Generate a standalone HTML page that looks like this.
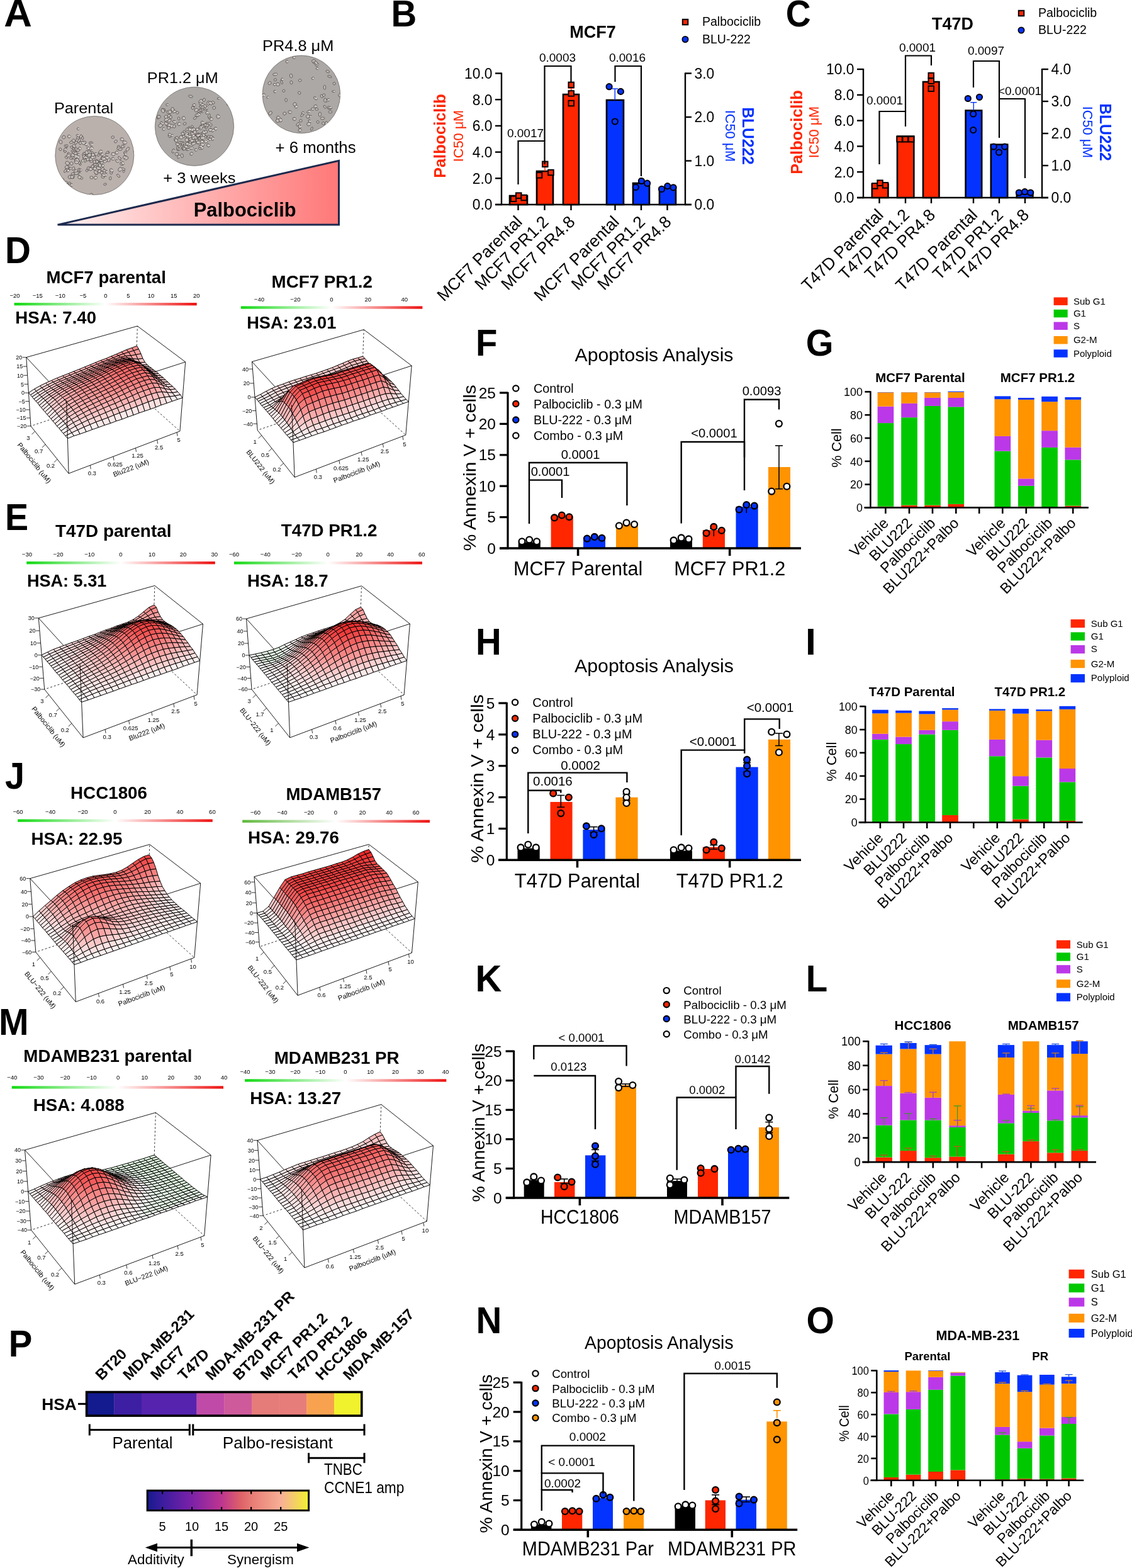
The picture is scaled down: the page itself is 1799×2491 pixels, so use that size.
<!DOCTYPE html>
<html><head><meta charset="utf-8"><title>Figure</title>
<style>html,body{margin:0;padding:0;background:#fff;}svg{display:block;}
text{font-family:"Liberation Sans",Arial,sans-serif;}.q0{fill:#f78c8c}.q1{fill:#f89f9f}.q2{fill:#f79292}.q3{fill:#fab2b2}.q4{fill:#f89898}.q5{fill:#fbc5c5}.q6{fill:#f9abab}.q7{fill:#fccccc}.q8{fill:#fab8b8}.q9{fill:#fcd3d3}.q10{fill:#f9a5a5}.q11{fill:#f68080}.q12{fill:#f57a7a}.q13{fill:#f68686}.q14{fill:#fbbfbf}.q15{fill:#f46e6e}.q16{fill:#f57474}.q17{fill:#f46868}.q18{fill:#f36262}.q19{fill:#fddada}.q20{fill:#fde1e1}.q21{fill:#fef0f0}.q22{fill:#fee9e9}.q23{fill:#fffafa}.q24{fill:#f35c5c}.q25{fill:#f25050}.q26{fill:#f14a4a}.q27{fill:#f25656}.q28{fill:#f14444}.q29{fill:#f03e3e}.q30{fill:#ecf9ec}.q31{fill:#e6f9e6}.q32{fill:#fafafa}.q33{fill:#f03939}.q34{fill:#ef3333}.q35{fill:#ef2d2d}.q36{fill:#ee2828}.q37{fill:#e0f8e0}</style></head>
<body><svg width="1799" height="2491" viewBox="0 0 1799 2491">
<rect width="1799" height="2491" fill="#fff"/>
<defs><linearGradient id="triG" x1="0" y1="0" x2="1" y2="0"><stop offset="0" stop-color="#FFF2F2"/><stop offset="0.5" stop-color="#FFB3B3"/><stop offset="1" stop-color="#FF7878"/></linearGradient><clipPath id="cA1"><circle cx="150.3" cy="247" r="62.5"/></clipPath><clipPath id="cA2"><circle cx="309" cy="200.8" r="62.6"/></clipPath><clipPath id="cA3"><circle cx="478.9" cy="149.9" r="61.8"/></clipPath></defs>
<circle cx="150.3" cy="247" r="62.5" fill="#BAB1AD" stroke="#6e6a68" stroke-width="0.8"/>
<g clip-path="url(#cA1)" fill="#c4bcb8" stroke="#4f4a47" stroke-width="0.75">
<ellipse rx="2.5" ry="2" transform="translate(145.1 249.3)rotate(95)"/>
<circle r="0.9" cx="146.5" cy="249.3" fill="#f4f2f0" stroke="none"/>
<ellipse rx="2.2" ry="2.3" transform="translate(214.7 240.9)rotate(114)"/>
<ellipse rx="3.3" ry="2.3" transform="translate(142.6 242.6)rotate(154)"/>
<circle r="0.9" cx="144.6" cy="242.6" fill="#f4f2f0" stroke="none"/>
<ellipse rx="3.1" ry="2.5" transform="translate(123.7 249.6)rotate(162)"/>
<circle r="0.9" cx="125.6" cy="249.6" fill="#f4f2f0" stroke="none"/>
<ellipse rx="2.4" ry="2.7" transform="translate(158 272)rotate(39)"/>
<ellipse rx="3.4" ry="1.6" transform="translate(117.7 237.2)rotate(43)"/>
<ellipse rx="2.3" ry="1.5" transform="translate(126.1 276.3)rotate(149)"/>
<circle r="0.9" cx="127.5" cy="276.3" fill="#f4f2f0" stroke="none"/>
<ellipse rx="3.2" ry="1.6" transform="translate(127.1 259.7)rotate(72)"/>
<ellipse rx="1.8" ry="1.7" transform="translate(172.3 242.2)rotate(122)"/>
<ellipse rx="3.5" ry="1.6" transform="translate(135.3 254.7)rotate(91)"/>
<ellipse rx="2.7" ry="2.4" transform="translate(114.4 250.3)rotate(34)"/>
<circle r="0.9" cx="116.1" cy="250.3" fill="#f4f2f0" stroke="none"/>
<ellipse rx="2" ry="1.5" transform="translate(196.7 272.1)rotate(99)"/>
<ellipse rx="2.8" ry="1.6" transform="translate(123.7 215.7)rotate(33)"/>
<circle r="0.9" cx="125.4" cy="215.7" fill="#f4f2f0" stroke="none"/>
<ellipse rx="3.3" ry="2.8" transform="translate(111.4 281.1)rotate(166)"/>
<circle r="0.9" cx="113.4" cy="281.1" fill="#f4f2f0" stroke="none"/>
<ellipse rx="1.9" ry="2.7" transform="translate(145.1 256.2)rotate(83)"/>
<ellipse rx="2.4" ry="2.1" transform="translate(188.5 233.3)rotate(92)"/>
<circle r="0.9" cx="189.9" cy="233.3" fill="#f4f2f0" stroke="none"/>
<ellipse rx="2.9" ry="1.4" transform="translate(157 246)rotate(126)"/>
<ellipse rx="2.1" ry="2" transform="translate(142.6 242.7)rotate(133)"/>
<circle r="0.9" cx="143.9" cy="242.7" fill="#f4f2f0" stroke="none"/>
<ellipse rx="2.2" ry="1.6" transform="translate(169 272.7)rotate(92)"/>
<circle r="0.9" cx="170.2" cy="272.7" fill="#f4f2f0" stroke="none"/>
<ellipse rx="3.4" ry="2.5" transform="translate(124.9 223.4)rotate(126)"/>
<ellipse rx="2.9" ry="2" transform="translate(125.1 272.8)rotate(107)"/>
<ellipse rx="3.6" ry="2.5" transform="translate(159.6 258.9)rotate(46)"/>
<ellipse rx="3.1" ry="2.5" transform="translate(188.9 235.7)rotate(146)"/>
<circle r="0.9" cx="190.8" cy="235.7" fill="#f4f2f0" stroke="none"/>
<ellipse rx="3.4" ry="2.6" transform="translate(159.1 259.6)rotate(125)"/>
<ellipse rx="3.2" ry="2" transform="translate(140.2 244)rotate(130)"/>
<circle r="0.9" cx="142.1" cy="244" fill="#f4f2f0" stroke="none"/>
<ellipse rx="2.4" ry="2.1" transform="translate(167.6 278)rotate(1)"/>
<circle r="0.9" cx="169" cy="278" fill="#f4f2f0" stroke="none"/>
<ellipse rx="2.9" ry="2.3" transform="translate(117.8 232)rotate(41)"/>
<ellipse rx="3" ry="1.9" transform="translate(116.4 267.7)rotate(118)"/>
<ellipse rx="2.8" ry="1.9" transform="translate(135.4 248)rotate(179)"/>
<ellipse rx="3.1" ry="2.5" transform="translate(193.7 260.1)rotate(176)"/>
<circle r="0.9" cx="195.5" cy="260.1" fill="#f4f2f0" stroke="none"/>
<ellipse rx="2.9" ry="2.4" transform="translate(161.4 265.8)rotate(46)"/>
<circle r="0.9" cx="163.1" cy="265.8" fill="#f4f2f0" stroke="none"/>
<ellipse rx="1.9" ry="1.7" transform="translate(131 255.5)rotate(67)"/>
<circle r="0.9" cx="132.1" cy="255.5" fill="#f4f2f0" stroke="none"/>
<ellipse rx="2.3" ry="2.7" transform="translate(163.6 280.8)rotate(99)"/>
<ellipse rx="3.5" ry="2.2" transform="translate(133.6 226.3)rotate(179)"/>
<ellipse rx="3.3" ry="1.5" transform="translate(107.1 294.9)rotate(107)"/>
<ellipse rx="1.9" ry="2.7" transform="translate(148.7 262.5)rotate(28)"/>
<circle r="0.9" cx="149.9" cy="262.5" fill="#f4f2f0" stroke="none"/>
<ellipse rx="2.1" ry="2.1" transform="translate(196.7 231.9)rotate(110)"/>
<circle r="0.9" cx="198" cy="231.9" fill="#f4f2f0" stroke="none"/>
<ellipse rx="3.5" ry="2" transform="translate(176.8 273.5)rotate(94)"/>
<ellipse rx="2.5" ry="1.8" transform="translate(124.6 256)rotate(117)"/>
<ellipse rx="2.3" ry="2.4" transform="translate(163 263.2)rotate(53)"/>
<circle r="0.9" cx="164.4" cy="263.2" fill="#f4f2f0" stroke="none"/>
<ellipse rx="2.2" ry="1.5" transform="translate(113.6 233.8)rotate(28)"/>
<ellipse rx="2.5" ry="2.7" transform="translate(126.3 281.6)rotate(134)"/>
<circle r="0.9" cx="127.8" cy="281.6" fill="#f4f2f0" stroke="none"/>
<ellipse rx="3.6" ry="2.7" transform="translate(146.8 266.6)rotate(13)"/>
<ellipse rx="2.6" ry="2.1" transform="translate(179.3 252.4)rotate(175)"/>
<circle r="0.9" cx="180.9" cy="252.4" fill="#f4f2f0" stroke="none"/>
<ellipse rx="2.7" ry="2.7" transform="translate(162.8 251.5)rotate(130)"/>
<circle r="0.9" cx="164.4" cy="251.5" fill="#f4f2f0" stroke="none"/>
<ellipse rx="3.6" ry="2.5" transform="translate(103.7 238.4)rotate(108)"/>
<circle r="0.9" cx="105.8" cy="238.4" fill="#f4f2f0" stroke="none"/>
<ellipse rx="2.9" ry="2" transform="translate(164.2 278.2)rotate(36)"/>
<circle r="0.9" cx="165.9" cy="278.2" fill="#f4f2f0" stroke="none"/>
<ellipse rx="2.8" ry="1.6" transform="translate(131.2 219.1)rotate(79)"/>
<ellipse rx="2.6" ry="1.8" transform="translate(114.5 281)rotate(104)"/>
<circle r="0.9" cx="116.1" cy="281" fill="#f4f2f0" stroke="none"/>
<ellipse rx="3.2" ry="2.1" transform="translate(144.5 227.1)rotate(179)"/>
<ellipse rx="3.1" ry="1.7" transform="translate(196 268.6)rotate(20)"/>
<ellipse rx="3.2" ry="2.3" transform="translate(161.7 244.9)rotate(64)"/>
<circle r="0.9" cx="163.6" cy="244.9" fill="#f4f2f0" stroke="none"/>
<ellipse rx="3" ry="2.2" transform="translate(118.3 250.4)rotate(106)"/>
<ellipse rx="3.2" ry="1.7" transform="translate(188.1 279.2)rotate(44)"/>
<ellipse rx="3.4" ry="2.6" transform="translate(116 246.3)rotate(7)"/>
<circle r="0.9" cx="118.1" cy="246.3" fill="#f4f2f0" stroke="none"/>
<ellipse rx="2.3" ry="2" transform="translate(113.6 293.9)rotate(112)"/>
<circle r="0.9" cx="115" cy="293.9" fill="#f4f2f0" stroke="none"/>
<ellipse rx="2.8" ry="1.5" transform="translate(138.9 247.2)rotate(15)"/>
<ellipse rx="2.8" ry="2.3" transform="translate(195.1 259.1)rotate(67)"/>
<circle r="0.9" cx="196.8" cy="259.1" fill="#f4f2f0" stroke="none"/>
<ellipse rx="2.2" ry="1.9" transform="translate(157.9 257.9)rotate(134)"/>
<ellipse rx="1.9" ry="1.6" transform="translate(103.4 240.5)rotate(145)"/>
<ellipse rx="3.2" ry="1.7" transform="translate(155.2 267)rotate(76)"/>
<circle r="0.9" cx="157.1" cy="267" fill="#f4f2f0" stroke="none"/>
<ellipse rx="3.3" ry="1.9" transform="translate(121 226.2)rotate(117)"/>
<ellipse rx="2.4" ry="2.2" transform="translate(122.9 275)rotate(134)"/>
<ellipse rx="2.6" ry="1.9" transform="translate(142.6 253.5)rotate(17)"/>
<ellipse rx="1.9" ry="1.5" transform="translate(192 253.1)rotate(101)"/>
<circle r="0.9" cx="193.1" cy="253.1" fill="#f4f2f0" stroke="none"/>
<ellipse rx="3" ry="1.8" transform="translate(145.9 252.2)rotate(139)"/>
<circle r="0.9" cx="147.7" cy="252.2" fill="#f4f2f0" stroke="none"/>
<ellipse rx="2.2" ry="2.3" transform="translate(108.2 265.1)rotate(14)"/>
<circle r="0.9" cx="109.5" cy="265.1" fill="#f4f2f0" stroke="none"/>
<ellipse rx="3.1" ry="2.4" transform="translate(177.1 270.7)rotate(50)"/>
<circle r="0.9" cx="179" cy="270.7" fill="#f4f2f0" stroke="none"/>
<ellipse rx="2.4" ry="2.4" transform="translate(109.7 216.7)rotate(65)"/>
<circle r="0.9" cx="111.2" cy="216.7" fill="#f4f2f0" stroke="none"/>
<ellipse rx="3.1" ry="2.2" transform="translate(116.3 276.3)rotate(165)"/>
<ellipse rx="3.4" ry="2" transform="translate(169.3 254.8)rotate(144)"/>
<circle r="0.9" cx="171.4" cy="254.8" fill="#f4f2f0" stroke="none"/>
<ellipse rx="2.4" ry="2" transform="translate(179.2 218)rotate(168)"/>
<ellipse rx="2.2" ry="1.9" transform="translate(166 256.7)rotate(65)"/>
<circle r="0.9" cx="167.3" cy="256.7" fill="#f4f2f0" stroke="none"/>
<ellipse rx="2.5" ry="1.9" transform="translate(105.6 250)rotate(35)"/>
<ellipse rx="3.2" ry="2.2" transform="translate(144.6 309.6)rotate(150)"/>
<ellipse rx="2.1" ry="2.5" transform="translate(126.7 235.9)rotate(158)"/>
<circle r="0.9" cx="127.9" cy="235.9" fill="#f4f2f0" stroke="none"/>
<ellipse rx="1.8" ry="2.1" transform="translate(112.6 251.4)rotate(97)"/>
<ellipse rx="3.5" ry="2.3" transform="translate(144.8 235.7)rotate(144)"/>
<circle r="0.9" cx="146.9" cy="235.7" fill="#f4f2f0" stroke="none"/>
<ellipse rx="2.8" ry="2.5" transform="translate(193.8 221.3)rotate(15)"/>
<circle r="0.9" cx="195.4" cy="221.3" fill="#f4f2f0" stroke="none"/>
<ellipse rx="3.1" ry="2.7" transform="translate(141.3 267.6)rotate(15)"/>
<ellipse rx="2.1" ry="2.4" transform="translate(140.2 235.5)rotate(116)"/>
<circle r="0.9" cx="141.4" cy="235.5" fill="#f4f2f0" stroke="none"/>
<ellipse rx="2.2" ry="2.5" transform="translate(145.4 282)rotate(93)"/>
<ellipse rx="2.5" ry="1.9" transform="translate(123.8 219.3)rotate(174)"/>
<ellipse rx="2.7" ry="2.2" transform="translate(107.1 266.7)rotate(129)"/>
<ellipse rx="3.4" ry="2" transform="translate(133.5 245)rotate(148)"/>
<ellipse rx="3.3" ry="2.5" transform="translate(200.7 251.3)rotate(150)"/>
<ellipse rx="3.5" ry="2.3" transform="translate(172.8 253.7)rotate(94)"/>
<ellipse rx="3.2" ry="2" transform="translate(121.3 237.6)rotate(75)"/>
<circle r="0.9" cx="123.2" cy="237.6" fill="#f4f2f0" stroke="none"/>
<ellipse rx="3.1" ry="2.8" transform="translate(160.3 258.7)rotate(67)"/>
<circle r="0.9" cx="162.2" cy="258.7" fill="#f4f2f0" stroke="none"/>
<ellipse rx="2.2" ry="2" transform="translate(95.9 237.2)rotate(52)"/>
<ellipse rx="1.9" ry="1.8" transform="translate(129.8 283)rotate(20)"/>
<ellipse rx="3.2" ry="1.7" transform="translate(160.3 254.9)rotate(11)"/>
<circle r="0.9" cx="162.2" cy="254.9" fill="#f4f2f0" stroke="none"/>
<ellipse rx="2.9" ry="2.7" transform="translate(179.8 244.9)rotate(6)"/>
<circle r="0.9" cx="181.5" cy="244.9" fill="#f4f2f0" stroke="none"/>
<ellipse rx="2.1" ry="1.7" transform="translate(147 242.8)rotate(42)"/>
<ellipse rx="2.9" ry="1.7" transform="translate(104.7 232.3)rotate(33)"/>
<circle r="0.9" cx="106.4" cy="232.3" fill="#f4f2f0" stroke="none"/>
<ellipse rx="2.1" ry="2.5" transform="translate(161.6 274.2)rotate(56)"/>
<ellipse rx="3.3" ry="2.1" transform="translate(109.7 245)rotate(46)"/>
<ellipse rx="3.4" ry="1.9" transform="translate(116.4 280.3)rotate(98)"/>
<ellipse rx="2.7" ry="1.7" transform="translate(159.1 243.5)rotate(8)"/>
<ellipse rx="3.2" ry="1.9" transform="translate(166.5 252)rotate(94)"/>
<ellipse rx="2.3" ry="2.8" transform="translate(143.7 268.6)rotate(118)"/>
<circle r="0.9" cx="145" cy="268.6" fill="#f4f2f0" stroke="none"/>
<ellipse rx="1.8" ry="2.1" transform="translate(126.3 258.7)rotate(66)"/>
<ellipse rx="3.1" ry="2.2" transform="translate(169.8 250.5)rotate(28)"/>
<circle r="0.9" cx="171.6" cy="250.5" fill="#f4f2f0" stroke="none"/>
<ellipse rx="2.4" ry="1.8" transform="translate(122.4 222.6)rotate(156)"/>
<ellipse rx="2.9" ry="2.8" transform="translate(106.5 269.5)rotate(47)"/>
<ellipse rx="2.1" ry="2.5" transform="translate(154.3 261.6)rotate(0)"/>
<ellipse rx="3.3" ry="2.6" transform="translate(198.2 226.4)rotate(14)"/>
<circle r="0.9" cx="200.2" cy="226.4" fill="#f4f2f0" stroke="none"/>
<ellipse rx="3.1" ry="1.5" transform="translate(144.7 229.4)rotate(86)"/>
<circle r="0.9" cx="146.6" cy="229.4" fill="#f4f2f0" stroke="none"/>
<ellipse rx="3.5" ry="2.2" transform="translate(121.6 254.4)rotate(154)"/>
<circle r="0.9" cx="123.7" cy="254.4" fill="#f4f2f0" stroke="none"/>
<ellipse rx="3.2" ry="2" transform="translate(153.5 275.2)rotate(165)"/>
<circle r="0.9" cx="155.5" cy="275.2" fill="#f4f2f0" stroke="none"/>
<ellipse rx="3.3" ry="1.7" transform="translate(117.2 240.5)rotate(97)"/>
<ellipse rx="2.1" ry="2.6" transform="translate(105.8 265.3)rotate(56)"/>
<circle r="0.9" cx="107" cy="265.3" fill="#f4f2f0" stroke="none"/>
<ellipse rx="1.9" ry="1.8" transform="translate(138 270.9)rotate(84)"/>
<ellipse rx="2.4" ry="2.4" transform="translate(199 242.7)rotate(19)"/>
<circle r="0.9" cx="200.5" cy="242.7" fill="#f4f2f0" stroke="none"/>
<ellipse rx="2.6" ry="2.8" transform="translate(153.4 255.9)rotate(149)"/>
<ellipse rx="1.8" ry="1.9" transform="translate(124.9 245.8)rotate(127)"/>
<circle r="0.9" cx="126" cy="245.8" fill="#f4f2f0" stroke="none"/>
<ellipse rx="2.8" ry="2" transform="translate(158.1 259.3)rotate(1)"/>
<ellipse rx="3.2" ry="1.7" transform="translate(108 247.3)rotate(110)"/>
<circle r="0.9" cx="109.9" cy="247.3" fill="#f4f2f0" stroke="none"/>
<ellipse rx="2.5" ry="2.2" transform="translate(120.2 274.8)rotate(53)"/>
<circle r="0.9" cx="121.7" cy="274.8" fill="#f4f2f0" stroke="none"/>
<ellipse rx="2.5" ry="2.3" transform="translate(143.9 252.9)rotate(46)"/>
<circle r="0.9" cx="145.4" cy="252.9" fill="#f4f2f0" stroke="none"/>
<ellipse rx="3.1" ry="1.9" transform="translate(191.2 237.1)rotate(170)"/>
<ellipse rx="3.1" ry="1.9" transform="translate(153.1 257.2)rotate(148)"/>
<circle r="0.9" cx="154.9" cy="257.2" fill="#f4f2f0" stroke="none"/>
<ellipse rx="2.1" ry="1.5" transform="translate(114.8 239.7)rotate(121)"/>
<ellipse rx="2.1" ry="2" transform="translate(151.1 261.3)rotate(150)"/>
<ellipse rx="2" ry="1.7" transform="translate(124.2 204.7)rotate(28)"/>
<circle r="0.9" cx="125.4" cy="204.7" fill="#f4f2f0" stroke="none"/>
<ellipse rx="2.5" ry="1.5" transform="translate(111.6 267.6)rotate(165)"/>
<circle r="0.9" cx="113.2" cy="267.6" fill="#f4f2f0" stroke="none"/>
<ellipse rx="2.7" ry="2.3" transform="translate(139.5 253.3)rotate(138)"/>
<ellipse rx="2.5" ry="1.9" transform="translate(199.4 244.8)rotate(74)"/>
<circle r="0.9" cx="200.9" cy="244.8" fill="#f4f2f0" stroke="none"/>
<ellipse rx="2.5" ry="2.4" transform="translate(149.5 248.1)rotate(176)"/>
<ellipse rx="3" ry="2.3" transform="translate(121.3 257.7)rotate(3)"/>
<circle r="0.9" cx="123.1" cy="257.7" fill="#f4f2f0" stroke="none"/>
<ellipse rx="2.4" ry="2.3" transform="translate(157.5 260.5)rotate(19)"/>
<circle r="0.9" cx="158.9" cy="260.5" fill="#f4f2f0" stroke="none"/>
<ellipse rx="2.7" ry="2.5" transform="translate(101.4 218)rotate(148)"/>
<ellipse rx="2.1" ry="2.5" transform="translate(99.7 285.8)rotate(162)"/>
<ellipse rx="2.4" ry="2.1" transform="translate(149.9 249.7)rotate(25)"/>
<ellipse rx="3.6" ry="2.1" transform="translate(202.9 237)rotate(128)"/>
<ellipse rx="2.2" ry="2.7" transform="translate(159 263.2)rotate(112)"/>
<circle r="0.9" cx="160.3" cy="263.2" fill="#f4f2f0" stroke="none"/>
<ellipse rx="1.9" ry="1.7" transform="translate(106.3 231.5)rotate(103)"/>
<ellipse rx="2.4" ry="2.7" transform="translate(151.8 282.3)rotate(65)"/>
<circle r="0.9" cx="153.2" cy="282.3" fill="#f4f2f0" stroke="none"/>
<ellipse rx="2" ry="2.8" transform="translate(128.6 216.8)rotate(24)"/>
<ellipse rx="2.8" ry="2.2" transform="translate(125.6 270)rotate(100)"/>
<circle r="0.9" cx="127.3" cy="270" fill="#f4f2f0" stroke="none"/>
<ellipse rx="3.4" ry="2.8" transform="translate(142 246.4)rotate(147)"/>
<ellipse rx="2" ry="2.6" transform="translate(184 224.7)rotate(51)"/>
<ellipse rx="2.2" ry="2.2" transform="translate(140.3 241.5)rotate(149)"/>
<circle r="0.9" cx="141.7" cy="241.5" fill="#f4f2f0" stroke="none"/>
<ellipse rx="2.8" ry="1.5" transform="translate(127.9 270.2)rotate(5)"/>
<circle r="0.9" cx="129.6" cy="270.2" fill="#f4f2f0" stroke="none"/>
<ellipse rx="3.6" ry="2.7" transform="translate(190.7 269.1)rotate(118)"/>
<circle r="0.9" cx="192.8" cy="269.1" fill="#f4f2f0" stroke="none"/>
<ellipse rx="3" ry="2.4" transform="translate(96.5 225.5)rotate(68)"/>
<ellipse rx="3.2" ry="1.4" transform="translate(104.5 295.2)rotate(35)"/>
<circle r="0.9" cx="106.5" cy="295.2" fill="#f4f2f0" stroke="none"/>
<ellipse rx="2.1" ry="1.9" transform="translate(152.2 244.5)rotate(102)"/>
<circle r="0.9" cx="153.4" cy="244.5" fill="#f4f2f0" stroke="none"/>
<ellipse rx="2.7" ry="1.8" transform="translate(197.4 249.7)rotate(102)"/>
<circle r="0.9" cx="199" cy="249.7" fill="#f4f2f0" stroke="none"/>
<ellipse rx="3" ry="1.5" transform="translate(133.7 249)rotate(120)"/>
<circle r="0.9" cx="135.5" cy="249" fill="#f4f2f0" stroke="none"/>
<ellipse rx="3.5" ry="2.2" transform="translate(120.2 248.2)rotate(84)"/>
<circle r="0.9" cx="122.3" cy="248.2" fill="#f4f2f0" stroke="none"/>
<ellipse rx="2.9" ry="2.4" transform="translate(163.1 269)rotate(136)"/>
<ellipse rx="2.7" ry="2.8" transform="translate(116.8 223.6)rotate(150)"/>
<ellipse rx="2.5" ry="2" transform="translate(105 290.2)rotate(101)"/>
<ellipse rx="2.7" ry="2.1" transform="translate(150 256.9)rotate(77)"/>
<ellipse rx="2.4" ry="1.5" transform="translate(170.5 242.2)rotate(130)"/>
<ellipse rx="3.1" ry="2.2" transform="translate(159.7 240.9)rotate(135)"/>
<circle r="0.9" cx="161.6" cy="240.9" fill="#f4f2f0" stroke="none"/>
<ellipse rx="2.9" ry="1.5" transform="translate(134.4 243.9)rotate(22)"/>
<circle r="0.9" cx="136.1" cy="243.9" fill="#f4f2f0" stroke="none"/>
<ellipse rx="2.7" ry="2" transform="translate(165.9 271.2)rotate(9)"/>
<ellipse rx="2.7" ry="1.7" transform="translate(117.1 242.6)rotate(55)"/>
<circle r="0.9" cx="118.8" cy="242.6" fill="#f4f2f0" stroke="none"/>
<ellipse rx="2.2" ry="1.5" transform="translate(110.2 290.7)rotate(164)"/>
<ellipse rx="3" ry="2.6" transform="translate(137.8 242.3)rotate(75)"/>
<ellipse rx="2.2" ry="2.4" transform="translate(195 232.7)rotate(102)"/>
<ellipse rx="2" ry="2.5" transform="translate(147.1 264.3)rotate(22)"/>
<ellipse rx="3.5" ry="1.4" transform="translate(135.6 229.2)rotate(43)"/>
<circle r="0.9" cx="137.7" cy="229.2" fill="#f4f2f0" stroke="none"/>
<ellipse rx="2.4" ry="1.5" transform="translate(167 292.7)rotate(161)"/>
<ellipse rx="2.5" ry="1.9" transform="translate(127.5 227.2)rotate(105)"/>
<circle r="0.9" cx="129" cy="227.2" fill="#f4f2f0" stroke="none"/>
<ellipse rx="1.9" ry="2.7" transform="translate(108.1 270.9)rotate(55)"/>
<circle r="0.9" cx="109.2" cy="270.9" fill="#f4f2f0" stroke="none"/>
<ellipse rx="3.5" ry="2.8" transform="translate(133.9 249.4)rotate(85)"/>
<circle r="0.9" cx="136" cy="249.4" fill="#f4f2f0" stroke="none"/>
<ellipse rx="2.3" ry="2.7" transform="translate(185.4 242.4)rotate(161)"/>
<circle r="0.9" cx="186.8" cy="242.4" fill="#f4f2f0" stroke="none"/>
<ellipse rx="3.3" ry="1.9" transform="translate(163.6 252.2)rotate(85)"/>
<circle r="0.9" cx="165.5" cy="252.2" fill="#f4f2f0" stroke="none"/>
<ellipse rx="3.4" ry="2.8" transform="translate(107.2 259.2)rotate(36)"/>
<ellipse rx="2.1" ry="2.6" transform="translate(150.3 267.9)rotate(9)"/>
<circle r="0.9" cx="151.6" cy="267.9" fill="#f4f2f0" stroke="none"/>
<ellipse rx="3.1" ry="1.8" transform="translate(113.4 226.1)rotate(162)"/>
<ellipse rx="3.1" ry="1.6" transform="translate(103.8 271.4)rotate(125)"/>
<ellipse rx="2.6" ry="1.5" transform="translate(169.3 245.8)rotate(40)"/>
<circle r="0.9" cx="170.9" cy="245.8" fill="#f4f2f0" stroke="none"/>
<ellipse rx="3.1" ry="1.7" transform="translate(186 255.9)rotate(32)"/>
<circle r="0.9" cx="187.8" cy="255.9" fill="#f4f2f0" stroke="none"/>
<ellipse rx="3" ry="2.5" transform="translate(158.9 262.8)rotate(67)"/>
<ellipse rx="3.4" ry="2.2" transform="translate(131.9 227.1)rotate(41)"/>
<circle r="0.9" cx="133.9" cy="227.1" fill="#f4f2f0" stroke="none"/>
<ellipse rx="3.5" ry="2.3" transform="translate(152.5 274)rotate(49)"/>
<ellipse rx="2" ry="2.8" transform="translate(120.1 243.5)rotate(79)"/>
<ellipse rx="2.8" ry="1.5" transform="translate(119.5 271.6)rotate(107)"/>
<circle r="0.9" cx="121.1" cy="271.6" fill="#f4f2f0" stroke="none"/>
<ellipse rx="2.3" ry="2.5" transform="translate(146.6 250)rotate(15)"/>
<circle r="0.9" cx="147.9" cy="250" fill="#f4f2f0" stroke="none"/>
<ellipse rx="3.2" ry="1.7" transform="translate(190 251.2)rotate(50)"/>
<ellipse rx="2.1" ry="2.7" transform="translate(147.4 246)rotate(177)"/>
<circle r="0.9" cx="148.7" cy="246" fill="#f4f2f0" stroke="none"/>
<ellipse rx="2.6" ry="2.5" transform="translate(113.6 259.7)rotate(69)"/>
<ellipse rx="2.7" ry="1.7" transform="translate(175.3 283.2)rotate(100)"/>
<ellipse rx="2.4" ry="2.3" transform="translate(123.9 238.7)rotate(140)"/>
<ellipse rx="2.7" ry="2.6" transform="translate(114.5 281.1)rotate(123)"/>
<ellipse rx="3.5" ry="1.6" transform="translate(135 250.1)rotate(140)"/>
<circle r="0.9" cx="137.1" cy="250.1" fill="#f4f2f0" stroke="none"/>
</g>
<circle cx="309" cy="200.8" r="62.6" fill="#ABA8A6" stroke="#6e6a68" stroke-width="0.8"/>
<g clip-path="url(#cA2)" fill="#c4bcb8" stroke="#4f4a47" stroke-width="0.75">
<ellipse rx="3.6" ry="2.3" transform="translate(313.8 223.7)rotate(30)"/>
<circle r="0.9" cx="315.9" cy="223.7" fill="#f4f2f0" stroke="none"/>
<ellipse rx="2.3" ry="2.6" transform="translate(335.7 189.2)rotate(41)"/>
<circle r="0.9" cx="337.1" cy="189.2" fill="#f4f2f0" stroke="none"/>
<ellipse rx="2.9" ry="2.3" transform="translate(284.5 196.9)rotate(106)"/>
<circle r="0.9" cx="286.2" cy="196.9" fill="#f4f2f0" stroke="none"/>
<ellipse rx="3.5" ry="2" transform="translate(303.7 235.3)rotate(168)"/>
<circle r="0.9" cx="305.8" cy="235.3" fill="#f4f2f0" stroke="none"/>
<ellipse rx="2.6" ry="1.9" transform="translate(320.1 218.9)rotate(128)"/>
<ellipse rx="2.2" ry="2.1" transform="translate(315.2 213.2)rotate(130)"/>
<ellipse rx="3" ry="2.3" transform="translate(328.7 223.4)rotate(128)"/>
<circle r="0.9" cx="330.5" cy="223.4" fill="#f4f2f0" stroke="none"/>
<ellipse rx="2.4" ry="1.4" transform="translate(318.9 169.2)rotate(160)"/>
<ellipse rx="2.5" ry="2.8" transform="translate(291.8 187.7)rotate(162)"/>
<circle r="0.9" cx="293.3" cy="187.7" fill="#f4f2f0" stroke="none"/>
<ellipse rx="3.3" ry="2" transform="translate(297.7 235.3)rotate(56)"/>
<circle r="0.9" cx="299.7" cy="235.3" fill="#f4f2f0" stroke="none"/>
<ellipse rx="2.5" ry="1.5" transform="translate(331.8 216.6)rotate(9)"/>
<circle r="0.9" cx="333.3" cy="216.6" fill="#f4f2f0" stroke="none"/>
<ellipse rx="2.4" ry="1.6" transform="translate(309.5 210.5)rotate(21)"/>
<ellipse rx="2.5" ry="2.1" transform="translate(305.6 211.3)rotate(108)"/>
<ellipse rx="2.1" ry="1.7" transform="translate(332.9 186.7)rotate(154)"/>
<ellipse rx="3.5" ry="2.1" transform="translate(257.1 196.3)rotate(66)"/>
<circle r="0.9" cx="259.2" cy="196.3" fill="#f4f2f0" stroke="none"/>
<ellipse rx="3.4" ry="2.5" transform="translate(279.2 221.1)rotate(99)"/>
<ellipse rx="2.3" ry="2.1" transform="translate(323.7 211.4)rotate(163)"/>
<circle r="0.9" cx="325.1" cy="211.4" fill="#f4f2f0" stroke="none"/>
<ellipse rx="2.9" ry="1.7" transform="translate(310 187.4)rotate(150)"/>
<ellipse rx="3" ry="2" transform="translate(322.3 212.3)rotate(3)"/>
<circle r="0.9" cx="324.1" cy="212.3" fill="#f4f2f0" stroke="none"/>
<ellipse rx="2.4" ry="2" transform="translate(317.3 177.4)rotate(13)"/>
<ellipse rx="2.7" ry="2.2" transform="translate(260.3 175)rotate(151)"/>
<ellipse rx="2.8" ry="2.2" transform="translate(295.1 233.1)rotate(152)"/>
<circle r="0.9" cx="296.8" cy="233.1" fill="#f4f2f0" stroke="none"/>
<ellipse rx="3.4" ry="1.4" transform="translate(317.4 219.3)rotate(143)"/>
<ellipse rx="2.9" ry="2.8" transform="translate(318.7 203.3)rotate(39)"/>
<circle r="0.9" cx="320.5" cy="203.3" fill="#f4f2f0" stroke="none"/>
<ellipse rx="3.2" ry="2.4" transform="translate(326.3 218.1)rotate(94)"/>
<ellipse rx="3" ry="2.6" transform="translate(311.9 174.9)rotate(117)"/>
<circle r="0.9" cx="313.7" cy="174.9" fill="#f4f2f0" stroke="none"/>
<ellipse rx="2.3" ry="1.5" transform="translate(268.1 200.9)rotate(22)"/>
<circle r="0.9" cx="269.5" cy="200.9" fill="#f4f2f0" stroke="none"/>
<ellipse rx="3.6" ry="1.6" transform="translate(275.2 239.8)rotate(108)"/>
<circle r="0.9" cx="277.4" cy="239.8" fill="#f4f2f0" stroke="none"/>
<ellipse rx="3.5" ry="2.1" transform="translate(336.5 217.8)rotate(31)"/>
<ellipse rx="3.3" ry="2.8" transform="translate(321.3 229.7)rotate(40)"/>
<circle r="0.9" cx="323.3" cy="229.7" fill="#f4f2f0" stroke="none"/>
<ellipse rx="3" ry="1.8" transform="translate(315.1 216.6)rotate(102)"/>
<ellipse rx="3.2" ry="2.6" transform="translate(315.1 182.1)rotate(135)"/>
<circle r="0.9" cx="317" cy="182.1" fill="#f4f2f0" stroke="none"/>
<ellipse rx="3.2" ry="2" transform="translate(277.3 193.6)rotate(30)"/>
<circle r="0.9" cx="279.2" cy="193.6" fill="#f4f2f0" stroke="none"/>
<ellipse rx="2.9" ry="1.9" transform="translate(291.4 236.4)rotate(16)"/>
<circle r="0.9" cx="293.2" cy="236.4" fill="#f4f2f0" stroke="none"/>
<ellipse rx="2.5" ry="1.9" transform="translate(299.1 213.7)rotate(101)"/>
<ellipse rx="2.8" ry="2.8" transform="translate(287.7 218.1)rotate(162)"/>
<circle r="0.9" cx="289.4" cy="218.1" fill="#f4f2f0" stroke="none"/>
<ellipse rx="3.4" ry="1.8" transform="translate(318.7 235.6)rotate(168)"/>
<circle r="0.9" cx="320.8" cy="235.6" fill="#f4f2f0" stroke="none"/>
<ellipse rx="2.4" ry="2.7" transform="translate(319.1 174.7)rotate(119)"/>
<ellipse rx="2.2" ry="1.6" transform="translate(265.9 166.4)rotate(172)"/>
<circle r="0.9" cx="267.2" cy="166.4" fill="#f4f2f0" stroke="none"/>
<ellipse rx="2.1" ry="2" transform="translate(297.6 228.4)rotate(147)"/>
<ellipse rx="3.6" ry="2.5" transform="translate(327 200)rotate(78)"/>
<ellipse rx="2.4" ry="1.5" transform="translate(314.2 216.3)rotate(172)"/>
<ellipse rx="3" ry="2.1" transform="translate(321.1 218.3)rotate(36)"/>
<circle r="0.9" cx="322.9" cy="218.3" fill="#f4f2f0" stroke="none"/>
<ellipse rx="1.9" ry="1.5" transform="translate(361.8 165.6)rotate(86)"/>
<ellipse rx="3.5" ry="2.1" transform="translate(263.8 189.8)rotate(121)"/>
<circle r="0.9" cx="265.9" cy="189.8" fill="#f4f2f0" stroke="none"/>
<ellipse rx="3.2" ry="2.4" transform="translate(281 244.8)rotate(177)"/>
<ellipse rx="3" ry="2.2" transform="translate(333.2 196.5)rotate(30)"/>
<circle r="0.9" cx="335" cy="196.5" fill="#f4f2f0" stroke="none"/>
<ellipse rx="2.6" ry="1.6" transform="translate(315.8 227.9)rotate(36)"/>
<circle r="0.9" cx="317.3" cy="227.9" fill="#f4f2f0" stroke="none"/>
<ellipse rx="2.1" ry="2.3" transform="translate(292 216.7)rotate(59)"/>
<ellipse rx="3" ry="2.1" transform="translate(321.5 195.2)rotate(78)"/>
<circle r="0.9" cx="323.4" cy="195.2" fill="#f4f2f0" stroke="none"/>
<ellipse rx="2.2" ry="2.7" transform="translate(271.1 185.9)rotate(164)"/>
<ellipse rx="3" ry="1.6" transform="translate(283.6 248.9)rotate(97)"/>
<circle r="0.9" cx="285.4" cy="248.9" fill="#f4f2f0" stroke="none"/>
<ellipse rx="2.4" ry="2.2" transform="translate(321.2 234.8)rotate(30)"/>
<circle r="0.9" cx="322.6" cy="234.8" fill="#f4f2f0" stroke="none"/>
<ellipse rx="3.1" ry="2.1" transform="translate(297.8 213.4)rotate(160)"/>
<circle r="0.9" cx="299.6" cy="213.4" fill="#f4f2f0" stroke="none"/>
<ellipse rx="2" ry="2.7" transform="translate(304.7 207.5)rotate(109)"/>
<ellipse rx="2.8" ry="1.6" transform="translate(321.8 177.4)rotate(175)"/>
<circle r="0.9" cx="323.5" cy="177.4" fill="#f4f2f0" stroke="none"/>
<ellipse rx="3.4" ry="1.6" transform="translate(259.5 174.9)rotate(49)"/>
<ellipse rx="2.2" ry="2.6" transform="translate(304.2 244.3)rotate(46)"/>
<circle r="0.9" cx="305.6" cy="244.3" fill="#f4f2f0" stroke="none"/>
<ellipse rx="2.1" ry="1.8" transform="translate(318.8 213.5)rotate(170)"/>
<ellipse rx="3" ry="2" transform="translate(286.9 226.7)rotate(7)"/>
<ellipse rx="2" ry="1.7" transform="translate(292.9 209.1)rotate(78)"/>
<ellipse rx="2.1" ry="1.5" transform="translate(347.4 156.4)rotate(163)"/>
<circle r="0.9" cx="348.7" cy="156.4" fill="#f4f2f0" stroke="none"/>
<ellipse rx="3.1" ry="1.6" transform="translate(266.9 178.8)rotate(53)"/>
<circle r="0.9" cx="268.7" cy="178.8" fill="#f4f2f0" stroke="none"/>
<ellipse rx="2.6" ry="2.7" transform="translate(269.8 215.9)rotate(151)"/>
<ellipse rx="2" ry="1.6" transform="translate(329.1 196.1)rotate(53)"/>
<ellipse rx="3.4" ry="1.4" transform="translate(308.2 223.3)rotate(60)"/>
<ellipse rx="2.1" ry="1.5" transform="translate(305.6 201)rotate(47)"/>
<ellipse rx="2.3" ry="2.4" transform="translate(340.2 171.3)rotate(21)"/>
<ellipse rx="2.1" ry="2.2" transform="translate(281.8 179)rotate(133)"/>
<ellipse rx="2.6" ry="2.8" transform="translate(307.9 214)rotate(73)"/>
<ellipse rx="3.4" ry="2.8" transform="translate(307.4 205.6)rotate(19)"/>
<circle r="0.9" cx="309.4" cy="205.6" fill="#f4f2f0" stroke="none"/>
<ellipse rx="3.1" ry="2.6" transform="translate(310.6 218.3)rotate(46)"/>
<ellipse rx="2.7" ry="1.4" transform="translate(301.2 221.9)rotate(15)"/>
<circle r="0.9" cx="302.8" cy="221.9" fill="#f4f2f0" stroke="none"/>
<ellipse rx="2.2" ry="2.7" transform="translate(338.5 162.9)rotate(122)"/>
<ellipse rx="3.4" ry="1.9" transform="translate(251.8 186)rotate(125)"/>
<ellipse rx="3" ry="1.5" transform="translate(298.5 237.3)rotate(159)"/>
<circle r="0.9" cx="300.3" cy="237.3" fill="#f4f2f0" stroke="none"/>
<ellipse rx="2.6" ry="2.4" transform="translate(322.5 199.5)rotate(134)"/>
<ellipse rx="2.4" ry="1.8" transform="translate(314.4 225.8)rotate(130)"/>
<circle r="0.9" cx="315.8" cy="225.8" fill="#f4f2f0" stroke="none"/>
<ellipse rx="3.4" ry="1.8" transform="translate(299.6 229.1)rotate(70)"/>
<circle r="0.9" cx="301.6" cy="229.1" fill="#f4f2f0" stroke="none"/>
<ellipse rx="3.1" ry="1.6" transform="translate(326.5 173.1)rotate(24)"/>
<circle r="0.9" cx="328.3" cy="173.1" fill="#f4f2f0" stroke="none"/>
<ellipse rx="2" ry="2.3" transform="translate(259.9 205)rotate(178)"/>
<circle r="0.9" cx="261.1" cy="205" fill="#f4f2f0" stroke="none"/>
<ellipse rx="2.6" ry="1.9" transform="translate(290.1 212.4)rotate(55)"/>
<circle r="0.9" cx="291.7" cy="212.4" fill="#f4f2f0" stroke="none"/>
<ellipse rx="2" ry="2" transform="translate(335 205.6)rotate(47)"/>
<circle r="0.9" cx="336.2" cy="205.6" fill="#f4f2f0" stroke="none"/>
<ellipse rx="2" ry="2.7" transform="translate(326.2 217.2)rotate(129)"/>
<ellipse rx="3.3" ry="2.4" transform="translate(300.5 216.9)rotate(40)"/>
<circle r="0.9" cx="302.5" cy="216.9" fill="#f4f2f0" stroke="none"/>
<ellipse rx="3.6" ry="2.4" transform="translate(318.8 161)rotate(130)"/>
<circle r="0.9" cx="320.9" cy="161" fill="#f4f2f0" stroke="none"/>
<ellipse rx="3.2" ry="2.1" transform="translate(266.8 199.3)rotate(15)"/>
<circle r="0.9" cx="268.8" cy="199.3" fill="#f4f2f0" stroke="none"/>
<ellipse rx="3.5" ry="2.3" transform="translate(290.4 227.5)rotate(16)"/>
<circle r="0.9" cx="292.6" cy="227.5" fill="#f4f2f0" stroke="none"/>
<ellipse rx="3.2" ry="1.9" transform="translate(320.2 216.3)rotate(86)"/>
<circle r="0.9" cx="322.1" cy="216.3" fill="#f4f2f0" stroke="none"/>
<ellipse rx="2.1" ry="2.1" transform="translate(317.5 225.7)rotate(76)"/>
<circle r="0.9" cx="318.8" cy="225.7" fill="#f4f2f0" stroke="none"/>
<ellipse rx="2.1" ry="2" transform="translate(311.2 238)rotate(20)"/>
<circle r="0.9" cx="312.4" cy="238" fill="#f4f2f0" stroke="none"/>
<ellipse rx="2.7" ry="1.5" transform="translate(307.1 169.4)rotate(132)"/>
<ellipse rx="3.1" ry="2.7" transform="translate(272.4 200)rotate(29)"/>
<circle r="0.9" cx="274.2" cy="200" fill="#f4f2f0" stroke="none"/>
<ellipse rx="2.5" ry="1.5" transform="translate(273.1 215.3)rotate(154)"/>
<circle r="0.9" cx="274.7" cy="215.3" fill="#f4f2f0" stroke="none"/>
<ellipse rx="3.6" ry="2.3" transform="translate(325.7 221.5)rotate(177)"/>
<circle r="0.9" cx="327.9" cy="221.5" fill="#f4f2f0" stroke="none"/>
<ellipse rx="3.4" ry="2.7" transform="translate(326.4 199.1)rotate(140)"/>
<ellipse rx="3" ry="2.1" transform="translate(308.6 227.7)rotate(153)"/>
<ellipse rx="2.8" ry="2" transform="translate(324.3 158.8)rotate(113)"/>
<ellipse rx="3.5" ry="2.5" transform="translate(258.9 175.9)rotate(59)"/>
<ellipse rx="2.2" ry="2.1" transform="translate(302.5 225.7)rotate(94)"/>
<ellipse rx="1.9" ry="1.6" transform="translate(321.5 200.7)rotate(32)"/>
<ellipse rx="2.1" ry="2.2" transform="translate(313.1 205.6)rotate(158)"/>
<circle r="0.9" cx="314.3" cy="205.6" fill="#f4f2f0" stroke="none"/>
<ellipse rx="2.2" ry="2.2" transform="translate(296.7 214.6)rotate(74)"/>
<circle r="0.9" cx="298" cy="214.6" fill="#f4f2f0" stroke="none"/>
<ellipse rx="2.1" ry="2.4" transform="translate(321.6 174.9)rotate(62)"/>
<ellipse rx="2.7" ry="2.4" transform="translate(268.2 203)rotate(166)"/>
<ellipse rx="1.8" ry="2.7" transform="translate(289.2 231.3)rotate(18)"/>
<ellipse rx="3.2" ry="1.8" transform="translate(328.6 201.5)rotate(128)"/>
<ellipse rx="2.6" ry="2.3" transform="translate(327.3 209.3)rotate(82)"/>
<ellipse rx="3.1" ry="1.4" transform="translate(290.2 228.5)rotate(115)"/>
<ellipse rx="3.4" ry="2.2" transform="translate(331.1 163.8)rotate(97)"/>
<circle r="0.9" cx="333.1" cy="163.8" fill="#f4f2f0" stroke="none"/>
<ellipse rx="2.2" ry="2.7" transform="translate(276.8 200.7)rotate(11)"/>
<ellipse rx="2" ry="1.9" transform="translate(297.2 215.8)rotate(112)"/>
<circle r="0.9" cx="298.4" cy="215.8" fill="#f4f2f0" stroke="none"/>
<ellipse rx="2.6" ry="2.5" transform="translate(328.1 199)rotate(69)"/>
<circle r="0.9" cx="329.6" cy="199" fill="#f4f2f0" stroke="none"/>
<ellipse rx="1.9" ry="2.7" transform="translate(308 209.3)rotate(18)"/>
<ellipse rx="2.9" ry="1.8" transform="translate(298.1 220.3)rotate(100)"/>
<ellipse rx="2.2" ry="1.7" transform="translate(315.5 176.6)rotate(166)"/>
<circle r="0.9" cx="316.8" cy="176.6" fill="#f4f2f0" stroke="none"/>
<ellipse rx="2.7" ry="2" transform="translate(268.4 183.7)rotate(140)"/>
<ellipse rx="3.2" ry="2.3" transform="translate(291.5 235.8)rotate(97)"/>
<circle r="0.9" cx="293.4" cy="235.8" fill="#f4f2f0" stroke="none"/>
<ellipse rx="2.8" ry="2" transform="translate(338.4 207.3)rotate(136)"/>
<circle r="0.9" cx="340.1" cy="207.3" fill="#f4f2f0" stroke="none"/>
<ellipse rx="2" ry="1.9" transform="translate(333.2 221.5)rotate(149)"/>
<circle r="0.9" cx="334.4" cy="221.5" fill="#f4f2f0" stroke="none"/>
<ellipse rx="3" ry="1.5" transform="translate(320.6 200.5)rotate(39)"/>
<circle r="0.9" cx="322.4" cy="200.5" fill="#f4f2f0" stroke="none"/>
<ellipse rx="2.7" ry="1.6" transform="translate(312.6 182.9)rotate(170)"/>
<circle r="0.9" cx="314.2" cy="182.9" fill="#f4f2f0" stroke="none"/>
<ellipse rx="1.8" ry="1.7" transform="translate(264.2 195.3)rotate(90)"/>
<ellipse rx="3.3" ry="1.5" transform="translate(302.5 212.9)rotate(174)"/>
<ellipse rx="2.7" ry="2.3" transform="translate(331 231)rotate(55)"/>
<circle r="0.9" cx="332.6" cy="231" fill="#f4f2f0" stroke="none"/>
<ellipse rx="1.8" ry="2.7" transform="translate(323.1 216.3)rotate(160)"/>
<circle r="0.9" cx="324.2" cy="216.3" fill="#f4f2f0" stroke="none"/>
<ellipse rx="2.9" ry="2.1" transform="translate(313.3 215.1)rotate(123)"/>
<circle r="0.9" cx="315" cy="215.1" fill="#f4f2f0" stroke="none"/>
<ellipse rx="3.2" ry="1.6" transform="translate(332.3 183.9)rotate(106)"/>
<ellipse rx="3.3" ry="2.3" transform="translate(264.1 196.4)rotate(32)"/>
<ellipse rx="2.5" ry="2.2" transform="translate(292.9 236.4)rotate(144)"/>
<ellipse rx="2" ry="2" transform="translate(335.1 198.6)rotate(56)"/>
<ellipse rx="2.5" ry="2.7" transform="translate(327 224.6)rotate(142)"/>
<circle r="0.9" cx="328.6" cy="224.6" fill="#f4f2f0" stroke="none"/>
<ellipse rx="3.2" ry="2.4" transform="translate(295.5 212)rotate(21)"/>
<circle r="0.9" cx="297.4" cy="212" fill="#f4f2f0" stroke="none"/>
<ellipse rx="2" ry="2.6" transform="translate(308.4 166.8)rotate(71)"/>
<circle r="0.9" cx="309.6" cy="166.8" fill="#f4f2f0" stroke="none"/>
<ellipse rx="3.1" ry="2.8" transform="translate(270.1 177.8)rotate(25)"/>
<ellipse rx="2.2" ry="2.5" transform="translate(281.3 219)rotate(134)"/>
<ellipse rx="2.8" ry="1.6" transform="translate(318.7 201.8)rotate(153)"/>
<circle r="0.9" cx="320.4" cy="201.8" fill="#f4f2f0" stroke="none"/>
<ellipse rx="2.8" ry="2.7" transform="translate(303.1 221.5)rotate(48)"/>
<circle r="0.9" cx="304.8" cy="221.5" fill="#f4f2f0" stroke="none"/>
<ellipse rx="3" ry="2.3" transform="translate(304.9 206.2)rotate(58)"/>
<circle r="0.9" cx="306.7" cy="206.2" fill="#f4f2f0" stroke="none"/>
<ellipse rx="3.4" ry="2.4" transform="translate(334.6 163.8)rotate(31)"/>
<ellipse rx="3.3" ry="2.2" transform="translate(276.2 177)rotate(161)"/>
<circle r="0.9" cx="278.2" cy="177" fill="#f4f2f0" stroke="none"/>
<ellipse rx="2.3" ry="2.6" transform="translate(304.7 223.6)rotate(46)"/>
<circle r="0.9" cx="306.1" cy="223.6" fill="#f4f2f0" stroke="none"/>
<ellipse rx="2.1" ry="2.6" transform="translate(316 214.5)rotate(148)"/>
<circle r="0.9" cx="317.2" cy="214.5" fill="#f4f2f0" stroke="none"/>
<ellipse rx="3.1" ry="1.7" transform="translate(300.2 203.8)rotate(111)"/>
<circle r="0.9" cx="302.1" cy="203.8" fill="#f4f2f0" stroke="none"/>
<ellipse rx="2.8" ry="2.5" transform="translate(309.7 209.9)rotate(90)"/>
<ellipse rx="2" ry="2" transform="translate(328.3 171.4)rotate(141)"/>
<circle r="0.9" cx="329.5" cy="171.4" fill="#f4f2f0" stroke="none"/>
<ellipse rx="3.1" ry="2.2" transform="translate(269.3 191.7)rotate(145)"/>
<ellipse rx="2.3" ry="2.5" transform="translate(297.2 228.4)rotate(147)"/>
<circle r="0.9" cx="298.7" cy="228.4" fill="#f4f2f0" stroke="none"/>
<ellipse rx="3.1" ry="2" transform="translate(338 220.3)rotate(103)"/>
<circle r="0.9" cx="339.8" cy="220.3" fill="#f4f2f0" stroke="none"/>
<ellipse rx="2.6" ry="1.8" transform="translate(293.5 196.6)rotate(160)"/>
<ellipse rx="2.9" ry="2.1" transform="translate(323.9 210.3)rotate(83)"/>
<circle r="0.9" cx="325.6" cy="210.3" fill="#f4f2f0" stroke="none"/>
<ellipse rx="3" ry="2" transform="translate(326 168.7)rotate(61)"/>
<ellipse rx="2" ry="2.3" transform="translate(269.5 213.9)rotate(140)"/>
<circle r="0.9" cx="270.7" cy="213.9" fill="#f4f2f0" stroke="none"/>
<ellipse rx="2.1" ry="2.8" transform="translate(282 229.1)rotate(111)"/>
<circle r="0.9" cx="283.3" cy="229.1" fill="#f4f2f0" stroke="none"/>
<ellipse rx="2" ry="2.2" transform="translate(326.2 198.5)rotate(39)"/>
<ellipse rx="3.1" ry="1.8" transform="translate(305.2 212.5)rotate(73)"/>
<circle r="0.9" cx="307" cy="212.5" fill="#f4f2f0" stroke="none"/>
<ellipse rx="2.2" ry="2.2" transform="translate(307 219.1)rotate(158)"/>
<circle r="0.9" cx="308.3" cy="219.1" fill="#f4f2f0" stroke="none"/>
<ellipse rx="3.5" ry="1.8" transform="translate(303 153.1)rotate(18)"/>
<ellipse rx="2.5" ry="1.8" transform="translate(284.2 188.3)rotate(79)"/>
<ellipse rx="2.2" ry="1.5" transform="translate(298.4 223.9)rotate(107)"/>
<ellipse rx="2.8" ry="1.6" transform="translate(318.5 232.7)rotate(154)"/>
<circle r="0.9" cx="320.2" cy="232.7" fill="#f4f2f0" stroke="none"/>
<ellipse rx="2.8" ry="2.6" transform="translate(301.3 205.6)rotate(24)"/>
<circle r="0.9" cx="303" cy="205.6" fill="#f4f2f0" stroke="none"/>
<ellipse rx="2.6" ry="2.3" transform="translate(314.4 215.2)rotate(40)"/>
<circle r="0.9" cx="316" cy="215.2" fill="#f4f2f0" stroke="none"/>
<ellipse rx="2.2" ry="2.2" transform="translate(306.4 171.4)rotate(54)"/>
<ellipse rx="3.4" ry="2.4" transform="translate(274.3 173.9)rotate(73)"/>
<ellipse rx="2.8" ry="2.5" transform="translate(283.6 236.8)rotate(171)"/>
<circle r="0.9" cx="285.3" cy="236.8" fill="#f4f2f0" stroke="none"/>
<ellipse rx="3.2" ry="2.7" transform="translate(346.6 185.2)rotate(72)"/>
<circle r="0.9" cx="348.5" cy="185.2" fill="#f4f2f0" stroke="none"/>
<ellipse rx="1.9" ry="2.7" transform="translate(307.1 215.6)rotate(37)"/>
<circle r="0.9" cx="308.2" cy="215.6" fill="#f4f2f0" stroke="none"/>
<ellipse rx="2" ry="2.1" transform="translate(297.4 205.3)rotate(122)"/>
<ellipse rx="3" ry="1.5" transform="translate(318.6 175.4)rotate(167)"/>
<ellipse rx="3.3" ry="2.7" transform="translate(255.1 199.5)rotate(150)"/>
<ellipse rx="3.2" ry="1.4" transform="translate(298.5 237.5)rotate(178)"/>
<circle r="0.9" cx="300.4" cy="237.5" fill="#f4f2f0" stroke="none"/>
<ellipse rx="2.6" ry="2.2" transform="translate(342.5 204.5)rotate(91)"/>
<circle r="0.9" cx="344.1" cy="204.5" fill="#f4f2f0" stroke="none"/>
<ellipse rx="2.7" ry="1.8" transform="translate(314 226)rotate(119)"/>
<circle r="0.9" cx="315.6" cy="226" fill="#f4f2f0" stroke="none"/>
<ellipse rx="2.4" ry="2.3" transform="translate(320.7 225)rotate(82)"/>
<circle r="0.9" cx="322.1" cy="225" fill="#f4f2f0" stroke="none"/>
<ellipse rx="2.6" ry="2.7" transform="translate(319.2 164.6)rotate(94)"/>
<ellipse rx="2.5" ry="2.8" transform="translate(252.5 185.6)rotate(94)"/>
<ellipse rx="2.9" ry="2.5" transform="translate(280 223.2)rotate(70)"/>
<ellipse rx="3.6" ry="2.7" transform="translate(322 219)rotate(163)"/>
<circle r="0.9" cx="324.2" cy="219" fill="#f4f2f0" stroke="none"/>
<ellipse rx="2.4" ry="2.6" transform="translate(323.6 214.8)rotate(148)"/>
<ellipse rx="2.8" ry="1.4" transform="translate(295 214.4)rotate(100)"/>
<circle r="0.9" cx="296.6" cy="214.4" fill="#f4f2f0" stroke="none"/>
<ellipse rx="2.7" ry="1.7" transform="translate(328.6 179)rotate(109)"/>
<circle r="0.9" cx="330.2" cy="179" fill="#f4f2f0" stroke="none"/>
<ellipse rx="2.4" ry="2.5" transform="translate(268.8 198.8)rotate(104)"/>
<circle r="0.9" cx="270.2" cy="198.8" fill="#f4f2f0" stroke="none"/>
<ellipse rx="3.6" ry="1.4" transform="translate(282.6 235.3)rotate(74)"/>
<ellipse rx="2.8" ry="2.3" transform="translate(334 206.3)rotate(162)"/>
<circle r="0.9" cx="335.7" cy="206.3" fill="#f4f2f0" stroke="none"/>
<ellipse rx="2.7" ry="1.8" transform="translate(306.4 228.5)rotate(107)"/>
<circle r="0.9" cx="308" cy="228.5" fill="#f4f2f0" stroke="none"/>
<ellipse rx="2.9" ry="2.5" transform="translate(296.5 222.3)rotate(90)"/>
<circle r="0.9" cx="298.3" cy="222.3" fill="#f4f2f0" stroke="none"/>
<ellipse rx="2.8" ry="1.6" transform="translate(321.1 166.1)rotate(164)"/>
<circle r="0.9" cx="322.8" cy="166.1" fill="#f4f2f0" stroke="none"/>
<ellipse rx="2.7" ry="2.6" transform="translate(263.8 185.5)rotate(150)"/>
<ellipse rx="3.1" ry="2.1" transform="translate(289.2 247.4)rotate(77)"/>
</g>
<circle cx="478.9" cy="149.9" r="61.8" fill="#ABA8A6" stroke="#6e6a68" stroke-width="0.8"/>
<g clip-path="url(#cA3)" fill="#c4bcb8" stroke="#4f4a47" stroke-width="0.75">
<ellipse rx="3.2" ry="1.7" transform="translate(476 201)rotate(86)"/>
<ellipse rx="2.4" ry="1.8" transform="translate(456 97.8)rotate(78)"/>
<circle r="0.9" cx="457.4" cy="97.8" fill="#f4f2f0" stroke="none"/>
<ellipse rx="3.4" ry="1.6" transform="translate(490.6 177.2)rotate(148)"/>
<circle r="0.9" cx="492.6" cy="177.2" fill="#f4f2f0" stroke="none"/>
<ellipse rx="2.3" ry="1.9" transform="translate(496.6 173.3)rotate(6)"/>
<circle r="0.9" cx="498" cy="173.3" fill="#f4f2f0" stroke="none"/>
<ellipse rx="2.4" ry="2" transform="translate(476.7 127.7)rotate(157)"/>
<ellipse rx="1.9" ry="2.1" transform="translate(450.9 144.3)rotate(23)"/>
<ellipse rx="2.4" ry="2.7" transform="translate(467.7 188.9)rotate(98)"/>
<circle r="0.9" cx="469.1" cy="188.9" fill="#f4f2f0" stroke="none"/>
<ellipse rx="1.8" ry="1.7" transform="translate(504.1 108.8)rotate(156)"/>
<circle r="0.9" cx="505.2" cy="108.8" fill="#f4f2f0" stroke="none"/>
<ellipse rx="2.7" ry="1.9" transform="translate(511.2 152.8)rotate(62)"/>
<ellipse rx="2.2" ry="2.4" transform="translate(513.8 195.9)rotate(119)"/>
<ellipse rx="2.7" ry="2.7" transform="translate(499.2 98.3)rotate(79)"/>
<ellipse rx="2.9" ry="2.6" transform="translate(503.5 102.6)rotate(161)"/>
<circle r="0.9" cx="505.3" cy="102.6" fill="#f4f2f0" stroke="none"/>
<ellipse rx="2" ry="2.1" transform="translate(531.2 132.7)rotate(146)"/>
<ellipse rx="2.3" ry="2.7" transform="translate(476.5 206.8)rotate(53)"/>
<circle r="0.9" cx="477.9" cy="206.8" fill="#f4f2f0" stroke="none"/>
<ellipse rx="1.9" ry="1.4" transform="translate(425.4 154.4)rotate(130)"/>
<circle r="0.9" cx="426.5" cy="154.4" fill="#f4f2f0" stroke="none"/>
<ellipse rx="3.1" ry="2.6" transform="translate(441.6 134)rotate(179)"/>
<ellipse rx="2.6" ry="2.3" transform="translate(452.3 180.4)rotate(149)"/>
<ellipse rx="2.3" ry="2.5" transform="translate(470.6 169.4)rotate(19)"/>
<circle r="0.9" cx="472" cy="169.4" fill="#f4f2f0" stroke="none"/>
<ellipse rx="3.6" ry="2.1" transform="translate(502.3 99.9)rotate(48)"/>
<ellipse rx="2.6" ry="1.4" transform="translate(530.1 145.3)rotate(5)"/>
<circle r="0.9" cx="531.6" cy="145.3" fill="#f4f2f0" stroke="none"/>
<ellipse rx="2.4" ry="2.7" transform="translate(428.5 132)rotate(44)"/>
<ellipse rx="3.3" ry="2" transform="translate(512.6 188)rotate(178)"/>
<ellipse rx="2.7" ry="1.8" transform="translate(454.6 158.9)rotate(82)"/>
<ellipse rx="2.8" ry="1.7" transform="translate(492 192.6)rotate(67)"/>
<circle r="0.9" cx="493.7" cy="192.6" fill="#f4f2f0" stroke="none"/>
<ellipse rx="2.1" ry="2.2" transform="translate(478 191.8)rotate(6)"/>
<ellipse rx="2.1" ry="1.5" transform="translate(448.3 126)rotate(105)"/>
<circle r="0.9" cx="449.5" cy="126" fill="#f4f2f0" stroke="none"/>
<ellipse rx="3.4" ry="2.1" transform="translate(508.4 181.6)rotate(93)"/>
<ellipse rx="2.2" ry="2.4" transform="translate(481.6 179.8)rotate(116)"/>
<circle r="0.9" cx="483" cy="179.8" fill="#f4f2f0" stroke="none"/>
<ellipse rx="3.5" ry="1.4" transform="translate(491.7 185.1)rotate(155)"/>
<circle r="0.9" cx="493.8" cy="185.1" fill="#f4f2f0" stroke="none"/>
<ellipse rx="3.3" ry="1.6" transform="translate(523.6 172.1)rotate(9)"/>
<ellipse rx="3.5" ry="1.8" transform="translate(515.9 138.8)rotate(87)"/>
<ellipse rx="2.2" ry="2.1" transform="translate(467.3 91.3)rotate(1)"/>
<circle r="0.9" cx="468.6" cy="91.3" fill="#f4f2f0" stroke="none"/>
<ellipse rx="3.2" ry="1.9" transform="translate(501.3 156.1)rotate(39)"/>
<circle r="0.9" cx="503.2" cy="156.1" fill="#f4f2f0" stroke="none"/>
<ellipse rx="3.1" ry="2" transform="translate(498.4 96.8)rotate(164)"/>
<ellipse rx="2" ry="2.7" transform="translate(463 131)rotate(167)"/>
<ellipse rx="3.3" ry="2.4" transform="translate(429.6 179.7)rotate(129)"/>
<ellipse rx="2.9" ry="1.8" transform="translate(520.7 113.6)rotate(24)"/>
<ellipse rx="2.9" ry="1.5" transform="translate(495.5 204.5)rotate(115)"/>
<ellipse rx="2.7" ry="2.5" transform="translate(442 186.9)rotate(157)"/>
<circle r="0.9" cx="443.6" cy="186.9" fill="#f4f2f0" stroke="none"/>
<ellipse rx="3.3" ry="2.1" transform="translate(518.6 196.1)rotate(102)"/>
<circle r="0.9" cx="520.6" cy="196.1" fill="#f4f2f0" stroke="none"/>
<ellipse rx="3.5" ry="2" transform="translate(437.1 118.1)rotate(171)"/>
<circle r="0.9" cx="439.2" cy="118.1" fill="#f4f2f0" stroke="none"/>
<ellipse rx="3" ry="2.7" transform="translate(490.5 197.1)rotate(123)"/>
<circle r="0.9" cx="492.3" cy="197.1" fill="#f4f2f0" stroke="none"/>
<ellipse rx="1.9" ry="2.1" transform="translate(437.4 126.8)rotate(74)"/>
<ellipse rx="3.2" ry="2.8" transform="translate(445.5 190.7)rotate(80)"/>
<circle r="0.9" cx="447.4" cy="190.7" fill="#f4f2f0" stroke="none"/>
<ellipse rx="2.8" ry="2.4" transform="translate(460.7 178.1)rotate(14)"/>
<circle r="0.9" cx="462.4" cy="178.1" fill="#f4f2f0" stroke="none"/>
<ellipse rx="2.1" ry="1.9" transform="translate(505.1 193.8)rotate(53)"/>
<ellipse rx="2.2" ry="2.7" transform="translate(501.2 168.9)rotate(53)"/>
<circle r="0.9" cx="502.6" cy="168.9" fill="#f4f2f0" stroke="none"/>
<ellipse rx="3.6" ry="1.5" transform="translate(523.9 170.8)rotate(20)"/>
<circle r="0.9" cx="526" cy="170.8" fill="#f4f2f0" stroke="none"/>
<ellipse rx="1.9" ry="1.9" transform="translate(436.2 134.2)rotate(38)"/>
<circle r="0.9" cx="437.3" cy="134.2" fill="#f4f2f0" stroke="none"/>
<ellipse rx="1.8" ry="2.4" transform="translate(518.7 159.8)rotate(8)"/>
<circle r="0.9" cx="519.8" cy="159.8" fill="#f4f2f0" stroke="none"/>
<ellipse rx="2.8" ry="2.6" transform="translate(468.5 165.6)rotate(118)"/>
<ellipse rx="3.1" ry="2.5" transform="translate(540.6 151.1)rotate(153)"/>
<circle r="0.9" cx="542.5" cy="151.1" fill="#f4f2f0" stroke="none"/>
<ellipse rx="1.9" ry="2.3" transform="translate(503.4 173.4)rotate(93)"/>
<ellipse rx="3.2" ry="1.6" transform="translate(473.2 197.3)rotate(127)"/>
<circle r="0.9" cx="475.2" cy="197.3" fill="#f4f2f0" stroke="none"/>
<ellipse rx="2.6" ry="1.7" transform="translate(516.3 169.7)rotate(50)"/>
<ellipse rx="2.8" ry="2.7" transform="translate(441.1 191.8)rotate(50)"/>
<ellipse rx="2" ry="2.3" transform="translate(514.6 151.2)rotate(28)"/>
<ellipse rx="3.5" ry="1.8" transform="translate(418.1 151.2)rotate(145)"/>
<circle r="0.9" cx="420.2" cy="151.2" fill="#f4f2f0" stroke="none"/>
<ellipse rx="2.3" ry="1.5" transform="translate(436.6 145.4)rotate(79)"/>
<circle r="0.9" cx="438" cy="145.4" fill="#f4f2f0" stroke="none"/>
<ellipse rx="3.1" ry="2.2" transform="translate(462.6 120.5)rotate(75)"/>
<ellipse rx="2.2" ry="1.9" transform="translate(521.8 158.6)rotate(65)"/>
<circle r="0.9" cx="523.1" cy="158.6" fill="#f4f2f0" stroke="none"/>
<ellipse rx="3.4" ry="1.5" transform="translate(523.8 121.6)rotate(18)"/>
<ellipse rx="3.3" ry="2" transform="translate(476.2 200.9)rotate(75)"/>
<circle r="0.9" cx="478.2" cy="200.9" fill="#f4f2f0" stroke="none"/>
<ellipse rx="1.8" ry="2.1" transform="translate(497.2 124.4)rotate(43)"/>
<circle r="0.9" cx="498.3" cy="124.4" fill="#f4f2f0" stroke="none"/>
<ellipse rx="3.4" ry="1.4" transform="translate(447.5 130.5)rotate(65)"/>
<ellipse rx="3.1" ry="1.5" transform="translate(480.1 183)rotate(133)"/>
<ellipse rx="2.9" ry="2.7" transform="translate(489.4 185)rotate(143)"/>
<ellipse rx="3.2" ry="2.1" transform="translate(516.8 159.1)rotate(99)"/>
<ellipse rx="2.9" ry="1.9" transform="translate(524.9 177.8)rotate(3)"/>
<ellipse rx="2.4" ry="2" transform="translate(475.7 147.6)rotate(51)"/>
</g>
<text x="85.9" y="180" font-size="24.5" textLength="94.3" lengthAdjust="spacingAndGlyphs">Parental</text>
<text x="233.8" y="132.3" font-size="24.5" textLength="112.9" lengthAdjust="spacingAndGlyphs">PR1.2 μM</text>
<text x="417" y="81" font-size="24.5" textLength="113.4" lengthAdjust="spacingAndGlyphs">PR4.8 μM</text>
<text x="259.3" y="290.5" font-size="24.5" textLength="115.2" lengthAdjust="spacingAndGlyphs">+ 3 weeks</text>
<text x="437.5" y="242.8" font-size="25.5" textLength="128" lengthAdjust="spacingAndGlyphs">+ 6 months</text>
<polygon points="91.6,357.1 538.5,255.3 538.5,357.1" fill="url(#triG)" stroke="#1C2A4E" stroke-width="3" stroke-linejoin="miter"/>
<text x="307.7" y="344.3" font-size="30.5" font-weight="bold" textLength="163" lengthAdjust="spacingAndGlyphs">Palbociclib</text>
<text x="942" y="60" font-size="27" font-weight="bold" text-anchor="middle">MCF7</text>
<rect x="1084.8" y="30.8" width="8.5" height="8.5" fill="#FF2600" stroke="#000" stroke-width="2"/>
<circle cx="1089" cy="62.5" r="4.6" fill="#0433FF" stroke="#000" stroke-width="1.8"/>
<text x="1116" y="41" font-size="19.5">Palbociclib</text>
<text x="1116" y="68.5" font-size="19.5">BLU-222</text>
<line x1="797" y1="115.5" x2="797" y2="326.2" stroke="#000" stroke-width="2.4"/>
<line x1="787" y1="325" x2="797" y2="325" stroke="#000" stroke-width="2.4"/>
<text transform="translate(782.5 333.3) scale(0.933 1)" font-size="24.5" text-anchor="end">0.0</text>
<line x1="787" y1="283.3" x2="797" y2="283.3" stroke="#000" stroke-width="2.4"/>
<text transform="translate(782.5 291.6) scale(0.933 1)" font-size="24.5" text-anchor="end">2.0</text>
<line x1="787" y1="241.6" x2="797" y2="241.6" stroke="#000" stroke-width="2.4"/>
<text transform="translate(782.5 249.9) scale(0.933 1)" font-size="24.5" text-anchor="end">4.0</text>
<line x1="787" y1="199.9" x2="797" y2="199.9" stroke="#000" stroke-width="2.4"/>
<text transform="translate(782.5 208.2) scale(0.933 1)" font-size="24.5" text-anchor="end">6.0</text>
<line x1="787" y1="158.2" x2="797" y2="158.2" stroke="#000" stroke-width="2.4"/>
<text transform="translate(782.5 166.5) scale(0.933 1)" font-size="24.5" text-anchor="end">8.0</text>
<line x1="787" y1="116.5" x2="797" y2="116.5" stroke="#000" stroke-width="2.4"/>
<text transform="translate(782.5 124.8) scale(0.933 1)" font-size="24.5" text-anchor="end">10.0</text>
<line x1="1089" y1="115.5" x2="1089" y2="326.2" stroke="#000" stroke-width="2.4"/>
<line x1="1089" y1="325" x2="1099" y2="325" stroke="#000" stroke-width="2.4"/>
<text transform="translate(1103.5 333.3) scale(0.933 1)" font-size="24.5">0.0</text>
<line x1="1089" y1="255.5" x2="1099" y2="255.5" stroke="#000" stroke-width="2.4"/>
<text transform="translate(1103.5 263.8) scale(0.933 1)" font-size="24.5">1.0</text>
<line x1="1089" y1="186" x2="1099" y2="186" stroke="#000" stroke-width="2.4"/>
<text transform="translate(1103.5 194.3) scale(0.933 1)" font-size="24.5">2.0</text>
<line x1="1089" y1="116.5" x2="1099" y2="116.5" stroke="#000" stroke-width="2.4"/>
<text transform="translate(1103.5 124.8) scale(0.933 1)" font-size="24.5">3.0</text>
<line x1="787" y1="325" x2="1099" y2="325" stroke="#000" stroke-width="2.4"/>
<rect x="810" y="311" width="28" height="14" fill="#FF2600" stroke="#000" stroke-width="2.6"/>
<rect x="853" y="272" width="26" height="53" fill="#FF2600" stroke="#000" stroke-width="2.6"/>
<rect x="895" y="150" width="25" height="175" fill="#FF2600" stroke="#000" stroke-width="2.6"/>
<rect x="964" y="159" width="27" height="166" fill="#0433FF" stroke="#000" stroke-width="2.6"/>
<rect x="1006" y="291" width="26" height="34" fill="#0433FF" stroke="#000" stroke-width="2.6"/>
<rect x="1048" y="298" width="26" height="27" fill="#0433FF" stroke="#000" stroke-width="2.6"/>
<line x1="866" y1="261" x2="866" y2="272" stroke="#FF2600" stroke-width="1.4"/>
<line x1="861" y1="261" x2="871" y2="261" stroke="#FF2600" stroke-width="1.4"/>
<line x1="907.7" y1="140" x2="907.7" y2="150" stroke="#FF2600" stroke-width="1.4"/>
<line x1="902.7" y1="140" x2="912.7" y2="140" stroke="#FF2600" stroke-width="1.4"/>
<line x1="977.3" y1="141" x2="977.3" y2="159" stroke="#0433FF" stroke-width="1.4"/>
<line x1="972.3" y1="141" x2="982.3" y2="141" stroke="#0433FF" stroke-width="1.4"/>
<rect x="811.8" y="311.6" width="8.5" height="8.5" fill="#FF2600" stroke="#000" stroke-width="2"/>
<rect x="820" y="306.4" width="8.5" height="8.5" fill="#FF2600" stroke="#000" stroke-width="2"/>
<rect x="828.4" y="309.8" width="8.5" height="8.5" fill="#FF2600" stroke="#000" stroke-width="2"/>
<rect x="852.8" y="274.1" width="8.5" height="8.5" fill="#FF2600" stroke="#000" stroke-width="2"/>
<rect x="862" y="256.6" width="8.5" height="8.5" fill="#FF2600" stroke="#000" stroke-width="2"/>
<rect x="871.2" y="269.8" width="8.5" height="8.5" fill="#FF2600" stroke="#000" stroke-width="2"/>
<rect x="903.5" y="130.6" width="8.5" height="8.5" fill="#FF2600" stroke="#000" stroke-width="2"/>
<rect x="903.5" y="144.2" width="8.5" height="8.5" fill="#FF2600" stroke="#000" stroke-width="2"/>
<rect x="903.5" y="159.8" width="8.5" height="8.5" fill="#FF2600" stroke="#000" stroke-width="2"/>
<circle cx="968.1" cy="137.7" r="4.6" fill="#0433FF" stroke="#000" stroke-width="2"/>
<circle cx="986.4" cy="145.4" r="4.6" fill="#0433FF" stroke="#000" stroke-width="2"/>
<circle cx="977.3" cy="193" r="4.6" fill="#0433FF" stroke="#000" stroke-width="2"/>
<circle cx="1010.3" cy="297.4" r="4.6" fill="#0433FF" stroke="#000" stroke-width="2"/>
<circle cx="1019.4" cy="287.5" r="4.6" fill="#0433FF" stroke="#000" stroke-width="2"/>
<circle cx="1028.6" cy="291.2" r="4.6" fill="#0433FF" stroke="#000" stroke-width="2"/>
<circle cx="1051.6" cy="300.4" r="4.6" fill="#0433FF" stroke="#000" stroke-width="2"/>
<circle cx="1060.8" cy="295.6" r="4.6" fill="#0433FF" stroke="#000" stroke-width="2"/>
<circle cx="1070" cy="297.8" r="4.6" fill="#0433FF" stroke="#000" stroke-width="2"/>
<line x1="823.5" y1="325" x2="823.5" y2="334" stroke="#000" stroke-width="2.4"/>
<text x="831.5" y="354" font-size="26.5" text-anchor="end" transform="rotate(-45 831.5 354)">MCF7 Parental</text>
<line x1="865.5" y1="325" x2="865.5" y2="334" stroke="#000" stroke-width="2.4"/>
<text x="873.5" y="354" font-size="26.5" text-anchor="end" transform="rotate(-45 873.5 354)">MCF7 PR1.2</text>
<line x1="907.5" y1="325" x2="907.5" y2="334" stroke="#000" stroke-width="2.4"/>
<text x="915.5" y="354" font-size="26.5" text-anchor="end" transform="rotate(-45 915.5 354)">MCF7 PR4.8</text>
<line x1="977.5" y1="325" x2="977.5" y2="334" stroke="#000" stroke-width="2.4"/>
<text x="985.5" y="354" font-size="26.5" text-anchor="end" transform="rotate(-45 985.5 354)">MCF7 Parental</text>
<line x1="1019" y1="325" x2="1019" y2="334" stroke="#000" stroke-width="2.4"/>
<text x="1027" y="354" font-size="26.5" text-anchor="end" transform="rotate(-45 1027 354)">MCF7 PR1.2</text>
<line x1="1060.5" y1="325" x2="1060.5" y2="334" stroke="#000" stroke-width="2.4"/>
<text x="1068.5" y="354" font-size="26.5" text-anchor="end" transform="rotate(-45 1068.5 354)">MCF7 PR4.8</text>
<polyline points="823.5,293 823.5,224 865.5,224 865.5,261" fill="none" stroke="#000" stroke-width="2.2"/>
<text x="835" y="218" font-size="19" text-anchor="middle">0.0017</text>
<polyline points="865.5,224 865.5,105 907.5,105 907.5,130" fill="none" stroke="#000" stroke-width="2.2"/>
<text x="886" y="98" font-size="19" text-anchor="middle">0.0003</text>
<polyline points="977.5,130 977.5,105 1019,105 1019,280" fill="none" stroke="#000" stroke-width="2.2"/>
<text x="997" y="98" font-size="19" text-anchor="middle">0.0016</text>
<text x="708" y="216" font-size="25.5" font-weight="bold" text-anchor="middle" fill="#FF2600" transform="rotate(-90 708 216)" textLength="133.7" lengthAdjust="spacingAndGlyphs">Palbociclib</text>
<text x="736" y="216" font-size="22" text-anchor="middle" fill="#FF2600" transform="rotate(-90 736 216)" textLength="82.4" lengthAdjust="spacingAndGlyphs">IC50 μM</text>
<text x="1152.5" y="216" font-size="22" text-anchor="middle" fill="#0433FF" transform="rotate(90 1152.5 216)" textLength="82.4" lengthAdjust="spacingAndGlyphs">IC50 μM</text>
<text x="1180.4" y="216" font-size="25" font-weight="bold" text-anchor="middle" fill="#0433FF" transform="rotate(90 1180.4 216)" textLength="91.6" lengthAdjust="spacingAndGlyphs">BLU222</text>
<text x="1514" y="47" font-size="27" font-weight="bold" text-anchor="middle">T47D</text>
<rect x="1618.8" y="16.8" width="8.5" height="8.5" fill="#FF2600" stroke="#000" stroke-width="2"/>
<circle cx="1623" cy="48" r="4.6" fill="#0433FF" stroke="#000" stroke-width="1.8"/>
<text x="1650" y="27" font-size="19.5">Palbociclib</text>
<text x="1650" y="54" font-size="19.5">BLU-222</text>
<line x1="1372" y1="109" x2="1372" y2="315.2" stroke="#000" stroke-width="2.4"/>
<line x1="1362" y1="314" x2="1372" y2="314" stroke="#000" stroke-width="2.4"/>
<text transform="translate(1357.5 322.3) scale(0.933 1)" font-size="24.5" text-anchor="end">0.0</text>
<line x1="1362" y1="273.2" x2="1372" y2="273.2" stroke="#000" stroke-width="2.4"/>
<text transform="translate(1357.5 281.5) scale(0.933 1)" font-size="24.5" text-anchor="end">2.0</text>
<line x1="1362" y1="232.4" x2="1372" y2="232.4" stroke="#000" stroke-width="2.4"/>
<text transform="translate(1357.5 240.7) scale(0.933 1)" font-size="24.5" text-anchor="end">4.0</text>
<line x1="1362" y1="191.6" x2="1372" y2="191.6" stroke="#000" stroke-width="2.4"/>
<text transform="translate(1357.5 199.9) scale(0.933 1)" font-size="24.5" text-anchor="end">6.0</text>
<line x1="1362" y1="150.8" x2="1372" y2="150.8" stroke="#000" stroke-width="2.4"/>
<text transform="translate(1357.5 159.1) scale(0.933 1)" font-size="24.5" text-anchor="end">8.0</text>
<line x1="1362" y1="110" x2="1372" y2="110" stroke="#000" stroke-width="2.4"/>
<text transform="translate(1357.5 118.3) scale(0.933 1)" font-size="24.5" text-anchor="end">10.0</text>
<line x1="1656" y1="109" x2="1656" y2="315.2" stroke="#000" stroke-width="2.4"/>
<line x1="1656" y1="314" x2="1666" y2="314" stroke="#000" stroke-width="2.4"/>
<text transform="translate(1670.5 322.3) scale(0.933 1)" font-size="24.5">0.0</text>
<line x1="1656" y1="263" x2="1666" y2="263" stroke="#000" stroke-width="2.4"/>
<text transform="translate(1670.5 271.3) scale(0.933 1)" font-size="24.5">1.0</text>
<line x1="1656" y1="212" x2="1666" y2="212" stroke="#000" stroke-width="2.4"/>
<text transform="translate(1670.5 220.3) scale(0.933 1)" font-size="24.5">2.0</text>
<line x1="1656" y1="161" x2="1666" y2="161" stroke="#000" stroke-width="2.4"/>
<text transform="translate(1670.5 169.3) scale(0.933 1)" font-size="24.5">3.0</text>
<line x1="1656" y1="110" x2="1666" y2="110" stroke="#000" stroke-width="2.4"/>
<text transform="translate(1670.5 118.3) scale(0.933 1)" font-size="24.5">4.0</text>
<line x1="1362" y1="314" x2="1666" y2="314" stroke="#000" stroke-width="2.4"/>
<rect x="1385.8" y="292.5" width="25.6" height="21.5" fill="#FF2600" stroke="#000" stroke-width="2.6"/>
<rect x="1426" y="216.5" width="26.3" height="97.5" fill="#FF2600" stroke="#000" stroke-width="2.6"/>
<rect x="1467" y="130" width="25.5" height="184" fill="#FF2600" stroke="#000" stroke-width="2.6"/>
<rect x="1534.6" y="175.5" width="25.6" height="138.5" fill="#0433FF" stroke="#000" stroke-width="2.6"/>
<rect x="1574.8" y="229.6" width="26.4" height="84.4" fill="#0433FF" stroke="#000" stroke-width="2.6"/>
<rect x="1615.8" y="308" width="25.6" height="6" fill="#0433FF" stroke="#000" stroke-width="2.6"/>
<line x1="1479.7" y1="122" x2="1479.7" y2="130" stroke="#FF2600" stroke-width="1.4"/>
<line x1="1474.7" y1="122" x2="1484.7" y2="122" stroke="#FF2600" stroke-width="1.4"/>
<line x1="1547.3" y1="162.7" x2="1547.3" y2="175.5" stroke="#0433FF" stroke-width="1.4"/>
<line x1="1542.3" y1="162.7" x2="1552.3" y2="162.7" stroke="#0433FF" stroke-width="1.4"/>
<line x1="1588" y1="232" x2="1588" y2="234" stroke="#0433FF" stroke-width="1.4"/>
<line x1="1583" y1="232" x2="1593" y2="232" stroke="#0433FF" stroke-width="1.4"/>
<rect x="1386" y="291.2" width="8.5" height="8.5" fill="#FF2600" stroke="#000" stroke-width="2"/>
<rect x="1394.3" y="286.4" width="8.5" height="8.5" fill="#FF2600" stroke="#000" stroke-width="2"/>
<rect x="1402.8" y="290.1" width="8.5" height="8.5" fill="#FF2600" stroke="#000" stroke-width="2"/>
<rect x="1425.3" y="216.9" width="8.5" height="8.5" fill="#FF2600" stroke="#000" stroke-width="2"/>
<rect x="1434.5" y="216.9" width="8.5" height="8.5" fill="#FF2600" stroke="#000" stroke-width="2"/>
<rect x="1443.8" y="216.9" width="8.5" height="8.5" fill="#FF2600" stroke="#000" stroke-width="2"/>
<rect x="1475.5" y="115.8" width="8.5" height="8.5" fill="#FF2600" stroke="#000" stroke-width="2"/>
<rect x="1475.5" y="124.4" width="8.5" height="8.5" fill="#FF2600" stroke="#000" stroke-width="2"/>
<rect x="1475.5" y="136.6" width="8.5" height="8.5" fill="#FF2600" stroke="#000" stroke-width="2"/>
<circle cx="1538.3" cy="156.5" r="4.6" fill="#0433FF" stroke="#000" stroke-width="2"/>
<circle cx="1556.5" cy="154.3" r="4.6" fill="#0433FF" stroke="#000" stroke-width="2"/>
<circle cx="1546.7" cy="181" r="4.6" fill="#0433FF" stroke="#000" stroke-width="2"/>
<circle cx="1546.7" cy="206.6" r="4.6" fill="#0433FF" stroke="#000" stroke-width="2"/>
<circle cx="1579.2" cy="233" r="4.6" fill="#0433FF" stroke="#000" stroke-width="2"/>
<circle cx="1596.8" cy="233" r="4.6" fill="#0433FF" stroke="#000" stroke-width="2"/>
<circle cx="1587.6" cy="242" r="4.6" fill="#0433FF" stroke="#000" stroke-width="2"/>
<circle cx="1619.4" cy="306" r="4.6" fill="#0433FF" stroke="#000" stroke-width="2"/>
<circle cx="1628.6" cy="304.6" r="4.6" fill="#0433FF" stroke="#000" stroke-width="2"/>
<circle cx="1637.7" cy="306" r="4.6" fill="#0433FF" stroke="#000" stroke-width="2"/>
<line x1="1397.5" y1="314" x2="1397.5" y2="323" stroke="#000" stroke-width="2.4"/>
<text x="1405.5" y="343" font-size="26.5" text-anchor="end" transform="rotate(-45 1405.5 343)">T47D Parental</text>
<line x1="1439" y1="314" x2="1439" y2="323" stroke="#000" stroke-width="2.4"/>
<text x="1447" y="343" font-size="26.5" text-anchor="end" transform="rotate(-45 1447 343)">T47D PR1.2</text>
<line x1="1480" y1="314" x2="1480" y2="323" stroke="#000" stroke-width="2.4"/>
<text x="1488" y="343" font-size="26.5" text-anchor="end" transform="rotate(-45 1488 343)">T47D PR4.8</text>
<line x1="1547" y1="314" x2="1547" y2="323" stroke="#000" stroke-width="2.4"/>
<text x="1555" y="343" font-size="26.5" text-anchor="end" transform="rotate(-45 1555 343)">T47D Parental</text>
<line x1="1588" y1="314" x2="1588" y2="323" stroke="#000" stroke-width="2.4"/>
<text x="1596" y="343" font-size="26.5" text-anchor="end" transform="rotate(-45 1596 343)">T47D PR1.2</text>
<line x1="1629" y1="314" x2="1629" y2="323" stroke="#000" stroke-width="2.4"/>
<text x="1637" y="343" font-size="26.5" text-anchor="end" transform="rotate(-45 1637 343)">T47D PR4.8</text>
<polyline points="1397.5,261 1397.5,177 1439,177 1439,201" fill="none" stroke="#000" stroke-width="2.2"/>
<text x="1406" y="166" font-size="19" text-anchor="middle">0.0001</text>
<polyline points="1439,177 1439,88.5 1480,88.5 1480,104" fill="none" stroke="#000" stroke-width="2.2"/>
<text x="1458" y="82" font-size="19" text-anchor="middle">0.0001</text>
<polyline points="1547,139 1547,97 1588,97 1588,219" fill="none" stroke="#000" stroke-width="2.2"/>
<text x="1567" y="87" font-size="19" text-anchor="middle">0.0097</text>
<polyline points="1588,157 1588,157 1629,157 1629,283" fill="none" stroke="#000" stroke-width="2.2"/>
<text x="1620.5" y="150.6" font-size="19" text-anchor="middle">&lt;0.0001</text>
<text x="1275" y="210" font-size="25.5" font-weight="bold" text-anchor="middle" fill="#FF2600" transform="rotate(-90 1275 210)" textLength="133.7" lengthAdjust="spacingAndGlyphs">Palbociclib</text>
<text x="1301" y="210" font-size="22" text-anchor="middle" fill="#FF2600" transform="rotate(-90 1301 210)" textLength="82.4" lengthAdjust="spacingAndGlyphs">IC50 μM</text>
<text x="1720.5" y="210" font-size="22" text-anchor="middle" fill="#0433FF" transform="rotate(90 1720.5 210)" textLength="82.4" lengthAdjust="spacingAndGlyphs">IC50 μM</text>
<text x="1748.4" y="210" font-size="25" font-weight="bold" text-anchor="middle" fill="#0433FF" transform="rotate(90 1748.4 210)" textLength="91.6" lengthAdjust="spacingAndGlyphs">BLU222</text>
<text x="913.5" y="573.5" font-size="29" textLength="252" lengthAdjust="spacingAndGlyphs">Apoptosis Analysis</text>
<circle cx="819.8" cy="617" r="4.6" fill="#fff" stroke="#000" stroke-width="2.2"/>
<text x="848" y="624" font-size="19.8">Control</text>
<circle cx="819.8" cy="641.5" r="4.6" fill="#FF2600" stroke="#000" stroke-width="2.2"/>
<text x="848" y="648.5" font-size="19.8">Palbociclib - 0.3 μM</text>
<circle cx="819.8" cy="667" r="4.6" fill="#0433FF" stroke="#000" stroke-width="2.2"/>
<text x="848" y="674" font-size="19.8">BLU-222 - 0.3 μM</text>
<circle cx="819.8" cy="692" r="4.6" fill="#fff" stroke="#000" stroke-width="2.2"/>
<text x="848" y="699" font-size="19.8">Combo - 0.3 μM</text>
<line x1="807" y1="622.8" x2="807" y2="872.5" stroke="#000" stroke-width="3.2"/>
<line x1="794" y1="871" x2="807" y2="871" stroke="#000" stroke-width="3.2"/>
<text x="788" y="879.6" font-size="24.5" text-anchor="end">0</text>
<line x1="794" y1="821.6" x2="807" y2="821.6" stroke="#000" stroke-width="3.2"/>
<text x="788" y="830.2" font-size="24.5" text-anchor="end">5</text>
<line x1="794" y1="772.2" x2="807" y2="772.2" stroke="#000" stroke-width="3.2"/>
<text x="788" y="780.8" font-size="24.5" text-anchor="end">10</text>
<line x1="794" y1="722.8" x2="807" y2="722.8" stroke="#000" stroke-width="3.2"/>
<text x="788" y="731.4" font-size="24.5" text-anchor="end">15</text>
<line x1="794" y1="673.4" x2="807" y2="673.4" stroke="#000" stroke-width="3.2"/>
<text x="788" y="682" font-size="24.5" text-anchor="end">20</text>
<line x1="794" y1="624" x2="807" y2="624" stroke="#000" stroke-width="3.2"/>
<text x="788" y="632.6" font-size="24.5" text-anchor="end">25</text>
<rect x="823.7" y="861.5" width="35.1" height="9.5" fill="#000"/>
<rect x="875.6" y="820.4" width="35.2" height="50.6" fill="#FF2600"/>
<rect x="927" y="853.7" width="35" height="17.3" fill="#0433FF"/>
<rect x="979" y="832" width="35" height="39" fill="#FF9300"/>
<rect x="1065" y="857.6" width="35" height="13.4" fill="#000"/>
<rect x="1116.8" y="842" width="35.2" height="29" fill="#FF2600"/>
<rect x="1169.5" y="804.8" width="35.2" height="66.2" fill="#0433FF"/>
<rect x="1221" y="742" width="35" height="129" fill="#FF9300"/>
<line x1="794" y1="871" x2="1273" y2="871" stroke="#000" stroke-width="3.6"/>
<line x1="1238" y1="708" x2="1238" y2="776.7" stroke="#000" stroke-width="1.6"/>
<line x1="1232" y1="708" x2="1244" y2="708" stroke="#000" stroke-width="1.6"/>
<line x1="1232" y1="776.7" x2="1244" y2="776.7" stroke="#000" stroke-width="1.6"/>
<line x1="1134.3" y1="840" x2="1134.3" y2="852" stroke="#000" stroke-width="1.6"/>
<line x1="1128.3" y1="840" x2="1140.3" y2="840" stroke="#000" stroke-width="1.6"/>
<line x1="1186.3" y1="803" x2="1186.3" y2="815" stroke="#000" stroke-width="1.6"/>
<line x1="1180.3" y1="803" x2="1192.3" y2="803" stroke="#000" stroke-width="1.6"/>
<circle cx="829.5" cy="860.3" r="4.9" fill="#fff" stroke="#000" stroke-width="2.3"/>
<circle cx="841.2" cy="857.6" r="4.9" fill="#fff" stroke="#000" stroke-width="2.3"/>
<circle cx="853" cy="860.3" r="4.9" fill="#fff" stroke="#000" stroke-width="2.3"/>
<circle cx="881.1" cy="822.4" r="4.9" fill="#FF2600" stroke="#000" stroke-width="2.3"/>
<circle cx="892.8" cy="818.5" r="4.9" fill="#FF2600" stroke="#000" stroke-width="2.3"/>
<circle cx="904.6" cy="821.2" r="4.9" fill="#FF2600" stroke="#000" stroke-width="2.3"/>
<circle cx="933" cy="855.6" r="4.9" fill="#0433FF" stroke="#000" stroke-width="2.3"/>
<circle cx="944.8" cy="852.9" r="4.9" fill="#0433FF" stroke="#000" stroke-width="2.3"/>
<circle cx="956.5" cy="854.8" r="4.9" fill="#0433FF" stroke="#000" stroke-width="2.3"/>
<circle cx="983.9" cy="835.3" r="4.9" fill="#fff" stroke="#000" stroke-width="2.3"/>
<circle cx="995.6" cy="830.6" r="4.9" fill="#fff" stroke="#000" stroke-width="2.3"/>
<circle cx="1008.1" cy="833" r="4.9" fill="#fff" stroke="#000" stroke-width="2.3"/>
<circle cx="1070.6" cy="858.4" r="4.9" fill="#fff" stroke="#000" stroke-width="2.3"/>
<circle cx="1082.7" cy="854.4" r="4.9" fill="#fff" stroke="#000" stroke-width="2.3"/>
<circle cx="1094.5" cy="856.4" r="4.9" fill="#fff" stroke="#000" stroke-width="2.3"/>
<circle cx="1122.6" cy="847" r="4.9" fill="#FF2600" stroke="#000" stroke-width="2.3"/>
<circle cx="1134.3" cy="836.9" r="4.9" fill="#FF2600" stroke="#000" stroke-width="2.3"/>
<circle cx="1146.8" cy="842.7" r="4.9" fill="#FF2600" stroke="#000" stroke-width="2.3"/>
<circle cx="1174.6" cy="809.5" r="4.9" fill="#0433FF" stroke="#000" stroke-width="2.3"/>
<circle cx="1186.3" cy="802" r="4.9" fill="#0433FF" stroke="#000" stroke-width="2.3"/>
<circle cx="1198.8" cy="803.6" r="4.9" fill="#0433FF" stroke="#000" stroke-width="2.3"/>
<circle cx="1237.9" cy="673.1" r="4.9" fill="#fff" stroke="#000" stroke-width="2.3"/>
<circle cx="1226.2" cy="780.6" r="4.9" fill="#fff" stroke="#000" stroke-width="2.3"/>
<circle cx="1250.4" cy="772.8" r="4.9" fill="#fff" stroke="#000" stroke-width="2.3"/>
<line x1="918.6" y1="871" x2="918.6" y2="883" stroke="#000" stroke-width="3.6"/>
<text x="918.6" y="914" font-size="31" text-anchor="middle" textLength="205.2" lengthAdjust="spacingAndGlyphs">MCF7 Parental</text>
<line x1="1159.7" y1="871" x2="1159.7" y2="883" stroke="#000" stroke-width="3.6"/>
<text x="1159.7" y="914" font-size="31" text-anchor="middle" textLength="177" lengthAdjust="spacingAndGlyphs">MCF7 PR1.2</text>
<polyline points="841,832 841,762.6 893,762.6 893,791" fill="none" stroke="#000" stroke-width="2.4"/>
<text x="874.5" y="756" font-size="20.2" text-anchor="middle">0.0001</text>
<polyline points="841,762.6 841,735 996.4,735 996.4,803" fill="none" stroke="#000" stroke-width="2.4"/>
<text x="922.5" y="728.6" font-size="20.2" text-anchor="middle">0.0001</text>
<polyline points="1082.7,831.4 1082.7,702 1183,702 1183,779" fill="none" stroke="#000" stroke-width="2.4"/>
<text x="1135" y="694.6" font-size="20.2" text-anchor="middle">&lt;0.0001</text>
<polyline points="1183,726.6 1183,634.8 1238,634.8 1238,650.5" fill="none" stroke="#000" stroke-width="2.4"/>
<text x="1210.5" y="627.8" font-size="20.2" text-anchor="middle">0.0093</text>
<text x="756.5" y="743.2" font-size="28.5" text-anchor="middle" transform="rotate(-90 756.5 743.2)" textLength="264" lengthAdjust="spacingAndGlyphs">% Annexin V + cells</text>
<text x="913" y="1068" font-size="29" textLength="253" lengthAdjust="spacingAndGlyphs">Apoptosis Analysis</text>
<circle cx="818.6" cy="1115.8" r="4.6" fill="#fff" stroke="#000" stroke-width="2.2"/>
<text x="846.3" y="1122.9" font-size="20">Control</text>
<circle cx="818.6" cy="1141.2" r="4.6" fill="#FF2600" stroke="#000" stroke-width="2.2"/>
<text x="846.3" y="1147.5" font-size="20">Palbociclib - 0.3 μM</text>
<circle cx="818.6" cy="1166.6" r="4.6" fill="#0433FF" stroke="#000" stroke-width="2.2"/>
<text x="846.3" y="1172.9" font-size="20">BLU-222 - 0.3 μM</text>
<circle cx="818.6" cy="1192" r="4.6" fill="#fff" stroke="#000" stroke-width="2.2"/>
<text x="846.3" y="1198.3" font-size="20">Combo - 0.3 μM</text>
<line x1="805.3" y1="1115.8" x2="805.3" y2="1367.8" stroke="#000" stroke-width="3.2"/>
<line x1="792.3" y1="1366.3" x2="805.3" y2="1366.3" stroke="#000" stroke-width="3.2"/>
<text x="786.3" y="1374.9" font-size="24.5" text-anchor="end">0</text>
<line x1="792.3" y1="1316.4" x2="805.3" y2="1316.4" stroke="#000" stroke-width="3.2"/>
<text x="786.3" y="1325" font-size="24.5" text-anchor="end">1</text>
<line x1="792.3" y1="1266.6" x2="805.3" y2="1266.6" stroke="#000" stroke-width="3.2"/>
<text x="786.3" y="1275.2" font-size="24.5" text-anchor="end">2</text>
<line x1="792.3" y1="1216.7" x2="805.3" y2="1216.7" stroke="#000" stroke-width="3.2"/>
<text x="786.3" y="1225.3" font-size="24.5" text-anchor="end">3</text>
<line x1="792.3" y1="1166.9" x2="805.3" y2="1166.9" stroke="#000" stroke-width="3.2"/>
<text x="786.3" y="1175.5" font-size="24.5" text-anchor="end">4</text>
<line x1="792.3" y1="1117" x2="805.3" y2="1117" stroke="#000" stroke-width="3.2"/>
<text x="786.3" y="1125.6" font-size="24.5" text-anchor="end">5</text>
<rect x="822.5" y="1347.6" width="35.2" height="18.7" fill="#000"/>
<rect x="874.5" y="1274" width="35.1" height="92.3" fill="#FF2600"/>
<rect x="926.4" y="1318" width="35.2" height="48.3" fill="#0433FF"/>
<rect x="978.4" y="1266.7" width="35.2" height="99.6" fill="#FF9300"/>
<rect x="1065" y="1351.5" width="35" height="14.8" fill="#000"/>
<rect x="1116.8" y="1345.6" width="35.2" height="20.7" fill="#FF2600"/>
<rect x="1169.5" y="1218.6" width="35.2" height="147.7" fill="#0433FF"/>
<rect x="1221" y="1174.8" width="35" height="191.5" fill="#FF9300"/>
<line x1="792" y1="1366.3" x2="1273" y2="1366.3" stroke="#000" stroke-width="3.6"/>
<line x1="891.3" y1="1263.5" x2="891.3" y2="1282.3" stroke="#000" stroke-width="1.6"/>
<line x1="885.3" y1="1263.5" x2="897.3" y2="1263.5" stroke="#000" stroke-width="1.6"/>
<line x1="885.3" y1="1282.3" x2="897.3" y2="1282.3" stroke="#000" stroke-width="1.6"/>
<line x1="943.6" y1="1313.6" x2="943.6" y2="1322" stroke="#000" stroke-width="1.6"/>
<line x1="937.6" y1="1313.6" x2="949.6" y2="1313.6" stroke="#000" stroke-width="1.6"/>
<line x1="937.6" y1="1322" x2="949.6" y2="1322" stroke="#000" stroke-width="1.6"/>
<line x1="995.6" y1="1261.6" x2="995.6" y2="1271.4" stroke="#000" stroke-width="1.6"/>
<line x1="989.6" y1="1261.6" x2="1001.6" y2="1261.6" stroke="#000" stroke-width="1.6"/>
<line x1="989.6" y1="1271.4" x2="1001.6" y2="1271.4" stroke="#000" stroke-width="1.6"/>
<line x1="1187.1" y1="1211.6" x2="1187.1" y2="1226.4" stroke="#000" stroke-width="1.6"/>
<line x1="1181.1" y1="1211.6" x2="1193.1" y2="1211.6" stroke="#000" stroke-width="1.6"/>
<line x1="1181.1" y1="1226.4" x2="1193.1" y2="1226.4" stroke="#000" stroke-width="1.6"/>
<line x1="1237.9" y1="1165" x2="1237.9" y2="1184.6" stroke="#000" stroke-width="1.6"/>
<line x1="1231.9" y1="1165" x2="1243.9" y2="1165" stroke="#000" stroke-width="1.6"/>
<line x1="1231.9" y1="1184.6" x2="1243.9" y2="1184.6" stroke="#000" stroke-width="1.6"/>
<line x1="1134.3" y1="1342.5" x2="1134.3" y2="1349" stroke="#000" stroke-width="1.6"/>
<line x1="1128.3" y1="1342.5" x2="1140.3" y2="1342.5" stroke="#000" stroke-width="1.6"/>
<line x1="1128.3" y1="1349" x2="1140.3" y2="1349" stroke="#000" stroke-width="1.6"/>
<circle cx="827.6" cy="1346.4" r="4.9" fill="#fff" stroke="#000" stroke-width="2.3"/>
<circle cx="839.3" cy="1341.7" r="4.9" fill="#fff" stroke="#000" stroke-width="2.3"/>
<circle cx="851.8" cy="1346.4" r="4.9" fill="#fff" stroke="#000" stroke-width="2.3"/>
<circle cx="879.2" cy="1260.4" r="4.9" fill="#FF2600" stroke="#000" stroke-width="2.3"/>
<circle cx="903.8" cy="1266.7" r="4.9" fill="#FF2600" stroke="#000" stroke-width="2.3"/>
<circle cx="891.3" cy="1292.1" r="4.9" fill="#FF2600" stroke="#000" stroke-width="2.3"/>
<circle cx="931.9" cy="1312.4" r="4.9" fill="#0433FF" stroke="#000" stroke-width="2.3"/>
<circle cx="955.7" cy="1316.3" r="4.9" fill="#0433FF" stroke="#000" stroke-width="2.3"/>
<circle cx="943.6" cy="1326.1" r="4.9" fill="#0433FF" stroke="#000" stroke-width="2.3"/>
<circle cx="995.6" cy="1257.7" r="4.9" fill="#fff" stroke="#000" stroke-width="2.3"/>
<circle cx="995.6" cy="1266.7" r="4.9" fill="#fff" stroke="#000" stroke-width="2.3"/>
<circle cx="995.6" cy="1276" r="4.9" fill="#fff" stroke="#000" stroke-width="2.3"/>
<circle cx="1070.6" cy="1350.3" r="4.9" fill="#fff" stroke="#000" stroke-width="2.3"/>
<circle cx="1082.7" cy="1346.4" r="4.9" fill="#fff" stroke="#000" stroke-width="2.3"/>
<circle cx="1094.5" cy="1347.6" r="4.9" fill="#fff" stroke="#000" stroke-width="2.3"/>
<circle cx="1122.6" cy="1350.3" r="4.9" fill="#FF2600" stroke="#000" stroke-width="2.3"/>
<circle cx="1134.3" cy="1337.8" r="4.9" fill="#FF2600" stroke="#000" stroke-width="2.3"/>
<circle cx="1146.8" cy="1347.6" r="4.9" fill="#FF2600" stroke="#000" stroke-width="2.3"/>
<circle cx="1187.1" cy="1206.9" r="4.9" fill="#0433FF" stroke="#000" stroke-width="2.3"/>
<circle cx="1187.1" cy="1216.7" r="4.9" fill="#0433FF" stroke="#000" stroke-width="2.3"/>
<circle cx="1187.1" cy="1229.2" r="4.9" fill="#0433FF" stroke="#000" stroke-width="2.3"/>
<circle cx="1226.2" cy="1162.7" r="4.9" fill="#fff" stroke="#000" stroke-width="2.3"/>
<circle cx="1250.4" cy="1166.6" r="4.9" fill="#fff" stroke="#000" stroke-width="2.3"/>
<circle cx="1237.9" cy="1195.2" r="4.9" fill="#fff" stroke="#000" stroke-width="2.3"/>
<line x1="917.5" y1="1366.3" x2="917.5" y2="1378.3" stroke="#000" stroke-width="3.6"/>
<text x="917.5" y="1410" font-size="31" text-anchor="middle" textLength="199.3" lengthAdjust="spacingAndGlyphs">T47D Parental</text>
<line x1="1159.7" y1="1366.3" x2="1159.7" y2="1378.3" stroke="#000" stroke-width="3.6"/>
<text x="1159.7" y="1410" font-size="31" text-anchor="middle" textLength="170" lengthAdjust="spacingAndGlyphs">T47D PR1.2</text>
<polyline points="839.3,1324 839.3,1255.7 891.3,1255.7 891.3,1259.6" fill="none" stroke="#000" stroke-width="2.4"/>
<text x="878.4" y="1247.9" font-size="20.5" text-anchor="middle">0.0016</text>
<polyline points="839.3,1255.7 839.3,1227.6 996.4,1227.6 996.4,1243" fill="none" stroke="#000" stroke-width="2.4"/>
<text x="922.5" y="1222.5" font-size="20.5" text-anchor="middle">0.0002</text>
<polyline points="1082.7,1326.9 1082.7,1191.6 1183.2,1191.6 1183.2,1197" fill="none" stroke="#000" stroke-width="2.4"/>
<text x="1133" y="1184.6" font-size="20.5" text-anchor="middle">&lt;0.0001</text>
<polyline points="1183.2,1191.6 1183.2,1142.4 1238.7,1142.4 1238.7,1158" fill="none" stroke="#000" stroke-width="2.4"/>
<text x="1224" y="1130.7" font-size="20.5" text-anchor="middle">&lt;0.0001</text>
<text x="768" y="1237" font-size="28.5" text-anchor="middle" transform="rotate(-90 768 1237)" textLength="267.7" lengthAdjust="spacingAndGlyphs">% Annexin V + cells</text>
<circle cx="1059.3" cy="1573.6" r="4.6" fill="#fff" stroke="#000" stroke-width="2.2"/>
<text x="1086.3" y="1580.2" font-size="18.7">Control</text>
<circle cx="1059.3" cy="1595.8" r="4.6" fill="#FF2600" stroke="#000" stroke-width="2.2"/>
<text x="1086.3" y="1602.9" font-size="18.7">Palbociclib - 0.3 μM</text>
<circle cx="1059.3" cy="1618.5" r="4.6" fill="#0433FF" stroke="#000" stroke-width="2.2"/>
<text x="1086.3" y="1625.5" font-size="18.7">BLU-222 - 0.3 μM</text>
<circle cx="1059.3" cy="1642.7" r="4.6" fill="#fff" stroke="#000" stroke-width="2.2"/>
<text x="1086.3" y="1649.8" font-size="18.7">Combo - 0.3 μM</text>
<line x1="816.6" y1="1668.8" x2="816.6" y2="1904.5" stroke="#000" stroke-width="3.2"/>
<line x1="803.6" y1="1903" x2="816.6" y2="1903" stroke="#000" stroke-width="3.2"/>
<text x="797.6" y="1911.6" font-size="24.5" text-anchor="end">0</text>
<line x1="803.6" y1="1856.4" x2="816.6" y2="1856.4" stroke="#000" stroke-width="3.2"/>
<text x="797.6" y="1865" font-size="24.5" text-anchor="end">5</text>
<line x1="803.6" y1="1809.8" x2="816.6" y2="1809.8" stroke="#000" stroke-width="3.2"/>
<text x="797.6" y="1818.4" font-size="24.5" text-anchor="end">10</text>
<line x1="803.6" y1="1763.2" x2="816.6" y2="1763.2" stroke="#000" stroke-width="3.2"/>
<text x="797.6" y="1771.8" font-size="24.5" text-anchor="end">15</text>
<line x1="803.6" y1="1716.6" x2="816.6" y2="1716.6" stroke="#000" stroke-width="3.2"/>
<text x="797.6" y="1725.2" font-size="24.5" text-anchor="end">20</text>
<line x1="803.6" y1="1670" x2="816.6" y2="1670" stroke="#000" stroke-width="3.2"/>
<text x="797.6" y="1678.6" font-size="24.5" text-anchor="end">25</text>
<rect x="832.7" y="1874.5" width="32" height="28.5" fill="#000"/>
<rect x="881" y="1878" width="32.5" height="25" fill="#FF2600"/>
<rect x="930" y="1835.4" width="32.4" height="67.6" fill="#0433FF"/>
<rect x="978" y="1724" width="33" height="179" fill="#FF9300"/>
<rect x="1060" y="1876.4" width="32" height="26.6" fill="#000"/>
<rect x="1109" y="1857" width="32" height="46" fill="#FF2600"/>
<rect x="1157" y="1825.6" width="33" height="77.4" fill="#0433FF"/>
<rect x="1206" y="1791" width="32" height="112" fill="#FF9300"/>
<line x1="804" y1="1903" x2="1254.3" y2="1903" stroke="#000" stroke-width="3.6"/>
<line x1="946" y1="1826.4" x2="946" y2="1844.4" stroke="#000" stroke-width="1.6"/>
<line x1="940" y1="1826.4" x2="952" y2="1826.4" stroke="#000" stroke-width="1.6"/>
<line x1="940" y1="1844.4" x2="952" y2="1844.4" stroke="#000" stroke-width="1.6"/>
<line x1="848.3" y1="1873" x2="848.3" y2="1876" stroke="#000" stroke-width="1.6"/>
<line x1="842.3" y1="1873" x2="854.3" y2="1873" stroke="#000" stroke-width="1.6"/>
<line x1="842.3" y1="1876" x2="854.3" y2="1876" stroke="#000" stroke-width="1.6"/>
<line x1="896.7" y1="1873" x2="896.7" y2="1880" stroke="#000" stroke-width="1.6"/>
<line x1="890.7" y1="1873" x2="902.7" y2="1873" stroke="#000" stroke-width="1.6"/>
<line x1="890.7" y1="1880" x2="902.7" y2="1880" stroke="#000" stroke-width="1.6"/>
<line x1="1222.3" y1="1782.6" x2="1222.3" y2="1799.4" stroke="#000" stroke-width="1.6"/>
<line x1="1216.3" y1="1782.6" x2="1228.3" y2="1782.6" stroke="#000" stroke-width="1.6"/>
<line x1="1216.3" y1="1799.4" x2="1228.3" y2="1799.4" stroke="#000" stroke-width="1.6"/>
<line x1="994" y1="1722" x2="994" y2="1726" stroke="#000" stroke-width="1.6"/>
<line x1="988" y1="1722" x2="1000" y2="1722" stroke="#000" stroke-width="1.6"/>
<line x1="988" y1="1726" x2="1000" y2="1726" stroke="#000" stroke-width="1.6"/>
<line x1="1076" y1="1873" x2="1076" y2="1877" stroke="#000" stroke-width="1.6"/>
<line x1="1070" y1="1873" x2="1082" y2="1873" stroke="#000" stroke-width="1.6"/>
<line x1="1070" y1="1877" x2="1082" y2="1877" stroke="#000" stroke-width="1.6"/>
<circle cx="837.3" cy="1878.4" r="4.9" fill="#fff" stroke="#000" stroke-width="2.3"/>
<circle cx="848.3" cy="1869.4" r="4.9" fill="#fff" stroke="#000" stroke-width="2.3"/>
<circle cx="860" cy="1875.6" r="4.9" fill="#fff" stroke="#000" stroke-width="2.3"/>
<circle cx="886.2" cy="1870.5" r="4.9" fill="#FF2600" stroke="#000" stroke-width="2.3"/>
<circle cx="908.5" cy="1877.6" r="4.9" fill="#FF2600" stroke="#000" stroke-width="2.3"/>
<circle cx="896.7" cy="1885" r="4.9" fill="#FF2600" stroke="#000" stroke-width="2.3"/>
<circle cx="946" cy="1820.5" r="4.9" fill="#0433FF" stroke="#000" stroke-width="2.3"/>
<circle cx="946" cy="1836.6" r="4.9" fill="#0433FF" stroke="#000" stroke-width="2.3"/>
<circle cx="946" cy="1849.8" r="4.9" fill="#0433FF" stroke="#000" stroke-width="2.3"/>
<circle cx="983.1" cy="1718.1" r="4.9" fill="#fff" stroke="#000" stroke-width="2.3"/>
<circle cx="983.1" cy="1727.9" r="4.9" fill="#fff" stroke="#000" stroke-width="2.3"/>
<circle cx="1005.4" cy="1724" r="4.9" fill="#fff" stroke="#000" stroke-width="2.3"/>
<circle cx="1064.8" cy="1871.7" r="4.9" fill="#fff" stroke="#000" stroke-width="2.3"/>
<circle cx="1064.8" cy="1882.3" r="4.9" fill="#fff" stroke="#000" stroke-width="2.3"/>
<circle cx="1087.4" cy="1874.5" r="4.9" fill="#fff" stroke="#000" stroke-width="2.3"/>
<circle cx="1113.6" cy="1856.1" r="4.9" fill="#FF2600" stroke="#000" stroke-width="2.3"/>
<circle cx="1135.5" cy="1856.9" r="4.9" fill="#FF2600" stroke="#000" stroke-width="2.3"/>
<circle cx="1113.6" cy="1863.5" r="4.9" fill="#FF2600" stroke="#000" stroke-width="2.3"/>
<circle cx="1161.7" cy="1826.8" r="4.9" fill="#0433FF" stroke="#000" stroke-width="2.3"/>
<circle cx="1173.4" cy="1824.8" r="4.9" fill="#0433FF" stroke="#000" stroke-width="2.3"/>
<circle cx="1184.4" cy="1825.6" r="4.9" fill="#0433FF" stroke="#000" stroke-width="2.3"/>
<circle cx="1222.3" cy="1775.6" r="4.9" fill="#fff" stroke="#000" stroke-width="2.3"/>
<circle cx="1222.3" cy="1793.6" r="4.9" fill="#fff" stroke="#000" stroke-width="2.3"/>
<circle cx="1222.3" cy="1804.9" r="4.9" fill="#fff" stroke="#000" stroke-width="2.3"/>
<line x1="921.4" y1="1903" x2="921.4" y2="1915" stroke="#000" stroke-width="3.6"/>
<text x="921.4" y="1943.8" font-size="31" text-anchor="middle" textLength="125" lengthAdjust="spacingAndGlyphs">HCC1806</text>
<line x1="1148" y1="1903" x2="1148" y2="1915" stroke="#000" stroke-width="3.6"/>
<text x="1148" y="1943.8" font-size="31" text-anchor="middle" textLength="155.1" lengthAdjust="spacingAndGlyphs">MDAMB157</text>
<polyline points="848.3,1683 848.3,1661.5 995.6,1661.5 995.6,1693.5" fill="none" stroke="#000" stroke-width="2.4"/>
<text x="924" y="1654.8" font-size="18.6" text-anchor="middle">&lt; 0.0001</text>
<polyline points="848.3,1709 848.3,1709 946,1709 946,1794" fill="none" stroke="#000" stroke-width="2.4"/>
<text x="903.8" y="1701.3" font-size="18.6" text-anchor="middle">0.0123</text>
<polyline points="1075.7,1858.8 1075.7,1743.5 1169.5,1743.5 1169.5,1794" fill="none" stroke="#000" stroke-width="2.4"/>
<text x="1123.8" y="1737.7" font-size="18.6" text-anchor="middle">0.0002</text>
<polyline points="1169.5,1743.5 1169.5,1694 1222.3,1694 1222.3,1737.7" fill="none" stroke="#000" stroke-width="2.4"/>
<text x="1196" y="1688.8" font-size="18.6" text-anchor="middle">0.0142</text>
<text x="770" y="1783.6" font-size="28.5" text-anchor="middle" transform="rotate(-90 770 1783.6)" textLength="252" lengthAdjust="spacingAndGlyphs">% Annexin V + cells</text>
<text x="929" y="2143" font-size="29" textLength="236.6" lengthAdjust="spacingAndGlyphs">Apoptosis Analysis</text>
<circle cx="851" cy="2182" r="4.6" fill="#fff" stroke="#000" stroke-width="2.2"/>
<text x="877.2" y="2189" font-size="18.7">Control</text>
<circle cx="851" cy="2205.6" r="4.6" fill="#FF2600" stroke="#000" stroke-width="2.2"/>
<text x="877.2" y="2212.6" font-size="18.7">Palbociclib - 0.3 μM</text>
<circle cx="851" cy="2229" r="4.6" fill="#0433FF" stroke="#000" stroke-width="2.2"/>
<text x="877.2" y="2236" font-size="18.7">BLU-222 - 0.3 μM</text>
<circle cx="851" cy="2252.5" r="4.6" fill="#FF9300" stroke="#000" stroke-width="2.2"/>
<text x="877.2" y="2258.7" font-size="18.7">Combo - 0.3 μM</text>
<line x1="828.7" y1="2195" x2="828.7" y2="2431.8" stroke="#000" stroke-width="3.2"/>
<line x1="815.7" y1="2430.3" x2="828.7" y2="2430.3" stroke="#000" stroke-width="3.2"/>
<text x="809.7" y="2438.9" font-size="24.5" text-anchor="end">0</text>
<line x1="815.7" y1="2383.5" x2="828.7" y2="2383.5" stroke="#000" stroke-width="3.2"/>
<text x="809.7" y="2392.1" font-size="24.5" text-anchor="end">5</text>
<line x1="815.7" y1="2336.7" x2="828.7" y2="2336.7" stroke="#000" stroke-width="3.2"/>
<text x="809.7" y="2345.3" font-size="24.5" text-anchor="end">10</text>
<line x1="815.7" y1="2289.8" x2="828.7" y2="2289.8" stroke="#000" stroke-width="3.2"/>
<text x="809.7" y="2298.4" font-size="24.5" text-anchor="end">15</text>
<line x1="815.7" y1="2243" x2="828.7" y2="2243" stroke="#000" stroke-width="3.2"/>
<text x="809.7" y="2251.6" font-size="24.5" text-anchor="end">20</text>
<line x1="815.7" y1="2196.2" x2="828.7" y2="2196.2" stroke="#000" stroke-width="3.2"/>
<text x="809.7" y="2204.8" font-size="24.5" text-anchor="end">25</text>
<rect x="844" y="2421.7" width="32.4" height="8.6" fill="#000"/>
<rect x="893" y="2401.4" width="32.3" height="28.9" fill="#FF2600"/>
<rect x="942" y="2379.9" width="32" height="50.4" fill="#0433FF"/>
<rect x="991" y="2401.4" width="32" height="28.9" fill="#FF9300"/>
<rect x="1072.6" y="2392.4" width="32.4" height="37.9" fill="#000"/>
<rect x="1120.7" y="2383.4" width="32.3" height="46.9" fill="#FF2600"/>
<rect x="1169.5" y="2382.6" width="32.5" height="47.7" fill="#0433FF"/>
<rect x="1218.4" y="2258.3" width="32.4" height="172" fill="#FF9300"/>
<line x1="815.8" y1="2430.3" x2="1267.2" y2="2430.3" stroke="#000" stroke-width="3.6"/>
<line x1="1137.1" y1="2374.8" x2="1137.1" y2="2390.4" stroke="#000" stroke-width="1.6"/>
<line x1="1131.1" y1="2374.8" x2="1143.1" y2="2374.8" stroke="#000" stroke-width="1.6"/>
<line x1="1131.1" y1="2390.4" x2="1143.1" y2="2390.4" stroke="#000" stroke-width="1.6"/>
<line x1="1234.8" y1="2240.8" x2="1234.8" y2="2252.8" stroke="#FF9300" stroke-width="1.6"/>
<line x1="1228.8" y1="2240.8" x2="1240.8" y2="2240.8" stroke="#FF9300" stroke-width="1.6"/>
<line x1="1186" y1="2378" x2="1186" y2="2386" stroke="#000" stroke-width="1.6"/>
<line x1="1180" y1="2378" x2="1192" y2="2378" stroke="#000" stroke-width="1.6"/>
<line x1="1180" y1="2386" x2="1192" y2="2386" stroke="#000" stroke-width="1.6"/>
<circle cx="849" cy="2421.7" r="4.9" fill="#fff" stroke="#000" stroke-width="2.3"/>
<circle cx="860.8" cy="2417.8" r="4.9" fill="#fff" stroke="#000" stroke-width="2.3"/>
<circle cx="872.5" cy="2420.5" r="4.9" fill="#fff" stroke="#000" stroke-width="2.3"/>
<circle cx="897.9" cy="2401" r="4.9" fill="#FF2600" stroke="#000" stroke-width="2.3"/>
<circle cx="909.6" cy="2400.2" r="4.9" fill="#FF2600" stroke="#000" stroke-width="2.3"/>
<circle cx="920.6" cy="2401" r="4.9" fill="#FF2600" stroke="#000" stroke-width="2.3"/>
<circle cx="947.5" cy="2380.7" r="4.9" fill="#0433FF" stroke="#000" stroke-width="2.3"/>
<circle cx="958.5" cy="2374.8" r="4.9" fill="#0433FF" stroke="#000" stroke-width="2.3"/>
<circle cx="969.4" cy="2378.7" r="4.9" fill="#0433FF" stroke="#000" stroke-width="2.3"/>
<circle cx="995.6" cy="2401" r="4.9" fill="#FF9300" stroke="#000" stroke-width="2.3"/>
<circle cx="1007.3" cy="2400.2" r="4.9" fill="#FF9300" stroke="#000" stroke-width="2.3"/>
<circle cx="1018.3" cy="2401" r="4.9" fill="#FF9300" stroke="#000" stroke-width="2.3"/>
<circle cx="1077.7" cy="2393.2" r="4.9" fill="#fff" stroke="#000" stroke-width="2.3"/>
<circle cx="1089.4" cy="2390.4" r="4.9" fill="#fff" stroke="#000" stroke-width="2.3"/>
<circle cx="1100.3" cy="2391.6" r="4.9" fill="#fff" stroke="#000" stroke-width="2.3"/>
<circle cx="1137.1" cy="2367" r="4.9" fill="#FF2600" stroke="#000" stroke-width="2.3"/>
<circle cx="1137.1" cy="2384.6" r="4.9" fill="#FF2600" stroke="#000" stroke-width="2.3"/>
<circle cx="1137.1" cy="2397" r="4.9" fill="#FF2600" stroke="#000" stroke-width="2.3"/>
<circle cx="1174.6" cy="2377.5" r="4.9" fill="#0433FF" stroke="#000" stroke-width="2.3"/>
<circle cx="1174.6" cy="2388.5" r="4.9" fill="#0433FF" stroke="#000" stroke-width="2.3"/>
<circle cx="1198" cy="2382.6" r="4.9" fill="#0433FF" stroke="#000" stroke-width="2.3"/>
<circle cx="1234.8" cy="2227.5" r="4.9" fill="#FF9300" stroke="#000" stroke-width="2.3"/>
<circle cx="1234.8" cy="2260.3" r="4.9" fill="#FF9300" stroke="#000" stroke-width="2.3"/>
<circle cx="1234.8" cy="2286.9" r="4.9" fill="#FF9300" stroke="#000" stroke-width="2.3"/>
<line x1="934.3" y1="2430.3" x2="934.3" y2="2442.3" stroke="#000" stroke-width="3.6"/>
<text x="934.3" y="2470.5" font-size="31" text-anchor="middle" textLength="209" lengthAdjust="spacingAndGlyphs">MDAMB231 Par</text>
<line x1="1163.3" y1="2430.3" x2="1163.3" y2="2442.3" stroke="#000" stroke-width="3.6"/>
<text x="1163.3" y="2470.5" font-size="31" text-anchor="middle" textLength="204.4" lengthAdjust="spacingAndGlyphs">MDAMB231 PR</text>
<polyline points="860.8,2400 860.8,2367 909.6,2367 909.6,2371" fill="none" stroke="#000" stroke-width="2.4"/>
<text x="894" y="2363" font-size="19" text-anchor="middle">0.0002</text>
<polyline points="860.8,2367 860.8,2340.4 958.5,2340.4 958.5,2372.8" fill="none" stroke="#000" stroke-width="2.4"/>
<text x="908.5" y="2329" font-size="19" text-anchor="middle">&lt; 0.0001</text>
<polyline points="860.8,2340.4 860.8,2296.6 1007.3,2296.6 1007.3,2384.6" fill="none" stroke="#000" stroke-width="2.4"/>
<text x="933.9" y="2288.8" font-size="19" text-anchor="middle">0.0002</text>
<polyline points="1087.4,2367 1087.4,2182 1234.8,2182 1234.8,2204.8" fill="none" stroke="#000" stroke-width="2.4"/>
<text x="1164.4" y="2175.5" font-size="19" text-anchor="middle">0.0015</text>
<text x="782" y="2309.4" font-size="28.5" text-anchor="middle" transform="rotate(-90 782 2309.4)" textLength="252" lengthAdjust="spacingAndGlyphs">% Annexin V + cells</text>
<rect x="1674.6" y="472.4" width="22.1" height="12.5" fill="#FF2600"/>
<text x="1705.9" y="484" font-size="15">Sub G1</text>
<rect x="1674.6" y="491.8" width="22.1" height="12.5" fill="#00C800"/>
<text x="1705.9" y="503.3" font-size="15">G1</text>
<rect x="1674.6" y="511.5" width="22.1" height="12.5" fill="#BB38E8"/>
<text x="1705.9" y="523" font-size="15">S</text>
<rect x="1674.6" y="534" width="22.1" height="12.5" fill="#FF9300"/>
<text x="1705.9" y="545.4" font-size="15">G2-M</text>
<rect x="1674.6" y="555.3" width="22.1" height="12.5" fill="#0433FF"/>
<text x="1705.9" y="566.8" font-size="15">Polyploid</text>
<text x="1462.4" y="607" font-size="20.5" font-weight="bold" text-anchor="middle">MCF7 Parental</text>
<text x="1649" y="607" font-size="20.5" font-weight="bold" text-anchor="middle">MCF7 PR1.2</text>
<rect x="1394.6" y="804.6" width="25.7" height="1.8" fill="#FF2600"/>
<rect x="1394.6" y="672.1" width="25.7" height="132.5" fill="#00C800"/>
<rect x="1394.6" y="645.8" width="25.7" height="26.3" fill="#BB38E8"/>
<rect x="1394.6" y="623.3" width="25.7" height="22.4" fill="#FF9300"/>
<rect x="1394.6" y="623" width="25.7" height="0.4" fill="#0433FF"/>
<rect x="1432.2" y="802.7" width="25.7" height="3.7" fill="#FF2600"/>
<rect x="1432.2" y="663.2" width="25.7" height="139.5" fill="#00C800"/>
<rect x="1432.2" y="640.8" width="25.7" height="22.4" fill="#BB38E8"/>
<rect x="1432.2" y="623.3" width="25.7" height="17.5" fill="#FF9300"/>
<rect x="1432.2" y="623.1" width="25.7" height="0.2" fill="#0433FF"/>
<rect x="1469.2" y="802.7" width="25.7" height="3.7" fill="#FF2600"/>
<rect x="1469.2" y="644.8" width="25.7" height="157.9" fill="#00C800"/>
<rect x="1469.2" y="632" width="25.7" height="12.9" fill="#BB38E8"/>
<rect x="1469.2" y="623.3" width="25.7" height="8.6" fill="#FF9300"/>
<rect x="1469.2" y="623" width="25.7" height="0.4" fill="#0433FF"/>
<rect x="1506.5" y="800.9" width="25.7" height="5.5" fill="#FF2600"/>
<rect x="1506.5" y="646.3" width="25.7" height="154.6" fill="#00C800"/>
<rect x="1506.5" y="632" width="25.7" height="14.4" fill="#BB38E8"/>
<rect x="1506.5" y="622.8" width="25.7" height="9.2" fill="#FF9300"/>
<rect x="1506.5" y="621.7" width="25.7" height="1.1" fill="#0433FF"/>
<rect x="1580.5" y="805.5" width="25.7" height="0.9" fill="#FF2600"/>
<rect x="1580.5" y="716.6" width="25.7" height="88.9" fill="#00C800"/>
<rect x="1580.5" y="692.9" width="25.7" height="23.7" fill="#BB38E8"/>
<rect x="1580.5" y="634.2" width="25.7" height="58.7" fill="#FF9300"/>
<rect x="1580.5" y="629.4" width="25.7" height="4.8" fill="#0433FF"/>
<rect x="1618" y="804.6" width="25.7" height="1.8" fill="#FF2600"/>
<rect x="1618" y="771.8" width="25.7" height="32.8" fill="#00C800"/>
<rect x="1618" y="760.4" width="25.7" height="11.4" fill="#BB38E8"/>
<rect x="1618" y="634.9" width="25.7" height="125.5" fill="#FF9300"/>
<rect x="1618" y="632" width="25.7" height="2.9" fill="#0433FF"/>
<rect x="1655.2" y="805.5" width="25.7" height="0.9" fill="#FF2600"/>
<rect x="1655.2" y="710.9" width="25.7" height="94.6" fill="#00C800"/>
<rect x="1655.2" y="684.2" width="25.7" height="26.7" fill="#BB38E8"/>
<rect x="1655.2" y="638.2" width="25.7" height="46" fill="#FF9300"/>
<rect x="1655.2" y="629.9" width="25.7" height="8.3" fill="#0433FF"/>
<rect x="1692.4" y="803.6" width="25.7" height="2.8" fill="#FF2600"/>
<rect x="1692.4" y="730.4" width="25.7" height="73.2" fill="#00C800"/>
<rect x="1692.4" y="710.7" width="25.7" height="19.7" fill="#BB38E8"/>
<rect x="1692.4" y="634.9" width="25.7" height="75.8" fill="#FF9300"/>
<rect x="1692.4" y="631" width="25.7" height="3.9" fill="#0433FF"/>
<line x1="1383.4" y1="621.4" x2="1383.4" y2="807.7" stroke="#000" stroke-width="2.6"/>
<line x1="1374.4" y1="806.4" x2="1383.4" y2="806.4" stroke="#000" stroke-width="2.6"/>
<text transform="translate(1370.9 813.2) scale(0.940 1)" font-size="19" text-anchor="end">0</text>
<line x1="1374.4" y1="769.6" x2="1383.4" y2="769.6" stroke="#000" stroke-width="2.6"/>
<text transform="translate(1370.9 776.4) scale(0.940 1)" font-size="19" text-anchor="end">20</text>
<line x1="1374.4" y1="732.8" x2="1383.4" y2="732.8" stroke="#000" stroke-width="2.6"/>
<text transform="translate(1370.9 739.6) scale(0.940 1)" font-size="19" text-anchor="end">40</text>
<line x1="1374.4" y1="696" x2="1383.4" y2="696" stroke="#000" stroke-width="2.6"/>
<text transform="translate(1370.9 702.8) scale(0.940 1)" font-size="19" text-anchor="end">60</text>
<line x1="1374.4" y1="659.2" x2="1383.4" y2="659.2" stroke="#000" stroke-width="2.6"/>
<text transform="translate(1370.9 666) scale(0.940 1)" font-size="19" text-anchor="end">80</text>
<line x1="1374.4" y1="622.4" x2="1383.4" y2="622.4" stroke="#000" stroke-width="2.6"/>
<text transform="translate(1370.9 629.2) scale(0.940 1)" font-size="19" text-anchor="end">100</text>
<line x1="1373.5" y1="806.4" x2="1729.9" y2="806.4" stroke="#000" stroke-width="2.6"/>
<line x1="1407.4" y1="806.4" x2="1407.4" y2="815.9" stroke="#000" stroke-width="2.6"/>
<line x1="1445" y1="806.4" x2="1445" y2="815.9" stroke="#000" stroke-width="2.6"/>
<line x1="1482" y1="806.4" x2="1482" y2="815.9" stroke="#000" stroke-width="2.6"/>
<line x1="1519.3" y1="806.4" x2="1519.3" y2="815.9" stroke="#000" stroke-width="2.6"/>
<line x1="1556.2" y1="806.4" x2="1556.2" y2="815.9" stroke="#000" stroke-width="2.6"/>
<line x1="1593.3" y1="806.4" x2="1593.3" y2="815.9" stroke="#000" stroke-width="2.6"/>
<line x1="1630.8" y1="806.4" x2="1630.8" y2="815.9" stroke="#000" stroke-width="2.6"/>
<line x1="1668" y1="806.4" x2="1668" y2="815.9" stroke="#000" stroke-width="2.6"/>
<line x1="1705.2" y1="806.4" x2="1705.2" y2="815.9" stroke="#000" stroke-width="2.6"/>
<text x="1337" y="711.6" font-size="21.5" text-anchor="middle" transform="rotate(-90 1337 711.6)" textLength="62.5" lengthAdjust="spacingAndGlyphs">% Cell</text>
<text x="1413.4" y="832.4" font-size="23.5" text-anchor="end" transform="rotate(-45 1413.4 832.4)">Vehicle</text>
<text x="1451" y="832.4" font-size="23.5" text-anchor="end" transform="rotate(-45 1451 832.4)">BLU222</text>
<text x="1488" y="832.4" font-size="23.5" text-anchor="end" transform="rotate(-45 1488 832.4)">Palbociclib</text>
<text x="1525.3" y="832.4" font-size="23.5" text-anchor="end" transform="rotate(-45 1525.3 832.4)">BLU222+Palbo</text>
<text x="1599.3" y="832.4" font-size="23.5" text-anchor="end" transform="rotate(-45 1599.3 832.4)">Vehicle</text>
<text x="1636.8" y="832.4" font-size="23.5" text-anchor="end" transform="rotate(-45 1636.8 832.4)">BLU222</text>
<text x="1674" y="832.4" font-size="23.5" text-anchor="end" transform="rotate(-45 1674 832.4)">Palbociclib</text>
<text x="1711.2" y="832.4" font-size="23.5" text-anchor="end" transform="rotate(-45 1711.2 832.4)">BLU222+Palbo</text>
<rect x="1701.6" y="984" width="22.4" height="13.2" fill="#FF2600"/>
<text x="1733.8" y="995.5" font-size="15">Sub G1</text>
<rect x="1701.6" y="1004.4" width="22.4" height="13.2" fill="#00C800"/>
<text x="1733.8" y="1016" font-size="15">G1</text>
<rect x="1701.6" y="1025" width="22.4" height="13.2" fill="#BB38E8"/>
<text x="1733.8" y="1036.3" font-size="15">S</text>
<rect x="1701.6" y="1048" width="22.4" height="13.2" fill="#FF9300"/>
<text x="1733.8" y="1059.7" font-size="15">G2-M</text>
<rect x="1701.6" y="1071" width="22.4" height="13.2" fill="#0433FF"/>
<text x="1733.8" y="1081.7" font-size="15">Polyploid</text>
<text x="1449.2" y="1105.8" font-size="20.5" font-weight="bold" text-anchor="middle">T47D Parental</text>
<text x="1636.8" y="1105.8" font-size="20.5" font-weight="bold" text-anchor="middle">T47D PR1.2</text>
<rect x="1386.1" y="1174.9" width="25.7" height="131.6" fill="#00C800"/>
<rect x="1386.1" y="1165.7" width="25.7" height="9.2" fill="#BB38E8"/>
<rect x="1386.1" y="1133.4" width="25.7" height="32.3" fill="#FF9300"/>
<rect x="1386.1" y="1127.7" width="25.7" height="5.7" fill="#0433FF"/>
<rect x="1423.2" y="1304.7" width="25.7" height="1.8" fill="#FF2600"/>
<rect x="1423.2" y="1182.1" width="25.7" height="122.6" fill="#00C800"/>
<rect x="1423.2" y="1170.6" width="25.7" height="11.5" fill="#BB38E8"/>
<rect x="1423.2" y="1132.7" width="25.7" height="37.9" fill="#FF9300"/>
<rect x="1423.2" y="1128.8" width="25.7" height="3.9" fill="#0433FF"/>
<rect x="1460.4" y="1305.6" width="25.7" height="0.9" fill="#FF2600"/>
<rect x="1460.4" y="1166.6" width="25.7" height="139" fill="#00C800"/>
<rect x="1460.4" y="1159.8" width="25.7" height="6.8" fill="#BB38E8"/>
<rect x="1460.4" y="1134.4" width="25.7" height="25.4" fill="#FF9300"/>
<rect x="1460.4" y="1129.6" width="25.7" height="4.8" fill="#0433FF"/>
<rect x="1497.2" y="1295" width="25.7" height="11.5" fill="#FF2600"/>
<rect x="1497.2" y="1159.8" width="25.7" height="135.2" fill="#00C800"/>
<rect x="1497.2" y="1146.2" width="25.7" height="13.6" fill="#BB38E8"/>
<rect x="1497.2" y="1127.5" width="25.7" height="18.6" fill="#FF9300"/>
<rect x="1497.2" y="1125.1" width="25.7" height="2.4" fill="#0433FF"/>
<rect x="1572" y="1201.3" width="25.7" height="105.2" fill="#00C800"/>
<rect x="1572" y="1174.9" width="25.7" height="26.4" fill="#BB38E8"/>
<rect x="1572" y="1128.8" width="25.7" height="46.1" fill="#FF9300"/>
<rect x="1572" y="1126.4" width="25.7" height="2.4" fill="#0433FF"/>
<rect x="1609.2" y="1301.5" width="25.7" height="5" fill="#FF2600"/>
<rect x="1609.2" y="1248.6" width="25.7" height="52.9" fill="#00C800"/>
<rect x="1609.2" y="1233.1" width="25.7" height="15.5" fill="#BB38E8"/>
<rect x="1609.2" y="1133.7" width="25.7" height="99.4" fill="#FF9300"/>
<rect x="1609.2" y="1126.1" width="25.7" height="7.6" fill="#0433FF"/>
<rect x="1646.4" y="1203.5" width="25.7" height="103" fill="#00C800"/>
<rect x="1646.4" y="1175.6" width="25.7" height="27.8" fill="#BB38E8"/>
<rect x="1646.4" y="1129.6" width="25.7" height="46.1" fill="#FF9300"/>
<rect x="1646.4" y="1127.2" width="25.7" height="2.4" fill="#0433FF"/>
<rect x="1683.5" y="1303.9" width="25.7" height="2.6" fill="#FF2600"/>
<rect x="1683.5" y="1242.4" width="25.7" height="61.6" fill="#00C800"/>
<rect x="1683.5" y="1221" width="25.7" height="21.4" fill="#BB38E8"/>
<rect x="1683.5" y="1126.8" width="25.7" height="94.2" fill="#FF9300"/>
<rect x="1683.5" y="1121.8" width="25.7" height="5" fill="#0433FF"/>
<line x1="1375.2" y1="1121.2" x2="1375.2" y2="1307.8" stroke="#000" stroke-width="2.6"/>
<line x1="1366.2" y1="1306.5" x2="1375.2" y2="1306.5" stroke="#000" stroke-width="2.6"/>
<text transform="translate(1362.7 1313.3) scale(0.940 1)" font-size="19" text-anchor="end">0</text>
<line x1="1366.2" y1="1269.6" x2="1375.2" y2="1269.6" stroke="#000" stroke-width="2.6"/>
<text transform="translate(1362.7 1276.4) scale(0.940 1)" font-size="19" text-anchor="end">20</text>
<line x1="1366.2" y1="1232.8" x2="1375.2" y2="1232.8" stroke="#000" stroke-width="2.6"/>
<text transform="translate(1362.7 1239.6) scale(0.940 1)" font-size="19" text-anchor="end">40</text>
<line x1="1366.2" y1="1195.9" x2="1375.2" y2="1195.9" stroke="#000" stroke-width="2.6"/>
<text transform="translate(1362.7 1202.7) scale(0.940 1)" font-size="19" text-anchor="end">60</text>
<line x1="1366.2" y1="1159.1" x2="1375.2" y2="1159.1" stroke="#000" stroke-width="2.6"/>
<text transform="translate(1362.7 1165.9) scale(0.940 1)" font-size="19" text-anchor="end">80</text>
<line x1="1366.2" y1="1122.2" x2="1375.2" y2="1122.2" stroke="#000" stroke-width="2.6"/>
<text transform="translate(1362.7 1129) scale(0.940 1)" font-size="19" text-anchor="end">100</text>
<line x1="1364.6" y1="1306.5" x2="1720.7" y2="1306.5" stroke="#000" stroke-width="2.6"/>
<line x1="1398.9" y1="1306.5" x2="1398.9" y2="1316" stroke="#000" stroke-width="2.6"/>
<line x1="1436" y1="1306.5" x2="1436" y2="1316" stroke="#000" stroke-width="2.6"/>
<line x1="1473.2" y1="1306.5" x2="1473.2" y2="1316" stroke="#000" stroke-width="2.6"/>
<line x1="1510" y1="1306.5" x2="1510" y2="1316" stroke="#000" stroke-width="2.6"/>
<line x1="1547.3" y1="1306.5" x2="1547.3" y2="1316" stroke="#000" stroke-width="2.6"/>
<line x1="1584.8" y1="1306.5" x2="1584.8" y2="1316" stroke="#000" stroke-width="2.6"/>
<line x1="1622" y1="1306.5" x2="1622" y2="1316" stroke="#000" stroke-width="2.6"/>
<line x1="1659.2" y1="1306.5" x2="1659.2" y2="1316" stroke="#000" stroke-width="2.6"/>
<line x1="1696.3" y1="1306.5" x2="1696.3" y2="1316" stroke="#000" stroke-width="2.6"/>
<text x="1328.6" y="1210" font-size="21.5" text-anchor="middle" transform="rotate(-90 1328.6 1210)" textLength="62.5" lengthAdjust="spacingAndGlyphs">% Cell</text>
<text x="1404.9" y="1332.5" font-size="23.5" text-anchor="end" transform="rotate(-45 1404.9 1332.5)">Vehicle</text>
<text x="1442" y="1332.5" font-size="23.5" text-anchor="end" transform="rotate(-45 1442 1332.5)">BLU222</text>
<text x="1479.2" y="1332.5" font-size="23.5" text-anchor="end" transform="rotate(-45 1479.2 1332.5)">Palbociclib</text>
<text x="1516" y="1332.5" font-size="23.5" text-anchor="end" transform="rotate(-45 1516 1332.5)">BLU222+Palbo</text>
<text x="1590.8" y="1332.5" font-size="23.5" text-anchor="end" transform="rotate(-45 1590.8 1332.5)">Vehicle</text>
<text x="1628" y="1332.5" font-size="23.5" text-anchor="end" transform="rotate(-45 1628 1332.5)">BLU222</text>
<text x="1665.2" y="1332.5" font-size="23.5" text-anchor="end" transform="rotate(-45 1665.2 1332.5)">Palbociclib</text>
<text x="1702.3" y="1332.5" font-size="23.5" text-anchor="end" transform="rotate(-45 1702.3 1332.5)">BLU222+Palbo</text>
<rect x="1679" y="1493.7" width="22" height="13.2" fill="#FF2600"/>
<text x="1710.8" y="1505.5" font-size="15">Sub G1</text>
<rect x="1679" y="1513.4" width="22" height="13.2" fill="#00C800"/>
<text x="1710.8" y="1525" font-size="15">G1</text>
<rect x="1679" y="1533.2" width="22" height="13.2" fill="#BB38E8"/>
<text x="1710.8" y="1544.7" font-size="15">S</text>
<rect x="1679" y="1556.2" width="22" height="13.2" fill="#FF9300"/>
<text x="1710.8" y="1567.7" font-size="15">G2-M</text>
<rect x="1679" y="1577.6" width="22" height="13.2" fill="#0433FF"/>
<text x="1710.8" y="1589.1" font-size="15">Polyploid</text>
<text x="1466.6" y="1636.2" font-size="20.5" font-weight="bold" text-anchor="middle">HCC1806</text>
<text x="1658.2" y="1636.2" font-size="20.5" font-weight="bold" text-anchor="middle">MDAMB157</text>
<rect x="1391.6" y="1838.6" width="26.3" height="7.5" fill="#FF2600"/>
<rect x="1391.6" y="1787.6" width="26.3" height="51" fill="#00C800"/>
<rect x="1391.6" y="1725.1" width="26.3" height="62.5" fill="#BB38E8"/>
<rect x="1391.6" y="1674.6" width="26.3" height="50.4" fill="#FF9300"/>
<rect x="1391.6" y="1660.8" width="26.3" height="13.8" fill="#0433FF"/>
<rect x="1430.4" y="1828.1" width="26.3" height="18" fill="#FF2600"/>
<rect x="1430.4" y="1779.4" width="26.3" height="48.7" fill="#00C800"/>
<rect x="1430.4" y="1736.6" width="26.3" height="42.8" fill="#BB38E8"/>
<rect x="1430.4" y="1666.4" width="26.3" height="70.2" fill="#FF9300"/>
<rect x="1430.4" y="1657" width="26.3" height="9.4" fill="#0433FF"/>
<rect x="1469.6" y="1839.2" width="26.3" height="6.9" fill="#FF2600"/>
<rect x="1469.6" y="1779.4" width="26.3" height="59.8" fill="#00C800"/>
<rect x="1469.6" y="1743.9" width="26.3" height="35.5" fill="#BB38E8"/>
<rect x="1469.6" y="1674.6" width="26.3" height="69.2" fill="#FF9300"/>
<rect x="1469.6" y="1660.2" width="26.3" height="14.4" fill="#0433FF"/>
<rect x="1508.4" y="1837.5" width="26.3" height="8.6" fill="#FF2600"/>
<rect x="1508.4" y="1790.9" width="26.3" height="46.6" fill="#00C800"/>
<rect x="1508.4" y="1788.2" width="26.3" height="2.7" fill="#BB38E8"/>
<rect x="1508.4" y="1654.3" width="26.3" height="133.9" fill="#FF9300"/>
<rect x="1585.8" y="1833.6" width="26.3" height="12.5" fill="#FF2600"/>
<rect x="1585.8" y="1784.3" width="26.3" height="49.3" fill="#00C800"/>
<rect x="1585.8" y="1738.9" width="26.3" height="45.5" fill="#BB38E8"/>
<rect x="1585.8" y="1680" width="26.3" height="58.9" fill="#FF9300"/>
<rect x="1585.8" y="1660.1" width="26.3" height="19.9" fill="#0433FF"/>
<rect x="1625.2" y="1813.1" width="26.3" height="33" fill="#FF2600"/>
<rect x="1625.2" y="1767.8" width="26.3" height="45.3" fill="#00C800"/>
<rect x="1625.2" y="1764.6" width="26.3" height="3.3" fill="#BB38E8"/>
<rect x="1625.2" y="1654.3" width="26.3" height="110.3" fill="#FF9300"/>
<rect x="1664" y="1831.3" width="26.3" height="14.8" fill="#FF2600"/>
<rect x="1664" y="1780.3" width="26.3" height="51" fill="#00C800"/>
<rect x="1664" y="1732.4" width="26.3" height="47.9" fill="#BB38E8"/>
<rect x="1664" y="1680" width="26.3" height="52.4" fill="#FF9300"/>
<rect x="1664" y="1660.1" width="26.3" height="19.9" fill="#0433FF"/>
<rect x="1702.5" y="1828.1" width="26.3" height="18" fill="#FF2600"/>
<rect x="1702.5" y="1775.3" width="26.3" height="52.7" fill="#00C800"/>
<rect x="1702.5" y="1772.1" width="26.3" height="3.3" fill="#BB38E8"/>
<rect x="1702.5" y="1674.1" width="26.3" height="98" fill="#FF9300"/>
<rect x="1702.5" y="1654.3" width="26.3" height="19.8" fill="#0433FF"/>
<line x1="1404.8" y1="1838.6" x2="1404.8" y2="1835" stroke="#C8501E" stroke-width="1.3"/>
<line x1="1398.8" y1="1835" x2="1410.8" y2="1835" stroke="#C8501E" stroke-width="1.3"/>
<line x1="1404.8" y1="1787.6" x2="1404.8" y2="1775.7" stroke="#3C9A2A" stroke-width="1.3"/>
<line x1="1398.8" y1="1775.7" x2="1410.8" y2="1775.7" stroke="#3C9A2A" stroke-width="1.3"/>
<line x1="1404.8" y1="1725.1" x2="1404.8" y2="1716.6" stroke="#A040C8" stroke-width="1.3"/>
<line x1="1398.8" y1="1716.6" x2="1410.8" y2="1716.6" stroke="#A040C8" stroke-width="1.3"/>
<line x1="1404.8" y1="1674.6" x2="1404.8" y2="1672.3" stroke="#D07818" stroke-width="1.3"/>
<line x1="1398.8" y1="1672.3" x2="1410.8" y2="1672.3" stroke="#D07818" stroke-width="1.3"/>
<line x1="1404.8" y1="1660.8" x2="1404.8" y2="1658.5" stroke="#2050E0" stroke-width="1.3"/>
<line x1="1398.8" y1="1658.5" x2="1410.8" y2="1658.5" stroke="#2050E0" stroke-width="1.3"/>
<line x1="1443.6" y1="1828.1" x2="1443.6" y2="1824" stroke="#C8501E" stroke-width="1.3"/>
<line x1="1437.6" y1="1824" x2="1449.6" y2="1824" stroke="#C8501E" stroke-width="1.3"/>
<line x1="1443.6" y1="1779.4" x2="1443.6" y2="1769" stroke="#3C9A2A" stroke-width="1.3"/>
<line x1="1437.6" y1="1769" x2="1449.6" y2="1769" stroke="#3C9A2A" stroke-width="1.3"/>
<line x1="1443.6" y1="1736.6" x2="1443.6" y2="1735.6" stroke="#A040C8" stroke-width="1.3"/>
<line x1="1437.6" y1="1735.6" x2="1449.6" y2="1735.6" stroke="#A040C8" stroke-width="1.3"/>
<line x1="1443.6" y1="1666.4" x2="1443.6" y2="1655.6" stroke="#D07818" stroke-width="1.3"/>
<line x1="1437.6" y1="1655.6" x2="1449.6" y2="1655.6" stroke="#D07818" stroke-width="1.3"/>
<line x1="1443.6" y1="1657" x2="1443.6" y2="1655.1" stroke="#2050E0" stroke-width="1.3"/>
<line x1="1437.6" y1="1655.1" x2="1449.6" y2="1655.1" stroke="#2050E0" stroke-width="1.3"/>
<line x1="1482.8" y1="1839.2" x2="1482.8" y2="1836.5" stroke="#C8501E" stroke-width="1.3"/>
<line x1="1476.8" y1="1836.5" x2="1488.8" y2="1836.5" stroke="#C8501E" stroke-width="1.3"/>
<line x1="1482.8" y1="1779.4" x2="1482.8" y2="1777.4" stroke="#3C9A2A" stroke-width="1.3"/>
<line x1="1476.8" y1="1777.4" x2="1488.8" y2="1777.4" stroke="#3C9A2A" stroke-width="1.3"/>
<line x1="1482.8" y1="1743.9" x2="1482.8" y2="1735.2" stroke="#A040C8" stroke-width="1.3"/>
<line x1="1476.8" y1="1735.2" x2="1488.8" y2="1735.2" stroke="#A040C8" stroke-width="1.3"/>
<line x1="1482.8" y1="1674.6" x2="1482.8" y2="1666.4" stroke="#D07818" stroke-width="1.3"/>
<line x1="1476.8" y1="1666.4" x2="1488.8" y2="1666.4" stroke="#D07818" stroke-width="1.3"/>
<line x1="1482.8" y1="1660.2" x2="1482.8" y2="1659.5" stroke="#2050E0" stroke-width="1.3"/>
<line x1="1476.8" y1="1659.5" x2="1488.8" y2="1659.5" stroke="#2050E0" stroke-width="1.3"/>
<line x1="1521.6" y1="1837.5" x2="1521.6" y2="1821.2" stroke="#C8501E" stroke-width="1.3"/>
<line x1="1515.6" y1="1821.2" x2="1527.6" y2="1821.2" stroke="#C8501E" stroke-width="1.3"/>
<line x1="1521.6" y1="1790.9" x2="1521.6" y2="1756.9" stroke="#3C9A2A" stroke-width="1.3"/>
<line x1="1515.6" y1="1756.9" x2="1527.6" y2="1756.9" stroke="#3C9A2A" stroke-width="1.3"/>
<line x1="1521.6" y1="1788.2" x2="1521.6" y2="1779.7" stroke="#A040C8" stroke-width="1.3"/>
<line x1="1515.6" y1="1779.7" x2="1527.6" y2="1779.7" stroke="#A040C8" stroke-width="1.3"/>
<line x1="1599" y1="1833.6" x2="1599" y2="1829.4" stroke="#C8501E" stroke-width="1.3"/>
<line x1="1593" y1="1829.4" x2="1605" y2="1829.4" stroke="#C8501E" stroke-width="1.3"/>
<line x1="1599" y1="1784.3" x2="1599" y2="1779.9" stroke="#3C9A2A" stroke-width="1.3"/>
<line x1="1593" y1="1779.9" x2="1605" y2="1779.9" stroke="#3C9A2A" stroke-width="1.3"/>
<line x1="1599" y1="1738.9" x2="1599" y2="1738.1" stroke="#A040C8" stroke-width="1.3"/>
<line x1="1593" y1="1738.1" x2="1605" y2="1738.1" stroke="#A040C8" stroke-width="1.3"/>
<line x1="1599" y1="1680" x2="1599" y2="1672.9" stroke="#D07818" stroke-width="1.3"/>
<line x1="1593" y1="1672.9" x2="1605" y2="1672.9" stroke="#D07818" stroke-width="1.3"/>
<line x1="1599" y1="1660.1" x2="1599" y2="1658.5" stroke="#2050E0" stroke-width="1.3"/>
<line x1="1593" y1="1658.5" x2="1605" y2="1658.5" stroke="#2050E0" stroke-width="1.3"/>
<line x1="1638.4" y1="1813.1" x2="1638.4" y2="1811" stroke="#C8501E" stroke-width="1.3"/>
<line x1="1632.4" y1="1811" x2="1644.4" y2="1811" stroke="#C8501E" stroke-width="1.3"/>
<line x1="1638.4" y1="1767.8" x2="1638.4" y2="1760.7" stroke="#3C9A2A" stroke-width="1.3"/>
<line x1="1632.4" y1="1760.7" x2="1644.4" y2="1760.7" stroke="#3C9A2A" stroke-width="1.3"/>
<line x1="1638.4" y1="1764.6" x2="1638.4" y2="1756.5" stroke="#A040C8" stroke-width="1.3"/>
<line x1="1632.4" y1="1756.5" x2="1644.4" y2="1756.5" stroke="#A040C8" stroke-width="1.3"/>
<line x1="1677.2" y1="1831.3" x2="1677.2" y2="1826.5" stroke="#C8501E" stroke-width="1.3"/>
<line x1="1671.2" y1="1826.5" x2="1683.2" y2="1826.5" stroke="#C8501E" stroke-width="1.3"/>
<line x1="1677.2" y1="1780.3" x2="1677.2" y2="1779" stroke="#3C9A2A" stroke-width="1.3"/>
<line x1="1671.2" y1="1779" x2="1683.2" y2="1779" stroke="#3C9A2A" stroke-width="1.3"/>
<line x1="1677.2" y1="1732.4" x2="1677.2" y2="1729.1" stroke="#A040C8" stroke-width="1.3"/>
<line x1="1671.2" y1="1729.1" x2="1683.2" y2="1729.1" stroke="#A040C8" stroke-width="1.3"/>
<line x1="1677.2" y1="1680" x2="1677.2" y2="1672.9" stroke="#D07818" stroke-width="1.3"/>
<line x1="1671.2" y1="1672.9" x2="1683.2" y2="1672.9" stroke="#D07818" stroke-width="1.3"/>
<line x1="1677.2" y1="1660.1" x2="1677.2" y2="1658.5" stroke="#2050E0" stroke-width="1.3"/>
<line x1="1671.2" y1="1658.5" x2="1683.2" y2="1658.5" stroke="#2050E0" stroke-width="1.3"/>
<line x1="1715.7" y1="1828.1" x2="1715.7" y2="1826.2" stroke="#C8501E" stroke-width="1.3"/>
<line x1="1709.7" y1="1826.2" x2="1721.7" y2="1826.2" stroke="#C8501E" stroke-width="1.3"/>
<line x1="1715.7" y1="1775.3" x2="1715.7" y2="1758.3" stroke="#3C9A2A" stroke-width="1.3"/>
<line x1="1709.7" y1="1758.3" x2="1721.7" y2="1758.3" stroke="#3C9A2A" stroke-width="1.3"/>
<line x1="1715.7" y1="1772.1" x2="1715.7" y2="1756.1" stroke="#A040C8" stroke-width="1.3"/>
<line x1="1709.7" y1="1756.1" x2="1721.7" y2="1756.1" stroke="#A040C8" stroke-width="1.3"/>
<line x1="1715.7" y1="1674.1" x2="1715.7" y2="1653.3" stroke="#D07818" stroke-width="1.3"/>
<line x1="1709.7" y1="1653.3" x2="1721.7" y2="1653.3" stroke="#D07818" stroke-width="1.3"/>
<line x1="1380.1" y1="1653.3" x2="1380.1" y2="1847.4" stroke="#000" stroke-width="2.6"/>
<line x1="1371.1" y1="1846.1" x2="1380.1" y2="1846.1" stroke="#000" stroke-width="2.6"/>
<text transform="translate(1367.6 1852.9) scale(0.940 1)" font-size="19.5" text-anchor="end">0</text>
<line x1="1371.1" y1="1807.7" x2="1380.1" y2="1807.7" stroke="#000" stroke-width="2.6"/>
<text transform="translate(1367.6 1814.5) scale(0.940 1)" font-size="19.5" text-anchor="end">20</text>
<line x1="1371.1" y1="1769.4" x2="1380.1" y2="1769.4" stroke="#000" stroke-width="2.6"/>
<text transform="translate(1367.6 1776.2) scale(0.940 1)" font-size="19.5" text-anchor="end">40</text>
<line x1="1371.1" y1="1731" x2="1380.1" y2="1731" stroke="#000" stroke-width="2.6"/>
<text transform="translate(1367.6 1737.8) scale(0.940 1)" font-size="19.5" text-anchor="end">60</text>
<line x1="1371.1" y1="1692.7" x2="1380.1" y2="1692.7" stroke="#000" stroke-width="2.6"/>
<text transform="translate(1367.6 1699.5) scale(0.940 1)" font-size="19.5" text-anchor="end">80</text>
<line x1="1371.1" y1="1654.3" x2="1380.1" y2="1654.3" stroke="#000" stroke-width="2.6"/>
<text transform="translate(1367.6 1661.1) scale(0.940 1)" font-size="19.5" text-anchor="end">100</text>
<line x1="1370.2" y1="1846.1" x2="1742" y2="1846.1" stroke="#000" stroke-width="2.6"/>
<line x1="1404.8" y1="1846.1" x2="1404.8" y2="1855.6" stroke="#000" stroke-width="2.6"/>
<line x1="1443.6" y1="1846.1" x2="1443.6" y2="1855.6" stroke="#000" stroke-width="2.6"/>
<line x1="1482.8" y1="1846.1" x2="1482.8" y2="1855.6" stroke="#000" stroke-width="2.6"/>
<line x1="1521.6" y1="1846.1" x2="1521.6" y2="1855.6" stroke="#000" stroke-width="2.6"/>
<line x1="1560.1" y1="1846.1" x2="1560.1" y2="1855.6" stroke="#000" stroke-width="2.6"/>
<line x1="1599" y1="1846.1" x2="1599" y2="1855.6" stroke="#000" stroke-width="2.6"/>
<line x1="1638.4" y1="1846.1" x2="1638.4" y2="1855.6" stroke="#000" stroke-width="2.6"/>
<line x1="1677.2" y1="1846.1" x2="1677.2" y2="1855.6" stroke="#000" stroke-width="2.6"/>
<line x1="1715.7" y1="1846.1" x2="1715.7" y2="1855.6" stroke="#000" stroke-width="2.6"/>
<text x="1332" y="1746.4" font-size="21.5" text-anchor="middle" transform="rotate(-90 1332 1746.4)" textLength="62.5" lengthAdjust="spacingAndGlyphs">% Cell</text>
<text x="1410.8" y="1872.1" font-size="23.5" text-anchor="end" transform="rotate(-45 1410.8 1872.1)">Vehicle</text>
<text x="1449.6" y="1872.1" font-size="23.5" text-anchor="end" transform="rotate(-45 1449.6 1872.1)">BLU-222</text>
<text x="1488.8" y="1872.1" font-size="23.5" text-anchor="end" transform="rotate(-45 1488.8 1872.1)">Palbociclib</text>
<text x="1527.6" y="1872.1" font-size="23.5" text-anchor="end" transform="rotate(-45 1527.6 1872.1)">BLU-222+Palbo</text>
<text x="1605" y="1872.1" font-size="23.5" text-anchor="end" transform="rotate(-45 1605 1872.1)">Vehicle</text>
<text x="1644.4" y="1872.1" font-size="23.5" text-anchor="end" transform="rotate(-45 1644.4 1872.1)">BLU-222</text>
<text x="1683.2" y="1872.1" font-size="23.5" text-anchor="end" transform="rotate(-45 1683.2 1872.1)">Palbociclib</text>
<text x="1721.7" y="1872.1" font-size="23.5" text-anchor="end" transform="rotate(-45 1721.7 1872.1)">BLU-222+Palbo</text>
<rect x="1698.6" y="2016.9" width="24.7" height="14" fill="#FF2600"/>
<text x="1733.8" y="2030" font-size="16.5">Sub G1</text>
<rect x="1698.6" y="2039.2" width="24.7" height="14" fill="#00C800"/>
<text x="1733.8" y="2051.7" font-size="16.5">G1</text>
<rect x="1698.6" y="2061.6" width="24.7" height="14" fill="#BB38E8"/>
<text x="1733.8" y="2074" font-size="16.5">S</text>
<rect x="1698.6" y="2087" width="24.7" height="14" fill="#FF9300"/>
<text x="1733.8" y="2100" font-size="16.5">G2-M</text>
<rect x="1698.6" y="2111" width="24.7" height="14" fill="#0433FF"/>
<text x="1733.8" y="2123.8" font-size="16.5">Polyploid</text>
<text x="1553.8" y="2128.7" font-size="21.5" font-weight="bold" text-anchor="middle">MDA-MB-231</text>
<text x="1473.9" y="2161" font-size="18.5" font-weight="bold" text-anchor="middle">Parental</text>
<text x="1653.2" y="2161" font-size="18.5" font-weight="bold" text-anchor="middle">PR</text>
<rect x="1404.5" y="2346.9" width="23.7" height="4.9" fill="#FF2600"/>
<rect x="1404.5" y="2246.5" width="23.7" height="100.5" fill="#00C800"/>
<rect x="1404.5" y="2211.9" width="23.7" height="34.5" fill="#BB38E8"/>
<rect x="1404.5" y="2179.1" width="23.7" height="32.8" fill="#FF9300"/>
<rect x="1404.5" y="2177.1" width="23.7" height="2.1" fill="#0433FF"/>
<rect x="1439.7" y="2342.6" width="23.7" height="9.2" fill="#FF2600"/>
<rect x="1439.7" y="2239" width="23.7" height="103.6" fill="#00C800"/>
<rect x="1439.7" y="2211.2" width="23.7" height="27.7" fill="#BB38E8"/>
<rect x="1439.7" y="2177.4" width="23.7" height="33.8" fill="#FF9300"/>
<rect x="1475.2" y="2338" width="23.7" height="13.8" fill="#FF2600"/>
<rect x="1475.2" y="2207.7" width="23.7" height="130.3" fill="#00C800"/>
<rect x="1475.2" y="2187.9" width="23.7" height="19.9" fill="#BB38E8"/>
<rect x="1475.2" y="2177.7" width="23.7" height="10.1" fill="#FF9300"/>
<rect x="1475.2" y="2177.1" width="23.7" height="0.7" fill="#0433FF"/>
<rect x="1510.5" y="2335.4" width="23.7" height="16.4" fill="#FF2600"/>
<rect x="1510.5" y="2185.6" width="23.7" height="149.8" fill="#00C800"/>
<rect x="1510.5" y="2180.7" width="23.7" height="4.9" fill="#BB38E8"/>
<rect x="1510.5" y="2179.7" width="23.7" height="1" fill="#FF9300"/>
<rect x="1581.2" y="2350.2" width="23.7" height="1.6" fill="#FF2600"/>
<rect x="1581.2" y="2279.4" width="23.7" height="70.8" fill="#00C800"/>
<rect x="1581.2" y="2266.9" width="23.7" height="12.6" fill="#BB38E8"/>
<rect x="1581.2" y="2198.2" width="23.7" height="68.7" fill="#FF9300"/>
<rect x="1581.2" y="2180" width="23.7" height="18.1" fill="#0433FF"/>
<rect x="1616.7" y="2349.2" width="23.7" height="2.6" fill="#FF2600"/>
<rect x="1616.7" y="2300.9" width="23.7" height="48.3" fill="#00C800"/>
<rect x="1616.7" y="2290.2" width="23.7" height="10.6" fill="#BB38E8"/>
<rect x="1616.7" y="2211.2" width="23.7" height="79" fill="#FF9300"/>
<rect x="1616.7" y="2184.7" width="23.7" height="26.5" fill="#0433FF"/>
<rect x="1652" y="2349.5" width="23.7" height="2.3" fill="#FF2600"/>
<rect x="1652" y="2280.5" width="23.7" height="69.1" fill="#00C800"/>
<rect x="1652" y="2268.6" width="23.7" height="11.9" fill="#BB38E8"/>
<rect x="1652" y="2199.7" width="23.7" height="68.9" fill="#FF9300"/>
<rect x="1652" y="2184" width="23.7" height="15.7" fill="#0433FF"/>
<rect x="1686.8" y="2348.5" width="23.7" height="3.3" fill="#FF2600"/>
<rect x="1686.8" y="2262" width="23.7" height="86.5" fill="#00C800"/>
<rect x="1686.8" y="2250.8" width="23.7" height="11.2" fill="#BB38E8"/>
<rect x="1686.8" y="2198.2" width="23.7" height="52.7" fill="#FF9300"/>
<rect x="1686.8" y="2187.3" width="23.7" height="10.8" fill="#0433FF"/>
<line x1="1593" y1="2180" x2="1593" y2="2178.1" stroke="#2050E0" stroke-width="1.3"/>
<line x1="1587" y1="2178.1" x2="1599" y2="2178.1" stroke="#2050E0" stroke-width="1.3"/>
<line x1="1593" y1="2198.2" x2="1593" y2="2196.2" stroke="#D07818" stroke-width="1.3"/>
<line x1="1587" y1="2196.2" x2="1599" y2="2196.2" stroke="#D07818" stroke-width="1.3"/>
<line x1="1628.5" y1="2184.7" x2="1628.5" y2="2184" stroke="#2050E0" stroke-width="1.3"/>
<line x1="1622.5" y1="2184" x2="1634.5" y2="2184" stroke="#2050E0" stroke-width="1.3"/>
<line x1="1628.5" y1="2211.2" x2="1628.5" y2="2209.5" stroke="#D07818" stroke-width="1.3"/>
<line x1="1622.5" y1="2209.5" x2="1634.5" y2="2209.5" stroke="#D07818" stroke-width="1.3"/>
<line x1="1663.8" y1="2199.7" x2="1663.8" y2="2198.7" stroke="#D07818" stroke-width="1.3"/>
<line x1="1657.8" y1="2198.7" x2="1669.8" y2="2198.7" stroke="#D07818" stroke-width="1.3"/>
<line x1="1698.6" y1="2187.3" x2="1698.6" y2="2183.7" stroke="#2050E0" stroke-width="1.3"/>
<line x1="1692.6" y1="2183.7" x2="1704.6" y2="2183.7" stroke="#2050E0" stroke-width="1.3"/>
<line x1="1698.6" y1="2198.2" x2="1698.6" y2="2193.1" stroke="#D07818" stroke-width="1.3"/>
<line x1="1692.6" y1="2193.1" x2="1704.6" y2="2193.1" stroke="#D07818" stroke-width="1.3"/>
<line x1="1698.6" y1="2262" x2="1698.6" y2="2251.5" stroke="#3C9A2A" stroke-width="1.3"/>
<line x1="1692.6" y1="2251.5" x2="1704.6" y2="2251.5" stroke="#3C9A2A" stroke-width="1.3"/>
<line x1="1593" y1="2279.4" x2="1593" y2="2275.8" stroke="#3C9A2A" stroke-width="1.3"/>
<line x1="1587" y1="2275.8" x2="1599" y2="2275.8" stroke="#3C9A2A" stroke-width="1.3"/>
<line x1="1416.3" y1="2211.9" x2="1416.3" y2="2210.5" stroke="#A040C8" stroke-width="1.3"/>
<line x1="1410.3" y1="2210.5" x2="1422.3" y2="2210.5" stroke="#A040C8" stroke-width="1.3"/>
<line x1="1451.5" y1="2211.2" x2="1451.5" y2="2209.8" stroke="#A040C8" stroke-width="1.3"/>
<line x1="1445.5" y1="2209.8" x2="1457.5" y2="2209.8" stroke="#A040C8" stroke-width="1.3"/>
<line x1="1393.3" y1="2176.4" x2="1393.3" y2="2353.1" stroke="#000" stroke-width="2.6"/>
<line x1="1384.3" y1="2351.8" x2="1393.3" y2="2351.8" stroke="#000" stroke-width="2.6"/>
<text transform="translate(1380.8 2358.6) scale(0.940 1)" font-size="17.5" text-anchor="end">0</text>
<line x1="1384.3" y1="2316.9" x2="1393.3" y2="2316.9" stroke="#000" stroke-width="2.6"/>
<text transform="translate(1380.8 2323.7) scale(0.940 1)" font-size="17.5" text-anchor="end">20</text>
<line x1="1384.3" y1="2282" x2="1393.3" y2="2282" stroke="#000" stroke-width="2.6"/>
<text transform="translate(1380.8 2288.8) scale(0.940 1)" font-size="17.5" text-anchor="end">40</text>
<line x1="1384.3" y1="2247.2" x2="1393.3" y2="2247.2" stroke="#000" stroke-width="2.6"/>
<text transform="translate(1380.8 2254) scale(0.940 1)" font-size="17.5" text-anchor="end">60</text>
<line x1="1384.3" y1="2212.3" x2="1393.3" y2="2212.3" stroke="#000" stroke-width="2.6"/>
<text transform="translate(1380.8 2219.1) scale(0.940 1)" font-size="17.5" text-anchor="end">80</text>
<line x1="1384.3" y1="2177.4" x2="1393.3" y2="2177.4" stroke="#000" stroke-width="2.6"/>
<text transform="translate(1380.8 2184.2) scale(0.940 1)" font-size="17.5" text-anchor="end">100</text>
<line x1="1383.4" y1="2351.8" x2="1722.3" y2="2351.8" stroke="#000" stroke-width="2.6"/>
<line x1="1416.3" y1="2351.8" x2="1416.3" y2="2361.3" stroke="#000" stroke-width="2.6"/>
<line x1="1451.5" y1="2351.8" x2="1451.5" y2="2361.3" stroke="#000" stroke-width="2.6"/>
<line x1="1487" y1="2351.8" x2="1487" y2="2361.3" stroke="#000" stroke-width="2.6"/>
<line x1="1522.3" y1="2351.8" x2="1522.3" y2="2361.3" stroke="#000" stroke-width="2.6"/>
<line x1="1557.8" y1="2351.8" x2="1557.8" y2="2361.3" stroke="#000" stroke-width="2.6"/>
<line x1="1593" y1="2351.8" x2="1593" y2="2361.3" stroke="#000" stroke-width="2.6"/>
<line x1="1628.5" y1="2351.8" x2="1628.5" y2="2361.3" stroke="#000" stroke-width="2.6"/>
<line x1="1663.8" y1="2351.8" x2="1663.8" y2="2361.3" stroke="#000" stroke-width="2.6"/>
<line x1="1698.6" y1="2351.8" x2="1698.6" y2="2361.3" stroke="#000" stroke-width="2.6"/>
<text x="1349" y="2261.3" font-size="21.5" text-anchor="middle" transform="rotate(-90 1349 2261.3)" textLength="58" lengthAdjust="spacingAndGlyphs">% Cell</text>
<text x="1422.3" y="2377.8" font-size="22.5" text-anchor="end" transform="rotate(-45 1422.3 2377.8)">Vehicle</text>
<text x="1457.5" y="2377.8" font-size="22.5" text-anchor="end" transform="rotate(-45 1457.5 2377.8)">BLU-222</text>
<text x="1493" y="2377.8" font-size="22.5" text-anchor="end" transform="rotate(-45 1493 2377.8)">Palbociclib</text>
<text x="1528.3" y="2377.8" font-size="22.5" text-anchor="end" transform="rotate(-45 1528.3 2377.8)">BLU-222+Palbo</text>
<text x="1599" y="2377.8" font-size="22.5" text-anchor="end" transform="rotate(-45 1599 2377.8)">Vehicle</text>
<text x="1634.5" y="2377.8" font-size="22.5" text-anchor="end" transform="rotate(-45 1634.5 2377.8)">BLU-222</text>
<text x="1669.8" y="2377.8" font-size="22.5" text-anchor="end" transform="rotate(-45 1669.8 2377.8)">Palbociclib</text>
<text x="1704.6" y="2377.8" font-size="22.5" text-anchor="end" transform="rotate(-45 1704.6 2377.8)">BLU-222+Palbo</text>
<text x="168.7" y="450.2" font-size="27.5" font-weight="bold" text-anchor="middle" textLength="190.4" lengthAdjust="spacingAndGlyphs">MCF7 parental</text>
<defs><linearGradient id="cb1" x1="0" x2="1" y1="0" y2="0"><stop offset="0" stop-color="#11D911"/><stop offset="0.5" stop-color="#ffffff"/><stop offset="1" stop-color="#EE1111"/></linearGradient></defs>
<rect x="22.6" y="481" width="290.1" height="4.3" fill="url(#cb1)"/>
<text x="23.6" y="472.8" font-size="9.5" text-anchor="middle">−20</text>
<text x="59.7" y="472.8" font-size="9.5" text-anchor="middle">−15</text>
<text x="95.8" y="472.8" font-size="9.5" text-anchor="middle">−10</text>
<text x="131.9" y="472.8" font-size="9.5" text-anchor="middle">−5</text>
<text x="167.9" y="472.8" font-size="9.5" text-anchor="middle">0</text>
<text x="204" y="472.8" font-size="9.5" text-anchor="middle">5</text>
<text x="240.1" y="472.8" font-size="9.5" text-anchor="middle">10</text>
<text x="276.2" y="472.8" font-size="9.5" text-anchor="middle">15</text>
<text x="312.3" y="472.8" font-size="9.5" text-anchor="middle">20</text>
<text x="24.2" y="513.7" font-size="26.8" font-weight="bold" textLength="128.9" lengthAdjust="spacingAndGlyphs">HSA: 7.40</text>
<line x1="214.8" y1="621.5" x2="218.4" y2="518" stroke="#000" stroke-width="0.8" stroke-dasharray="3,3"/>
<line x1="214.8" y1="621.5" x2="48.9" y2="676.9" stroke="#000" stroke-width="0.8" stroke-dasharray="3,3"/>
<line x1="214.8" y1="621.5" x2="285.9" y2="685" stroke="#000" stroke-width="0.8" stroke-dasharray="3,3"/>
<line x1="41.8" y1="567.7" x2="218.4" y2="518" stroke="#000" stroke-width="0.9"/>
<line x1="218.4" y1="518" x2="294.7" y2="575" stroke="#000" stroke-width="0.9"/>
<line x1="41.8" y1="567.7" x2="105.6" y2="636.1" stroke="#000" stroke-width="0.9"/>
<line x1="105.6" y1="636.1" x2="294.7" y2="575" stroke="#000" stroke-width="0.9"/>
<line x1="41.8" y1="567.7" x2="48.9" y2="676.9" stroke="#000" stroke-width="0.9"/>
<line x1="294.7" y1="575" x2="285.9" y2="685" stroke="#000" stroke-width="0.9"/>
<g transform="scale(.5)" stroke="#000" stroke-width="2" stroke-linejoin="round"><path class="q0" d="M425 1114l-6-9l16-6l6 10z"/><path class="q1" d="M432 1127l-7-13l16-5l7 15z"/><path class="q2" d="M409 1119l-7-8l17-6l6 9z"/><path class="q3" d="M438 1141l-6-14l16-3l6 15z"/><path class="q4" d="M416 1130l-7-11l16-5l7 13z"/><path class="q5" d="M445 1152l-7-11l16-2l7 12z"/><path class="q2" d="M393 1124l-7-6l16-7l7 8z"/><path class="q6" d="M422 1140l-6-10l16-3l6 14z"/><path class="q7" d="M452 1159l-7-7l16-1l7 8z"/><path class="q2" d="M376 1130l-6-5l16-7l7 6z"/><path class="q4" d="M399 1131l-6-7l16-5l7 11z"/><path class="q8" d="M429 1147l-7-7l16 1l7 11z"/><path class="q4" d="M360 1137l-7-5l17-7l6 5z"/><path class="q9" d="M459 1164l-7-5l16 0l7 6z"/><path class="q1" d="M406 1137l-7-6l17-1l6 10z"/><path class="q4" d="M383 1135l-7-5l17-6l6 7z"/><path class="q8" d="M436 1152l-7-5l16 5l7 7z"/><path class="q1" d="M343 1144l-6-5l16-7l7 5z"/><path class="q1" d="M413 1141l-7-4l16 3l7 7z"/><path class="q4" d="M366 1141l-6-4l16-7l7 5z"/><path class="q7" d="M466 1169l-7-5l16 1l7 5z"/><path class="q2" d="M390 1138l-7-3l16-4l7 6z"/><path class="q8" d="M443 1156l-7-4l16 7l7 5z"/><path class="q1" d="M326 1150l-6-5l17-6l6 5z"/><path class="q4" d="M350 1147l-7-3l17-7l6 4z"/><path class="q1" d="M420 1144l-7-3l16 6l7 5z"/><path class="q2" d="M373 1144l-7-3l17-6l7 3z"/><path class="q7" d="M473 1174l-7-5l16 1l7 6z"/><path class="q10" d="M309 1157l-6-5l17-7l6 5z"/><path class="q2" d="M397 1141l-7-3l16-1l7 4z"/><path class="q8" d="M450 1160l-7-4l16 8l7 5z"/><path class="q1" d="M333 1154l-7-4l17-6l7 3z"/><path class="q2" d="M356 1149l-6-2l16-6l7 3z"/><path class="q6" d="M292 1164l-6-5l17-7l6 5z"/><path class="q4" d="M427 1147l-7-3l16 8l7 4z"/><path class="q7" d="M481 1180l-8-6l16 2l8 5z"/><path class="q0" d="M380 1145l-7-1l17-6l7 3z"/><path class="q1" d="M316 1161l-7-4l17-7l7 4z"/><path class="q0" d="M404 1142l-7-1l16 0l7 3z"/><path class="q3" d="M458 1164l-8-4l16 9l7 5z"/><path class="q4" d="M339 1156l-6-2l17-7l6 2z"/><path class="q6" d="M275 1171l-6-5l17-7l6 5z"/><path class="q10" d="M299 1168l-7-4l17-7l7 4z"/><path class="q7" d="M488 1186l-7-6l16 1l7 6z"/><path class="q0" d="M363 1151l-7-2l17-5l7 1z"/><path class="q2" d="M434 1149l-7-2l16 9l7 4z"/><path class="q4" d="M322 1163l-6-2l17-7l6 2z"/><path class="q11" d="M387 1147l-7-2l17-4l7 1z"/><path class="q3" d="M258 1178l-6-5l17-7l6 5z"/><path class="q11" d="M411 1144l-7-2l16 2l7 3z"/><path class="q3" d="M465 1169l-7-5l15 10l8 6z"/><path class="q6" d="M281 1175l-6-4l17-7l7 4z"/><path class="q0" d="M346 1157l-7-1l17-7l7 2z"/><path class="q7" d="M495 1192l-7-6l16 1l7 7z"/><path class="q1" d="M305 1171l-6-3l17-7l6 2z"/><path class="q8" d="M240 1185l-6-5l18-7l6 5z"/><path class="q11" d="M370 1152l-7-1l17-6l7 2z"/><path class="q2" d="M442 1153l-8-4l16 11l8 4z"/><path class="q3" d="M264 1183l-6-5l17-7l6 4z"/><path class="q3" d="M472 1176l-7-7l16 11l7 6z"/><path class="q2" d="M329 1165l-7-2l17-7l7 1z"/><path class="q12" d="M394 1148l-7-1l17-5l7 2z"/><path class="q12" d="M418 1146l-7-2l16 3l7 2z"/><path class="q10" d="M288 1178l-7-3l18-7l6 3z"/><path class="q7" d="M503 1199l-8-7l16 2l8 6z"/><path class="q8" d="M223 1192l-6-5l17-7l6 5z"/><path class="q13" d="M353 1159l-7-2l17-6l7 1z"/><path class="q3" d="M246 1190l-6-5l18-7l6 5z"/><path class="q4" d="M312 1173l-7-2l17-8l7 2z"/><path class="q0" d="M449 1157l-7-4l16 11l7 5z"/><path class="q3" d="M479 1183l-7-7l16 10l7 6z"/><path class="q12" d="M377 1153l-7-1l17-5l7 1z"/><path class="q6" d="M270 1186l-6-3l17-8l7 3z"/><path class="q14" d="M205 1199l-6-5l18-7l6 5z"/><path class="q13" d="M336 1167l-7-2l17-8l7 2z"/><path class="q15" d="M401 1150l-7-2l17-4l7 2z"/><path class="q16" d="M425 1149l-7-3l16 3l8 4z"/><path class="q7" d="M510 1206l-7-7l16 1l7 7z"/><path class="q8" d="M229 1197l-6-5l17-7l6 5z"/><path class="q1" d="M294 1181l-6-3l17-7l7 2z"/><path class="q12" d="M360 1160l-7-1l17-7l7 1z"/><path class="q6" d="M253 1193l-7-3l18-7l6 3z"/><path class="q0" d="M456 1164l-7-7l16 12l7 7z"/><path class="q3" d="M487 1190l-8-7l16 9l8 7z"/><path class="q14" d="M187 1207l-6-6l18-7l6 5z"/><path class="q0" d="M318 1175l-6-2l17-8l7 2z"/><path class="q15" d="M384 1155l-7-2l17-5l7 2z"/><path class="q10" d="M277 1189l-7-3l18-8l6 3z"/><path class="q8" d="M211 1204l-6-5l18-7l6 5z"/><path class="q9" d="M518 1214l-8-8l16 1l8 7z"/><path class="q15" d="M432 1153l-7-4l17 4l7 4z"/><path class="q17" d="M408 1153l-7-3l17-4l7 3z"/><path class="q11" d="M342 1168l-6-1l17-8l7 1z"/><path class="q3" d="M235 1200l-6-3l17-7l7 3z"/><path class="q5" d="M169 1214l-6-5l18-8l6 6z"/><path class="q2" d="M301 1183l-7-2l18-8l6 2z"/><path class="q0" d="M463 1171l-7-7l16 12l7 7z"/><path class="q8" d="M494 1198l-7-8l16 9l7 7z"/><path class="q10" d="M259 1196l-6-3l17-7l7 3z"/><path class="q14" d="M193 1211l-6-4l18-8l6 5z"/><path class="q15" d="M367 1162l-7-2l17-7l7 2z"/><path class="q9" d="M525 1221l-7-7l16 0l7 7z"/><path class="q13" d="M325 1177l-7-2l18-8l6 1z"/><path class="q8" d="M217 1208l-6-4l18-7l6 3z"/><path class="q17" d="M391 1158l-7-3l17-5l7 3z"/><path class="q4" d="M283 1191l-6-2l17-8l7 2z"/><path class="q7" d="M151 1223l-6-6l18-8l6 5z"/><path class="q15" d="M440 1160l-8-7l17 4l7 7z"/><path class="q18" d="M415 1157l-7-4l17-4l7 4z"/><path class="q2" d="M471 1179l-8-8l16 12l8 7z"/><path class="q8" d="M502 1206l-8-8l16 8l8 8z"/><path class="q6" d="M241 1204l-6-4l18-7l6 3z"/><path class="q5" d="M175 1219l-6-5l18-7l6 4z"/><path class="q16" d="M349 1171l-7-3l18-8l7 2z"/><path class="q0" d="M307 1186l-6-3l17-8l7 2z"/><path class="q9" d="M133 1232l-6-6l18-9l6 6z"/><path class="q8" d="M199 1216l-6-5l18-7l6 4z"/><path class="q19" d="M533 1229l-8-8l16 0l8 7z"/><path class="q1" d="M265 1199l-6-3l18-7l6 2z"/><path class="q17" d="M374 1166l-7-4l17-7l7 3z"/><path class="q15" d="M447 1167l-7-7l16 4l7 7z"/><path class="q12" d="M332 1180l-7-3l17-9l7 3z"/><path class="q7" d="M157 1228l-6-5l18-9l6 5z"/><path class="q3" d="M223 1211l-6-3l18-8l6 4z"/><path class="q18" d="M398 1163l-7-5l17-5l7 4z"/><path class="q2" d="M478 1188l-7-9l16 11l7 8z"/><path class="q14" d="M509 1215l-7-9l16 8l7 7z"/><path class="q2" d="M290 1194l-7-3l18-8l6 3z"/><path class="q18" d="M423 1164l-8-7l17-4l8 7z"/><path class="q20" d="M115 1243l-6-7l18-10l6 6z"/><path class="q14" d="M181 1224l-6-5l18-8l6 5z"/><path class="q10" d="M247 1207l-6-3l18-8l6 3z"/><path class="q15" d="M356 1174l-7-3l18-9l7 4z"/><path class="q19" d="M541 1238l-8-9l16-1l8 8z"/><path class="q13" d="M314 1189l-7-3l18-9l7 3z"/><path class="q9" d="M139 1238l-6-6l18-9l6 5z"/><path class="q8" d="M205 1219l-6-3l18-8l6 3z"/><path class="q21" d="M97 1255l-6-7l18-12l6 7z"/><path class="q16" d="M454 1175l-7-8l16 4l8 8z"/><path class="q18" d="M381 1170l-7-4l17-8l7 5z"/><path class="q4" d="M272 1202l-7-3l18-8l7 3z"/><path class="q4" d="M486 1197l-8-9l16 10l8 8z"/><path class="q5" d="M517 1224l-8-9l16 6l8 8z"/><path class="q5" d="M163 1233l-6-5l18-9l6 5z"/><path class="q18" d="M405 1169l-7-6l17-6l8 7z"/><path class="q18" d="M430 1171l-7-7l17-4l7 7z"/><path class="q16" d="M338 1183l-6-3l17-9l7 3z"/><path class="q6" d="M229 1215l-6-4l18-7l6 3z"/><path class="q20" d="M120 1249l-5-6l18-11l6 6z"/><path class="q0" d="M296 1197l-6-3l17-8l7 3z"/><path class="q20" d="M548 1248l-7-10l16-2l8 9z"/><path class="q8" d="M187 1228l-6-4l18-8l6 3z"/><path class="q17" d="M363 1179l-7-5l18-8l7 4z"/><path class="q1" d="M254 1210l-7-3l18-8l7 3z"/><path class="q12" d="M462 1184l-8-9l17 4l7 9z"/><path class="q9" d="M145 1243l-6-5l18-10l6 5z"/><path class="q1" d="M493 1207l-7-10l16 9l7 9z"/><path class="q21" d="M102 1261l-5-6l18-12l5 6z"/><path class="q11" d="M321 1192l-7-3l18-9l6 3z"/><path class="q7" d="M524 1235l-7-11l16 5l8 9z"/><path class="q18" d="M388 1177l-7-7l17-7l7 6z"/><path class="q3" d="M211 1223l-6-4l18-8l6 4z"/><path class="q17" d="M437 1180l-7-9l17-4l7 8z"/><path class="q18" d="M412 1177l-7-8l18-5l7 7z"/><path class="q2" d="M278 1206l-6-4l18-8l6 3z"/><path class="q5" d="M169 1238l-6-5l18-9l6 4z"/><path class="q22" d="M556 1258l-8-10l17-3l8 9z"/><path class="q16" d="M345 1188l-7-5l18-9l7 5z"/><path class="q19" d="M126 1255l-6-6l19-11l6 5z"/><path class="q10" d="M236 1218l-7-3l18-8l7 3z"/><path class="q13" d="M303 1201l-7-4l18-8l7 3z"/><path class="q11" d="M469 1194l-7-10l16 4l8 9z"/><path class="q10" d="M501 1218l-8-11l16 8l8 9z"/><path class="q17" d="M370 1185l-7-6l18-9l7 7z"/><path class="q9" d="M532 1247l-8-12l17 3l7 10z"/><path class="q8" d="M193 1232l-6-4l18-9l6 4z"/><path class="q4" d="M260 1214l-6-4l18-8l6 4z"/><path class="q7" d="M150 1248l-5-5l18-10l6 5z"/><path class="q21" d="M108 1268l-6-7l18-12l6 6z"/><path class="q17" d="M395 1185l-7-8l17-8l7 8z"/><path class="q15" d="M444 1189l-7-9l17-5l8 9z"/><path class="q17" d="M420 1185l-8-8l18-6l7 9z"/><path class="q12" d="M328 1197l-7-5l17-9l7 5z"/><path class="q21" d="M564 1269l-8-11l17-4l7 10z"/><path class="q6" d="M218 1227l-7-4l18-8l7 3z"/><path class="q0" d="M285 1210l-7-4l18-9l7 4z"/><path class="q14" d="M175 1242l-6-4l18-10l6 4z"/><path class="q15" d="M352 1195l-7-7l18-9l7 6z"/><path class="q13" d="M476 1205l-7-11l17 3l7 10z"/><path class="q3" d="M508 1231l-7-13l16 6l7 11z"/><path class="q20" d="M539 1260l-7-13l16 1l8 10z"/><path class="q19" d="M132 1261l-6-6l19-12l5 5z"/><path class="q1" d="M242 1222l-6-4l18-8l6 4z"/><path class="q17" d="M377 1193l-7-8l18-8l7 8z"/><path class="q11" d="M310 1206l-7-5l18-9l7 5z"/><path class="q16" d="M452 1199l-8-10l18-5l7 10z"/><path class="q17" d="M402 1193l-7-8l17-8l8 8z"/><path class="q15" d="M427 1195l-7-10l17-5l7 9z"/><path class="q3" d="M199 1236l-6-4l18-9l7 4z"/><path class="q21" d="M114 1275l-6-7l18-13l6 6z"/><path class="q7" d="M156 1254l-6-6l19-10l6 4z"/><path class="q2" d="M267 1218l-7-4l18-8l7 4z"/><path class="q12" d="M334 1204l-6-7l17-9l7 7z"/><path class="q14" d="M515 1245l-7-14l16 4l8 12z"/><path class="q21" d="M547 1275l-8-15l17-2l8 11z"/><path class="q2" d="M484 1217l-8-12l17 2l8 11z"/><path class="q10" d="M224 1231l-6-4l18-9l6 4z"/><path class="q16" d="M359 1203l-7-8l18-10l7 8z"/><path class="q13" d="M292 1215l-7-5l18-9l7 5z"/><path class="q8" d="M181 1247l-6-5l18-10l6 4z"/><path class="q19" d="M138 1266l-6-5l18-13l6 6z"/><path class="q12" d="M459 1209l-7-10l17-5l7 11z"/><path class="q15" d="M384 1202l-7-9l18-8l7 8z"/><path class="q9" d="M523 1262l-8-17l17 2l7 13z"/><path class="q15" d="M409 1202l-7-9l18-8l7 10z"/><path class="q16" d="M434 1204l-7-9l17-6l8 10z"/><path class="q11" d="M316 1213l-6-7l18-9l6 7z"/><path class="q4" d="M249 1227l-7-5l18-8l7 4z"/><path class="q1" d="M491 1231l-7-14l17 1l7 13z"/><path class="q22" d="M120 1281l-6-6l18-14l6 5z"/><path class="q12" d="M341 1212l-7-8l18-9l7 8z"/><path class="q6" d="M205 1241l-6-5l19-9l6 4z"/><path class="q22" d="M530 1281l-7-19l16-2l8 15z"/><path class="q5" d="M162 1259l-6-5l19-12l6 5z"/><path class="q0" d="M273 1224l-6-6l18-8l7 5z"/><path class="q16" d="M366 1211l-7-8l18-10l7 9z"/><path class="q13" d="M466 1222l-7-13l17-4l8 12z"/><path class="q6" d="M498 1247l-7-16l17 0l7 14z"/><path class="q16" d="M392 1211l-8-9l18-9l7 9z"/><path class="q13" d="M298 1222l-6-7l18-9l6 7z"/><path class="q1" d="M230 1236l-6-5l18-9l7 5z"/><path class="q12" d="M442 1215l-8-11l18-5l7 10z"/><path class="q16" d="M417 1212l-8-10l18-7l7 9z"/><path class="q9" d="M144 1272l-6-6l18-12l6 5z"/><path class="q3" d="M187 1252l-6-5l18-11l6 5z"/><path class="q11" d="M323 1221l-7-8l18-9l7 8z"/><path class="q5" d="M506 1265l-8-18l17-2l8 17z"/><path class="q2" d="M255 1232l-6-5l18-9l6 6z"/><path class="q2" d="M474 1236l-8-14l18-5l7 14z"/><path class="q11" d="M348 1220l-7-8l18-9l7 8z"/><path class="q22" d="M125 1288l-5-7l18-15l6 6z"/><path class="q20" d="M512 1287l-6-22l17-3l7 19z"/><path class="q10" d="M212 1246l-7-5l19-10l6 5z"/><path class="q12" d="M374 1220l-8-9l18-9l8 9z"/><path class="q0" d="M280 1230l-7-6l19-9l6 7z"/><path class="q13" d="M449 1228l-7-13l17-6l7 13z"/><path class="q14" d="M168 1264l-6-5l19-12l6 5z"/><path class="q12" d="M399 1220l-7-9l17-9l8 10z"/><path class="q11" d="M424 1223l-7-11l17-8l8 11z"/><path class="q13" d="M305 1230l-7-8l18-9l7 8z"/><path class="q10" d="M481 1252l-7-16l17-5l7 16z"/><path class="q4" d="M237 1242l-7-6l19-9l6 5z"/><path class="q13" d="M330 1229l-7-8l18-9l7 8z"/><path class="q9" d="M150 1279l-6-7l18-13l6 5z"/><path class="q3" d="M193 1257l-6-5l18-11l7 5z"/><path class="q14" d="M488 1271l-7-19l17-5l8 18z"/><path class="q2" d="M456 1242l-7-14l17-6l8 14z"/><path class="q11" d="M356 1229l-8-9l18-9l8 9z"/><path class="q2" d="M262 1239l-7-7l18-8l7 6z"/><path class="q11" d="M381 1229l-7-9l18-9l7 9z"/><path class="q20" d="M495 1294l-7-23l18-6l6 22z"/><path class="q13" d="M431 1235l-7-12l18-8l7 13z"/><path class="q22" d="M131 1295l-6-7l19-16l6 7z"/><path class="q11" d="M406 1231l-7-11l18-8l7 11z"/><path class="q0" d="M287 1238l-7-8l18-8l7 8z"/><path class="q10" d="M218 1252l-6-6l18-10l7 6z"/><path class="q14" d="M175 1270l-7-6l19-12l6 5z"/><path class="q10" d="M463 1258l-7-16l18-6l7 16z"/><path class="q0" d="M312 1238l-7-8l18-9l7 8z"/><path class="q13" d="M337 1238l-7-9l18-9l8 9z"/><path class="q4" d="M243 1249l-6-7l18-10l7 7z"/><path class="q4" d="M438 1249l-7-14l18-7l7 14z"/><path class="q13" d="M363 1239l-7-10l18-9l7 9z"/><path class="q14" d="M471 1277l-8-19l18-6l7 19z"/><path class="q9" d="M156 1285l-6-6l18-15l7 6z"/><path class="q13" d="M388 1240l-7-11l18-9l7 11z"/><path class="q0" d="M413 1243l-7-12l18-8l7 12z"/><path class="q6" d="M199 1263l-6-6l19-11l6 6z"/><path class="q2" d="M268 1247l-6-8l18-9l7 8z"/><path class="q20" d="M478 1300l-7-23l17-6l7 23z"/><path class="q22" d="M137 1302l-6-7l19-16l6 6z"/><path class="q2" d="M294 1246l-7-8l18-8l7 8z"/><path class="q6" d="M446 1265l-8-16l18-7l7 16z"/><path class="q0" d="M319 1246l-7-8l18-9l7 9z"/><path class="q10" d="M225 1259l-7-7l19-10l6 7z"/><path class="q14" d="M181 1277l-6-7l18-13l6 6z"/><path class="q0" d="M344 1247l-7-9l19-9l7 10z"/><path class="q4" d="M421 1257l-8-14l18-8l7 14z"/><path class="q0" d="M370 1249l-7-10l18-10l7 11z"/><path class="q2" d="M395 1252l-7-12l18-9l7 12z"/><path class="q4" d="M250 1256l-7-7l19-10l6 8z"/><path class="q14" d="M453 1284l-7-19l17-7l8 19z"/><path class="q20" d="M460 1306l-7-22l18-7l7 23z"/><path class="q7" d="M162 1292l-6-7l19-15l6 7z"/><path class="q4" d="M275 1255l-7-8l19-9l7 8z"/><path class="q6" d="M206 1270l-7-7l19-11l7 7z"/><path class="q2" d="M301 1255l-7-9l18-8l7 8z"/><path class="q6" d="M428 1273l-7-16l17-8l8 16z"/><path class="q22" d="M143 1309l-6-7l19-17l6 7z"/><path class="q2" d="M326 1256l-7-10l18-8l7 9z"/><path class="q1" d="M403 1265l-8-13l18-9l8 14z"/><path class="q2" d="M352 1258l-8-11l19-8l7 10z"/><path class="q10" d="M231 1267l-6-8l18-10l7 7z"/><path class="q4" d="M377 1260l-7-11l18-9l7 12z"/><path class="q14" d="M187 1284l-6-7l18-14l7 7z"/><path class="q5" d="M435 1291l-7-18l18-8l7 19z"/><path class="q1" d="M257 1265l-7-9l18-9l7 8z"/><path class="q20" d="M442 1312l-7-21l18-7l7 22z"/><path class="q4" d="M282 1264l-7-9l19-9l7 9z"/><path class="q3" d="M410 1280l-7-15l18-8l7 16z"/><path class="q7" d="M168 1299l-6-7l19-15l6 7z"/><path class="q6" d="M212 1278l-6-8l19-11l6 8z"/><path class="q4" d="M308 1264l-7-9l18-9l7 10z"/><path class="q10" d="M384 1273l-7-13l18-8l8 13z"/><path class="q4" d="M333 1266l-7-10l18-9l8 11z"/><path class="q1" d="M359 1269l-7-11l18-9l7 11z"/><path class="q22" d="M150 1317l-7-8l19-17l6 7z"/><path class="q10" d="M238 1275l-7-8l19-11l7 9z"/><path class="q5" d="M417 1298l-7-18l18-7l7 18z"/><path class="q14" d="M194 1291l-7-7l19-14l6 8z"/><path class="q1" d="M263 1273l-6-8l18-10l7 9z"/><path class="q22" d="M424 1319l-7-21l18-7l7 21z"/><path class="q3" d="M392 1288l-8-15l19-8l7 15z"/><path class="q1" d="M289 1273l-7-9l19-9l7 9z"/><path class="q6" d="M366 1282l-7-13l18-9l7 13z"/><path class="q1" d="M315 1274l-7-10l18-8l7 10z"/><path class="q10" d="M340 1277l-7-11l19-8l7 11z"/><path class="q3" d="M219 1286l-7-8l19-11l7 8z"/><path class="q7" d="M175 1306l-7-7l19-15l7 7z"/><path class="q7" d="M399 1305l-7-17l18-8l7 18z"/><path class="q22" d="M156 1324l-6-7l18-18l7 7z"/><path class="q6" d="M244 1283l-6-8l19-10l6 8z"/><path class="q10" d="M270 1282l-7-9l19-9l7 9z"/><path class="q8" d="M373 1296l-7-14l18-9l8 15z"/><path class="q14" d="M200 1299l-6-8l18-13l7 8z"/><path class="q22" d="M406 1325l-7-20l18-7l7 21z"/><path class="q10" d="M296 1283l-7-10l19-9l7 10z"/><path class="q6" d="M347 1289l-7-12l19-8l7 13z"/><path class="q10" d="M322 1285l-7-11l18-8l7 11z"/><path class="q3" d="M226 1294l-7-8l19-11l6 8z"/><path class="q9" d="M181 1314l-6-8l19-15l6 8z"/><path class="q7" d="M380 1312l-7-16l19-8l7 17z"/><path class="q6" d="M251 1292l-7-9l19-10l7 9z"/><path class="q22" d="M162 1331l-6-7l19-18l6 8z"/><path class="q14" d="M355 1303l-8-14l19-7l7 14z"/><path class="q6" d="M277 1292l-7-10l19-9l7 10z"/><path class="q22" d="M388 1332l-8-20l19-7l7 20z"/><path class="q3" d="M329 1297l-7-12l18-8l7 12z"/><path class="q6" d="M303 1294l-7-11l19-9l7 11z"/><path class="q14" d="M207 1307l-7-8l19-13l7 8z"/><path class="q8" d="M232 1303l-6-9l18-11l7 9z"/><path class="q7" d="M362 1319l-7-16l18-7l7 16z"/><path class="q9" d="M187 1322l-6-8l19-15l7 8z"/><path class="q3" d="M258 1302l-7-10l19-10l7 10z"/><path class="q14" d="M336 1311l-7-14l18-8l8 14z"/><path class="q3" d="M284 1302l-7-10l19-9l7 11z"/><path class="q8" d="M310 1305l-7-11l19-9l7 12z"/><path class="q22" d="M369 1338l-7-19l18-7l8 20z"/><path class="q22" d="M168 1338l-6-7l19-17l6 8z"/><path class="q5" d="M213 1315l-6-8l19-13l6 9z"/><path class="q9" d="M343 1327l-7-16l19-8l7 16z"/><path class="q8" d="M239 1312l-7-9l19-11l7 10z"/><path class="q9" d="M194 1330l-7-8l20-15l6 8z"/><path class="q5" d="M317 1319l-7-14l19-8l7 14z"/><path class="q8" d="M265 1312l-7-10l19-10l7 10z"/><path class="q8" d="M291 1314l-7-12l19-8l7 11z"/><path class="q22" d="M351 1345l-8-18l19-8l7 19z"/><path class="q22" d="M175 1346l-7-8l19-16l7 8z"/><path class="q5" d="M220 1324l-7-9l19-12l7 9z"/><path class="q9" d="M324 1334l-7-15l19-8l7 16z"/><path class="q14" d="M246 1322l-7-10l19-10l7 10z"/><path class="q5" d="M298 1327l-7-13l19-9l7 14z"/><path class="q14" d="M272 1323l-7-11l19-10l7 12z"/><path class="q9" d="M201 1338l-7-8l19-15l7 9z"/><path class="q22" d="M332 1351l-8-17l19-7l8 18z"/><path class="q7" d="M227 1333l-7-9l19-12l7 10z"/><path class="q22" d="M181 1354l-6-8l19-16l7 8z"/><path class="q9" d="M305 1341l-7-14l19-8l7 15z"/><path class="q5" d="M253 1333l-7-11l19-10l7 11z"/><path class="q7" d="M279 1335l-7-12l19-9l7 13z"/><path class="q19" d="M207 1346l-6-8l19-14l7 9z"/><path class="q22" d="M313 1358l-8-17l19-7l8 17z"/><path class="q9" d="M233 1343l-6-10l19-11l7 11z"/><path class="q19" d="M286 1349l-7-14l19-8l7 14z"/><path class="q9" d="M260 1344l-7-11l19-10l7 12z"/><path class="q21" d="M188 1361l-7-7l20-16l6 8z"/><path class="q19" d="M214 1355l-7-9l20-13l6 10z"/><path class="q21" d="M293 1365l-7-16l19-8l8 17z"/><path class="q19" d="M240 1354l-7-11l20-10l7 11z"/><path class="q19" d="M267 1357l-7-13l19-9l7 14z"/><path class="q21" d="M194 1369l-6-8l19-15l7 9z"/><path class="q21" d="M274 1372l-7-15l19-8l7 16z"/><path class="q20" d="M221 1365l-7-10l19-12l7 11z"/><path class="q20" d="M247 1366l-7-12l20-10l7 13z"/><path class="q21" d="M201 1377l-7-8l20-14l7 10z"/><path class="q21" d="M254 1379l-7-13l20-9l7 15z"/><path class="q22" d="M228 1375l-7-10l19-11l7 12z"/><path class="q21" d="M208 1385l-7-8l20-12l7 10z"/><path class="q21" d="M235 1385l-7-10l19-9l7 13z"/><path class="q23" d="M215 1393l-7-8l20-10l7 10z"/></g>
<line x1="48.9" y1="676.9" x2="109.1" y2="752.2" stroke="#000" stroke-width="0.9"/>
<line x1="109.1" y1="752.2" x2="285.9" y2="685" stroke="#000" stroke-width="0.9"/>
<line x1="109.1" y1="752.2" x2="105.6" y2="636.1" stroke="#000" stroke-width="0.9"/>
<line x1="42.9" y1="676.9" x2="48.9" y2="676.9" stroke="#000" stroke-width="0.8"/>
<text x="42.4" y="680.2" font-size="9" text-anchor="end">−20</text>
<line x1="42.1" y1="664" x2="48.1" y2="664" stroke="#000" stroke-width="0.8"/>
<text x="41.6" y="667.3" font-size="9" text-anchor="end">−15</text>
<line x1="41.2" y1="650.9" x2="47.2" y2="650.9" stroke="#000" stroke-width="0.8"/>
<text x="40.7" y="654.2" font-size="9" text-anchor="end">−10</text>
<line x1="40.3" y1="637.6" x2="46.3" y2="637.6" stroke="#000" stroke-width="0.8"/>
<text x="39.8" y="640.9" font-size="9" text-anchor="end">−5</text>
<line x1="39.5" y1="624.1" x2="45.5" y2="624.1" stroke="#000" stroke-width="0.8"/>
<text x="39" y="627.4" font-size="9" text-anchor="end">0</text>
<line x1="38.6" y1="610.3" x2="44.6" y2="610.3" stroke="#000" stroke-width="0.8"/>
<text x="38.1" y="613.6" font-size="9" text-anchor="end">5</text>
<line x1="37.6" y1="596.3" x2="43.6" y2="596.3" stroke="#000" stroke-width="0.8"/>
<text x="37.1" y="599.6" font-size="9" text-anchor="end">10</text>
<line x1="36.7" y1="582.1" x2="42.7" y2="582.1" stroke="#000" stroke-width="0.8"/>
<text x="36.2" y="585.4" font-size="9" text-anchor="end">15</text>
<line x1="35.8" y1="567.7" x2="41.8" y2="567.7" stroke="#000" stroke-width="0.8"/>
<text x="35.3" y="571" font-size="9" text-anchor="end">20</text>
<line x1="91" y1="729.6" x2="86" y2="734.6" stroke="#000" stroke-width="0.8"/>
<text x="80.5" y="743.1" font-size="9.5" text-anchor="middle">0.2</text>
<line x1="72.1" y1="706" x2="67.1" y2="711" stroke="#000" stroke-width="0.8"/>
<text x="61.6" y="719.5" font-size="9.5" text-anchor="middle">0.7</text>
<line x1="55.5" y1="685.2" x2="50.5" y2="690.2" stroke="#000" stroke-width="0.8"/>
<text x="45" y="698.7" font-size="9.5" text-anchor="middle">3</text>
<line x1="143.3" y1="739.2" x2="144.3" y2="745.2" stroke="#000" stroke-width="0.8"/>
<text x="146.3" y="754.7" font-size="9.5" text-anchor="middle">0.3</text>
<line x1="180" y1="725.3" x2="181" y2="731.3" stroke="#000" stroke-width="0.8"/>
<text x="183" y="740.8" font-size="9.5" text-anchor="middle">0.625</text>
<line x1="215.5" y1="711.8" x2="216.5" y2="717.8" stroke="#000" stroke-width="0.8"/>
<text x="218.5" y="727.3" font-size="9.5" text-anchor="middle">1.25</text>
<line x1="249.7" y1="698.8" x2="250.7" y2="704.8" stroke="#000" stroke-width="0.8"/>
<text x="252.7" y="714.3" font-size="9.5" text-anchor="middle">2.5</text>
<line x1="281.1" y1="686.9" x2="282.1" y2="692.9" stroke="#000" stroke-width="0.8"/>
<text x="284.1" y="702.4" font-size="9.5" text-anchor="middle">5</text>
<text x="51.5" y="737.7" font-size="11" text-anchor="middle" transform="rotate(51.4 51.5 737.7)">Palbociclib (uM)</text>
<text x="209.5" y="747.1" font-size="11" text-anchor="middle" transform="rotate(-20.8 209.5 747.1)">Blu222 (uM)</text>
<text x="511.8" y="457" font-size="27.5" font-weight="bold" text-anchor="middle" textLength="160.4" lengthAdjust="spacingAndGlyphs">MCF7 PR1.2</text>
<defs><linearGradient id="cb2" x1="0" x2="1" y1="0" y2="0"><stop offset="0" stop-color="#11D911"/><stop offset="0.5" stop-color="#ffffff"/><stop offset="1" stop-color="#EE1111"/></linearGradient></defs>
<rect x="382.8" y="486.4" width="288.6" height="4.3" fill="url(#cb2)"/>
<text x="411.9" y="478.7" font-size="9.5" text-anchor="middle">−40</text>
<text x="469.4" y="478.7" font-size="9.5" text-anchor="middle">−20</text>
<text x="527" y="478.7" font-size="9.5" text-anchor="middle">0</text>
<text x="584.8" y="478.7" font-size="9.5" text-anchor="middle">20</text>
<text x="642.7" y="478.7" font-size="9.5" text-anchor="middle">40</text>
<text x="392.2" y="521.7" font-size="26.8" font-weight="bold" textLength="142.2" lengthAdjust="spacingAndGlyphs">HSA: 23.01</text>
<line x1="574.6" y1="627.8" x2="578.2" y2="523.6" stroke="#000" stroke-width="0.8" stroke-dasharray="3,3"/>
<line x1="574.6" y1="627.8" x2="409.2" y2="683.4" stroke="#000" stroke-width="0.8" stroke-dasharray="3,3"/>
<line x1="574.6" y1="627.8" x2="644.8" y2="691.1" stroke="#000" stroke-width="0.8" stroke-dasharray="3,3"/>
<line x1="400.5" y1="574.6" x2="578.2" y2="523.6" stroke="#000" stroke-width="0.9"/>
<line x1="578.2" y1="523.6" x2="654.2" y2="581" stroke="#000" stroke-width="0.9"/>
<line x1="400.5" y1="574.6" x2="463.5" y2="643.3" stroke="#000" stroke-width="0.9"/>
<line x1="463.5" y1="643.3" x2="654.2" y2="581" stroke="#000" stroke-width="0.9"/>
<line x1="400.5" y1="574.6" x2="409.2" y2="683.4" stroke="#000" stroke-width="0.9"/>
<line x1="654.2" y1="581" x2="644.8" y2="691.1" stroke="#000" stroke-width="0.9"/>
<g transform="scale(.5)" stroke="#000" stroke-width="2" stroke-linejoin="round"><path class="q8" d="M1144 1143l-7-6l16-5l7 7z"/><path class="q14" d="M1151 1151l-7-8l16-4l7 8z"/><path class="q8" d="M1128 1147l-7-6l16-4l7 6z"/><path class="q5" d="M1157 1161l-6-10l16-4l6 9z"/><path class="q8" d="M1112 1153l-7-6l16-6l7 6z"/><path class="q14" d="M1135 1156l-7-9l16-4l7 8z"/><path class="q9" d="M1164 1170l-7-9l16-5l7 10z"/><path class="q14" d="M1095 1161l-6-7l16-7l7 6z"/><path class="q5" d="M1141 1165l-6-9l16-5l6 10z"/><path class="q14" d="M1118 1161l-6-8l16-6l7 9z"/><path class="q5" d="M1079 1168l-7-7l17-7l6 7z"/><path class="q19" d="M1171 1178l-7-8l16-4l7 8z"/><path class="q7" d="M1148 1174l-7-9l16-4l7 9z"/><path class="q14" d="M1102 1168l-7-7l17-8l6 8z"/><path class="q5" d="M1125 1170l-7-9l17-5l6 9z"/><path class="q5" d="M1062 1174l-6-6l16-7l7 7z"/><path class="q5" d="M1085 1175l-6-7l16-7l7 7z"/><path class="q19" d="M1178 1181l-7-3l16-4l7 6z"/><path class="q9" d="M1155 1179l-7-5l16-4l7 8z"/><path class="q5" d="M1108 1176l-6-8l16-7l7 9z"/><path class="q7" d="M1131 1178l-6-8l16-5l7 9z"/><path class="q7" d="M1045 1180l-6-6l17-6l6 6z"/><path class="q7" d="M1068 1181l-6-7l17-6l6 7z"/><path class="q7" d="M1092 1183l-7-8l17-7l6 8z"/><path class="q7" d="M1115 1185l-7-9l17-6l6 8z"/><path class="q7" d="M1138 1182l-7-4l17-4l7 5z"/><path class="q7" d="M1162 1178l-7 1l16-1l7 3z"/><path class="q9" d="M1185 1182l-7-1l16-1l7 4z"/><path class="q7" d="M1028 1186l-6-6l17-6l6 6z"/><path class="q7" d="M1052 1187l-7-7l17-6l6 7z"/><path class="q7" d="M1075 1189l-7-8l17-6l7 8z"/><path class="q9" d="M1098 1191l-6-8l16-7l7 9z"/><path class="q7" d="M1122 1188l-7-3l16-7l7 4z"/><path class="q7" d="M1011 1192l-6-6l17-6l6 6z"/><path class="q7" d="M1035 1193l-7-7l17-6l7 7z"/><path class="q9" d="M1058 1195l-6-8l16-6l7 8z"/><path class="q5" d="M1146 1178l-8 4l17-3l7-1z"/><path class="q9" d="M1081 1197l-6-8l17-6l6 8z"/><path class="q7" d="M1193 1182l-8 0l16 2l7 2z"/><path class="q14" d="M1169 1174l-7 4l16 3l7 1z"/><path class="q9" d="M1105 1194l-7-3l17-6l7 3z"/><path class="q7" d="M994 1197l-6-6l17-5l6 6z"/><path class="q7" d="M1018 1199l-7-7l17-6l7 7z"/><path class="q9" d="M1041 1201l-6-8l17-6l6 8z"/><path class="q9" d="M1065 1202l-7-7l17-6l6 8z"/><path class="q14" d="M1129 1184l-7 4l16-6l8-4z"/><path class="q9" d="M1088 1200l-7-3l17-6l7 3z"/><path class="q7" d="M977 1203l-6-7l17-5l6 6z"/><path class="q14" d="M1200 1183l-7-1l15 4l8 4z"/><path class="q9" d="M1000 1204l-6-7l17-5l7 7z"/><path class="q9" d="M1024 1206l-6-7l17-6l6 8z"/><path class="q9" d="M1047 1208l-6-7l17-6l7 7z"/><path class="q6" d="M1153 1170l-7 8l16 0l7-4z"/><path class="q14" d="M1112 1189l-7 5l17-6l7-4z"/><path class="q6" d="M1177 1168l-8 6l16 8l8 0z"/><path class="q9" d="M1071 1205l-6-3l16-5l7 3z"/><path class="q7" d="M959 1208l-6-6l18-6l6 7z"/><path class="q9" d="M983 1210l-6-7l17-6l6 7z"/><path class="q9" d="M1007 1212l-7-8l18-5l6 7z"/><path class="q9" d="M1030 1214l-6-8l17-5l6 7z"/><path class="q14" d="M1095 1195l-7 5l17-6l7-5z"/><path class="q8" d="M1207 1187l-7-4l16 7l7 4z"/><path class="q9" d="M1054 1211l-7-3l18-6l6 3z"/><path class="q1" d="M1136 1175l-7 9l17-6l7-8z"/><path class="q7" d="M942 1214l-6-7l17-5l6 6z"/><path class="q9" d="M965 1215l-6-7l18-5l6 7z"/><path class="q9" d="M989 1217l-6-7l17-6l7 8z"/><path class="q9" d="M1013 1219l-6-7l17-6l6 8z"/><path class="q4" d="M1184 1165l-7 3l16 14l7 1z"/><path class="q14" d="M1078 1201l-7 4l17-5l7-5z"/><path class="q9" d="M1037 1216l-7-2l17-6l7 3z"/><path class="q0" d="M1161 1160l-8 10l16 4l8-6z"/><path class="q10" d="M1119 1180l-7 9l17-5l7-9z"/><path class="q8" d="M1215 1193l-8-6l16 7l8 6z"/><path class="q9" d="M924 1220l-6-7l18-6l6 7z"/><path class="q9" d="M948 1221l-6-7l17-6l6 7z"/><path class="q9" d="M972 1223l-7-8l18-5l6 7z"/><path class="q9" d="M995 1225l-6-8l18-5l6 7z"/><path class="q14" d="M1061 1206l-7 5l17-6l7-4z"/><path class="q9" d="M1019 1222l-6-3l17-5l7 2z"/><path class="q10" d="M1102 1186l-7 9l17-6l7-9z"/><path class="q8" d="M1222 1199l-7-6l16 7l7 7z"/><path class="q9" d="M906 1226l-6-6l18-7l6 7z"/><path class="q0" d="M1192 1167l-8-2l16 18l7 4z"/><path class="q11" d="M1144 1165l-8 10l17-5l8-10z"/><path class="q9" d="M930 1227l-6-7l18-6l6 7z"/><path class="q9" d="M954 1228l-6-7l17-6l7 8z"/><path class="q9" d="M978 1230l-6-7l17-6l6 8z"/><path class="q14" d="M1043 1212l-6 4l17-5l7-5z"/><path class="q9" d="M1002 1227l-7-2l18-6l6 3z"/><path class="q10" d="M1085 1191l-7 10l17-6l7-9z"/><path class="q16" d="M1168 1154l-7 6l16 8l7-3z"/><path class="q9" d="M888 1233l-6-7l18-6l6 6z"/><path class="q8" d="M1230 1207l-8-8l16 8l7 6z"/><path class="q9" d="M912 1233l-6-7l18-6l6 7z"/><path class="q11" d="M1127 1171l-8 9l17-5l8-10z"/><path class="q9" d="M936 1234l-6-7l18-6l6 7z"/><path class="q0" d="M1199 1173l-7-6l15 20l8 6z"/><path class="q9" d="M960 1236l-6-8l18-5l6 7z"/><path class="q14" d="M1026 1217l-7 5l18-6l6-4z"/><path class="q9" d="M984 1233l-6-3l17-5l7 2z"/><path class="q10" d="M1067 1197l-6 9l17-5l7-10z"/><path class="q19" d="M870 1241l-6-7l18-8l6 7z"/><path class="q9" d="M894 1240l-6-7l18-7l6 7z"/><path class="q14" d="M1237 1216l-7-9l15 6l8 9z"/><path class="q11" d="M1109 1176l-7 10l17-6l8-9z"/><path class="q9" d="M918 1241l-6-8l18-6l6 7z"/><path class="q19" d="M942 1242l-6-8l18-6l6 8z"/><path class="q18" d="M1151 1159l-7 6l17-5l7-6z"/><path class="q14" d="M1008 1222l-6 5l17-5l7-5z"/><path class="q0" d="M1207 1179l-8-6l16 20l7 6z"/><path class="q20" d="M852 1250l-6-7l18-9l6 7z"/><path class="q18" d="M1176 1155l-8-1l16 11l8 2z"/><path class="q9" d="M966 1238l-6-2l18-6l6 3z"/><path class="q10" d="M1050 1202l-7 10l18-6l6-9z"/><path class="q19" d="M876 1247l-6-6l18-8l6 7z"/><path class="q5" d="M1244 1228l-7-12l16 6l7 9z"/><path class="q11" d="M1092 1182l-7 9l17-5l7-10z"/><path class="q19" d="M900 1247l-6-7l18-7l6 8z"/><path class="q22" d="M834 1260l-6-7l18-10l6 7z"/><path class="q19" d="M924 1248l-6-7l18-7l6 8z"/><path class="q18" d="M1134 1164l-7 7l17-6l7-6z"/><path class="q14" d="M990 1227l-6 6l18-6l6-5z"/><path class="q0" d="M1214 1188l-7-9l15 20l8 8z"/><path class="q9" d="M948 1244l-6-2l18-6l6 2z"/><path class="q20" d="M858 1257l-6-7l18-9l6 6z"/><path class="q10" d="M1032 1208l-6 9l17-5l7-10z"/><path class="q9" d="M1252 1240l-8-12l16 3l8 10z"/><path class="q21" d="M816 1269l-6-7l18-9l6 7z"/><path class="q24" d="M1183 1161l-7-6l16 12l7 6z"/><path class="q19" d="M882 1255l-6-8l18-7l6 7z"/><path class="q11" d="M1074 1187l-7 10l18-6l7-9z"/><path class="q19" d="M906 1255l-6-8l18-6l6 7z"/><path class="q25" d="M1159 1159l-8 0l17-5l8 1z"/><path class="q22" d="M840 1266l-6-6l18-10l6 7z"/><path class="q18" d="M1117 1169l-8 7l18-5l7-7z"/><path class="q2" d="M1221 1200l-7-12l16 19l7 9z"/><path class="q14" d="M972 1232l-6 6l18-5l6-6z"/><path class="q9" d="M930 1251l-6-3l18-6l6 2z"/><path class="q19" d="M1259 1252l-7-12l16 1l7 10z"/><path class="q1" d="M1014 1212l-6 10l18-5l6-9z"/><path class="q20" d="M864 1264l-6-7l18-10l6 8z"/><path class="q21" d="M821 1275l-5-6l18-9l6 6z"/><path class="q11" d="M1057 1192l-7 10l17-5l7-10z"/><path class="q19" d="M888 1262l-6-7l18-8l6 8z"/><path class="q24" d="M1191 1167l-8-6l16 12l8 6z"/><path class="q10" d="M1228 1216l-7-16l16 16l7 12z"/><path class="q25" d="M1141 1165l-7-1l17-5l8 0z"/><path class="q18" d="M1099 1175l-7 7l17-6l8-7z"/><path class="q14" d="M954 1238l-6 6l18-6l6-6z"/><path class="q22" d="M1266 1264l-7-12l16-1l8 9z"/><path class="q22" d="M845 1273l-5-7l18-9l6 7z"/><path class="q9" d="M912 1257l-6-2l18-7l6 3z"/><path class="q26" d="M1166 1166l-7-7l17-4l7 6z"/><path class="q3" d="M1235 1233l-7-17l16 12l8 12z"/><path class="q1" d="M996 1216l-6 11l18-5l6-10z"/><path class="q20" d="M869 1271l-5-7l18-9l6 7z"/><path class="q11" d="M1039 1197l-7 11l18-6l7-10z"/><path class="q18" d="M1198 1176l-7-9l16 12l7 9z"/><path class="q23" d="M827 1282l-6-7l19-9l5 7z"/><path class="q5" d="M1242 1250l-7-17l17 7l7 12z"/><path class="q25" d="M1124 1170l-7-1l17-5l7 1z"/><path class="q21" d="M1274 1274l-8-10l17-4l8 9z"/><path class="q18" d="M1081 1180l-7 7l18-5l7-7z"/><path class="q14" d="M936 1245l-6 6l18-7l6-6z"/><path class="q19" d="M894 1265l-6-3l18-7l6 2z"/><path class="q21" d="M851 1280l-6-7l19-9l5 7z"/><path class="q26" d="M1149 1171l-8-6l18-6l7 7z"/><path class="q1" d="M978 1222l-6 10l18-5l6-11z"/><path class="q19" d="M1250 1266l-8-16l17 2l7 12z"/><path class="q26" d="M1173 1172l-7-6l17-5l8 6z"/><path class="q15" d="M1205 1191l-7-15l16 12l7 12z"/><path class="q11" d="M1021 1202l-7 10l18-4l7-11z"/><path class="q20" d="M875 1276l-6-5l19-9l6 3z"/><path class="q25" d="M1106 1176l-7-1l18-6l7 1z"/><path class="q5" d="M917 1252l-5 5l18-6l6-6z"/><path class="q23" d="M832 1289l-5-7l18-9l6 7z"/><path class="q23" d="M1282 1282l-8-8l17-5l8 7z"/><path class="q18" d="M1064 1186l-7 6l17-5l7-7z"/><path class="q11" d="M1212 1210l-7-19l16 9l7 16z"/><path class="q22" d="M1257 1279l-7-13l16-2l8 10z"/><path class="q26" d="M1131 1177l-7-7l17-5l8 6z"/><path class="q4" d="M1219 1230l-7-20l16 6l7 17z"/><path class="q1" d="M960 1228l-6 10l18-6l6-10z"/><path class="q22" d="M857 1287l-6-7l18-9l6 5z"/><path class="q26" d="M1156 1177l-7-6l17-5l7 6z"/><path class="q26" d="M1181 1181l-8-9l18-5l7 9z"/><path class="q3" d="M1226 1251l-7-21l16 3l7 17z"/><path class="q5" d="M899 1262l-5 3l18-8l5-5z"/><path class="q7" d="M1233 1269l-7-18l16-1l8 16z"/><path class="q12" d="M1003 1205l-7 11l18-4l7-10z"/><path class="q25" d="M1088 1181l-7-1l18-5l7 1z"/><path class="q23" d="M1265 1288l-8-9l17-5l8 8z"/><path class="q18" d="M1046 1191l-7 6l18-5l7-6z"/><path class="q23" d="M838 1295l-6-6l19-9l6 7z"/><path class="q24" d="M1188 1196l-7-15l17-5l7 15z"/><path class="q26" d="M1113 1182l-7-6l18-6l7 7z"/><path class="q22" d="M1240 1284l-7-15l17-3l7 13z"/><path class="q1" d="M942 1235l-6 10l18-7l6-10z"/><path class="q9" d="M881 1277l-6-1l19-11l5-3z"/><path class="q26" d="M1138 1183l-7-6l18-6l7 6z"/><path class="q26" d="M1163 1187l-7-10l17-5l8 9z"/><path class="q15" d="M1195 1215l-7-19l17-5l7 19z"/><path class="q0" d="M1202 1236l-7-21l17-5l7 20z"/><path class="q22" d="M863 1292l-6-5l18-11l6 1z"/><path class="q6" d="M1208 1256l-6-20l17-6l7 21z"/><path class="q25" d="M1071 1187l-7-1l17-6l7 1z"/><path class="q12" d="M984 1210l-6 12l18-6l7-11z"/><path class="q7" d="M1215 1275l-7-19l18-5l7 18z"/><path class="q21" d="M1248 1294l-8-10l17-5l8 9z"/><path class="q24" d="M1027 1194l-6 8l18-5l7-6z"/><path class="q24" d="M1170 1202l-7-15l18-6l7 15z"/><path class="q1" d="M923 1242l-6 10l19-7l6-10z"/><path class="q26" d="M1096 1188l-8-7l18-5l7 6z"/><path class="q20" d="M1223 1290l-8-15l18-6l7 15z"/><path class="q21" d="M844 1302l-6-7l19-8l6 5z"/><path class="q26" d="M1121 1188l-8-6l18-5l7 6z"/><path class="q26" d="M1146 1192l-8-9l18-6l7 10z"/><path class="q15" d="M1177 1221l-7-19l18-6l7 19z"/><path class="q0" d="M1184 1241l-7-20l18-6l7 21z"/><path class="q6" d="M1191 1262l-7-21l18-5l6 20z"/><path class="q26" d="M1052 1192l-6-1l18-5l7 1z"/><path class="q12" d="M966 1217l-6 11l18-6l6-12z"/><path class="q6" d="M905 1255l-6 7l18-10l6-10z"/><path class="q7" d="M1198 1281l-7-19l17-6l7 19z"/><path class="q21" d="M1230 1300l-7-10l17-6l8 10z"/><path class="q24" d="M1153 1208l-7-16l17-5l7 15z"/><path class="q24" d="M1009 1198l-6 7l18-3l6-8z"/><path class="q26" d="M1078 1193l-7-6l17-6l8 7z"/><path class="q14" d="M886 1276l-5 1l18-15l6-7z"/><path class="q20" d="M1205 1296l-7-15l17-6l8 15z"/><path class="q19" d="M868 1296l-5-4l18-15l5-1z"/><path class="q26" d="M1103 1194l-7-6l17-6l8 6z"/><path class="q26" d="M1128 1198l-7-10l17-5l8 9z"/><path class="q15" d="M1160 1227l-7-19l17-6l7 19z"/><path class="q21" d="M850 1309l-6-7l19-10l5 4z"/><path class="q0" d="M1167 1247l-7-20l17-6l7 20z"/><path class="q6" d="M1173 1268l-6-21l17-6l7 21z"/><path class="q12" d="M947 1225l-5 10l18-7l6-11z"/><path class="q7" d="M1180 1287l-7-19l18-6l7 19z"/><path class="q26" d="M1034 1195l-7-1l19-3l6 1z"/><path class="q21" d="M1213 1307l-8-11l18-6l7 10z"/><path class="q24" d="M1135 1213l-7-15l18-6l7 16z"/><path class="q26" d="M1059 1198l-7-6l19-5l7 6z"/><path class="q20" d="M1188 1303l-8-16l18-6l7 15z"/><path class="q27" d="M991 1202l-7 8l19-5l6-7z"/><path class="q26" d="M1085 1200l-7-7l18-5l7 6z"/><path class="q26" d="M1110 1204l-7-10l18-6l7 10z"/><path class="q15" d="M1142 1232l-7-19l18-5l7 19z"/><path class="q11" d="M929 1232l-6 10l19-7l5-10z"/><path class="q0" d="M1149 1253l-7-21l18-5l7 20z"/><path class="q6" d="M1156 1274l-7-21l18-6l6 21z"/><path class="q7" d="M874 1301l-6-5l18-20l6-1z"/><path class="q21" d="M856 1316l-6-7l18-13l6 5z"/><path class="q7" d="M1163 1293l-7-19l17-6l7 19z"/><path class="q21" d="M1195 1313l-7-10l17-7l8 11z"/><path class="q28" d="M1016 1199l-7-1l18-4l7 1z"/><path class="q24" d="M1117 1219l-7-15l18-6l7 15z"/><path class="q10" d="M892 1275l-6 1l19-21l5-7z"/><path class="q20" d="M1170 1309l-7-16l17-6l8 16z"/><path class="q13" d="M910 1248l-5 7l18-13l6-10z"/><path class="q27" d="M972 1209l-6 8l18-7l7-8z"/><path class="q28" d="M1041 1202l-7-7l18-3l7 6z"/><path class="q26" d="M1066 1204l-7-6l19-5l7 7z"/><path class="q26" d="M1092 1209l-7-9l18-6l7 10z"/><path class="q15" d="M1124 1238l-7-19l18-6l7 19z"/><path class="q0" d="M1131 1259l-7-21l18-6l7 21z"/><path class="q6" d="M1138 1280l-7-21l18-6l7 21z"/><path class="q7" d="M1145 1299l-7-19l18-6l7 19z"/><path class="q21" d="M1177 1319l-7-10l18-6l7 10z"/><path class="q22" d="M862 1323l-6-7l18-15l6 5z"/><path class="q27" d="M1099 1225l-7-16l18-5l7 15z"/><path class="q24" d="M953 1218l-6 7l19-8l6-8z"/><path class="q28" d="M997 1203l-6-1l18-4l7 1z"/><path class="q20" d="M1152 1315l-7-16l18-6l7 16z"/><path class="q14" d="M880 1306l-6-5l18-26l6 0z"/><path class="q26" d="M1074 1214l-8-10l19-4l7 9z"/><path class="q29" d="M1023 1205l-7-6l18-4l7 7z"/><path class="q15" d="M1106 1244l-7-19l18-6l7 19z"/><path class="q28" d="M1048 1208l-7-6l18-4l7 6z"/><path class="q0" d="M1113 1265l-7-21l18-6l7 21z"/><path class="q6" d="M1120 1286l-7-21l18-6l7 21z"/><path class="q7" d="M1127 1306l-7-20l18-6l7 19z"/><path class="q21" d="M1160 1326l-8-11l18-6l7 10z"/><path class="q24" d="M934 1225l-5 7l18-7l6-7z"/><path class="q27" d="M1081 1230l-7-16l18-5l7 16z"/><path class="q0" d="M898 1275l-6 0l18-27l6-4z"/><path class="q28" d="M979 1210l-7-1l19-7l6 1z"/><path class="q20" d="M1134 1321l-7-15l18-7l7 16z"/><path class="q22" d="M868 1330l-6-7l18-17l6 6z"/><path class="q17" d="M916 1244l-6 4l19-16l5-7z"/><path class="q15" d="M1088 1250l-7-20l18-5l7 19z"/><path class="q26" d="M1055 1218l-7-10l18-4l8 10z"/><path class="q29" d="M1004 1210l-7-7l19-4l7 6z"/><path class="q0" d="M1095 1271l-7-21l18-6l7 21z"/><path class="q29" d="M1030 1212l-7-7l18-3l7 6z"/><path class="q6" d="M1102 1292l-7-21l18-6l7 21z"/><path class="q8" d="M886 1312l-6-6l18-31l6 4z"/><path class="q7" d="M1109 1312l-7-20l18-6l7 20z"/><path class="q21" d="M1142 1332l-8-11l18-6l8 11z"/><path class="q28" d="M960 1219l-7-1l19-9l7 1z"/><path class="q20" d="M1116 1328l-7-16l18-6l7 15z"/><path class="q27" d="M1062 1234l-7-16l19-4l7 16z"/><path class="q22" d="M874 1338l-6-8l18-18l7 7z"/><path class="q15" d="M1069 1254l-7-20l19-4l7 20z"/><path class="q29" d="M985 1217l-6-7l18-7l7 7z"/><path class="q28" d="M1037 1222l-7-10l18-4l7 10z"/><path class="q13" d="M1076 1276l-7-22l19-4l7 21z"/><path class="q6" d="M1083 1298l-7-22l19-5l7 21z"/><path class="q29" d="M1011 1216l-7-6l19-5l7 7z"/><path class="q11" d="M904 1279l-6-4l18-31l6 2z"/><path class="q5" d="M1090 1318l-7-20l19-6l7 20z"/><path class="q26" d="M941 1227l-7-2l19-7l7 1z"/><path class="q21" d="M1123 1338l-7-10l18-7l8 11z"/><path class="q8" d="M893 1319l-7-7l18-33l6 7z"/><path class="q20" d="M1098 1334l-8-16l19-6l7 16z"/><path class="q24" d="M922 1246l-6-2l18-19l7 2z"/><path class="q25" d="M1044 1238l-7-16l18-4l7 16z"/><path class="q29" d="M966 1225l-6-6l19-9l6 7z"/><path class="q17" d="M1051 1259l-7-21l18-4l7 20z"/><path class="q22" d="M880 1345l-6-7l19-19l6 7z"/><path class="q29" d="M992 1224l-7-7l19-7l7 6z"/><path class="q13" d="M1058 1281l-7-22l18-5l7 22z"/><path class="q10" d="M1065 1303l-7-22l18-5l7 22z"/><path class="q29" d="M1018 1227l-7-11l19-4l7 10z"/><path class="q5" d="M1072 1324l-7-21l18-5l7 20z"/><path class="q21" d="M1105 1345l-7-11l18-6l7 10z"/><path class="q11" d="M910 1286l-6-7l18-33l7 7z"/><path class="q20" d="M1079 1341l-7-17l18-6l8 16z"/><path class="q8" d="M899 1326l-6-7l17-33l7 7z"/><path class="q28" d="M947 1233l-6-6l19-8l6 6z"/><path class="q25" d="M1025 1243l-7-16l19-5l7 16z"/><path class="q29" d="M973 1232l-7-7l19-8l7 7z"/><path class="q27" d="M929 1253l-7-7l19-19l6 6z"/><path class="q17" d="M1032 1264l-7-21l19-5l7 21z"/><path class="q29" d="M999 1234l-7-10l19-8l7 11z"/><path class="q10" d="M1046 1309l-7-22l19-6l7 22z"/><path class="q13" d="M1039 1287l-7-23l19-5l7 22z"/><path class="q22" d="M886 1352l-6-7l19-19l6 8z"/><path class="q21" d="M1086 1351l-7-10l19-7l7 11z"/><path class="q5" d="M1053 1330l-7-21l19-6l7 21z"/><path class="q20" d="M1060 1347l-7-17l19-6l7 17z"/><path class="q11" d="M917 1293l-7-7l19-33l6 7z"/><path class="q8" d="M905 1334l-6-8l18-33l6 9z"/><path class="q28" d="M954 1240l-7-7l19-8l7 7z"/><path class="q25" d="M1006 1251l-7-17l19-7l7 16z"/><path class="q28" d="M980 1243l-7-11l19-8l7 10z"/><path class="q17" d="M1013 1271l-7-20l19-8l7 21z"/><path class="q10" d="M1027 1316l-7-22l19-7l7 22z"/><path class="q27" d="M935 1260l-6-7l18-20l7 7z"/><path class="q13" d="M1020 1294l-7-23l19-7l7 23z"/><path class="q21" d="M1068 1358l-8-11l19-6l7 10z"/><path class="q5" d="M1034 1337l-7-21l19-7l7 21z"/><path class="q22" d="M893 1360l-7-8l19-18l7 9z"/><path class="q20" d="M1042 1354l-8-17l19-7l7 17z"/><path class="q25" d="M987 1259l-7-16l19-9l7 17z"/><path class="q14" d="M912 1343l-7-9l18-32l7 12z"/><path class="q11" d="M923 1302l-6-9l18-33l7 10z"/><path class="q26" d="M961 1251l-7-11l19-8l7 11z"/><path class="q17" d="M994 1279l-7-20l19-8l7 20z"/><path class="q13" d="M1001 1301l-7-22l19-8l7 23z"/><path class="q10" d="M1008 1324l-7-23l19-7l7 22z"/><path class="q5" d="M1015 1344l-7-20l19-8l7 21z"/><path class="q21" d="M1049 1365l-7-11l18-7l8 11z"/><path class="q27" d="M942 1270l-7-10l19-20l7 11z"/><path class="q22" d="M899 1367l-6-7l19-17l6 9z"/><path class="q20" d="M1023 1361l-8-17l19-7l8 17z"/><path class="q27" d="M968 1267l-7-16l19-8l7 16z"/><path class="q0" d="M930 1314l-7-12l19-32l7 14z"/><path class="q5" d="M918 1352l-6-9l18-29l7 13z"/><path class="q15" d="M975 1287l-7-20l19-8l7 20z"/><path class="q13" d="M982 1309l-7-22l19-8l7 22z"/><path class="q18" d="M949 1284l-7-14l19-19l7 16z"/><path class="q6" d="M989 1331l-7-22l19-8l7 23z"/><path class="q5" d="M996 1351l-7-20l19-7l7 20z"/><path class="q21" d="M1030 1372l-7-11l19-7l7 11z"/><path class="q4" d="M937 1327l-7-13l19-30l7 18z"/><path class="q12" d="M956 1302l-7-18l19-17l7 20z"/><path class="q9" d="M925 1362l-7-10l19-25l7 15z"/><path class="q20" d="M1003 1367l-7-16l19-7l8 17z"/><path class="q21" d="M905 1375l-6-8l19-15l7 10z"/><path class="q2" d="M963 1322l-7-20l19-15l7 22z"/><path class="q6" d="M944 1342l-7-15l19-25l7 20z"/><path class="q3" d="M970 1342l-7-20l19-13l7 22z"/><path class="q7" d="M977 1360l-7-18l19-11l7 20z"/><path class="q5" d="M951 1357l-7-15l19-20l7 20z"/><path class="q21" d="M1011 1378l-8-11l20-6l7 11z"/><path class="q19" d="M931 1372l-6-10l19-20l7 15z"/><path class="q20" d="M984 1375l-7-15l19-9l7 16z"/><path class="q19" d="M958 1371l-7-14l19-15l7 18z"/><path class="q21" d="M912 1383l-7-8l20-13l6 10z"/><path class="q22" d="M938 1382l-7-10l20-15l7 14z"/><path class="q21" d="M991 1385l-7-10l19-8l8 11z"/><path class="q22" d="M965 1383l-7-12l19-11l7 15z"/><path class="q21" d="M919 1390l-7-7l19-11l7 10z"/><path class="q21" d="M945 1391l-7-9l20-11l7 12z"/><path class="q23" d="M972 1392l-7-9l19-8l7 10z"/><path class="q23" d="M925 1398l-6-8l19-8l7 9z"/><path class="q23" d="M952 1399l-7-8l20-8l7 9z"/><path class="q23" d="M932 1406l-7-8l20-7l7 8z"/></g>
<line x1="409.2" y1="683.4" x2="468.2" y2="758.2" stroke="#000" stroke-width="0.9"/>
<line x1="468.2" y1="758.2" x2="644.8" y2="691.1" stroke="#000" stroke-width="0.9"/>
<line x1="468.2" y1="758.2" x2="463.5" y2="643.3" stroke="#000" stroke-width="0.9"/>
<line x1="402.4" y1="673.2" x2="408.4" y2="673.2" stroke="#000" stroke-width="0.8"/>
<text x="401.9" y="676.5" font-size="9" text-anchor="end">−40</text>
<line x1="400.8" y1="652.4" x2="406.8" y2="652.4" stroke="#000" stroke-width="0.8"/>
<text x="400.3" y="655.7" font-size="9" text-anchor="end">−20</text>
<line x1="399" y1="631" x2="405" y2="631" stroke="#000" stroke-width="0.8"/>
<text x="398.5" y="634.3" font-size="9" text-anchor="end">0</text>
<line x1="397.2" y1="608.9" x2="403.2" y2="608.9" stroke="#000" stroke-width="0.8"/>
<text x="396.7" y="612.2" font-size="9" text-anchor="end">20</text>
<line x1="395.4" y1="586.2" x2="401.4" y2="586.2" stroke="#000" stroke-width="0.8"/>
<text x="394.9" y="589.5" font-size="9" text-anchor="end">40</text>
<line x1="450.5" y1="735.8" x2="445.5" y2="740.8" stroke="#000" stroke-width="0.8"/>
<text x="440" y="749.3" font-size="9.5" text-anchor="middle">0.2</text>
<line x1="432" y1="712.3" x2="427" y2="717.3" stroke="#000" stroke-width="0.8"/>
<text x="421.5" y="725.8" font-size="9.5" text-anchor="middle">0.5</text>
<line x1="415.7" y1="691.6" x2="410.7" y2="696.6" stroke="#000" stroke-width="0.8"/>
<text x="405.2" y="705.1" font-size="9.5" text-anchor="middle">1</text>
<line x1="502.3" y1="745.3" x2="503.3" y2="751.3" stroke="#000" stroke-width="0.8"/>
<text x="505.3" y="760.8" font-size="9.5" text-anchor="middle">0.3</text>
<line x1="538.9" y1="731.4" x2="539.9" y2="737.4" stroke="#000" stroke-width="0.8"/>
<text x="541.9" y="746.9" font-size="9.5" text-anchor="middle">0.625</text>
<line x1="574.2" y1="717.9" x2="575.2" y2="723.9" stroke="#000" stroke-width="0.8"/>
<text x="577.2" y="733.4" font-size="9.5" text-anchor="middle">1.25</text>
<line x1="608.4" y1="704.9" x2="609.4" y2="710.9" stroke="#000" stroke-width="0.8"/>
<text x="611.4" y="720.4" font-size="9.5" text-anchor="middle">2.5</text>
<line x1="639.9" y1="693" x2="640.9" y2="699" stroke="#000" stroke-width="0.8"/>
<text x="642.9" y="708.5" font-size="9.5" text-anchor="middle">5</text>
<text x="411.3" y="744" font-size="11" text-anchor="middle" transform="rotate(51.8 411.3 744)">BLU222 (uM)</text>
<text x="568.2" y="753.3" font-size="11" text-anchor="middle" transform="rotate(-20.8 568.2 753.3)">Palbociclib (uM)</text>
<text x="180.2" y="853.1" font-size="27.5" font-weight="bold" text-anchor="middle" textLength="184.6" lengthAdjust="spacingAndGlyphs">T47D parental</text>
<defs><linearGradient id="cb3" x1="0" x2="1" y1="0" y2="0"><stop offset="0" stop-color="#11D911"/><stop offset="0.5" stop-color="#ffffff"/><stop offset="1" stop-color="#EE1111"/></linearGradient></defs>
<rect x="42.2" y="892" width="299.6" height="4.3" fill="url(#cb3)"/>
<text x="42.9" y="883.8" font-size="9.5" text-anchor="middle">−30</text>
<text x="92.5" y="883.8" font-size="9.5" text-anchor="middle">−20</text>
<text x="142.2" y="883.8" font-size="9.5" text-anchor="middle">−10</text>
<text x="191.8" y="883.8" font-size="9.5" text-anchor="middle">0</text>
<text x="241.4" y="883.8" font-size="9.5" text-anchor="middle">10</text>
<text x="291.1" y="883.8" font-size="9.5" text-anchor="middle">20</text>
<text x="340.7" y="883.8" font-size="9.5" text-anchor="middle">30</text>
<text x="42.9" y="932.2" font-size="26.8" font-weight="bold" textLength="126.4" lengthAdjust="spacingAndGlyphs">HSA: 5.31</text>
<line x1="242.4" y1="1038.2" x2="245.9" y2="930.4" stroke="#000" stroke-width="0.8" stroke-dasharray="3,3"/>
<line x1="242.4" y1="1038.2" x2="70.7" y2="1095.1" stroke="#000" stroke-width="0.8" stroke-dasharray="3,3"/>
<line x1="242.4" y1="1038.2" x2="313.1" y2="1103.8" stroke="#000" stroke-width="0.8" stroke-dasharray="3,3"/>
<line x1="61.3" y1="981.9" x2="245.9" y2="930.4" stroke="#000" stroke-width="0.9"/>
<line x1="245.9" y1="930.4" x2="322.5" y2="991.3" stroke="#000" stroke-width="0.9"/>
<line x1="61.3" y1="981.9" x2="127" y2="1054" stroke="#000" stroke-width="0.9"/>
<line x1="127" y1="1054" x2="322.5" y2="991.3" stroke="#000" stroke-width="0.9"/>
<line x1="61.3" y1="981.9" x2="70.7" y2="1095.1" stroke="#000" stroke-width="0.9"/>
<line x1="322.5" y1="991.3" x2="313.1" y2="1103.8" stroke="#000" stroke-width="0.9"/>
<g transform="scale(.5)" stroke="#000" stroke-width="2" stroke-linejoin="round"><path class="q11" d="M480 1937l-7-7l17-8l7 8z"/><path class="q0" d="M463 1949l-7-5l17-14l7 7z"/><path class="q0" d="M487 1949l-7-12l17-7l6 15z"/><path class="q1" d="M446 1961l-7-3l17-14l7 5z"/><path class="q1" d="M493 1961l-6-12l16-4l7 14z"/><path class="q2" d="M470 1957l-7-8l17-12l7 12z"/><path class="q3" d="M429 1971l-7-2l17-11l7 3z"/><path class="q6" d="M500 1969l-7-8l17-2l7 10z"/><path class="q1" d="M453 1966l-7-5l17-12l7 8z"/><path class="q1" d="M477 1965l-7-8l17-8l6 12z"/><path class="q8" d="M412 1978l-7-1l17-8l7 2z"/><path class="q6" d="M507 1974l-7-5l17 0l7 6z"/><path class="q6" d="M436 1973l-7-2l17-10l7 5z"/><path class="q1" d="M484 1970l-7-5l16-4l7 8z"/><path class="q1" d="M460 1970l-7-4l17-9l7 8z"/><path class="q14" d="M394 1984l-6-1l17-6l7 1z"/><path class="q6" d="M418 1979l-6-1l17-7l7 2z"/><path class="q6" d="M515 1977l-8-3l17 1l7 5z"/><path class="q1" d="M442 1974l-6-1l17-7l7 4z"/><path class="q14" d="M377 1990l-7-1l18-6l6 1z"/><path class="q1" d="M491 1973l-7-3l16-1l7 5z"/><path class="q1" d="M467 1971l-7-1l17-5l7 5z"/><path class="q3" d="M401 1984l-7 0l18-6l6 1z"/><path class="q10" d="M522 1980l-7-3l16 3l7 4z"/><path class="q14" d="M359 1997l-6-1l17-7l7 1z"/><path class="q1" d="M425 1978l-7 1l18-6l6 1z"/><path class="q4" d="M498 1974l-7-1l16 1l8 3z"/><path class="q4" d="M449 1973l-7 1l18-4l7 1z"/><path class="q2" d="M474 1972l-7-1l17-1l7 3z"/><path class="q3" d="M383 1990l-6 0l17-6l7 0z"/><path class="q5" d="M342 2004l-7-2l18-6l6 1z"/><path class="q1" d="M408 1983l-7 1l17-5l7-1z"/><path class="q1" d="M529 1983l-7-3l16 4l8 4z"/><path class="q3" d="M366 1997l-7 0l18-7l6 0z"/><path class="q2" d="M432 1976l-7 2l17-4l7-1z"/><path class="q2" d="M505 1976l-7-2l17 3l7 3z"/><path class="q5" d="M324 2011l-7-2l18-7l7 2z"/><path class="q0" d="M457 1972l-8 1l18-2l7 1z"/><path class="q0" d="M481 1972l-7 0l17 1l7 1z"/><path class="q10" d="M390 1989l-7 1l18-6l7-1z"/><path class="q8" d="M348 2005l-6-1l17-7l7 0z"/><path class="q4" d="M537 1988l-8-5l17 5l7 5z"/><path class="q2" d="M415 1981l-7 2l17-5l7-2z"/><path class="q7" d="M306 2019l-6-3l17-7l7 2z"/><path class="q13" d="M513 1978l-8-2l17 4l7 3z"/><path class="q10" d="M372 1997l-6 0l17-7l7-1z"/><path class="q11" d="M439 1974l-7 2l17-3l8-1z"/><path class="q14" d="M330 2013l-6-2l18-7l6 1z"/><path class="q11" d="M488 1972l-7 0l17 2l7 2z"/><path class="q12" d="M464 1971l-7 1l17 0l7 0z"/><path class="q4" d="M544 1994l-7-6l16 5l8 6z"/><path class="q9" d="M288 2026l-6-4l18-6l6 3z"/><path class="q2" d="M397 1988l-7 1l18-6l7-2z"/><path class="q6" d="M355 2006l-7-1l18-8l6 0z"/><path class="q5" d="M312 2022l-6-3l18-8l6 2z"/><path class="q11" d="M520 1982l-7-4l16 5l8 5z"/><path class="q11" d="M422 1978l-7 3l17-5l7-2z"/><path class="q4" d="M551 2001l-7-7l17 5l7 7z"/><path class="q9" d="M269 2033l-6-4l19-7l6 4z"/><path class="q2" d="M379 1996l-7 1l18-8l7-1z"/><path class="q3" d="M337 2015l-7-2l18-8l7 1z"/><path class="q16" d="M496 1974l-8-2l17 4l8 2z"/><path class="q16" d="M446 1972l-7 2l18-2l7-1z"/><path class="q5" d="M294 2030l-6-4l18-7l6 3z"/><path class="q15" d="M471 1970l-7 1l17 1l7 0z"/><path class="q11" d="M527 1988l-7-6l17 6l7 6z"/><path class="q1" d="M361 2006l-6 0l17-9l7-1z"/><path class="q11" d="M404 1985l-7 3l18-7l7-3z"/><path class="q4" d="M559 2010l-8-9l17 5l7 8z"/><path class="q8" d="M318 2024l-6-2l18-9l7 2z"/><path class="q19" d="M251 2040l-6-4l18-7l6 4z"/><path class="q7" d="M276 2038l-7-5l19-7l6 4z"/><path class="q15" d="M429 1976l-7 2l17-4l7-2z"/><path class="q15" d="M503 1977l-7-3l17 4l7 4z"/><path class="q10" d="M343 2016l-6-1l18-9l6 0z"/><path class="q14" d="M300 2033l-6-3l18-8l6 2z"/><path class="q13" d="M386 1995l-7 1l18-8l7-3z"/><path class="q1" d="M566 2020l-7-10l16 4l8 9z"/><path class="q11" d="M535 1995l-8-7l17 6l7 7z"/><path class="q19" d="M233 2047l-6-5l18-6l6 4z"/><path class="q18" d="M454 1971l-8 1l18-1l7-1z"/><path class="q18" d="M478 1971l-7-1l17 2l8 2z"/><path class="q9" d="M257 2045l-6-5l18-7l7 5z"/><path class="q3" d="M325 2026l-7-2l19-9l6 1z"/><path class="q0" d="M368 2005l-7 1l18-10l7-1z"/><path class="q6" d="M574 2031l-8-11l17 3l7 10z"/><path class="q5" d="M282 2042l-6-4l18-8l6 3z"/><path class="q15" d="M411 1983l-7 2l18-7l7-2z"/><path class="q17" d="M510 1982l-7-5l17 5l7 6z"/><path class="q13" d="M542 2005l-7-10l16 6l8 9z"/><path class="q19" d="M214 2054l-6-5l19-7l6 5z"/><path class="q8" d="M307 2036l-7-3l18-9l7 2z"/><path class="q9" d="M239 2053l-6-6l18-7l6 5z"/><path class="q4" d="M350 2017l-7-1l18-10l7-1z"/><path class="q3" d="M581 2043l-7-12l16 2l8 10z"/><path class="q24" d="M436 1975l-7 1l17-4l8-1z"/><path class="q24" d="M486 1974l-8-3l18 3l7 3z"/><path class="q16" d="M393 1993l-7 2l18-10l7-2z"/><path class="q7" d="M263 2050l-6-5l19-7l6 4z"/><path class="q27" d="M461 1971l-7 0l17-1l7 1z"/><path class="q0" d="M549 2016l-7-11l17 5l7 10z"/><path class="q10" d="M331 2028l-6-2l18-10l7 1z"/><path class="q17" d="M518 1990l-8-8l17 6l8 7z"/><path class="q14" d="M288 2046l-6-4l18-9l7 3z"/><path class="q20" d="M195 2062l-6-6l19-7l6 5z"/><path class="q14" d="M588 2055l-7-12l17 0l7 11z"/><path class="q19" d="M220 2060l-6-6l19-7l6 6z"/><path class="q11" d="M375 2005l-7 0l18-10l7-2z"/><path class="q4" d="M557 2029l-8-13l17 4l8 11z"/><path class="q24" d="M418 1982l-7 1l18-7l7-1z"/><path class="q9" d="M245 2058l-6-5l18-8l6 5z"/><path class="q3" d="M313 2040l-6-4l18-10l6 2z"/><path class="q27" d="M493 1979l-7-5l17 3l7 5z"/><path class="q5" d="M596 2067l-8-12l17-1l8 10z"/><path class="q15" d="M525 2001l-7-11l17 5l7 10z"/><path class="q5" d="M270 2055l-7-5l19-8l6 4z"/><path class="q0" d="M356 2018l-6-1l18-12l7 0z"/><path class="q20" d="M176 2070l-6-7l19-7l6 6z"/><path class="q25" d="M443 1975l-7 0l18-4l7 0z"/><path class="q10" d="M564 2042l-7-13l17 2l7 12z"/><path class="q26" d="M468 1974l-7-3l17 0l8 3z"/><path class="q19" d="M201 2068l-6-6l19-8l6 6z"/><path class="q18" d="M400 1993l-7 0l18-10l7-1z"/><path class="q8" d="M295 2050l-7-4l19-10l6 4z"/><path class="q4" d="M338 2031l-7-3l19-11l6 1z"/><path class="q9" d="M226 2066l-6-6l19-7l6 5z"/><path class="q9" d="M603 2080l-7-13l17-3l7 11z"/><path class="q12" d="M532 2013l-7-12l17 4l7 11z"/><path class="q3" d="M571 2056l-7-14l17 1l7 12z"/><path class="q7" d="M251 2063l-6-5l18-8l7 5z"/><path class="q27" d="M500 1987l-7-8l17 3l8 8z"/><path class="q15" d="M381 2006l-6-1l18-12l7 0z"/><path class="q22" d="M157 2078l-6-6l19-9l6 7z"/><path class="q10" d="M320 2043l-7-3l18-12l7 3z"/><path class="q25" d="M425 1983l-7-1l18-7l7 0z"/><path class="q5" d="M276 2060l-6-5l18-9l7 4z"/><path class="q20" d="M182 2076l-6-6l19-8l6 6z"/><path class="q20" d="M611 2092l-8-12l17-5l8 12z"/><path class="q13" d="M540 2027l-8-14l17 3l8 13z"/><path class="q14" d="M578 2070l-7-14l17-1l8 12z"/><path class="q19" d="M207 2074l-6-6l19-8l6 6z"/><path class="q11" d="M363 2020l-7-2l19-13l6 1z"/><path class="q28" d="M475 1979l-7-5l18 0l7 5z"/><path class="q28" d="M450 1978l-7-3l18-4l7 3z"/><path class="q9" d="M232 2072l-6-6l19-8l6 5z"/><path class="q3" d="M301 2054l-6-4l18-10l7 3z"/><path class="q24" d="M508 1998l-8-11l18 3l7 11z"/><path class="q2" d="M547 2042l-7-15l17 2l7 13z"/><path class="q21" d="M138 2088l-6-7l19-9l6 6z"/><path class="q7" d="M586 2084l-8-14l18-3l7 13z"/><path class="q21" d="M618 2105l-7-13l17-5l7 12z"/><path class="q27" d="M407 1994l-7-1l18-11l7 1z"/><path class="q2" d="M345 2034l-7-3l18-13l7 2z"/><path class="q7" d="M257 2069l-6-6l19-8l6 5z"/><path class="q22" d="M163 2085l-6-7l19-8l6 6z"/><path class="q10" d="M554 2058l-7-16l17 0l7 14z"/><path class="q20" d="M188 2083l-6-7l19-8l6 6z"/><path class="q17" d="M515 2012l-7-14l17 3l7 12z"/><path class="q20" d="M593 2097l-7-13l17-4l8 12z"/><path class="q14" d="M283 2065l-7-5l19-10l6 4z"/><path class="q1" d="M326 2047l-6-4l18-12l7 3z"/><path class="q18" d="M388 2008l-7-2l19-13l7 1z"/><path class="q26" d="M483 1987l-8-8l18 0l7 8z"/><path class="q19" d="M213 2080l-6-6l19-8l6 6z"/><path class="q28" d="M432 1986l-7-3l18-8l7 3z"/><path class="q8" d="M561 2073l-7-15l17-2l7 14z"/><path class="q29" d="M458 1983l-8-5l18-4l7 5z"/><path class="q9" d="M239 2078l-7-6l19-9l6 6z"/><path class="q21" d="M144 2095l-6-7l19-10l6 7z"/><path class="q16" d="M522 2027l-7-15l17 1l8 14z"/><path class="q16" d="M370 2023l-7-3l18-14l7 2z"/><path class="q21" d="M601 2111l-8-14l18-5l7 13z"/><path class="q6" d="M308 2059l-7-5l19-11l6 4z"/><path class="q7" d="M568 2088l-7-15l17-3l8 14z"/><path class="q22" d="M169 2092l-6-7l19-9l6 7z"/><path class="q5" d="M264 2074l-7-5l19-9l7 5z"/><path class="q13" d="M351 2038l-6-4l18-14l7 3z"/><path class="q13" d="M529 2043l-7-16l18 0l7 15z"/><path class="q25" d="M490 1999l-7-12l17 0l8 11z"/><path class="q25" d="M414 1998l-7-4l18-11l7 3z"/><path class="q20" d="M194 2089l-6-6l19-9l6 6z"/><path class="q19" d="M576 2103l-8-15l18-4l7 13z"/><path class="q8" d="M289 2070l-6-5l18-11l7 5z"/><path class="q4" d="M536 2060l-7-17l18-1l7 16z"/><path class="q19" d="M220 2087l-7-7l19-8l7 6z"/><path class="q4" d="M333 2052l-7-5l19-13l6 4z"/><path class="q24" d="M395 2012l-7-4l19-14l7 4z"/><path class="q29" d="M439 1991l-7-5l18-8l8 5z"/><path class="q29" d="M465 1992l-7-9l17-4l8 8z"/><path class="q24" d="M497 2013l-7-14l18-1l7 14z"/><path class="q21" d="M150 2102l-6-7l19-10l6 7z"/><path class="q3" d="M544 2076l-8-16l18-2l7 15z"/><path class="q7" d="M245 2084l-6-6l18-9l7 5z"/><path class="q21" d="M583 2117l-7-14l17-6l8 14z"/><path class="q6" d="M314 2065l-6-6l18-12l7 5z"/><path class="q15" d="M377 2027l-7-4l18-15l7 4z"/><path class="q22" d="M175 2099l-6-7l19-9l6 6z"/><path class="q5" d="M551 2093l-7-17l17-3l7 15z"/><path class="q5" d="M270 2080l-6-6l19-9l6 5z"/><path class="q17" d="M504 2029l-7-16l18-1l7 15z"/><path class="q20" d="M200 2096l-6-7l19-9l7 7z"/><path class="q11" d="M358 2043l-7-5l19-15l7 4z"/><path class="q26" d="M421 2003l-7-5l18-12l7 5z"/><path class="q26" d="M472 2003l-7-11l18-5l7 12z"/><path class="q11" d="M512 2046l-8-17l18-2l7 16z"/><path class="q19" d="M558 2108l-7-15l17-5l8 15z"/><path class="q9" d="M226 2093l-6-6l19-9l6 6z"/><path class="q8" d="M296 2076l-7-6l19-11l6 6z"/><path class="q28" d="M447 2000l-8-9l19-8l7 9z"/><path class="q2" d="M340 2057l-7-5l18-14l7 5z"/><path class="q2" d="M519 2063l-7-17l17-3l7 17z"/><path class="q21" d="M156 2109l-6-7l19-10l6 7z"/><path class="q27" d="M402 2018l-7-6l19-14l7 5z"/><path class="q7" d="M251 2090l-6-6l19-10l6 6z"/><path class="q21" d="M565 2124l-7-16l18-5l7 14z"/><path class="q27" d="M479 2017l-7-14l18-4l7 14z"/><path class="q6" d="M526 2081l-7-18l17-3l8 16z"/><path class="q22" d="M181 2106l-6-7l19-10l6 7z"/><path class="q10" d="M321 2071l-7-6l19-13l7 5z"/><path class="q15" d="M384 2034l-7-7l18-15l7 6z"/><path class="q14" d="M277 2087l-7-7l19-10l7 6z"/><path class="q14" d="M533 2098l-7-17l18-5l7 17z"/><path class="q26" d="M428 2012l-7-9l18-12l8 9z"/><path class="q20" d="M207 2103l-7-7l20-9l6 6z"/><path class="q17" d="M486 2033l-7-16l18-4l7 16z"/><path class="q26" d="M454 2011l-7-11l18-8l7 11z"/><path class="q11" d="M365 2049l-7-6l19-16l7 7z"/><path class="q9" d="M540 2114l-7-16l18-5l7 15z"/><path class="q9" d="M232 2100l-6-7l19-9l6 6z"/><path class="q12" d="M494 2051l-8-18l18-4l8 17z"/><path class="q3" d="M302 2082l-6-6l18-11l7 6z"/><path class="q2" d="M347 2064l-7-7l18-14l7 6z"/><path class="q21" d="M162 2116l-6-7l19-10l6 7z"/><path class="q24" d="M409 2026l-7-8l19-15l7 9z"/><path class="q2" d="M501 2069l-7-18l18-5l7 17z"/><path class="q21" d="M548 2130l-8-16l18-6l7 16z"/><path class="q7" d="M258 2097l-7-7l19-10l7 7z"/><path class="q27" d="M461 2025l-7-14l18-8l7 14z"/><path class="q22" d="M187 2113l-6-7l19-10l7 7z"/><path class="q25" d="M435 2023l-7-11l19-12l7 11z"/><path class="q10" d="M508 2086l-7-17l18-6l7 18z"/><path class="q15" d="M391 2042l-7-8l18-16l7 8z"/><path class="q10" d="M328 2077l-7-6l19-14l7 7z"/><path class="q14" d="M283 2093l-6-6l19-11l6 6z"/><path class="q14" d="M515 2104l-7-18l18-5l7 17z"/><path class="q17" d="M468 2041l-7-16l18-8l7 16z"/><path class="q19" d="M213 2110l-6-7l19-10l6 7z"/><path class="q11" d="M372 2057l-7-8l19-15l7 8z"/><path class="q18" d="M417 2037l-8-11l19-14l7 11z"/><path class="q9" d="M522 2120l-7-16l18-6l7 16z"/><path class="q12" d="M475 2058l-7-17l18-8l8 18z"/><path class="q9" d="M239 2107l-7-7l19-10l7 7z"/><path class="q24" d="M442 2036l-7-13l19-12l7 14z"/><path class="q3" d="M309 2089l-7-7l19-11l7 6z"/><path class="q2" d="M353 2072l-6-8l18-15l7 8z"/><path class="q21" d="M168 2123l-6-7l19-10l6 7z"/><path class="q2" d="M482 2076l-7-18l19-7l7 18z"/><path class="q22" d="M530 2136l-8-16l18-6l8 16z"/><path class="q16" d="M398 2052l-7-10l18-16l8 11z"/><path class="q7" d="M264 2104l-6-7l19-10l6 6z"/><path class="q10" d="M490 2093l-8-17l19-7l7 17z"/><path class="q22" d="M194 2120l-7-7l20-10l6 7z"/><path class="q15" d="M450 2051l-8-15l19-11l7 16z"/><path class="q10" d="M335 2085l-7-8l19-13l6 8z"/><path class="q17" d="M424 2049l-7-12l18-14l7 13z"/><path class="q13" d="M379 2066l-7-9l19-15l7 10z"/><path class="q14" d="M290 2100l-7-7l19-11l7 7z"/><path class="q14" d="M497 2110l-7-17l18-7l7 18z"/><path class="q19" d="M219 2117l-6-7l19-10l7 7z"/><path class="q11" d="M457 2067l-7-16l18-10l7 17z"/><path class="q9" d="M504 2127l-7-17l18-6l7 16z"/><path class="q12" d="M405 2063l-7-11l19-15l7 12z"/><path class="q4" d="M360 2080l-7-8l19-15l7 9z"/><path class="q9" d="M245 2114l-6-7l19-10l6 7z"/><path class="q3" d="M316 2097l-7-8l19-12l7 8z"/><path class="q12" d="M431 2063l-7-14l18-13l8 15z"/><path class="q2" d="M464 2084l-7-17l18-9l7 18z"/><path class="q21" d="M174 2131l-6-8l19-10l7 7z"/><path class="q22" d="M511 2143l-7-16l18-7l8 16z"/><path class="q7" d="M271 2111l-7-7l19-11l7 7z"/><path class="q6" d="M471 2101l-7-17l18-8l8 17z"/><path class="q0" d="M386 2077l-7-11l19-14l7 11z"/><path class="q10" d="M342 2093l-7-8l18-13l7 8z"/><path class="q22" d="M200 2127l-6-7l19-10l6 7z"/><path class="q0" d="M438 2078l-7-15l19-12l7 16z"/><path class="q13" d="M412 2076l-7-13l19-14l7 14z"/><path class="q14" d="M478 2118l-7-17l19-8l7 17z"/><path class="q14" d="M297 2108l-7-8l19-11l7 8z"/><path class="q19" d="M226 2124l-7-7l20-10l6 7z"/><path class="q1" d="M367 2090l-7-10l19-14l7 11z"/><path class="q1" d="M445 2094l-7-16l19-11l7 17z"/><path class="q19" d="M486 2134l-8-16l19-8l7 17z"/><path class="q8" d="M323 2105l-7-8l19-12l7 8z"/><path class="q4" d="M393 2089l-7-12l19-14l7 13z"/><path class="q9" d="M251 2121l-6-7l19-10l7 7z"/><path class="q2" d="M419 2090l-7-14l19-13l7 15z"/><path class="q21" d="M180 2138l-6-7l20-11l6 7z"/><path class="q3" d="M453 2110l-8-16l19-10l7 17z"/><path class="q21" d="M493 2149l-7-15l18-7l7 16z"/><path class="q6" d="M349 2102l-7-9l18-13l7 10z"/><path class="q7" d="M277 2118l-6-7l19-11l7 8z"/><path class="q22" d="M206 2134l-6-7l19-10l7 7z"/><path class="q5" d="M460 2125l-7-15l18-9l7 17z"/><path class="q10" d="M427 2104l-8-14l19-12l7 16z"/><path class="q10" d="M375 2101l-8-11l19-13l7 12z"/><path class="q14" d="M303 2116l-6-8l19-11l7 8z"/><path class="q10" d="M401 2101l-8-12l19-13l7 14z"/><path class="q19" d="M232 2131l-6-7l19-10l6 7z"/><path class="q19" d="M467 2141l-7-16l18-7l8 16z"/><path class="q8" d="M329 2114l-6-9l19-12l7 9z"/><path class="q8" d="M434 2119l-7-15l18-10l8 16z"/><path class="q9" d="M258 2128l-7-7l20-10l6 7z"/><path class="q3" d="M356 2112l-7-10l18-12l8 11z"/><path class="q21" d="M187 2145l-7-7l20-11l6 7z"/><path class="q3" d="M408 2114l-7-13l18-11l8 14z"/><path class="q6" d="M382 2112l-7-11l18-12l8 12z"/><path class="q21" d="M475 2155l-8-14l19-7l7 15z"/><path class="q7" d="M284 2126l-7-8l20-10l6 8z"/><path class="q7" d="M441 2133l-7-14l19-9l7 15z"/><path class="q22" d="M213 2142l-7-8l20-10l6 7z"/><path class="q5" d="M310 2124l-7-8l20-11l6 9z"/><path class="q14" d="M415 2128l-7-14l19-10l7 15z"/><path class="q14" d="M336 2123l-7-9l20-12l7 10z"/><path class="q19" d="M239 2138l-7-7l19-10l7 7z"/><path class="q19" d="M449 2148l-8-15l19-8l7 16z"/><path class="q8" d="M389 2124l-7-12l19-11l7 13z"/><path class="q8" d="M363 2123l-7-11l19-11l7 11z"/><path class="q9" d="M265 2136l-7-8l19-10l7 8z"/><path class="q21" d="M193 2153l-6-8l19-11l7 8z"/><path class="q7" d="M422 2141l-7-13l19-9l7 14z"/><path class="q21" d="M456 2162l-7-14l18-7l8 14z"/><path class="q7" d="M291 2134l-7-8l19-10l7 8z"/><path class="q5" d="M317 2133l-7-9l19-10l7 9z"/><path class="q5" d="M396 2137l-7-13l19-10l7 14z"/><path class="q22" d="M219 2149l-6-7l19-11l7 7z"/><path class="q5" d="M343 2133l-7-10l20-11l7 11z"/><path class="q5" d="M370 2134l-7-11l19-11l7 12z"/><path class="q20" d="M430 2155l-8-14l19-8l8 15z"/><path class="q19" d="M245 2146l-6-8l19-10l7 8z"/><path class="q9" d="M271 2144l-6-8l19-10l7 8z"/><path class="q9" d="M403 2149l-7-12l19-9l7 13z"/><path class="q21" d="M199 2160l-6-7l20-11l6 7z"/><path class="q7" d="M298 2142l-7-8l19-10l7 9z"/><path class="q21" d="M437 2169l-7-14l19-7l7 14z"/><path class="q7" d="M377 2145l-7-11l19-10l7 13z"/><path class="q7" d="M324 2142l-7-9l19-10l7 10z"/><path class="q7" d="M351 2143l-8-10l20-10l7 11z"/><path class="q22" d="M226 2157l-7-8l20-11l6 8z"/><path class="q20" d="M411 2162l-8-13l19-8l8 14z"/><path class="q20" d="M252 2154l-7-8l20-10l6 8z"/><path class="q19" d="M384 2157l-7-12l19-8l7 12z"/><path class="q19" d="M278 2152l-7-8l20-10l7 8z"/><path class="q9" d="M305 2151l-7-9l19-9l7 9z"/><path class="q9" d="M358 2154l-7-11l19-9l7 11z"/><path class="q9" d="M331 2152l-7-10l19-9l8 10z"/><path class="q21" d="M206 2168l-7-8l20-11l7 8z"/><path class="q21" d="M418 2175l-7-13l19-7l7 14z"/><path class="q22" d="M232 2164l-6-7l19-11l7 8z"/><path class="q20" d="M392 2169l-8-12l19-8l8 13z"/><path class="q20" d="M259 2162l-7-8l19-10l7 8z"/><path class="q19" d="M365 2165l-7-11l19-9l7 12z"/><path class="q19" d="M285 2161l-7-9l20-10l7 9z"/><path class="q19" d="M338 2162l-7-10l20-9l7 11z"/><path class="q19" d="M312 2160l-7-9l19-9l7 10z"/><path class="q21" d="M212 2175l-6-7l20-11l6 7z"/><path class="q21" d="M399 2182l-7-13l19-7l7 13z"/><path class="q22" d="M239 2172l-7-8l20-10l7 8z"/><path class="q22" d="M372 2177l-7-12l19-8l8 12z"/><path class="q20" d="M265 2170l-6-8l19-10l7 9z"/><path class="q20" d="M345 2173l-7-11l20-8l7 11z"/><path class="q19" d="M292 2169l-7-8l20-10l7 9z"/><path class="q19" d="M319 2170l-7-10l19-8l7 10z"/><path class="q21" d="M219 2183l-7-8l20-11l7 8z"/><path class="q21" d="M379 2189l-7-12l20-8l7 13z"/><path class="q22" d="M245 2180l-6-8l20-10l6 8z"/><path class="q22" d="M353 2184l-8-11l20-8l7 12z"/><path class="q20" d="M272 2179l-7-9l20-9l7 8z"/><path class="q20" d="M326 2180l-7-10l19-8l7 11z"/><path class="q20" d="M299 2179l-7-10l20-9l7 10z"/><path class="q21" d="M225 2191l-6-8l20-11l6 8z"/><path class="q21" d="M360 2196l-7-12l19-7l7 12z"/><path class="q22" d="M252 2188l-7-8l20-10l7 9z"/><path class="q22" d="M333 2191l-7-11l19-7l8 11z"/><path class="q22" d="M279 2187l-7-8l20-10l7 10z"/><path class="q22" d="M306 2188l-7-9l20-9l7 10z"/><path class="q21" d="M232 2199l-7-8l20-11l7 8z"/><path class="q21" d="M340 2203l-7-12l20-7l7 12z"/><path class="q22" d="M259 2197l-7-9l20-9l7 8z"/><path class="q22" d="M313 2198l-7-10l20-8l7 11z"/><path class="q22" d="M286 2196l-7-9l20-8l7 9z"/><path class="q21" d="M239 2207l-7-8l20-11l7 9z"/><path class="q21" d="M320 2210l-7-12l20-7l7 12z"/><path class="q21" d="M266 2205l-7-8l20-10l7 9z"/><path class="q21" d="M293 2206l-7-10l20-8l7 10z"/><path class="q23" d="M300 2217l-7-11l20-8l7 12z"/><path class="q23" d="M246 2215l-7-8l20-10l7 8z"/><path class="q21" d="M273 2214l-7-9l20-9l7 10z"/><path class="q23" d="M280 2224l-7-10l20-8l7 11z"/><path class="q23" d="M252 2223l-6-8l20-10l7 9z"/><path class="q23" d="M259 2231l-7-8l21-9l7 10z"/></g>
<line x1="70.7" y1="1095.1" x2="132.1" y2="1172" stroke="#000" stroke-width="0.9"/>
<line x1="132.1" y1="1172" x2="313.1" y2="1103.8" stroke="#000" stroke-width="0.9"/>
<line x1="132.1" y1="1172" x2="127" y2="1054" stroke="#000" stroke-width="0.9"/>
<line x1="64.7" y1="1095.1" x2="70.7" y2="1095.1" stroke="#000" stroke-width="0.8"/>
<text x="64.2" y="1098.4" font-size="9" text-anchor="end">−30</text>
<line x1="63.2" y1="1077.4" x2="69.2" y2="1077.4" stroke="#000" stroke-width="0.8"/>
<text x="62.7" y="1080.7" font-size="9" text-anchor="end">−20</text>
<line x1="61.7" y1="1059.3" x2="67.7" y2="1059.3" stroke="#000" stroke-width="0.8"/>
<text x="61.2" y="1062.6" font-size="9" text-anchor="end">−10</text>
<line x1="60.2" y1="1040.7" x2="66.2" y2="1040.7" stroke="#000" stroke-width="0.8"/>
<text x="59.7" y="1044" font-size="9" text-anchor="end">0</text>
<line x1="58.6" y1="1021.6" x2="64.6" y2="1021.6" stroke="#000" stroke-width="0.8"/>
<text x="58.1" y="1024.9" font-size="9" text-anchor="end">10</text>
<line x1="57" y1="1002" x2="63" y2="1002" stroke="#000" stroke-width="0.8"/>
<text x="56.5" y="1005.3" font-size="9" text-anchor="end">20</text>
<line x1="55.3" y1="981.9" x2="61.3" y2="981.9" stroke="#000" stroke-width="0.8"/>
<text x="54.8" y="985.2" font-size="9" text-anchor="end">30</text>
<line x1="113.8" y1="1149.1" x2="108.8" y2="1154.1" stroke="#000" stroke-width="0.8"/>
<text x="103.3" y="1162.6" font-size="9.5" text-anchor="middle">0.2</text>
<line x1="94.6" y1="1125" x2="89.6" y2="1130" stroke="#000" stroke-width="0.8"/>
<text x="84.1" y="1138.5" font-size="9.5" text-anchor="middle">0.7</text>
<line x1="77.5" y1="1103.7" x2="72.5" y2="1108.7" stroke="#000" stroke-width="0.8"/>
<text x="67" y="1117.2" font-size="9.5" text-anchor="middle">3</text>
<line x1="167.1" y1="1158.8" x2="168.1" y2="1164.8" stroke="#000" stroke-width="0.8"/>
<text x="170.1" y="1174.3" font-size="9.5" text-anchor="middle">0.3</text>
<line x1="204.7" y1="1144.6" x2="205.7" y2="1150.6" stroke="#000" stroke-width="0.8"/>
<text x="207.7" y="1160.1" font-size="9.5" text-anchor="middle">0.625</text>
<line x1="240.9" y1="1131" x2="241.9" y2="1137" stroke="#000" stroke-width="0.8"/>
<text x="243.9" y="1146.5" font-size="9.5" text-anchor="middle">1.25</text>
<line x1="275.9" y1="1117.8" x2="276.9" y2="1123.8" stroke="#000" stroke-width="0.8"/>
<text x="278.9" y="1133.3" font-size="9.5" text-anchor="middle">2.5</text>
<line x1="308.1" y1="1105.7" x2="309.1" y2="1111.7" stroke="#000" stroke-width="0.8"/>
<text x="311.1" y="1121.2" font-size="9.5" text-anchor="middle">5</text>
<text x="74.1" y="1156.9" font-size="11" text-anchor="middle" transform="rotate(51.4 74.1 1156.9)">Palbociclib (uM)</text>
<text x="234.6" y="1166.4" font-size="11" text-anchor="middle" transform="rotate(-20.7 234.6 1166.4)">Blu222 (uM)</text>
<text x="523.1" y="852" font-size="27.5" font-weight="bold" text-anchor="middle" textLength="152.7" lengthAdjust="spacingAndGlyphs">T47D PR1.2</text>
<defs><linearGradient id="cb4" x1="0" x2="1" y1="0" y2="0"><stop offset="0" stop-color="#11D911"/><stop offset="0.5" stop-color="#ffffff"/><stop offset="1" stop-color="#EE1111"/></linearGradient></defs>
<rect x="372" y="892.2" width="298.9" height="4.3" fill="url(#cb4)"/>
<text x="372" y="883.8" font-size="9.5" text-anchor="middle">−60</text>
<text x="421.7" y="883.8" font-size="9.5" text-anchor="middle">−40</text>
<text x="471.4" y="883.8" font-size="9.5" text-anchor="middle">−20</text>
<text x="521.1" y="883.8" font-size="9.5" text-anchor="middle">0</text>
<text x="570.8" y="883.8" font-size="9.5" text-anchor="middle">20</text>
<text x="620.5" y="883.8" font-size="9.5" text-anchor="middle">40</text>
<text x="670.2" y="883.8" font-size="9.5" text-anchor="middle">60</text>
<text x="392.9" y="932.2" font-size="26.8" font-weight="bold" textLength="128.6" lengthAdjust="spacingAndGlyphs">HSA: 18.7</text>
<line x1="570.8" y1="1038.2" x2="574.5" y2="930.8" stroke="#000" stroke-width="0.8" stroke-dasharray="3,3"/>
<line x1="570.8" y1="1038.2" x2="400" y2="1095.1" stroke="#000" stroke-width="0.8" stroke-dasharray="3,3"/>
<line x1="570.8" y1="1038.2" x2="642.1" y2="1103.9" stroke="#000" stroke-width="0.8" stroke-dasharray="3,3"/>
<line x1="391.5" y1="983" x2="574.5" y2="930.8" stroke="#000" stroke-width="0.9"/>
<line x1="574.5" y1="930.8" x2="651.4" y2="991" stroke="#000" stroke-width="0.9"/>
<line x1="391.5" y1="983" x2="456.1" y2="1054.2" stroke="#000" stroke-width="0.9"/>
<line x1="456.1" y1="1054.2" x2="651.4" y2="991" stroke="#000" stroke-width="0.9"/>
<line x1="391.5" y1="983" x2="400" y2="1095.1" stroke="#000" stroke-width="0.9"/>
<line x1="651.4" y1="991" x2="642.1" y2="1103.9" stroke="#000" stroke-width="0.9"/>
<g transform="scale(.5)" stroke="#000" stroke-width="2" stroke-linejoin="round"><path class="q2" d="M1137 1945l-7-8l17-8l7 8z"/><path class="q1" d="M1120 1958l-7-6l17-15l7 8z"/><path class="q1" d="M1143 1957l-6-12l17-8l6 14z"/><path class="q3" d="M1103 1971l-7-3l17-16l7 6z"/><path class="q5" d="M1086 1982l-7-3l17-11l7 3z"/><path class="q6" d="M1150 1969l-7-12l17-6l7 14z"/><path class="q10" d="M1127 1967l-7-9l17-13l6 12z"/><path class="q9" d="M1069 1989l-7-1l17-9l7 3z"/><path class="q3" d="M1110 1976l-7-5l17-13l7 9z"/><path class="q8" d="M1157 1977l-7-8l17-4l7 10z"/><path class="q3" d="M1133 1974l-6-7l16-10l7 12z"/><path class="q14" d="M1092 1984l-6-2l17-11l7 5z"/><path class="q9" d="M1051 1995l-6-1l17-6l7 1z"/><path class="q8" d="M1116 1980l-6-4l17-9l6 7z"/><path class="q8" d="M1164 1981l-7-4l17-2l7 5z"/><path class="q3" d="M1140 1979l-7-5l17-5l7 8z"/><path class="q5" d="M1075 1990l-6-1l17-7l6 2z"/><path class="q19" d="M1034 2001l-6-2l17-5l6 1z"/><path class="q8" d="M1099 1985l-7-1l18-8l6 4z"/><path class="q7" d="M1058 1995l-7 0l18-6l6 1z"/><path class="q3" d="M1123 1982l-7-2l17-6l7 5z"/><path class="q3" d="M1147 1981l-7-2l17-2l7 4z"/><path class="q3" d="M1172 1982l-8-1l17-1l7 3z"/><path class="q19" d="M1017 2007l-7-2l18-6l6 2z"/><path class="q8" d="M1082 1990l-7 0l17-6l7 1z"/><path class="q7" d="M1041 2001l-7 0l17-6l7 0z"/><path class="q3" d="M1106 1985l-7 0l17-5l7 2z"/><path class="q19" d="M999 2013l-6-2l17-6l7 2z"/><path class="q6" d="M1131 1981l-8 1l17-3l7 2z"/><path class="q8" d="M1065 1994l-7 1l17-5l7 0z"/><path class="q10" d="M1155 1981l-8 0l17 0l8 1z"/><path class="q6" d="M1179 1983l-7-1l16 1l7 2z"/><path class="q7" d="M1023 2007l-6 0l17-6l7 0z"/><path class="q19" d="M981 2020l-6-3l18-6l6 2z"/><path class="q6" d="M1089 1988l-7 2l17-5l7 0z"/><path class="q8" d="M1047 1999l-6 2l17-6l7-1z"/><path class="q1" d="M1113 1982l-7 3l17-3l8-1z"/><path class="q7" d="M1006 2014l-7-1l18-6l6 0z"/><path class="q20" d="M964 2027l-7-3l18-7l6 3z"/><path class="q4" d="M1138 1980l-7 1l16 0l8 0z"/><path class="q1" d="M1186 1984l-7-1l16 2l8 2z"/><path class="q4" d="M1162 1980l-7 1l17 1l7 1z"/><path class="q6" d="M1072 1991l-7 3l17-4l7-2z"/><path class="q8" d="M1030 2006l-7 1l18-6l6-2z"/><path class="q9" d="M988 2021l-7-1l18-7l7 1z"/><path class="q22" d="M946 2036l-6-4l17-8l7 3z"/><path class="q4" d="M1096 1984l-7 4l17-3l7-3z"/><path class="q10" d="M1054 1996l-7 3l18-5l7-3z"/><path class="q14" d="M1012 2013l-6 1l17-7l7-1z"/><path class="q0" d="M1121 1979l-8 3l18-1l7-1z"/><path class="q9" d="M970 2030l-6-3l17-7l7 1z"/><path class="q4" d="M1194 1986l-8-2l17 3l8 4z"/><path class="q21" d="M928 2045l-6-5l18-8l6 4z"/><path class="q0" d="M1145 1978l-7 2l17 1l7-1z"/><path class="q0" d="M1170 1980l-8 0l17 3l7 1z"/><path class="q2" d="M1079 1987l-7 4l17-3l7-4z"/><path class="q19" d="M952 2039l-6-3l18-9l6 3z"/><path class="q14" d="M994 2021l-6 0l18-7l6-1z"/><path class="q10" d="M1036 2003l-6 3l17-7l7-3z"/><path class="q23" d="M910 2055l-6-7l18-8l6 5z"/><path class="q13" d="M1103 1980l-7 4l17-2l8-3z"/><path class="q2" d="M1202 1990l-8-4l17 5l7 4z"/><path class="q22" d="M934 2049l-6-4l18-9l6 3z"/><path class="q5" d="M976 2031l-6-1l18-9l6 0z"/><path class="q30" d="M892 2064l-6-7l18-9l6 7z"/><path class="q6" d="M1019 2011l-7 2l18-7l6-3z"/><path class="q2" d="M1061 1992l-7 4l18-5l7-4z"/><path class="q12" d="M1128 1976l-7 3l17 1l7-2z"/><path class="q13" d="M1177 1982l-7-2l16 4l8 2z"/><path class="q12" d="M1153 1977l-8 1l17 2l8 0z"/><path class="q21" d="M916 2060l-6-5l18-10l6 4z"/><path class="q9" d="M958 2041l-6-2l18-9l6 1z"/><path class="q31" d="M873 2072l-6-8l19-7l6 7z"/><path class="q3" d="M1001 2020l-7 1l18-8l7-2z"/><path class="q11" d="M1086 1983l-7 4l17-3l7-4z"/><path class="q0" d="M1209 1996l-7-6l16 5l8 6z"/><path class="q2" d="M1043 1999l-7 4l18-7l7-4z"/><path class="q30" d="M898 2070l-6-6l18-9l6 5z"/><path class="q19" d="M940 2052l-6-3l18-10l6 2z"/><path class="q8" d="M983 2030l-7 1l18-10l7-1z"/><path class="q15" d="M1111 1976l-8 4l18-1l7-3z"/><path class="q12" d="M1185 1985l-8-3l17 4l8 4z"/><path class="q31" d="M855 2077l-6-8l18-5l6 8z"/><path class="q22" d="M922 2064l-6-4l18-11l6 3z"/><path class="q31" d="M879 2079l-6-7l19-8l6 6z"/><path class="q15" d="M1160 1977l-7 0l17 3l7 2z"/><path class="q4" d="M1025 2008l-6 3l17-8l7-4z"/><path class="q15" d="M1135 1974l-7 2l17 2l8-1z"/><path class="q12" d="M1068 1988l-7 4l18-5l7-4z"/><path class="q2" d="M1217 2004l-8-8l17 5l7 7z"/><path class="q5" d="M964 2042l-6-1l18-10l7-1z"/><path class="q32" d="M904 2075l-6-5l18-10l6 4z"/><path class="q1" d="M1007 2018l-6 2l18-9l6-3z"/><path class="q9" d="M946 2054l-6-2l18-11l6 1z"/><path class="q31" d="M861 2085l-6-8l18-5l6 7z"/><path class="q31" d="M836 2081l-6-7l19-5l6 8z"/><path class="q12" d="M1192 1991l-7-6l17 5l7 6z"/><path class="q17" d="M1093 1979l-7 4l17-3l8-4z"/><path class="q12" d="M1050 1995l-7 4l18-7l7-4z"/><path class="q31" d="M885 2085l-6-6l19-9l6 5z"/><path class="q2" d="M1224 2014l-7-10l16 4l8 9z"/><path class="q20" d="M928 2067l-6-3l18-12l6 2z"/><path class="q10" d="M989 2029l-6 1l18-10l6-2z"/><path class="q17" d="M1168 1980l-8-3l17 5l8 3z"/><path class="q24" d="M1118 1973l-7 3l17 0l7-2z"/><path class="q24" d="M1143 1974l-8 0l18 3l7 0z"/><path class="q21" d="M910 2079l-6-4l18-11l6 3z"/><path class="q11" d="M1032 2004l-7 4l18-9l7-4z"/><path class="q8" d="M971 2042l-7 0l19-12l6-1z"/><path class="q31" d="M842 2089l-6-8l19-4l6 8z"/><path class="q31" d="M867 2091l-6-6l18-6l6 6z"/><path class="q12" d="M1200 1999l-8-8l17 5l8 8z"/><path class="q30" d="M817 2085l-6-7l19-4l6 7z"/><path class="q1" d="M1231 2025l-7-11l17 3l7 11z"/><path class="q18" d="M1075 1983l-7 5l18-5l7-4z"/><path class="q5" d="M953 2055l-7-1l18-12l7 0z"/><path class="q30" d="M891 2089l-6-4l19-10l6 4z"/><path class="q0" d="M1014 2015l-7 3l18-10l7-4z"/><path class="q18" d="M1175 1986l-7-6l17 5l7 6z"/><path class="q6" d="M1239 2038l-8-13l17 3l7 11z"/><path class="q9" d="M934 2069l-6-2l18-13l7 1z"/><path class="q27" d="M1100 1975l-7 4l18-3l7-3z"/><path class="q11" d="M1207 2009l-7-10l17 5l7 10z"/><path class="q17" d="M1057 1991l-7 4l18-7l7-5z"/><path class="q31" d="M848 2095l-6-6l19-4l6 6z"/><path class="q30" d="M823 2092l-6-7l19-4l6 8z"/><path class="q4" d="M995 2028l-6 1l18-11l7-3z"/><path class="q25" d="M1150 1976l-7-2l17 3l8 3z"/><path class="q32" d="M798 2089l-6-7l19-4l6 7z"/><path class="q25" d="M1125 1973l-7 0l17 1l8 0z"/><path class="q31" d="M873 2096l-6-5l18-6l6 4z"/><path class="q22" d="M916 2082l-6-3l18-12l6 2z"/><path class="q8" d="M1246 2052l-7-14l16 1l8 12z"/><path class="q10" d="M977 2042l-6 0l18-13l6-1z"/><path class="q0" d="M1214 2022l-7-13l17 5l7 11z"/><path class="q15" d="M1039 2001l-7 3l18-9l7-4z"/><path class="q18" d="M1183 1994l-8-8l17 5l8 8z"/><path class="q23" d="M897 2092l-6-3l19-10l6 3z"/><path class="q25" d="M1082 1980l-7 3l18-4l7-4z"/><path class="q8" d="M959 2056l-6-1l18-13l6 0z"/><path class="q5" d="M1253 2066l-7-14l17-1l7 13z"/><path class="q30" d="M828 2099l-5-7l19-3l6 6z"/><path class="q31" d="M854 2101l-6-6l19-4l6 5z"/><path class="q32" d="M803 2096l-5-7l19-4l6 7z"/><path class="q4" d="M1222 2037l-8-15l17 3l8 13z"/><path class="q7" d="M940 2070l-6-1l19-14l6 1z"/><path class="q16" d="M1020 2013l-6 2l18-11l7-3z"/><path class="q25" d="M1158 1982l-8-6l18 4l7 6z"/><path class="q30" d="M879 2101l-6-5l18-7l6 3z"/><path class="q28" d="M1108 1974l-8 1l18-2l7 0z"/><path class="q17" d="M1190 2006l-7-12l17 5l7 10z"/><path class="q9" d="M1261 2080l-8-14l17-2l8 12z"/><path class="q28" d="M1133 1975l-8-2l18 1l7 2z"/><path class="q19" d="M922 2084l-6-2l18-13l6 1z"/><path class="q13" d="M1002 2027l-7 1l19-13l6-2z"/><path class="q10" d="M1229 2052l-7-15l17 1l7 14z"/><path class="q25" d="M1064 1988l-7 3l18-8l7-3z"/><path class="q22" d="M903 2095l-6-3l19-10l6 2z"/><path class="q2" d="M984 2041l-7 1l18-14l7-1z"/><path class="q16" d="M1197 2020l-7-14l17 3l7 13z"/><path class="q20" d="M1268 2093l-7-13l17-4l7 12z"/><path class="q30" d="M834 2105l-6-6l20-4l6 6z"/><path class="q32" d="M809 2103l-6-7l20-4l5 7z"/><path class="q8" d="M1236 2068l-7-16l17 0l7 14z"/><path class="q30" d="M860 2107l-6-6l19-5l6 5z"/><path class="q25" d="M1165 1991l-7-9l17 4l8 8z"/><path class="q10" d="M965 2057l-6-1l18-14l7-1z"/><path class="q27" d="M1046 1998l-7 3l18-10l7-3z"/><path class="q29" d="M1089 1979l-7 1l18-5l8-1z"/><path class="q14" d="M947 2072l-7-2l19-14l6 1z"/><path class="q13" d="M1204 2036l-7-16l17 2l8 15z"/><path class="q7" d="M1243 2083l-7-15l17-2l8 14z"/><path class="q23" d="M885 2104l-6-3l18-9l6 3z"/><path class="q29" d="M1140 1980l-7-5l17 1l8 6z"/><path class="q21" d="M1276 2105l-8-12l17-5l8 11z"/><path class="q33" d="M1115 1976l-7-2l17-1l8 2z"/><path class="q18" d="M1027 2011l-7 2l19-12l7-3z"/><path class="q7" d="M928 2086l-6-2l18-14l7 2z"/><path class="q27" d="M1173 2003l-8-12l18 3l7 12z"/><path class="q4" d="M1212 2053l-8-17l18 1l7 15z"/><path class="q20" d="M1251 2098l-8-15l18-3l7 13z"/><path class="q32" d="M815 2110l-6-7l19-4l6 6z"/><path class="q30" d="M840 2112l-6-7l20-4l6 6z"/><path class="q16" d="M1009 2026l-7 1l18-14l7-2z"/><path class="q29" d="M1071 1987l-7 1l18-8l7-1z"/><path class="q20" d="M910 2098l-7-3l19-11l6 2z"/><path class="q3" d="M1219 2070l-7-17l17-1l7 16z"/><path class="q32" d="M866 2112l-6-5l19-6l6 3z"/><path class="q13" d="M990 2042l-6-1l18-14l7-1z"/><path class="q17" d="M1180 2018l-7-15l17 3l7 14z"/><path class="q29" d="M1148 1989l-8-9l18 2l7 9z"/><path class="q21" d="M1258 2111l-7-13l17-5l8 12z"/><path class="q5" d="M1226 2087l-7-17l17-2l7 15z"/><path class="q4" d="M972 2058l-7-1l19-16l6 1z"/><path class="q34" d="M1097 1980l-8-1l19-5l7 2z"/><path class="q21" d="M891 2108l-6-4l18-9l7 3z"/><path class="q28" d="M1053 1998l-7 0l18-10l7-1z"/><path class="q12" d="M1187 2035l-7-17l17 2l7 16z"/><path class="q3" d="M953 2074l-6-2l18-15l7 1z"/><path class="q34" d="M1122 1981l-7-5l18-1l7 5z"/><path class="q19" d="M1233 2103l-7-16l17-4l8 15z"/><path class="q32" d="M821 2117l-6-7l19-5l6 7z"/><path class="q5" d="M935 2088l-7-2l19-14l6 2z"/><path class="q0" d="M1194 2054l-7-19l17 1l8 17z"/><path class="q32" d="M846 2118l-6-6l20-5l6 5z"/><path class="q27" d="M1034 2012l-7-1l19-13l7 0z"/><path class="q26" d="M1155 2002l-7-13l17 2l8 12z"/><path class="q10" d="M1201 2072l-7-18l18-1l7 17z"/><path class="q21" d="M872 2117l-6-5l19-8l6 4z"/><path class="q21" d="M1241 2117l-8-14l18-5l7 13z"/><path class="q9" d="M916 2101l-6-3l18-12l7 2z"/><path class="q17" d="M1016 2027l-7-1l18-15l7 1z"/><path class="q34" d="M1078 1989l-7-2l18-8l8 1z"/><path class="q14" d="M1208 2091l-7-19l18-2l7 17z"/><path class="q12" d="M997 2044l-7-2l19-16l7 1z"/><path class="q27" d="M1162 2018l-7-16l18 1l7 15z"/><path class="q34" d="M1130 1991l-8-10l18-1l8 9z"/><path class="q35" d="M1104 1986l-7-6l18-4l7 5z"/><path class="q2" d="M978 2061l-6-3l18-16l7 2z"/><path class="q9" d="M1216 2108l-8-17l18-4l7 16z"/><path class="q20" d="M897 2113l-6-5l19-10l6 3z"/><path class="q32" d="M827 2124l-6-7l19-5l6 6z"/><path class="q15" d="M1169 2036l-7-18l18 0l7 17z"/><path class="q10" d="M960 2077l-7-3l19-16l6 3z"/><path class="q33" d="M1060 2000l-7-2l18-11l7 2z"/><path class="q23" d="M852 2124l-6-6l20-6l6 5z"/><path class="q13" d="M1176 2056l-7-20l18-1l7 19z"/><path class="q8" d="M941 2092l-6-4l18-14l7 3z"/><path class="q21" d="M1223 2124l-7-16l17-5l8 14z"/><path class="q29" d="M1137 2004l-7-13l18-2l7 13z"/><path class="q1" d="M1183 2076l-7-20l18-2l7 18z"/><path class="q26" d="M1041 2014l-7-2l19-14l7 2z"/><path class="q21" d="M878 2122l-6-5l19-9l6 5z"/><path class="q8" d="M1190 2095l-7-19l18-4l7 19z"/><path class="q7" d="M922 2106l-6-5l19-13l6 4z"/><path class="q35" d="M1086 1994l-8-5l19-9l7 6z"/><path class="q35" d="M1111 1995l-7-9l18-5l8 10z"/><path class="q24" d="M1023 2030l-7-3l18-15l7 2z"/><path class="q9" d="M1198 2113l-8-18l18-4l8 17z"/><path class="q26" d="M1144 2020l-7-16l18-2l7 16z"/><path class="q15" d="M1004 2048l-7-4l19-17l7 3z"/><path class="q23" d="M833 2131l-6-7l19-6l6 6z"/><path class="q19" d="M903 2118l-6-5l19-12l6 5z"/><path class="q13" d="M985 2065l-7-4l19-17l7 4z"/><path class="q18" d="M1151 2039l-7-19l18-2l7 18z"/><path class="q22" d="M1205 2130l-7-17l18-5l7 16z"/><path class="q21" d="M858 2130l-6-6l20-7l6 5z"/><path class="q33" d="M1067 2006l-7-6l18-11l8 5z"/><path class="q1" d="M966 2082l-6-5l18-16l7 4z"/><path class="q12" d="M1158 2059l-7-20l18-3l7 20z"/><path class="q33" d="M1119 2009l-8-14l19-4l7 13z"/><path class="q3" d="M948 2097l-7-5l19-15l6 5z"/><path class="q4" d="M1165 2080l-7-21l18-3l7 20z"/><path class="q35" d="M1093 2004l-7-10l18-8l7 9z"/><path class="q3" d="M1172 2100l-7-20l18-4l7 19z"/><path class="q22" d="M884 2128l-6-6l19-9l6 5z"/><path class="q28" d="M1048 2020l-7-6l19-14l7 6z"/><path class="q5" d="M929 2111l-7-5l19-14l7 5z"/><path class="q9" d="M1180 2119l-8-19l18-5l8 18z"/><path class="q26" d="M1126 2025l-7-16l18-5l7 16z"/><path class="q27" d="M1030 2036l-7-6l18-16l7 6z"/><path class="q23" d="M839 2138l-6-7l19-7l6 6z"/><path class="q15" d="M1011 2054l-7-6l19-18l7 6z"/><path class="q22" d="M1187 2136l-7-17l18-6l7 17z"/><path class="q24" d="M1133 2044l-7-19l18-5l7 19z"/><path class="q33" d="M1074 2015l-7-9l19-12l7 10z"/><path class="q19" d="M910 2124l-7-6l19-12l7 5z"/><path class="q13" d="M992 2071l-7-6l19-17l7 6z"/><path class="q33" d="M1100 2017l-7-13l18-9l8 14z"/><path class="q21" d="M865 2137l-7-7l20-8l6 6z"/><path class="q12" d="M1140 2065l-7-21l18-5l7 20z"/><path class="q4" d="M973 2088l-7-6l19-17l7 6z"/><path class="q2" d="M1147 2086l-7-21l18-6l7 21z"/><path class="q3" d="M1154 2106l-7-20l18-6l7 20z"/><path class="q3" d="M954 2104l-6-7l18-15l7 6z"/><path class="q28" d="M1055 2029l-7-9l19-14l7 9z"/><path class="q7" d="M1161 2125l-7-19l18-6l8 19z"/><path class="q22" d="M890 2135l-6-7l19-10l7 6z"/><path class="q26" d="M1107 2033l-7-16l19-8l7 16z"/><path class="q5" d="M935 2118l-6-7l19-14l6 7z"/><path class="q27" d="M1037 2045l-7-9l18-16l7 9z"/><path class="q29" d="M1081 2028l-7-13l19-11l7 13z"/><path class="q22" d="M1169 2143l-8-18l19-6l7 17z"/><path class="q18" d="M1114 2052l-7-19l19-8l7 19z"/><path class="q15" d="M1018 2062l-7-8l19-18l7 9z"/><path class="q23" d="M845 2145l-6-7l19-8l7 7z"/><path class="q12" d="M1122 2072l-8-20l19-8l7 21z"/><path class="q13" d="M999 2080l-7-9l19-17l7 8z"/><path class="q9" d="M916 2131l-6-7l19-13l6 7z"/><path class="q4" d="M1129 2093l-7-21l18-7l7 21z"/><path class="q25" d="M1063 2042l-8-13l19-14l7 13z"/><path class="q1" d="M980 2096l-7-8l19-17l7 9z"/><path class="q21" d="M871 2144l-6-7l19-9l6 7z"/><path class="q25" d="M1089 2044l-8-16l19-11l7 16z"/><path class="q3" d="M1136 2113l-7-20l18-7l7 20z"/><path class="q3" d="M961 2111l-7-7l19-16l7 8z"/><path class="q9" d="M1143 2132l-7-19l18-7l7 19z"/><path class="q18" d="M1044 2057l-7-12l18-16l8 13z"/><path class="q17" d="M1096 2062l-7-18l18-11l7 19z"/><path class="q20" d="M897 2142l-7-7l20-11l6 7z"/><path class="q16" d="M1025 2073l-7-11l19-17l7 12z"/><path class="q22" d="M1150 2149l-7-17l18-7l8 18z"/><path class="q24" d="M1070 2057l-7-15l18-14l8 16z"/><path class="q5" d="M942 2125l-7-7l19-14l7 7z"/><path class="q11" d="M1103 2082l-7-20l18-10l8 20z"/><path class="q0" d="M1006 2090l-7-10l19-18l7 11z"/><path class="q4" d="M1110 2101l-7-19l19-10l7 21z"/><path class="q23" d="M851 2153l-6-8l20-8l6 7z"/><path class="q8" d="M1117 2121l-7-20l19-8l7 20z"/><path class="q15" d="M1051 2071l-7-14l19-15l7 15z"/><path class="q1" d="M987 2106l-7-10l19-16l7 10z"/><path class="q15" d="M1077 2074l-7-17l19-13l7 18z"/><path class="q9" d="M923 2138l-7-7l19-13l7 7z"/><path class="q21" d="M877 2151l-6-7l19-9l7 7z"/><path class="q9" d="M1124 2139l-7-18l19-8l7 19z"/><path class="q3" d="M968 2120l-7-9l19-15l7 10z"/><path class="q11" d="M1032 2086l-7-13l19-16l7 14z"/><path class="q13" d="M1084 2092l-7-18l19-12l7 20z"/><path class="q11" d="M1058 2087l-7-16l19-14l7 17z"/><path class="q1" d="M1091 2111l-7-19l19-10l7 19z"/><path class="q22" d="M1132 2156l-8-17l19-7l7 17z"/><path class="q2" d="M1013 2102l-7-12l19-17l7 13z"/><path class="q20" d="M903 2149l-6-7l19-11l7 7z"/><path class="q5" d="M949 2134l-7-9l19-14l7 9z"/><path class="q8" d="M1098 2129l-7-18l19-10l7 20z"/><path class="q10" d="M994 2116l-7-10l19-16l7 12z"/><path class="q2" d="M1065 2104l-7-17l19-13l7 18z"/><path class="q0" d="M1039 2101l-7-15l19-15l7 16z"/><path class="q23" d="M858 2160l-7-7l20-9l6 7z"/><path class="q9" d="M1106 2146l-8-17l19-8l7 18z"/><path class="q19" d="M929 2146l-6-8l19-13l7 9z"/><path class="q6" d="M1072 2121l-7-17l19-12l7 19z"/><path class="q8" d="M975 2130l-7-10l19-14l7 10z"/><path class="q1" d="M1020 2115l-7-13l19-16l7 15z"/><path class="q21" d="M884 2159l-7-8l20-9l6 7z"/><path class="q1" d="M1046 2116l-7-15l19-14l7 17z"/><path class="q22" d="M1113 2162l-7-16l18-7l8 17z"/><path class="q14" d="M1080 2138l-8-17l19-10l7 18z"/><path class="q3" d="M1001 2128l-7-12l19-14l7 13z"/><path class="q7" d="M955 2143l-6-9l19-14l7 10z"/><path class="q20" d="M910 2157l-7-8l20-11l6 8z"/><path class="q3" d="M1053 2132l-7-16l19-12l7 17z"/><path class="q3" d="M1027 2128l-7-13l19-14l7 15z"/><path class="q19" d="M1087 2154l-7-16l18-9l8 17z"/><path class="q5" d="M982 2141l-7-11l19-14l7 12z"/><path class="q23" d="M864 2168l-6-8l19-9l7 8z"/><path class="q19" d="M936 2155l-7-9l20-12l6 9z"/><path class="q7" d="M1061 2147l-8-15l19-11l8 17z"/><path class="q14" d="M1008 2140l-7-12l19-13l7 13z"/><path class="q21" d="M890 2167l-6-8l19-10l7 8z"/><path class="q14" d="M1034 2142l-7-14l19-12l7 16z"/><path class="q21" d="M1094 2169l-7-15l19-8l7 16z"/><path class="q9" d="M962 2153l-7-10l20-13l7 11z"/><path class="q19" d="M1068 2162l-7-15l19-9l7 16z"/><path class="q22" d="M916 2165l-6-8l19-11l7 9z"/><path class="q7" d="M989 2152l-7-11l19-13l7 12z"/><path class="q9" d="M1041 2156l-7-14l19-10l8 15z"/><path class="q7" d="M1015 2153l-7-13l19-12l7 14z"/><path class="q20" d="M943 2163l-7-8l19-12l7 10z"/><path class="q23" d="M870 2175l-6-7l20-9l6 8z"/><path class="q21" d="M1075 2175l-7-13l19-8l7 15z"/><path class="q19" d="M969 2163l-7-10l20-12l7 11z"/><path class="q21" d="M897 2174l-7-7l20-10l6 8z"/><path class="q20" d="M1049 2170l-8-14l20-9l7 15z"/><path class="q9" d="M996 2163l-7-11l19-12l7 13z"/><path class="q19" d="M1022 2165l-7-12l19-11l7 14z"/><path class="q22" d="M923 2173l-7-8l20-10l7 8z"/><path class="q20" d="M950 2173l-7-10l19-10l7 10z"/><path class="q21" d="M1056 2182l-7-12l19-8l7 13z"/><path class="q23" d="M877 2183l-7-8l20-8l7 7z"/><path class="q20" d="M976 2173l-7-10l20-11l7 11z"/><path class="q22" d="M1029 2177l-7-12l19-9l8 14z"/><path class="q20" d="M1003 2174l-7-11l19-10l7 12z"/><path class="q21" d="M903 2182l-6-8l19-9l7 8z"/><path class="q22" d="M930 2182l-7-9l20-10l7 10z"/><path class="q22" d="M956 2182l-6-9l19-10l7 10z"/><path class="q21" d="M1037 2189l-8-12l20-7l7 12z"/><path class="q22" d="M983 2183l-7-10l20-10l7 11z"/><path class="q22" d="M1010 2185l-7-11l19-9l7 12z"/><path class="q23" d="M883 2191l-6-8l20-9l6 8z"/><path class="q21" d="M910 2191l-7-9l20-9l7 9z"/><path class="q21" d="M937 2191l-7-9l20-9l6 9z"/><path class="q21" d="M963 2191l-7-9l20-9l7 10z"/><path class="q21" d="M1017 2196l-7-11l19-8l8 12z"/><path class="q21" d="M990 2193l-7-10l20-9l7 11z"/><path class="q23" d="M890 2199l-7-8l20-9l7 9z"/><path class="q21" d="M917 2199l-7-8l20-9l7 9z"/><path class="q21" d="M944 2199l-7-8l19-9l7 9z"/><path class="q21" d="M971 2200l-8-9l20-8l7 10z"/><path class="q23" d="M997 2203l-7-10l20-8l7 11z"/><path class="q23" d="M897 2207l-7-8l20-8l7 8z"/><path class="q23" d="M924 2207l-7-8l20-8l7 8z"/><path class="q23" d="M951 2208l-7-9l19-8l8 9z"/><path class="q23" d="M978 2210l-7-10l19-7l7 10z"/><path class="q23" d="M903 2215l-6-8l20-8l7 8z"/><path class="q23" d="M930 2215l-6-8l20-8l7 9z"/><path class="q23" d="M958 2217l-7-9l20-8l7 10z"/><path class="q23" d="M910 2223l-7-8l21-8l6 8z"/><path class="q23" d="M937 2224l-7-9l21-7l7 9z"/><path class="q23" d="M917 2231l-7-8l20-8l7 9z"/></g>
<line x1="400" y1="1095.1" x2="460.7" y2="1171.9" stroke="#000" stroke-width="0.9"/>
<line x1="460.7" y1="1171.9" x2="642.1" y2="1103.9" stroke="#000" stroke-width="0.9"/>
<line x1="460.7" y1="1171.9" x2="456.1" y2="1054.2" stroke="#000" stroke-width="0.9"/>
<line x1="394" y1="1095.1" x2="400" y2="1095.1" stroke="#000" stroke-width="0.8"/>
<text x="393.5" y="1098.4" font-size="9" text-anchor="end">−60</text>
<line x1="392.7" y1="1077.5" x2="398.7" y2="1077.5" stroke="#000" stroke-width="0.8"/>
<text x="392.2" y="1080.8" font-size="9" text-anchor="end">−40</text>
<line x1="391.3" y1="1059.5" x2="397.3" y2="1059.5" stroke="#000" stroke-width="0.8"/>
<text x="390.8" y="1062.8" font-size="9" text-anchor="end">−20</text>
<line x1="389.9" y1="1041" x2="395.9" y2="1041" stroke="#000" stroke-width="0.8"/>
<text x="389.4" y="1044.3" font-size="9" text-anchor="end">0</text>
<line x1="388.5" y1="1022.1" x2="394.5" y2="1022.1" stroke="#000" stroke-width="0.8"/>
<text x="388" y="1025.4" font-size="9" text-anchor="end">20</text>
<line x1="387" y1="1002.8" x2="393" y2="1002.8" stroke="#000" stroke-width="0.8"/>
<text x="386.5" y="1006.1" font-size="9" text-anchor="end">40</text>
<line x1="385.5" y1="983" x2="391.5" y2="983" stroke="#000" stroke-width="0.8"/>
<text x="385" y="986.3" font-size="9" text-anchor="end">60</text>
<line x1="442.5" y1="1149" x2="437.5" y2="1154" stroke="#000" stroke-width="0.8"/>
<text x="432" y="1162.5" font-size="9.5" text-anchor="middle">1</text>
<line x1="423.5" y1="1124.9" x2="418.5" y2="1129.9" stroke="#000" stroke-width="0.8"/>
<text x="413" y="1138.4" font-size="9.5" text-anchor="middle">1.7</text>
<line x1="406.7" y1="1103.6" x2="401.7" y2="1108.6" stroke="#000" stroke-width="0.8"/>
<text x="396.2" y="1117.1" font-size="9.5" text-anchor="middle">3</text>
<line x1="495.6" y1="1158.9" x2="496.6" y2="1164.9" stroke="#000" stroke-width="0.8"/>
<text x="498.6" y="1174.4" font-size="9.5" text-anchor="middle">0.3</text>
<line x1="533.1" y1="1144.8" x2="534.1" y2="1150.8" stroke="#000" stroke-width="0.8"/>
<text x="536.1" y="1160.3" font-size="9.5" text-anchor="middle">0.6</text>
<line x1="569.5" y1="1131.1" x2="570.5" y2="1137.1" stroke="#000" stroke-width="0.8"/>
<text x="572.5" y="1146.6" font-size="9.5" text-anchor="middle">1.25</text>
<line x1="604.7" y1="1117.9" x2="605.7" y2="1123.9" stroke="#000" stroke-width="0.8"/>
<text x="607.7" y="1133.4" font-size="9.5" text-anchor="middle">2.5</text>
<line x1="637" y1="1105.8" x2="638" y2="1111.8" stroke="#000" stroke-width="0.8"/>
<text x="640" y="1121.3" font-size="9.5" text-anchor="middle">5</text>
<text x="402.9" y="1156.7" font-size="11" text-anchor="middle" transform="rotate(51.7 402.9 1156.7)">BLU−222 (uM)</text>
<text x="563.1" y="1166.5" font-size="11" text-anchor="middle" transform="rotate(-20.6 563.1 1166.5)">Palbociclib (uM)</text>
<text x="173" y="1268.6" font-size="27.5" font-weight="bold" text-anchor="middle" textLength="122" lengthAdjust="spacingAndGlyphs">HCC1806</text>
<defs><linearGradient id="cb5" x1="0" x2="1" y1="0" y2="0"><stop offset="0" stop-color="#11D911"/><stop offset="0.5" stop-color="#ffffff"/><stop offset="1" stop-color="#EE1111"/></linearGradient></defs>
<rect x="28.1" y="1301.5" width="309.7" height="4.3" fill="url(#cb5)"/>
<text x="28.6" y="1292.7" font-size="9.5" text-anchor="middle">−60</text>
<text x="80.1" y="1292.7" font-size="9.5" text-anchor="middle">−40</text>
<text x="131.5" y="1292.7" font-size="9.5" text-anchor="middle">−20</text>
<text x="183" y="1292.7" font-size="9.5" text-anchor="middle">0</text>
<text x="234.5" y="1292.7" font-size="9.5" text-anchor="middle">20</text>
<text x="285.9" y="1292.7" font-size="9.5" text-anchor="middle">40</text>
<text x="337.4" y="1292.7" font-size="9.5" text-anchor="middle">60</text>
<text x="49.5" y="1342.2" font-size="26.8" font-weight="bold" textLength="145" lengthAdjust="spacingAndGlyphs">HSA: 22.95</text>
<line x1="234" y1="1453.7" x2="237.8" y2="1341.5" stroke="#000" stroke-width="0.8" stroke-dasharray="3,3"/>
<line x1="234" y1="1453.7" x2="56.8" y2="1512.5" stroke="#000" stroke-width="0.8" stroke-dasharray="3,3"/>
<line x1="234" y1="1453.7" x2="308.8" y2="1521.3" stroke="#000" stroke-width="0.8" stroke-dasharray="3,3"/>
<line x1="47.8" y1="1395.6" x2="237.8" y2="1341.5" stroke="#000" stroke-width="0.9"/>
<line x1="237.8" y1="1341.5" x2="318.7" y2="1403.2" stroke="#000" stroke-width="0.9"/>
<line x1="47.8" y1="1395.6" x2="115.5" y2="1468.6" stroke="#000" stroke-width="0.9"/>
<line x1="115.5" y1="1468.6" x2="318.7" y2="1403.2" stroke="#000" stroke-width="0.9"/>
<line x1="47.8" y1="1395.6" x2="56.8" y2="1512.5" stroke="#000" stroke-width="0.9"/>
<line x1="318.7" y1="1403.2" x2="308.8" y2="1521.3" stroke="#000" stroke-width="0.9"/>
<g transform="scale(.5)" stroke="#000" stroke-width="2" stroke-linejoin="round"><path class="q28" d="M464 2729l-7-8l17-5l8 10z"/><path class="q25" d="M471 2744l-7-15l18-3l7 15z"/><path class="q28" d="M446 2738l-7-7l18-10l7 8z"/><path class="q17" d="M478 2763l-7-19l18-3l7 20z"/><path class="q11" d="M485 2783l-7-20l18-2l6 20z"/><path class="q1" d="M492 2801l-7-18l17-2l7 19z"/><path class="q25" d="M429 2749l-8-6l18-12l7 7z"/><path class="q8" d="M499 2817l-7-16l17-1l7 17z"/><path class="q25" d="M454 2751l-8-13l18-9l7 15z"/><path class="q24" d="M411 2761l-7-6l17-12l8 6z"/><path class="q18" d="M461 2768l-7-17l17-7l7 19z"/><path class="q7" d="M506 2831l-7-14l17 0l8 13z"/><path class="q11" d="M467 2786l-6-18l17-5l7 20z"/><path class="q27" d="M436 2761l-7-12l17-11l8 13z"/><path class="q17" d="M393 2770l-7-5l18-10l7 6z"/><path class="q4" d="M474 2803l-7-17l18-3l7 18z"/><path class="q19" d="M514 2842l-8-11l18-1l7 11z"/><path class="q6" d="M482 2819l-8-16l18-2l7 16z"/><path class="q17" d="M443 2775l-7-14l18-10l7 17z"/><path class="q18" d="M418 2770l-7-9l18-12l7 12z"/><path class="q15" d="M375 2776l-7-4l18-7l7 5z"/><path class="q12" d="M450 2791l-7-16l18-7l6 18z"/><path class="q14" d="M489 2832l-7-13l17-2l7 14z"/><path class="q20" d="M521 2852l-7-10l17-1l7 9z"/><path class="q17" d="M400 2777l-7-7l18-9l7 9z"/><path class="q2" d="M457 2806l-7-15l17-5l7 17z"/><path class="q15" d="M425 2782l-7-12l18-9l7 14z"/><path class="q7" d="M496 2843l-7-11l17-1l8 11z"/><path class="q10" d="M464 2820l-7-14l17-3l8 16z"/><path class="q12" d="M432 2795l-7-13l18-7l7 16z"/><path class="q15" d="M356 2779l-7-3l19-4l7 4z"/><path class="q15" d="M382 2782l-7-6l18-6l7 7z"/><path class="q15" d="M407 2787l-7-10l18-7l7 12z"/><path class="q22" d="M529 2860l-8-8l17-2l8 9z"/><path class="q8" d="M471 2833l-7-13l18-1l7 13z"/><path class="q0" d="M439 2808l-7-13l18-4l7 15z"/><path class="q19" d="M504 2853l-8-10l18-1l7 10z"/><path class="q12" d="M414 2798l-7-11l18-5l7 13z"/><path class="q1" d="M446 2821l-7-13l18-2l7 14z"/><path class="q17" d="M338 2781l-7-2l18-3l7 3z"/><path class="q5" d="M479 2844l-8-11l18-1l7 11z"/><path class="q15" d="M389 2790l-7-8l18-5l7 10z"/><path class="q17" d="M363 2784l-7-5l19-3l7 6z"/><path class="q21" d="M536 2868l-7-8l17-1l8 8z"/><path class="q20" d="M511 2862l-7-9l17-1l8 8z"/><path class="q13" d="M421 2810l-7-12l18-3l7 13z"/><path class="q6" d="M453 2833l-7-12l18-1l7 13z"/><path class="q7" d="M486 2854l-7-10l17-1l8 10z"/><path class="q16" d="M396 2800l-7-10l18-3l7 11z"/><path class="q18" d="M319 2784l-6-3l18-2l7 2z"/><path class="q4" d="M428 2822l-7-12l18-2l7 13z"/><path class="q17" d="M370 2792l-7-8l19-2l7 8z"/><path class="q21" d="M544 2876l-8-8l18-1l8 7z"/><path class="q18" d="M345 2786l-7-5l18-2l7 5z"/><path class="q8" d="M461 2845l-8-12l18 0l8 11z"/><path class="q20" d="M519 2870l-8-8l18-2l7 8z"/><path class="q9" d="M493 2864l-7-10l18-1l7 9z"/><path class="q11" d="M403 2811l-7-11l18-2l7 12z"/><path class="q10" d="M435 2834l-7-12l18-1l7 12z"/><path class="q14" d="M468 2855l-7-10l18-1l7 10z"/><path class="q15" d="M377 2801l-7-9l19-2l7 10z"/><path class="q21" d="M552 2883l-8-7l18-2l7 7z"/><path class="q24" d="M301 2787l-7-3l19-3l6 3z"/><path class="q18" d="M352 2793l-7-7l18-2l7 8z"/><path class="q22" d="M526 2879l-7-9l17-2l8 8z"/><path class="q0" d="M410 2823l-7-12l18-1l7 12z"/><path class="q24" d="M326 2788l-7-4l19-3l7 5z"/><path class="q6" d="M443 2846l-8-12l18-1l8 12z"/><path class="q19" d="M501 2873l-8-9l18-2l8 8z"/><path class="q7" d="M476 2865l-8-10l18-1l7 10z"/><path class="q12" d="M384 2812l-7-11l19-1l7 11z"/><path class="q4" d="M417 2835l-7-12l18-1l7 12z"/><path class="q24" d="M282 2792l-7-3l19-5l7 3z"/><path class="q8" d="M450 2857l-7-11l18-1l7 10z"/><path class="q21" d="M560 2890l-8-7l17-2l8 6z"/><path class="q17" d="M359 2802l-7-9l18-1l7 9z"/><path class="q22" d="M534 2886l-8-7l18-3l8 7z"/><path class="q20" d="M509 2881l-8-8l18-3l7 9z"/><path class="q27" d="M307 2791l-6-4l18-3l7 4z"/><path class="q24" d="M333 2795l-7-7l19-2l7 7z"/><path class="q11" d="M392 2824l-8-12l19-1l7 12z"/><path class="q9" d="M483 2875l-7-10l17-1l8 9z"/><path class="q10" d="M424 2847l-7-12l18-1l8 12z"/><path class="q14" d="M457 2868l-7-11l18-2l8 10z"/><path class="q15" d="M366 2813l-7-11l18-1l7 11z"/><path class="q24" d="M263 2799l-7-3l19-7l7 3z"/><path class="q0" d="M399 2837l-7-13l18-1l7 12z"/><path class="q23" d="M568 2898l-8-8l17-3l9 7z"/><path class="q22" d="M542 2894l-8-8l18-3l8 7z"/><path class="q6" d="M432 2859l-8-12l19-1l7 11z"/><path class="q24" d="M340 2804l-7-9l19-2l7 9z"/><path class="q20" d="M516 2889l-7-8l17-2l8 7z"/><path class="q27" d="M288 2796l-6-4l19-5l6 4z"/><path class="q27" d="M314 2798l-7-7l19-3l7 7z"/><path class="q19" d="M491 2884l-8-9l18-2l8 8z"/><path class="q12" d="M373 2826l-7-13l18-1l8 12z"/><path class="q18" d="M244 2808l-7-3l19-9l7 3z"/><path class="q5" d="M465 2878l-8-10l19-3l7 10z"/><path class="q4" d="M406 2850l-7-13l18-2l7 12z"/><path class="q8" d="M439 2871l-7-12l18-2l7 11z"/><path class="q17" d="M347 2815l-7-11l19-2l7 11z"/><path class="q27" d="M269 2803l-6-4l19-7l6 4z"/><path class="q17" d="M225 2820l-7-3l19-12l7 3z"/><path class="q23" d="M576 2905l-8-7l18-4l8 7z"/><path class="q21" d="M550 2901l-8-7l18-4l8 8z"/><path class="q13" d="M380 2839l-7-13l19-2l7 13z"/><path class="q20" d="M524 2897l-8-8l18-3l8 8z"/><path class="q27" d="M321 2807l-7-9l19-3l7 9z"/><path class="q19" d="M498 2892l-7-8l18-3l7 8z"/><path class="q10" d="M413 2862l-7-12l18-3l8 12z"/><path class="q25" d="M295 2803l-7-7l19-5l7 7z"/><path class="q7" d="M472 2887l-7-9l18-3l8 9z"/><path class="q12" d="M206 2834l-7-4l19-13l7 3z"/><path class="q16" d="M354 2829l-7-14l19-2l7 13z"/><path class="q14" d="M447 2881l-8-10l18-3l8 10z"/><path class="q2" d="M387 2854l-7-15l19-2l7 13z"/><path class="q24" d="M250 2813l-6-5l19-9l6 4z"/><path class="q13" d="M187 2849l-7-4l19-15l7 4z"/><path class="q3" d="M421 2874l-8-12l19-3l7 12z"/><path class="q1" d="M168 2866l-6-5l18-16l7 4z"/><path class="q18" d="M328 2819l-7-12l19-3l7 11z"/><path class="q21" d="M558 2909l-8-8l18-3l8 7z"/><path class="q23" d="M584 2913l-8-8l18-4l8 7z"/><path class="q25" d="M276 2810l-7-7l19-7l7 7z"/><path class="q22" d="M532 2905l-8-8l18-3l8 7z"/><path class="q3" d="M149 2883l-6-6l19-16l6 5z"/><path class="q11" d="M361 2844l-7-15l19-3l7 13z"/><path class="q20" d="M506 2901l-8-9l18-3l8 8z"/><path class="q27" d="M302 2812l-7-9l19-5l7 9z"/><path class="q18" d="M231 2825l-6-5l19-12l6 5z"/><path class="q7" d="M130 2901l-6-7l19-17l6 6z"/><path class="q10" d="M395 2867l-8-13l19-4l7 12z"/><path class="q9" d="M480 2896l-8-9l19-3l7 8z"/><path class="q22" d="M111 2919l-6-7l19-18l6 7z"/><path class="q7" d="M454 2891l-7-10l18-3l7 9z"/><path class="q15" d="M335 2833l-7-14l19-4l7 14z"/><path class="q16" d="M212 2839l-6-5l19-14l6 5z"/><path class="q14" d="M428 2886l-7-12l18-3l8 10z"/><path class="q2" d="M369 2859l-8-15l19-5l7 15z"/><path class="q27" d="M257 2820l-7-7l19-10l7 7z"/><path class="q3" d="M402 2880l-7-13l18-5l8 12z"/><path class="q13" d="M193 2855l-6-6l19-15l6 5z"/><path class="q24" d="M309 2825l-7-13l19-5l7 12z"/><path class="q27" d="M283 2820l-7-10l19-7l7 9z"/><path class="q21" d="M566 2917l-8-8l18-4l8 8z"/><path class="q22" d="M540 2914l-8-9l18-4l8 8z"/><path class="q23" d="M592 2920l-8-7l18-5l8 7z"/><path class="q4" d="M174 2872l-6-6l19-17l6 6z"/><path class="q11" d="M343 2850l-8-17l19-4l7 15z"/><path class="q20" d="M514 2909l-8-8l18-4l8 8z"/><path class="q1" d="M376 2873l-7-14l18-5l8 13z"/><path class="q19" d="M488 2904l-8-8l18-4l8 9z"/><path class="q3" d="M155 2890l-6-7l19-17l6 6z"/><path class="q18" d="M238 2832l-7-7l19-12l7 7z"/><path class="q7" d="M462 2900l-8-9l18-4l8 9z"/><path class="q7" d="M136 2908l-6-7l19-18l6 7z"/><path class="q22" d="M117 2926l-6-7l19-18l6 7z"/><path class="q5" d="M435 2896l-7-10l19-5l7 10z"/><path class="q15" d="M316 2840l-7-15l19-6l7 14z"/><path class="q2" d="M350 2866l-7-16l18-6l8 15z"/><path class="q8" d="M409 2891l-7-11l19-6l7 12z"/><path class="q24" d="M264 2830l-7-10l19-10l7 10z"/><path class="q16" d="M219 2847l-7-8l19-14l7 7z"/><path class="q18" d="M290 2833l-7-13l19-8l7 13z"/><path class="q6" d="M383 2886l-7-13l19-6l7 13z"/><path class="q13" d="M199 2862l-6-7l19-16l7 8z"/><path class="q11" d="M323 2857l-7-17l19-7l8 17z"/><path class="q21" d="M574 2926l-8-9l18-4l8 7z"/><path class="q21" d="M548 2922l-8-8l18-5l8 8z"/><path class="q1" d="M357 2881l-7-15l19-7l7 14z"/><path class="q20" d="M522 2918l-8-9l18-4l8 9z"/><path class="q23" d="M601 2928l-9-8l18-5l9 7z"/><path class="q4" d="M180 2879l-6-7l19-17l6 7z"/><path class="q19" d="M496 2913l-8-9l18-3l8 8z"/><path class="q17" d="M245 2842l-7-10l19-12l7 10z"/><path class="q9" d="M469 2909l-7-9l18-4l8 8z"/><path class="q3" d="M161 2897l-6-7l19-18l6 7z"/><path class="q7" d="M443 2905l-8-9l19-5l8 9z"/><path class="q15" d="M297 2848l-7-15l19-8l7 15z"/><path class="q2" d="M331 2874l-8-17l20-7l7 16z"/><path class="q7" d="M142 2915l-6-7l19-18l6 7z"/><path class="q14" d="M417 2901l-8-10l19-5l7 10z"/><path class="q22" d="M123 2933l-6-7l19-18l6 7z"/><path class="q17" d="M271 2843l-7-13l19-10l7 13z"/><path class="q8" d="M390 2897l-7-11l19-6l7 11z"/><path class="q3" d="M364 2893l-7-12l19-8l7 13z"/><path class="q16" d="M225 2856l-6-9l19-15l7 10z"/><path class="q11" d="M304 2866l-7-18l19-8l7 17z"/><path class="q10" d="M338 2890l-7-16l19-8l7 15z"/><path class="q13" d="M206 2871l-7-9l20-15l6 9z"/><path class="q21" d="M556 2931l-8-9l18-5l8 9z"/><path class="q15" d="M251 2854l-6-12l19-12l7 13z"/><path class="q22" d="M530 2927l-8-9l18-4l8 8z"/><path class="q16" d="M278 2858l-7-15l19-10l7 15z"/><path class="q23" d="M583 2934l-9-8l18-6l9 8z"/><path class="q4" d="M311 2883l-7-17l19-9l8 17z"/><path class="q20" d="M503 2923l-7-10l18-4l8 9z"/><path class="q1" d="M187 2888l-7-9l19-17l7 9z"/><path class="q23" d="M609 2935l-8-7l18-6l8 7z"/><path class="q19" d="M477 2918l-8-9l19-5l8 9z"/><path class="q7" d="M451 2913l-8-8l19-5l7 9z"/><path class="q3" d="M168 2905l-7-8l19-18l7 9z"/><path class="q5" d="M424 2910l-7-9l18-5l8 9z"/><path class="q14" d="M398 2906l-8-9l19-6l8 10z"/><path class="q7" d="M148 2923l-6-8l19-18l7 8z"/><path class="q8" d="M371 2903l-7-10l19-7l7 11z"/><path class="q3" d="M345 2901l-7-11l19-9l7 12z"/><path class="q13" d="M285 2875l-7-17l19-10l7 18z"/><path class="q12" d="M232 2867l-7-11l20-14l6 12z"/><path class="q22" d="M129 2940l-6-7l19-18l6 8z"/><path class="q6" d="M319 2898l-8-15l20-9l7 16z"/><path class="q11" d="M258 2869l-7-15l20-11l7 15z"/><path class="q0" d="M213 2882l-7-11l19-15l7 11z"/><path class="q1" d="M292 2892l-7-17l19-9l7 17z"/><path class="q21" d="M538 2937l-8-10l18-5l8 9z"/><path class="q23" d="M564 2940l-8-9l18-5l9 8z"/><path class="q22" d="M511 2932l-8-9l19-5l8 9z"/><path class="q1" d="M193 2898l-6-10l19-17l7 11z"/><path class="q23" d="M591 2941l-8-7l18-6l8 7z"/><path class="q2" d="M266 2885l-8-16l20-11l7 17z"/><path class="q0" d="M239 2881l-7-14l19-13l7 15z"/><path class="q19" d="M485 2928l-8-10l19-5l7 10z"/><path class="q9" d="M458 2923l-7-10l18-4l8 9z"/><path class="q8" d="M326 2907l-7-9l19-8l7 11z"/><path class="q8" d="M174 2914l-6-9l19-17l6 10z"/><path class="q7" d="M432 2918l-8-8l19-5l8 8z"/><path class="q8" d="M352 2909l-7-8l19-8l7 10z"/><path class="q3" d="M299 2905l-7-13l19-9l8 15z"/><path class="q5" d="M405 2915l-7-9l19-5l7 9z"/><path class="q14" d="M379 2911l-8-8l19-6l8 9z"/><path class="q9" d="M155 2931l-7-8l20-18l6 9z"/><path class="q10" d="M273 2901l-7-16l19-10l7 17z"/><path class="q4" d="M220 2894l-7-12l19-15l7 14z"/><path class="q22" d="M135 2948l-6-8l19-17l7 8z"/><path class="q4" d="M246 2896l-7-15l19-12l8 16z"/><path class="q6" d="M200 2909l-7-11l20-16l7 12z"/><path class="q21" d="M546 2946l-8-9l18-6l8 9z"/><path class="q22" d="M519 2942l-8-10l19-5l8 10z"/><path class="q23" d="M572 2948l-8-8l19-6l8 7z"/><path class="q20" d="M493 2938l-8-10l18-5l8 9z"/><path class="q3" d="M280 2912l-7-11l19-9l7 13z"/><path class="q8" d="M306 2913l-7-8l20-7l7 9z"/><path class="q14" d="M181 2924l-7-10l19-16l7 11z"/><path class="q19" d="M466 2933l-8-10l19-5l8 10z"/><path class="q10" d="M227 2907l-7-13l19-13l7 15z"/><path class="q6" d="M253 2910l-7-14l20-11l7 16z"/><path class="q8" d="M333 2913l-7-6l19-6l7 8z"/><path class="q9" d="M439 2928l-7-10l19-5l7 10z"/><path class="q5" d="M413 2923l-8-8l19-5l8 8z"/><path class="q14" d="M360 2915l-8-6l19-6l8 8z"/><path class="q14" d="M386 2919l-7-8l19-5l7 9z"/><path class="q9" d="M161 2940l-6-9l19-17l7 10z"/><path class="q22" d="M142 2955l-7-7l20-17l6 9z"/><path class="q3" d="M207 2920l-7-11l20-15l7 13z"/><path class="q3" d="M233 2919l-6-12l19-11l7 14z"/><path class="q21" d="M527 2952l-8-10l19-5l8 9z"/><path class="q8" d="M260 2919l-7-9l20-9l7 11z"/><path class="q22" d="M500 2948l-7-10l18-6l8 10z"/><path class="q23" d="M554 2954l-8-8l18-6l8 8z"/><path class="q5" d="M187 2934l-6-10l19-15l7 11z"/><path class="q20" d="M474 2944l-8-11l19-5l8 10z"/><path class="q8" d="M287 2917l-7-5l19-7l7 8z"/><path class="q9" d="M447 2938l-8-10l19-5l8 10z"/><path class="q7" d="M420 2933l-7-10l19-5l7 10z"/><path class="q8" d="M313 2915l-7-2l20-6l7 6z"/><path class="q19" d="M168 2949l-7-9l20-16l6 10z"/><path class="q5" d="M394 2927l-8-8l19-4l8 8z"/><path class="q14" d="M214 2931l-7-11l20-13l6 12z"/><path class="q14" d="M367 2921l-7-6l19-4l7 8z"/><path class="q8" d="M340 2916l-7-3l19-4l8 6z"/><path class="q21" d="M148 2962l-6-7l19-15l7 9z"/><path class="q8" d="M240 2928l-7-9l20-9l7 9z"/><path class="q21" d="M508 2959l-8-11l19-6l8 10z"/><path class="q23" d="M535 2961l-8-9l19-6l8 8z"/><path class="q7" d="M194 2944l-7-10l20-14l7 11z"/><path class="q22" d="M482 2954l-8-10l19-6l7 10z"/><path class="q8" d="M267 2923l-7-4l20-7l7 5z"/><path class="q20" d="M455 2949l-8-11l19-5l8 11z"/><path class="q9" d="M428 2944l-8-11l19-5l8 10z"/><path class="q20" d="M174 2957l-6-8l19-15l7 10z"/><path class="q5" d="M401 2937l-7-10l19-4l7 10z"/><path class="q5" d="M220 2939l-6-8l19-12l7 9z"/><path class="q3" d="M293 2916l-6 1l19-4l7 2z"/><path class="q14" d="M374 2929l-7-8l19-2l8 8z"/><path class="q3" d="M347 2920l-7-4l20-1l7 6z"/><path class="q6" d="M320 2915l-7 0l20-2l7 3z"/><path class="q21" d="M154 2970l-6-8l20-13l6 8z"/><path class="q21" d="M489 2965l-7-11l18-6l8 11z"/><path class="q23" d="M516 2967l-8-8l19-7l8 9z"/><path class="q8" d="M247 2931l-7-3l20-9l7 4z"/><path class="q9" d="M201 2952l-7-8l20-13l6 8z"/><path class="q22" d="M463 2961l-8-12l19-5l8 10z"/><path class="q19" d="M436 2955l-8-11l19-6l8 11z"/><path class="q9" d="M409 2948l-8-11l19-4l8 11z"/><path class="q20" d="M181 2965l-7-8l20-13l7 8z"/><path class="q14" d="M382 2939l-8-10l20-2l7 10z"/><path class="q14" d="M227 2943l-7-4l20-11l7 3z"/><path class="q6" d="M274 2920l-7 3l20-6l6-1z"/><path class="q21" d="M470 2971l-7-10l19-7l7 11z"/><path class="q23" d="M498 2974l-9-9l19-6l8 8z"/><path class="q21" d="M161 2977l-7-7l20-13l7 8z"/><path class="q22" d="M443 2967l-7-12l19-6l8 12z"/><path class="q3" d="M355 2927l-8-7l20 1l7 8z"/><path class="q7" d="M207 2958l-6-6l19-13l7 4z"/><path class="q19" d="M416 2961l-7-13l19-4l8 11z"/><path class="q1" d="M300 2913l-7 3l20-1l7 0z"/><path class="q10" d="M328 2916l-8-1l20 1l7 4z"/><path class="q7" d="M389 2952l-7-13l19-2l8 11z"/><path class="q20" d="M187 2973l-6-8l20-13l6 6z"/><path class="q6" d="M254 2929l-7 2l20-8l7-3z"/><path class="q23" d="M478 2981l-8-10l19-6l9 9z"/><path class="q21" d="M451 2978l-8-11l20-6l7 10z"/><path class="q20" d="M424 2973l-8-12l20-6l7 12z"/><path class="q3" d="M362 2938l-7-11l19 2l8 10z"/><path class="q21" d="M167 2985l-6-8l20-12l6 8z"/><path class="q3" d="M234 2944l-7-1l20-12l7-2z"/><path class="q9" d="M397 2965l-8-13l20-4l7 13z"/><path class="q4" d="M280 2916l-6 4l19-4l7-3z"/><path class="q5" d="M214 2961l-7-3l20-15l7 1z"/><path class="q1" d="M335 2922l-7-6l19 4l8 7z"/><path class="q23" d="M459 2987l-8-9l19-7l8 10z"/><path class="q14" d="M370 2952l-8-14l20 1l7 13z"/><path class="q21" d="M432 2984l-8-11l19-6l8 11z"/><path class="q19" d="M194 2979l-7-6l20-15l7 3z"/><path class="q2" d="M308 2912l-8 1l20 2l8 1z"/><path class="q20" d="M405 2978l-8-13l19-4l8 12z"/><path class="q21" d="M174 2993l-7-8l20-12l7 6z"/><path class="q2" d="M260 2925l-6 4l20-9l6-4z"/><path class="q7" d="M377 2968l-7-16l19 0l8 13z"/><path class="q1" d="M342 2934l-7-12l20 5l7 11z"/><path class="q23" d="M440 2994l-8-10l19-6l8 9z"/><path class="q21" d="M412 2991l-7-13l19-5l8 11z"/><path class="q1" d="M240 2943l-6 1l20-15l6-4z"/><path class="q8" d="M220 2964l-6-3l20-17l6-1z"/><path class="q19" d="M385 2983l-8-15l20-3l8 13z"/><path class="q9" d="M201 2985l-7-6l20-18l6 3z"/><path class="q11" d="M287 2913l-7 3l20-3l8-1z"/><path class="q6" d="M350 2951l-8-17l20 4l8 14z"/><path class="q13" d="M315 2917l-7-5l20 4l7 6z"/><path class="q21" d="M180 3000l-6-7l20-14l7 6z"/><path class="q23" d="M420 3001l-8-10l20-7l8 10z"/><path class="q22" d="M393 2997l-8-14l20-5l7 13z"/><path class="q14" d="M357 2970l-7-19l20 1l7 16z"/><path class="q9" d="M365 2988l-8-18l20-2l8 15z"/><path class="q11" d="M267 2923l-7 2l20-9l7-3z"/><path class="q0" d="M322 2930l-7-13l20 5l7 12z"/><path class="q7" d="M207 2991l-6-6l19-21l7 4z"/><path class="q22" d="M187 3008l-7-8l21-15l6 6z"/><path class="q23" d="M400 3008l-7-11l19-6l8 10z"/><path class="q6" d="M227 2968l-7-4l20-21l7 0z"/><path class="q2" d="M247 2943l-7 0l20-18l7-2z"/><path class="q16" d="M295 2918l-8-5l21-1l7 5z"/><path class="q22" d="M373 3003l-8-15l20-5l8 14z"/><path class="q4" d="M330 2950l-8-20l20 4l8 17z"/><path class="q3" d="M337 2972l-7-22l20 1l7 19z"/><path class="q7" d="M345 2992l-8-20l20-2l8 18z"/><path class="q21" d="M380 3015l-7-12l20-6l7 11z"/><path class="q22" d="M194 3016l-7-8l20-17l7 7z"/><path class="q7" d="M214 2998l-7-7l20-23l7 6z"/><path class="q12" d="M302 2932l-7-14l20-1l7 13z"/><path class="q16" d="M274 2928l-7-5l20-10l8 5z"/><path class="q20" d="M353 3009l-8-17l20-4l8 15z"/><path class="q10" d="M234 2974l-7-6l20-25l7 5z"/><path class="q13" d="M254 2948l-7-5l20-20l7 5z"/><path class="q0" d="M310 2952l-8-20l20-2l8 20z"/><path class="q10" d="M317 2976l-7-24l20-2l7 22z"/><path class="q21" d="M360 3022l-7-13l20-6l7 12z"/><path class="q5" d="M325 2998l-8-22l20-4l8 20z"/><path class="q22" d="M201 3024l-7-8l20-18l7 9z"/><path class="q7" d="M221 3007l-7-9l20-24l7 11z"/><path class="q12" d="M282 2942l-8-14l21-10l7 14z"/><path class="q20" d="M332 3016l-7-18l20-6l8 17z"/><path class="q10" d="M241 2985l-7-11l20-26l7 13z"/><path class="q13" d="M261 2961l-7-13l20-20l8 14z"/><path class="q0" d="M289 2962l-7-20l20-10l8 20z"/><path class="q10" d="M297 2984l-8-22l21-10l7 24z"/><path class="q21" d="M340 3029l-8-13l21-7l7 13z"/><path class="q5" d="M304 3006l-7-22l20-8l8 22z"/><path class="q9" d="M228 3017l-7-10l20-22l8 13z"/><path class="q4" d="M269 2978l-8-17l21-19l7 20z"/><path class="q3" d="M249 2998l-8-13l20-24l8 17z"/><path class="q20" d="M312 3023l-8-17l21-8l7 18z"/><path class="q21" d="M208 3032l-7-8l20-17l7 10z"/><path class="q3" d="M276 2998l-7-20l20-16l8 22z"/><path class="q7" d="M284 3016l-8-18l21-14l7 22z"/><path class="q5" d="M256 3013l-7-15l20-20l7 20z"/><path class="q21" d="M320 3036l-8-13l20-7l8 13z"/><path class="q19" d="M235 3028l-7-11l21-19l7 15z"/><path class="q20" d="M291 3031l-7-15l20-10l8 17z"/><path class="q19" d="M263 3027l-7-14l20-15l8 18z"/><path class="q21" d="M215 3040l-7-8l20-15l7 11z"/><path class="q22" d="M243 3039l-8-11l21-15l7 14z"/><path class="q21" d="M299 3043l-8-12l21-8l8 13z"/><path class="q22" d="M271 3040l-8-13l21-11l7 15z"/><path class="q21" d="M222 3048l-7-8l20-12l8 11z"/><path class="q21" d="M250 3049l-7-10l20-12l8 13z"/><path class="q23" d="M278 3050l-7-10l20-9l8 12z"/><path class="q23" d="M229 3057l-7-9l21-9l7 10z"/><path class="q23" d="M257 3058l-7-9l21-9l7 10z"/><path class="q23" d="M236 3065l-7-8l21-8l7 9z"/></g>
<line x1="56.8" y1="1512.5" x2="120.3" y2="1591.6" stroke="#000" stroke-width="0.9"/>
<line x1="120.3" y1="1591.6" x2="308.8" y2="1521.3" stroke="#000" stroke-width="0.9"/>
<line x1="120.3" y1="1591.6" x2="115.5" y2="1468.6" stroke="#000" stroke-width="0.9"/>
<line x1="50.8" y1="1512.5" x2="56.8" y2="1512.5" stroke="#000" stroke-width="0.8"/>
<text x="50.3" y="1515.8" font-size="9" text-anchor="end">−60</text>
<line x1="49.4" y1="1494.1" x2="55.4" y2="1494.1" stroke="#000" stroke-width="0.8"/>
<text x="48.9" y="1497.4" font-size="9" text-anchor="end">−40</text>
<line x1="47.9" y1="1475.4" x2="53.9" y2="1475.4" stroke="#000" stroke-width="0.8"/>
<text x="47.4" y="1478.7" font-size="9" text-anchor="end">−20</text>
<line x1="46.4" y1="1456.1" x2="52.4" y2="1456.1" stroke="#000" stroke-width="0.8"/>
<text x="45.9" y="1459.4" font-size="9" text-anchor="end">0</text>
<line x1="44.9" y1="1436.4" x2="50.9" y2="1436.4" stroke="#000" stroke-width="0.8"/>
<text x="44.4" y="1439.7" font-size="9" text-anchor="end">20</text>
<line x1="43.4" y1="1416.3" x2="49.4" y2="1416.3" stroke="#000" stroke-width="0.8"/>
<text x="42.9" y="1419.6" font-size="9" text-anchor="end">40</text>
<line x1="41.8" y1="1395.6" x2="47.8" y2="1395.6" stroke="#000" stroke-width="0.8"/>
<text x="41.3" y="1398.9" font-size="9" text-anchor="end">60</text>
<line x1="101.3" y1="1567.9" x2="96.3" y2="1572.9" stroke="#000" stroke-width="0.8"/>
<text x="90.8" y="1581.4" font-size="9.5" text-anchor="middle">0.2</text>
<line x1="81.4" y1="1543.1" x2="76.4" y2="1548.1" stroke="#000" stroke-width="0.8"/>
<text x="70.9" y="1556.6" font-size="9.5" text-anchor="middle">0.5</text>
<line x1="63.8" y1="1521.2" x2="58.8" y2="1526.2" stroke="#000" stroke-width="0.8"/>
<text x="53.3" y="1534.7" font-size="9.5" text-anchor="middle">1</text>
<line x1="156.5" y1="1578.1" x2="157.5" y2="1584.1" stroke="#000" stroke-width="0.8"/>
<text x="159.5" y="1593.6" font-size="9.5" text-anchor="middle">0.6</text>
<line x1="195.5" y1="1563.6" x2="196.5" y2="1569.6" stroke="#000" stroke-width="0.8"/>
<text x="198.5" y="1579.1" font-size="9.5" text-anchor="middle">1.25</text>
<line x1="233.3" y1="1549.5" x2="234.3" y2="1555.5" stroke="#000" stroke-width="0.8"/>
<text x="236.3" y="1565" font-size="9.5" text-anchor="middle">2.5</text>
<line x1="269.9" y1="1535.8" x2="270.9" y2="1541.8" stroke="#000" stroke-width="0.8"/>
<text x="272.9" y="1551.3" font-size="9.5" text-anchor="middle">5</text>
<line x1="303.6" y1="1523.3" x2="304.6" y2="1529.3" stroke="#000" stroke-width="0.8"/>
<text x="306.6" y="1538.8" font-size="9.5" text-anchor="middle">10</text>
<text x="61" y="1575.2" font-size="11" text-anchor="middle" transform="rotate(51.2 61 1575.2)">BLU−222 (uM)</text>
<text x="226.3" y="1585.1" font-size="11" text-anchor="middle" transform="rotate(-20.4 226.3 1585.1)">Palbociclib (uM)</text>
<text x="530.2" y="1270.8" font-size="27.5" font-weight="bold" text-anchor="middle" textLength="151.6" lengthAdjust="spacingAndGlyphs">MDAMB157</text>
<defs><linearGradient id="cb6" x1="0" x2="1" y1="0" y2="0"><stop offset="0" stop-color="#5DB83A"/><stop offset="0.5" stop-color="#ffffff"/><stop offset="1" stop-color="#EE1111"/></linearGradient></defs>
<rect x="385.2" y="1302.6" width="297.8" height="4.3" fill="url(#cb6)"/>
<text x="406" y="1293.8" font-size="9.5" text-anchor="middle">−60</text>
<text x="448.5" y="1293.8" font-size="9.5" text-anchor="middle">−40</text>
<text x="491" y="1293.8" font-size="9.5" text-anchor="middle">−20</text>
<text x="533.5" y="1293.8" font-size="9.5" text-anchor="middle">0</text>
<text x="576" y="1293.8" font-size="9.5" text-anchor="middle">20</text>
<text x="618.5" y="1293.8" font-size="9.5" text-anchor="middle">40</text>
<text x="661" y="1293.8" font-size="9.5" text-anchor="middle">60</text>
<text x="394" y="1340" font-size="26.8" font-weight="bold" textLength="145" lengthAdjust="spacingAndGlyphs">HSA: 29.76</text>
<line x1="582.4" y1="1447.9" x2="586.2" y2="1341.4" stroke="#000" stroke-width="0.8" stroke-dasharray="3,3"/>
<line x1="582.4" y1="1447.9" x2="412.5" y2="1504" stroke="#000" stroke-width="0.8" stroke-dasharray="3,3"/>
<line x1="582.4" y1="1447.9" x2="654.5" y2="1513.7" stroke="#000" stroke-width="0.8" stroke-dasharray="3,3"/>
<line x1="404" y1="1392.7" x2="586.2" y2="1341.4" stroke="#000" stroke-width="0.9"/>
<line x1="586.2" y1="1341.4" x2="664.3" y2="1401.1" stroke="#000" stroke-width="0.9"/>
<line x1="404" y1="1392.7" x2="468.6" y2="1463.8" stroke="#000" stroke-width="0.9"/>
<line x1="468.6" y1="1463.8" x2="664.3" y2="1401.1" stroke="#000" stroke-width="0.9"/>
<line x1="404" y1="1392.7" x2="412.5" y2="1504" stroke="#000" stroke-width="0.9"/>
<line x1="664.3" y1="1401.1" x2="654.5" y2="1513.7" stroke="#000" stroke-width="0.9"/>
<g transform="scale(.5)" stroke="#000" stroke-width="2" stroke-linejoin="round"><path class="q36" d="M1162 2714l-7-9l17-6l7 9z"/><path class="q35" d="M1169 2726l-7-12l17-6l7 14z"/><path class="q36" d="M1145 2721l-7-8l17-8l7 9z"/><path class="q29" d="M1176 2738l-7-12l17-4l6 13z"/><path class="q34" d="M1128 2730l-7-7l17-10l7 8z"/><path class="q34" d="M1152 2731l-7-10l17-7l7 12z"/><path class="q26" d="M1183 2748l-7-10l16-3l7 10z"/><path class="q33" d="M1110 2738l-6-6l17-9l7 7z"/><path class="q29" d="M1159 2741l-7-10l17-5l7 12z"/><path class="q34" d="M1135 2738l-7-8l17-9l7 10z"/><path class="q29" d="M1093 2745l-7-6l18-7l6 6z"/><path class="q25" d="M1190 2755l-7-7l16-3l8 7z"/><path class="q33" d="M1117 2745l-7-7l18-8l7 8z"/><path class="q28" d="M1166 2749l-7-8l17-3l7 10z"/><path class="q33" d="M1142 2745l-7-7l17-7l7 10z"/><path class="q29" d="M1076 2750l-7-6l17-5l7 6z"/><path class="q29" d="M1100 2751l-7-6l17-7l7 7z"/><path class="q25" d="M1197 2761l-7-6l17-3l7 7z"/><path class="q26" d="M1173 2756l-7-7l17-1l7 7z"/><path class="q29" d="M1124 2751l-7-6l18-7l7 7z"/><path class="q29" d="M1149 2752l-7-7l17-4l7 8z"/><path class="q29" d="M1058 2755l-7-5l18-6l7 6z"/><path class="q29" d="M1082 2756l-6-6l17-5l7 6z"/><path class="q29" d="M1107 2757l-7-6l17-6l7 6z"/><path class="q27" d="M1204 2768l-7-7l17-2l7 7z"/><path class="q29" d="M1131 2758l-7-7l18-6l7 7z"/><path class="q26" d="M1180 2762l-7-6l17-1l7 6z"/><path class="q28" d="M1156 2758l-7-6l17-3l7 7z"/><path class="q29" d="M1040 2761l-6-6l17-5l7 5z"/><path class="q29" d="M1065 2761l-7-6l18-5l6 6z"/><path class="q29" d="M1089 2762l-7-6l18-5l7 6z"/><path class="q29" d="M1114 2763l-7-6l17-6l7 7z"/><path class="q27" d="M1212 2777l-8-9l17-2l8 8z"/><path class="q29" d="M1138 2764l-7-6l18-6l7 6z"/><path class="q26" d="M1187 2769l-7-7l17-1l7 7z"/><path class="q29" d="M1023 2766l-7-6l18-5l6 6z"/><path class="q28" d="M1163 2764l-7-6l17-2l7 6z"/><path class="q29" d="M1047 2767l-7-6l18-6l7 6z"/><path class="q29" d="M1072 2767l-7-6l17-5l7 6z"/><path class="q18" d="M1219 2788l-7-11l17-3l7 11z"/><path class="q29" d="M1096 2768l-7-6l18-5l7 6z"/><path class="q29" d="M1121 2769l-7-6l17-5l7 6z"/><path class="q25" d="M1195 2778l-8-9l17-1l8 9z"/><path class="q29" d="M1005 2771l-7-6l18-5l7 6z"/><path class="q29" d="M1145 2770l-7-6l18-6l7 6z"/><path class="q28" d="M1170 2772l-7-8l17-2l7 7z"/><path class="q29" d="M1029 2772l-6-6l17-5l7 6z"/><path class="q17" d="M1226 2800l-7-12l17-3l7 12z"/><path class="q29" d="M1054 2773l-7-6l18-6l7 6z"/><path class="q29" d="M1078 2773l-6-6l17-5l7 6z"/><path class="q27" d="M1202 2789l-7-11l17-1l7 11z"/><path class="q29" d="M1103 2774l-7-6l18-5l7 6z"/><path class="q29" d="M986 2776l-6-6l18-5l7 6z"/><path class="q29" d="M1128 2775l-7-6l17-5l7 6z"/><path class="q12" d="M1233 2813l-7-13l17-3l7 13z"/><path class="q29" d="M1011 2777l-6-6l18-5l6 6z"/><path class="q26" d="M1177 2781l-7-9l17-3l8 9z"/><path class="q28" d="M1153 2777l-8-7l18-6l7 8z"/><path class="q29" d="M1036 2778l-7-6l18-5l7 6z"/><path class="q18" d="M1209 2802l-7-13l17-1l7 12z"/><path class="q29" d="M1061 2779l-7-6l18-6l6 6z"/><path class="q13" d="M1241 2827l-8-14l17-3l8 13z"/><path class="q29" d="M1085 2779l-7-6l18-5l7 6z"/><path class="q29" d="M968 2782l-6-6l18-6l6 6z"/><path class="q29" d="M1110 2780l-7-6l18-5l7 6z"/><path class="q25" d="M1185 2792l-8-11l18-3l7 11z"/><path class="q29" d="M993 2782l-7-6l19-5l6 6z"/><path class="q28" d="M1135 2782l-7-7l17-5l8 7z"/><path class="q28" d="M1160 2786l-7-9l17-5l7 9z"/><path class="q16" d="M1216 2815l-7-13l17-2l7 13z"/><path class="q4" d="M1248 2841l-7-14l17-4l7 14z"/><path class="q29" d="M1018 2783l-7-6l18-5l7 6z"/><path class="q29" d="M1043 2784l-7-6l18-5l7 6z"/><path class="q29" d="M1067 2785l-6-6l17-6l7 6z"/><path class="q24" d="M1192 2805l-7-13l17-3l7 13z"/><path class="q11" d="M1224 2830l-8-15l17-2l8 14z"/><path class="q29" d="M950 2787l-7-6l19-5l6 6z"/><path class="q22" d="M841 2902l-5-7l18-15l6 6z"/><path class="q6" d="M1255 2856l-7-15l17-4l7 14z"/><path class="q29" d="M1092 2786l-7-7l18-5l7 6z"/><path class="q25" d="M1167 2798l-7-12l17-5l8 11z"/><path class="q29" d="M975 2788l-7-6l18-6l7 6z"/><path class="q28" d="M1117 2788l-7-8l18-5l7 7z"/><path class="q5" d="M860 2886l-6-6l17-29l6 7z"/><path class="q28" d="M1142 2792l-7-10l18-5l7 9z"/><path class="q29" d="M999 2789l-6-7l18-5l7 6z"/><path class="q15" d="M1199 2819l-7-14l17-3l7 13z"/><path class="q2" d="M1231 2845l-7-15l17-3l7 14z"/><path class="q23" d="M822 2908l-5-7l19-6l5 7z"/><path class="q29" d="M1024 2789l-6-6l18-5l7 6z"/><path class="q8" d="M1263 2870l-8-14l17-5l8 14z"/><path class="q29" d="M1049 2790l-6-6l18-5l6 6z"/><path class="q24" d="M1174 2811l-7-13l18-6l7 13z"/><path class="q29" d="M931 2792l-6-6l18-5l7 6z"/><path class="q29" d="M1074 2791l-7-6l18-6l7 7z"/><path class="q10" d="M1238 2859l-7-14l17-4l7 15z"/><path class="q11" d="M1206 2834l-7-15l17-4l8 15z"/><path class="q25" d="M1149 2803l-7-11l18-6l7 12z"/><path class="q0" d="M877 2858l-6-7l18-31l6 6z"/><path class="q29" d="M956 2793l-6-6l18-5l7 6z"/><path class="q22" d="M847 2908l-6-6l19-16l6 7z"/><path class="q28" d="M1099 2793l-7-7l18-6l7 8z"/><path class="q28" d="M1124 2797l-7-9l18-6l7 10z"/><path class="q7" d="M1270 2883l-7-13l17-5l7 13z"/><path class="q29" d="M981 2794l-6-6l18-6l6 7z"/><path class="q5" d="M866 2893l-6-7l17-28l6 6z"/><path class="q17" d="M1181 2825l-7-14l18-6l7 14z"/><path class="q29" d="M1006 2795l-7-6l19-6l6 6z"/><path class="q0" d="M1213 2849l-7-15l18-4l7 15z"/><path class="q8" d="M1245 2874l-7-15l17-3l8 14z"/><path class="q28" d="M913 2802l-7-7l19-9l6 6z"/><path class="q23" d="M828 2914l-6-6l19-6l6 6z"/><path class="q29" d="M1031 2796l-7-7l19-5l6 6z"/><path class="q24" d="M895 2826l-6-6l17-25l7 7z"/><path class="q24" d="M1156 2816l-7-13l18-5l7 13z"/><path class="q19" d="M1277 2896l-7-13l17-5l8 12z"/><path class="q29" d="M1056 2796l-7-6l18-5l7 6z"/><path class="q25" d="M1131 2809l-7-12l18-5l7 11z"/><path class="q29" d="M937 2799l-6-7l19-5l6 6z"/><path class="q12" d="M1189 2839l-8-14l18-6l7 15z"/><path class="q28" d="M1081 2798l-7-7l18-5l7 7z"/><path class="q1" d="M1221 2864l-8-15l18-4l7 14z"/><path class="q28" d="M1106 2803l-7-10l18-5l7 9z"/><path class="q5" d="M1253 2888l-8-14l18-4l7 13z"/><path class="q0" d="M883 2864l-6-6l18-32l6 7z"/><path class="q29" d="M962 2799l-6-6l19-5l6 6z"/><path class="q22" d="M853 2915l-6-7l19-15l6 7z"/><path class="q17" d="M1164 2830l-8-14l18-5l7 14z"/><path class="q29" d="M988 2800l-7-6l18-5l7 6z"/><path class="q5" d="M872 2900l-6-7l17-29l6 7z"/><path class="q0" d="M1196 2855l-7-16l17-5l7 15z"/><path class="q3" d="M1228 2879l-7-15l17-5l7 15z"/><path class="q22" d="M1285 2907l-8-11l18-6l7 11z"/><path class="q29" d="M1013 2801l-7-6l18-6l7 7z"/><path class="q24" d="M1139 2822l-8-13l18-6l7 13z"/><path class="q28" d="M919 2808l-6-6l18-10l6 7z"/><path class="q23" d="M834 2921l-6-7l19-6l6 7z"/><path class="q29" d="M1038 2802l-7-6l18-6l7 6z"/><path class="q19" d="M1260 2901l-7-13l17-5l7 13z"/><path class="q24" d="M901 2833l-6-7l18-24l6 6z"/><path class="q25" d="M1113 2814l-7-11l18-6l7 12z"/><path class="q12" d="M1171 2845l-7-15l17-5l8 14z"/><path class="q28" d="M1063 2804l-7-8l18-5l7 7z"/><path class="q28" d="M1088 2808l-7-10l18-5l7 10z"/><path class="q1" d="M1203 2870l-7-15l17-6l8 15z"/><path class="q29" d="M944 2805l-7-6l19-6l6 6z"/><path class="q5" d="M1235 2893l-7-14l17-5l8 14z"/><path class="q17" d="M1146 2836l-7-14l17-6l8 14z"/><path class="q0" d="M889 2871l-6-7l18-31l6 6z"/><path class="q29" d="M969 2806l-7-7l19-5l7 6z"/><path class="q22" d="M859 2922l-6-7l19-15l6 6z"/><path class="q0" d="M1178 2860l-7-15l18-6l7 16z"/><path class="q21" d="M1293 2917l-8-10l17-6l8 10z"/><path class="q29" d="M994 2807l-6-7l18-5l7 6z"/><path class="q3" d="M1210 2885l-7-15l18-6l7 15z"/><path class="q22" d="M1268 2913l-8-12l17-5l8 11z"/><path class="q5" d="M878 2906l-6-6l17-29l6 7z"/><path class="q24" d="M1121 2827l-8-13l18-5l8 13z"/><path class="q29" d="M1019 2807l-6-6l18-5l7 6z"/><path class="q19" d="M1243 2907l-8-14l18-5l7 13z"/><path class="q25" d="M1095 2820l-7-12l18-5l7 11z"/><path class="q12" d="M1153 2851l-7-15l18-6l7 15z"/><path class="q28" d="M1045 2810l-7-8l18-6l7 8z"/><path class="q28" d="M925 2814l-6-6l18-9l7 6z"/><path class="q23" d="M840 2928l-6-7l19-6l6 7z"/><path class="q28" d="M1070 2814l-7-10l18-6l7 10z"/><path class="q1" d="M1185 2876l-7-16l18-5l7 15z"/><path class="q24" d="M907 2839l-6-6l18-25l6 6z"/><path class="q5" d="M1218 2899l-8-14l18-6l7 14z"/><path class="q17" d="M1128 2841l-7-14l18-5l7 14z"/><path class="q29" d="M950 2811l-6-6l18-6l7 7z"/><path class="q0" d="M1160 2866l-7-15l18-6l7 15z"/><path class="q21" d="M1276 2923l-8-10l17-6l8 10z"/><path class="q23" d="M1301 2925l-8-8l17-6l8 8z"/><path class="q0" d="M895 2878l-6-7l18-32l6 7z"/><path class="q29" d="M975 2812l-6-6l19-6l6 7z"/><path class="q3" d="M1192 2891l-7-15l18-6l7 15z"/><path class="q22" d="M865 2929l-6-7l19-16l6 7z"/><path class="q22" d="M1250 2919l-7-12l17-6l8 12z"/><path class="q24" d="M1102 2833l-7-13l18-6l8 13z"/><path class="q29" d="M1001 2813l-7-6l19-6l6 6z"/><path class="q9" d="M1225 2913l-7-14l17-6l8 14z"/><path class="q5" d="M884 2913l-6-7l17-28l6 7z"/><path class="q25" d="M1077 2825l-7-11l18-6l7 12z"/><path class="q12" d="M1135 2856l-7-15l18-5l7 15z"/><path class="q28" d="M1026 2815l-7-8l19-5l7 8z"/><path class="q28" d="M1052 2819l-7-9l18-6l7 10z"/><path class="q1" d="M1167 2882l-7-16l18-6l7 16z"/><path class="q5" d="M1200 2905l-8-14l18-6l8 14z"/><path class="q28" d="M931 2821l-6-7l19-9l6 6z"/><path class="q23" d="M846 2935l-6-7l19-6l6 7z"/><path class="q24" d="M913 2846l-6-7l18-25l6 7z"/><path class="q17" d="M1110 2847l-8-14l19-6l7 14z"/><path class="q0" d="M1142 2872l-7-16l18-5l7 15z"/><path class="q21" d="M1258 2929l-8-10l18-6l8 10z"/><path class="q23" d="M1284 2931l-8-8l17-6l8 8z"/><path class="q29" d="M957 2818l-7-7l19-5l6 6z"/><path class="q3" d="M1174 2897l-7-15l18-6l7 15z"/><path class="q22" d="M1233 2925l-8-12l18-6l7 12z"/><path class="q24" d="M1084 2839l-7-14l18-5l7 13z"/><path class="q0" d="M901 2885l-6-7l18-32l6 6z"/><path class="q29" d="M982 2819l-7-7l19-5l7 6z"/><path class="q22" d="M871 2936l-6-7l19-16l6 7z"/><path class="q9" d="M1207 2919l-7-14l18-6l7 14z"/><path class="q25" d="M1059 2831l-7-12l18-5l7 11z"/><path class="q12" d="M1117 2862l-7-15l18-6l7 15z"/><path class="q28" d="M1008 2821l-7-8l18-6l7 8z"/><path class="q28" d="M1033 2825l-7-10l19-5l7 9z"/><path class="q1" d="M1149 2887l-7-15l18-6l7 16z"/><path class="q5" d="M890 2920l-6-7l17-28l7 6z"/><path class="q5" d="M1182 2911l-8-14l18-6l8 14z"/><path class="q17" d="M1091 2853l-7-14l18-6l8 14z"/><path class="q28" d="M938 2827l-7-6l19-10l7 7z"/><path class="q23" d="M852 2942l-6-7l19-6l6 7z"/><path class="q0" d="M1124 2878l-7-16l18-6l7 16z"/><path class="q21" d="M1240 2935l-7-10l17-6l8 10z"/><path class="q24" d="M919 2852l-6-6l18-25l7 6z"/><path class="q23" d="M1266 2937l-8-8l18-6l8 8z"/><path class="q3" d="M1156 2903l-7-16l18-5l7 15z"/><path class="q22" d="M1215 2931l-8-12l18-6l8 12z"/><path class="q24" d="M1066 2844l-7-13l18-6l7 14z"/><path class="q29" d="M963 2824l-6-6l18-6l7 7z"/><path class="q9" d="M1189 2925l-7-14l18-6l7 14z"/><path class="q25" d="M1040 2837l-7-12l19-6l7 12z"/><path class="q12" d="M1098 2868l-7-15l19-6l7 15z"/><path class="q28" d="M989 2826l-7-7l19-6l7 8z"/><path class="q0" d="M908 2891l-7-6l18-33l7 7z"/><path class="q28" d="M1014 2831l-6-10l18-6l7 10z"/><path class="q1" d="M1131 2893l-7-15l18-6l7 15z"/><path class="q22" d="M877 2943l-6-7l19-16l6 7z"/><path class="q5" d="M1164 2917l-8-14l18-6l8 14z"/><path class="q5" d="M896 2927l-6-7l18-29l6 8z"/><path class="q17" d="M1073 2859l-7-15l18-5l7 14z"/><path class="q0" d="M1105 2884l-7-16l19-6l7 16z"/><path class="q21" d="M1222 2941l-7-10l18-6l7 10z"/><path class="q23" d="M1248 2943l-8-8l18-6l8 8z"/><path class="q3" d="M1138 2909l-7-16l18-6l7 16z"/><path class="q22" d="M1197 2937l-8-12l18-6l8 12z"/><path class="q28" d="M944 2834l-6-7l19-9l6 6z"/><path class="q23" d="M858 2949l-6-7l19-6l6 7z"/><path class="q24" d="M1047 2850l-7-13l19-6l7 13z"/><path class="q24" d="M926 2859l-7-7l19-25l6 7z"/><path class="q9" d="M1171 2931l-7-14l18-6l7 14z"/><path class="q25" d="M1021 2843l-7-12l19-6l7 12z"/><path class="q12" d="M1080 2874l-7-15l18-6l7 15z"/><path class="q28" d="M970 2832l-7-8l19-5l7 7z"/><path class="q28" d="M996 2836l-7-10l19-5l6 10z"/><path class="q1" d="M1113 2899l-8-15l19-6l7 15z"/><path class="q5" d="M1145 2923l-7-14l18-6l8 14z"/><path class="q0" d="M914 2899l-6-8l18-32l6 8z"/><path class="q22" d="M883 2950l-6-7l19-16l6 8z"/><path class="q17" d="M1054 2865l-7-15l19-6l7 15z"/><path class="q5" d="M902 2935l-6-8l18-28l6 8z"/><path class="q0" d="M1087 2890l-7-16l18-6l7 16z"/><path class="q21" d="M1204 2947l-7-10l18-6l7 10z"/><path class="q23" d="M1230 2950l-8-9l18-6l8 8z"/><path class="q3" d="M1120 2915l-7-16l18-6l7 16z"/><path class="q22" d="M1179 2943l-8-12l18-6l8 12z"/><path class="q24" d="M1028 2856l-7-13l19-6l7 13z"/><path class="q28" d="M951 2842l-7-8l19-10l7 8z"/><path class="q9" d="M1153 2937l-8-14l19-6l7 14z"/><path class="q23" d="M864 2957l-6-8l19-6l6 7z"/><path class="q25" d="M1002 2848l-6-12l18-5l7 12z"/><path class="q12" d="M1061 2880l-7-15l19-6l7 15z"/><path class="q24" d="M932 2867l-6-8l18-25l7 8z"/><path class="q28" d="M976 2842l-6-10l19-6l7 10z"/><path class="q1" d="M1094 2905l-7-15l18-6l8 15z"/><path class="q5" d="M1127 2930l-7-15l18-6l7 14z"/><path class="q2" d="M920 2907l-6-8l18-32l7 9z"/><path class="q17" d="M1035 2871l-7-15l19-6l7 15z"/><path class="q22" d="M889 2958l-6-8l19-15l6 8z"/><path class="q0" d="M1068 2896l-7-16l19-6l7 16z"/><path class="q21" d="M1186 2954l-7-11l18-6l7 10z"/><path class="q23" d="M1212 2956l-8-9l18-6l8 9z"/><path class="q3" d="M1101 2921l-7-16l19-6l7 16z"/><path class="q5" d="M908 2943l-6-8l18-28l7 9z"/><path class="q22" d="M1160 2949l-7-12l18-6l8 12z"/><path class="q24" d="M1009 2862l-7-14l19-5l7 13z"/><path class="q9" d="M1134 2943l-7-13l18-7l8 14z"/><path class="q26" d="M957 2852l-6-10l19-10l6 10z"/><path class="q25" d="M983 2854l-7-12l20-6l6 12z"/><path class="q12" d="M1042 2886l-7-15l19-6l7 15z"/><path class="q18" d="M939 2876l-7-9l19-25l6 10z"/><path class="q1" d="M1075 2912l-7-16l19-6l7 15z"/><path class="q23" d="M870 2964l-6-7l19-7l6 8z"/><path class="q5" d="M1108 2936l-7-15l19-6l7 15z"/><path class="q17" d="M1016 2877l-7-15l19-6l7 15z"/><path class="q2" d="M927 2916l-7-9l19-31l6 11z"/><path class="q0" d="M1049 2902l-7-16l19-6l7 16z"/><path class="q21" d="M1168 2960l-8-11l19-6l7 11z"/><path class="q23" d="M1194 2962l-8-8l18-7l8 9z"/><path class="q3" d="M1083 2927l-8-15l19-7l7 16z"/><path class="q22" d="M1142 2956l-8-13l19-6l7 12z"/><path class="q21" d="M896 2965l-7-7l19-15l7 8z"/><path class="q24" d="M990 2868l-7-14l19-6l7 14z"/><path class="q7" d="M915 2951l-7-8l19-27l7 10z"/><path class="q27" d="M964 2864l-7-12l19-10l7 12z"/><path class="q9" d="M1116 2950l-8-14l19-6l7 13z"/><path class="q12" d="M1023 2892l-7-15l19-6l7 15z"/><path class="q17" d="M945 2887l-6-11l18-24l7 12z"/><path class="q1" d="M1057 2918l-8-16l19-6l7 16z"/><path class="q5" d="M1090 2942l-7-15l18-6l7 15z"/><path class="q23" d="M876 2971l-6-7l19-6l7 7z"/><path class="q4" d="M934 2926l-7-10l18-29l7 12z"/><path class="q17" d="M997 2883l-7-15l19-6l7 15z"/><path class="q0" d="M1030 2908l-7-16l19-6l7 16z"/><path class="q21" d="M1149 2966l-7-10l18-7l8 11z"/><path class="q18" d="M971 2877l-7-13l19-10l7 14z"/><path class="q23" d="M1175 2969l-7-9l18-6l8 8z"/><path class="q3" d="M1064 2933l-7-15l18-6l8 15z"/><path class="q22" d="M1123 2962l-7-12l18-7l8 13z"/><path class="q7" d="M921 2959l-6-8l19-25l6 10z"/><path class="q16" d="M952 2899l-7-12l19-23l7 13z"/><path class="q21" d="M902 2972l-6-7l19-14l6 8z"/><path class="q9" d="M1097 2956l-7-14l18-6l8 14z"/><path class="q12" d="M1004 2898l-7-15l19-6l7 15z"/><path class="q1" d="M1038 2924l-8-16l19-6l8 16z"/><path class="q5" d="M1071 2948l-7-15l19-6l7 15z"/><path class="q15" d="M978 2891l-7-14l19-9l7 15z"/><path class="q10" d="M940 2936l-6-10l18-27l7 12z"/><path class="q0" d="M1011 2914l-7-16l19-6l7 16z"/><path class="q21" d="M1131 2973l-8-11l19-6l7 10z"/><path class="q23" d="M882 2979l-6-8l20-6l6 7z"/><path class="q11" d="M959 2911l-7-12l19-22l7 14z"/><path class="q23" d="M1157 2975l-8-9l19-6l7 9z"/><path class="q3" d="M1045 2940l-7-16l19-6l7 15z"/><path class="q22" d="M1104 2969l-7-13l19-6l7 12z"/><path class="q11" d="M985 2907l-7-16l19-8l7 15z"/><path class="q9" d="M928 2967l-7-8l19-23l7 11z"/><path class="q9" d="M1078 2962l-7-14l19-6l7 14z"/><path class="q21" d="M908 2980l-6-8l19-13l7 8z"/><path class="q1" d="M1018 2930l-7-16l19-6l8 16z"/><path class="q6" d="M947 2947l-7-11l19-25l7 14z"/><path class="q5" d="M1052 2955l-7-15l19-7l7 15z"/><path class="q0" d="M966 2925l-7-14l19-20l7 16z"/><path class="q2" d="M992 2922l-7-15l19-9l7 16z"/><path class="q21" d="M1112 2979l-8-10l19-7l8 11z"/><path class="q23" d="M1138 2982l-7-9l18-7l8 9z"/><path class="q3" d="M1026 2946l-8-16l20-6l7 16z"/><path class="q22" d="M1085 2975l-7-13l19-6l7 13z"/><path class="q23" d="M889 2986l-7-7l20-7l6 8z"/><path class="q9" d="M1059 2969l-7-14l19-7l7 14z"/><path class="q19" d="M934 2976l-6-9l19-20l7 11z"/><path class="q1" d="M973 2938l-7-13l19-18l7 15z"/><path class="q8" d="M954 2958l-7-11l19-22l7 13z"/><path class="q10" d="M999 2938l-7-16l19-8l7 16z"/><path class="q21" d="M915 2988l-7-8l20-13l6 9z"/><path class="q5" d="M1033 2961l-7-15l19-6l7 15z"/><path class="q21" d="M1093 2986l-8-11l19-6l8 10z"/><path class="q3" d="M1006 2954l-7-16l19-8l8 16z"/><path class="q23" d="M1119 2988l-7-9l19-6l7 9z"/><path class="q6" d="M980 2952l-7-14l19-16l7 16z"/><path class="q22" d="M1066 2982l-7-13l19-7l7 13z"/><path class="q5" d="M961 2969l-7-11l19-20l7 14z"/><path class="q9" d="M1040 2975l-7-14l19-6l7 14z"/><path class="q20" d="M941 2985l-7-9l20-18l7 11z"/><path class="q23" d="M895 2994l-6-8l19-6l7 8z"/><path class="q5" d="M1013 2968l-7-14l20-8l7 15z"/><path class="q14" d="M987 2966l-7-14l19-14l7 16z"/><path class="q21" d="M922 2995l-7-7l19-12l7 9z"/><path class="q21" d="M1074 2993l-8-11l19-7l8 11z"/><path class="q23" d="M1100 2995l-7-9l19-7l7 9z"/><path class="q22" d="M1047 2988l-7-13l19-6l7 13z"/><path class="q7" d="M967 2980l-6-11l19-17l7 14z"/><path class="q19" d="M1020 2982l-7-14l20-7l7 14z"/><path class="q7" d="M994 2979l-7-13l19-12l7 14z"/><path class="q20" d="M948 2993l-7-8l20-16l6 11z"/><path class="q23" d="M902 3002l-7-8l20-6l7 7z"/><path class="q19" d="M974 2991l-7-11l20-14l7 13z"/><path class="q21" d="M1054 2999l-7-11l19-6l8 11z"/><path class="q21" d="M928 3003l-6-8l19-10l7 8z"/><path class="q23" d="M1081 3001l-7-8l19-7l7 9z"/><path class="q22" d="M1028 2995l-8-13l20-7l7 13z"/><path class="q19" d="M1001 2991l-7-12l19-11l7 14z"/><path class="q22" d="M955 3002l-7-9l19-13l7 11z"/><path class="q23" d="M908 3010l-6-8l20-7l6 8z"/><path class="q20" d="M981 3001l-7-10l20-12l7 12z"/><path class="q21" d="M1035 3006l-7-11l19-7l7 11z"/><path class="q22" d="M1008 3003l-7-12l19-9l8 13z"/><path class="q23" d="M1062 3008l-8-9l20-6l7 8z"/><path class="q23" d="M935 3011l-7-8l20-10l7 9z"/><path class="q21" d="M962 3011l-7-9l19-11l7 10z"/><path class="q21" d="M988 3011l-7-10l20-10l7 12z"/><path class="q21" d="M1015 3013l-7-10l20-8l7 11z"/><path class="q23" d="M1042 3015l-7-9l19-7l8 9z"/><path class="q23" d="M915 3018l-7-8l20-7l7 8z"/><path class="q23" d="M942 3019l-7-8l20-9l7 9z"/><path class="q21" d="M968 3019l-6-8l19-10l7 10z"/><path class="q21" d="M995 3020l-7-9l20-8l7 10z"/><path class="q23" d="M1022 3022l-7-9l20-7l7 9z"/><path class="q23" d="M921 3025l-6-7l20-7l7 8z"/><path class="q23" d="M948 3027l-6-8l20-8l6 8z"/><path class="q23" d="M975 3028l-7-9l20-8l7 9z"/><path class="q23" d="M1003 3029l-8-9l20-7l7 9z"/><path class="q23" d="M928 3034l-7-9l21-6l6 8z"/><path class="q23" d="M955 3035l-7-8l20-8l7 9z"/><path class="q23" d="M983 3036l-8-8l20-8l8 9z"/><path class="q23" d="M935 3042l-7-8l20-7l7 8z"/><path class="q23" d="M962 3043l-7-8l20-7l8 8z"/><path class="q23" d="M942 3050l-7-8l20-7l7 8z"/></g>
<line x1="412.5" y1="1504" x2="473.1" y2="1581.4" stroke="#000" stroke-width="0.9"/>
<line x1="473.1" y1="1581.4" x2="654.5" y2="1513.7" stroke="#000" stroke-width="0.9"/>
<line x1="473.1" y1="1581.4" x2="468.6" y2="1463.8" stroke="#000" stroke-width="0.9"/>
<line x1="405.9" y1="1496.6" x2="411.9" y2="1496.6" stroke="#000" stroke-width="0.8"/>
<text x="405.4" y="1499.9" font-size="9" text-anchor="end">−60</text>
<line x1="404.8" y1="1481.5" x2="410.8" y2="1481.5" stroke="#000" stroke-width="0.8"/>
<text x="404.3" y="1484.8" font-size="9" text-anchor="end">−40</text>
<line x1="403.6" y1="1466.1" x2="409.6" y2="1466.1" stroke="#000" stroke-width="0.8"/>
<text x="403.1" y="1469.4" font-size="9" text-anchor="end">−20</text>
<line x1="402.4" y1="1450.4" x2="408.4" y2="1450.4" stroke="#000" stroke-width="0.8"/>
<text x="401.9" y="1453.7" font-size="9" text-anchor="end">0</text>
<line x1="401.2" y1="1434.3" x2="407.2" y2="1434.3" stroke="#000" stroke-width="0.8"/>
<text x="400.7" y="1437.6" font-size="9" text-anchor="end">20</text>
<line x1="399.9" y1="1418" x2="405.9" y2="1418" stroke="#000" stroke-width="0.8"/>
<text x="399.4" y="1421.3" font-size="9" text-anchor="end">40</text>
<line x1="398.7" y1="1401.2" x2="404.7" y2="1401.2" stroke="#000" stroke-width="0.8"/>
<text x="398.2" y="1404.5" font-size="9" text-anchor="end">60</text>
<line x1="454.9" y1="1558.1" x2="449.9" y2="1563.1" stroke="#000" stroke-width="0.8"/>
<text x="444.4" y="1571.6" font-size="9.5" text-anchor="middle">0.2</text>
<line x1="435.9" y1="1533.9" x2="430.9" y2="1538.9" stroke="#000" stroke-width="0.8"/>
<text x="425.4" y="1547.4" font-size="9.5" text-anchor="middle">0.5</text>
<line x1="419.2" y1="1512.5" x2="414.2" y2="1517.5" stroke="#000" stroke-width="0.8"/>
<text x="408.7" y="1526" font-size="9.5" text-anchor="middle">1</text>
<line x1="508" y1="1568.3" x2="509" y2="1574.3" stroke="#000" stroke-width="0.8"/>
<text x="511" y="1583.8" font-size="9.5" text-anchor="middle">0.6</text>
<line x1="545.6" y1="1554.3" x2="546.6" y2="1560.3" stroke="#000" stroke-width="0.8"/>
<text x="548.6" y="1569.8" font-size="9.5" text-anchor="middle">1.25</text>
<line x1="581.9" y1="1540.8" x2="582.9" y2="1546.8" stroke="#000" stroke-width="0.8"/>
<text x="584.9" y="1556.3" font-size="9.5" text-anchor="middle">2.5</text>
<line x1="617.1" y1="1527.6" x2="618.1" y2="1533.6" stroke="#000" stroke-width="0.8"/>
<text x="620.1" y="1543.1" font-size="9.5" text-anchor="middle">5</text>
<line x1="649.5" y1="1515.6" x2="650.5" y2="1521.6" stroke="#000" stroke-width="0.8"/>
<text x="652.5" y="1531.1" font-size="9.5" text-anchor="middle">10</text>
<text x="415.3" y="1565.8" font-size="11" text-anchor="middle" transform="rotate(51.9 415.3 1565.8)">BLU−222 (uM)</text>
<text x="575.5" y="1576.1" font-size="11" text-anchor="middle" transform="rotate(-20.4 575.5 1576.1)">Palbociclib (uM)</text>
<text x="171.4" y="1687.3" font-size="27.5" font-weight="bold" text-anchor="middle" textLength="268.1" lengthAdjust="spacingAndGlyphs">MDAMB231 parental</text>
<defs><linearGradient id="cb7" x1="0" x2="1" y1="0" y2="0"><stop offset="0" stop-color="#11D911"/><stop offset="0.5" stop-color="#ffffff"/><stop offset="1" stop-color="#EE1111"/></linearGradient></defs>
<rect x="18.7" y="1725.3" width="336.3" height="4.3" fill="url(#cb7)"/>
<text x="19.3" y="1714.7" font-size="9.5" text-anchor="middle">−40</text>
<text x="61.4" y="1714.7" font-size="9.5" text-anchor="middle">−30</text>
<text x="103.5" y="1714.7" font-size="9.5" text-anchor="middle">−20</text>
<text x="145.6" y="1714.7" font-size="9.5" text-anchor="middle">−10</text>
<text x="187.7" y="1714.7" font-size="9.5" text-anchor="middle">0</text>
<text x="229.7" y="1714.7" font-size="9.5" text-anchor="middle">10</text>
<text x="271.8" y="1714.7" font-size="9.5" text-anchor="middle">20</text>
<text x="313.9" y="1714.7" font-size="9.5" text-anchor="middle">30</text>
<text x="356" y="1714.7" font-size="9.5" text-anchor="middle">40</text>
<text x="52.7" y="1764.8" font-size="26.8" font-weight="bold" textLength="145" lengthAdjust="spacingAndGlyphs">HSA: 4.088</text>
<line x1="243.5" y1="1889.4" x2="247.4" y2="1767.5" stroke="#000" stroke-width="0.8" stroke-dasharray="3,3"/>
<line x1="243.5" y1="1889.4" x2="49.5" y2="1954.1" stroke="#000" stroke-width="0.8" stroke-dasharray="3,3"/>
<line x1="243.5" y1="1889.4" x2="324.7" y2="1963.1" stroke="#000" stroke-width="0.8" stroke-dasharray="3,3"/>
<line x1="39.5" y1="1827" x2="247.4" y2="1767.5" stroke="#000" stroke-width="0.9"/>
<line x1="247.4" y1="1767.5" x2="335.1" y2="1835" stroke="#000" stroke-width="0.9"/>
<line x1="39.5" y1="1827" x2="113.3" y2="1906.8" stroke="#000" stroke-width="0.9"/>
<line x1="113.3" y1="1906.8" x2="335.1" y2="1835" stroke="#000" stroke-width="0.9"/>
<line x1="39.5" y1="1827" x2="49.5" y2="1954.1" stroke="#000" stroke-width="0.9"/>
<line x1="335.1" y1="1835" x2="324.7" y2="1963.1" stroke="#000" stroke-width="0.9"/>
<g transform="scale(.5)" stroke="#000" stroke-width="2" stroke-linejoin="round"><path class="q37" d="M481 3681l-7-6l16-5l8 6z"/><path class="q37" d="M463 3687l-7-6l18-6l7 6z"/><path class="q37" d="M488 3687l-7-6l17-5l7 6z"/><path class="q37" d="M446 3692l-7-6l17-5l7 6z"/><path class="q37" d="M470 3693l-7-6l18-6l7 6z"/><path class="q37" d="M495 3693l-7-6l17-5l7 6z"/><path class="q37" d="M429 3697l-7-6l17-5l7 6z"/><path class="q37" d="M453 3698l-7-6l17-5l7 6z"/><path class="q37" d="M477 3699l-7-6l18-6l7 6z"/><path class="q37" d="M502 3699l-7-6l17-5l7 6z"/><path class="q37" d="M411 3702l-6-6l17-5l7 6z"/><path class="q37" d="M436 3703l-7-6l17-5l7 6z"/><path class="q37" d="M460 3704l-7-6l17-5l7 6z"/><path class="q37" d="M485 3705l-8-6l18-6l7 6z"/><path class="q37" d="M509 3706l-7-7l17-5l7 6z"/><path class="q37" d="M394 3707l-7-6l18-5l6 6z"/><path class="q37" d="M418 3708l-7-6l18-5l7 6z"/><path class="q37" d="M443 3709l-7-6l17-5l7 6z"/><path class="q37" d="M467 3710l-7-6l17-5l8 6z"/><path class="q37" d="M492 3711l-7-6l17-6l7 7z"/><path class="q37" d="M516 3712l-7-6l17-6l7 6z"/><path class="q37" d="M376 3712l-6-6l17-5l7 6z"/><path class="q37" d="M401 3713l-7-6l17-5l7 6z"/><path class="q37" d="M425 3714l-7-6l18-5l7 6z"/><path class="q37" d="M450 3715l-7-6l17-5l7 6z"/><path class="q37" d="M474 3716l-7-6l18-5l7 6z"/><path class="q37" d="M499 3717l-7-6l17-5l7 6z"/><path class="q37" d="M524 3718l-8-6l17-6l8 6z"/><path class="q31" d="M358 3716l-6-5l18-5l6 6z"/><path class="q31" d="M383 3717l-7-5l18-5l7 6z"/><path class="q31" d="M408 3718l-7-5l17-5l7 6z"/><path class="q37" d="M432 3720l-7-6l18-5l7 6z"/><path class="q37" d="M457 3721l-7-6l17-5l7 6z"/><path class="q37" d="M482 3722l-8-6l18-5l7 6z"/><path class="q37" d="M506 3723l-7-6l17-5l8 6z"/><path class="q37" d="M531 3724l-7-6l17-6l7 7z"/><path class="q31" d="M340 3720l-6-5l18-4l6 5z"/><path class="q31" d="M365 3721l-7-5l18-4l7 5z"/><path class="q31" d="M390 3722l-7-5l18-4l7 5z"/><path class="q31" d="M415 3724l-7-6l17-4l7 6z"/><path class="q31" d="M439 3726l-7-6l18-5l7 6z"/><path class="q37" d="M464 3727l-7-6l17-5l8 6z"/><path class="q37" d="M489 3728l-7-6l17-5l7 6z"/><path class="q37" d="M514 3730l-8-7l18-5l7 6z"/><path class="q37" d="M538 3731l-7-7l17-5l8 6z"/><path class="q30" d="M322 3723l-6-4l18-4l6 5z"/><path class="q30" d="M347 3724l-7-4l18-4l7 5z"/><path class="q30" d="M372 3726l-7-5l18-4l7 5z"/><path class="q31" d="M397 3727l-7-5l18-4l7 6z"/><path class="q31" d="M422 3729l-7-5l17-4l7 6z"/><path class="q31" d="M446 3731l-7-5l18-5l7 6z"/><path class="q37" d="M471 3733l-7-6l18-5l7 6z"/><path class="q37" d="M496 3735l-7-7l17-5l8 7z"/><path class="q37" d="M521 3736l-7-6l17-6l7 7z"/><path class="q37" d="M546 3737l-8-6l18-6l7 6z"/><path class="q32" d="M304 3724l-6-3l18-2l6 4z"/><path class="q32" d="M329 3726l-7-3l18-3l7 4z"/><path class="q30" d="M354 3728l-7-4l18-3l7 5z"/><path class="q30" d="M379 3730l-7-4l18-4l7 5z"/><path class="q30" d="M404 3732l-7-5l18-3l7 5z"/><path class="q31" d="M429 3735l-7-6l17-3l7 5z"/><path class="q31" d="M454 3737l-8-6l18-4l7 6z"/><path class="q37" d="M478 3740l-7-7l18-5l7 7z"/><path class="q37" d="M503 3741l-7-6l18-5l7 6z"/><path class="q37" d="M528 3742l-7-6l17-5l8 6z"/><path class="q37" d="M553 3743l-7-6l17-6l8 7z"/><path class="q21" d="M286 3725l-7-3l19-1l6 3z"/><path class="q21" d="M311 3726l-7-2l18-1l7 3z"/><path class="q21" d="M336 3728l-7-2l18-2l7 4z"/><path class="q23" d="M361 3731l-7-3l18-2l7 4z"/><path class="q32" d="M386 3734l-7-4l18-3l7 5z"/><path class="q30" d="M411 3737l-7-5l18-3l7 6z"/><path class="q31" d="M436 3741l-7-6l17-4l8 6z"/><path class="q31" d="M461 3744l-7-7l17-4l7 7z"/><path class="q31" d="M486 3746l-8-6l18-5l7 6z"/><path class="q37" d="M511 3748l-8-7l18-5l7 6z"/><path class="q37" d="M536 3749l-8-7l18-5l7 6z"/><path class="q37" d="M561 3750l-8-7l18-5l8 6z"/><path class="q20" d="M267 3726l-6-2l18-2l7 3z"/><path class="q30" d="M443 3746l-7-5l18-4l7 7z"/><path class="q31" d="M468 3750l-7-6l17-4l8 6z"/><path class="q20" d="M292 3726l-6-1l18-1l7 2z"/><path class="q30" d="M418 3742l-7-5l18-2l7 6z"/><path class="q31" d="M493 3752l-7-6l17-5l8 7z"/><path class="q23" d="M393 3738l-7-4l18-2l7 5z"/><path class="q22" d="M317 3727l-6-1l18 0l7 2z"/><path class="q22" d="M342 3730l-6-2l18 0l7 3z"/><path class="q21" d="M368 3734l-7-3l18-1l7 4z"/><path class="q37" d="M518 3754l-7-6l17-6l8 7z"/><path class="q37" d="M544 3755l-8-6l17-6l8 7z"/><path class="q37" d="M569 3756l-8-6l18-6l7 7z"/><path class="q19" d="M248 3729l-6-1l19-4l6 2z"/><path class="q31" d="M475 3756l-7-6l18-4l7 6z"/><path class="q30" d="M450 3753l-7-7l18-2l7 6z"/><path class="q31" d="M501 3759l-8-7l18-4l7 6z"/><path class="q32" d="M425 3748l-7-6l18-1l7 5z"/><path class="q37" d="M526 3761l-8-7l18-5l8 6z"/><path class="q21" d="M400 3742l-7-4l18-1l7 5z"/><path class="q19" d="M273 3726l-6 0l19-1l6 1z"/><path class="q37" d="M551 3762l-7-7l17-5l8 6z"/><path class="q22" d="M374 3737l-6-3l18 0l7 4z"/><path class="q20" d="M349 3732l-7-2l19 1l7 3z"/><path class="q19" d="M299 3726l-7 0l19 0l6 1z"/><path class="q37" d="M577 3763l-8-7l17-5l8 6z"/><path class="q19" d="M324 3728l-7-1l19 1l6 2z"/><path class="q19" d="M229 3734l-6-1l19-5l6 1z"/><path class="q31" d="M483 3763l-8-7l18-4l8 7z"/><path class="q30" d="M457 3759l-7-6l18-3l7 6z"/><path class="q31" d="M508 3766l-7-7l17-5l8 7z"/><path class="q32" d="M432 3754l-7-6l18-2l7 7z"/><path class="q37" d="M533 3767l-7-6l18-6l7 7z"/><path class="q37" d="M559 3769l-8-7l18-6l8 7z"/><path class="q21" d="M407 3747l-7-5l18 0l7 6z"/><path class="q7" d="M254 3729l-6 0l19-3l6 0z"/><path class="q37" d="M584 3769l-7-6l17-6l8 6z"/><path class="q20" d="M381 3741l-7-4l19 1l7 4z"/><path class="q7" d="M280 3725l-7 1l19 0l7 0z"/><path class="q19" d="M356 3734l-7-2l19 2l6 3z"/><path class="q7" d="M331 3728l-7 0l18 2l7 2z"/><path class="q7" d="M305 3725l-6 1l18 1l7 1z"/><path class="q19" d="M210 3740l-6-1l19-6l6 1z"/><path class="q31" d="M490 3770l-7-7l18-4l7 7z"/><path class="q30" d="M465 3766l-8-7l18-3l8 7z"/><path class="q31" d="M516 3773l-8-7l18-5l7 6z"/><path class="q37" d="M541 3774l-8-7l18-5l8 7z"/><path class="q23" d="M439 3760l-7-6l18-1l7 6z"/><path class="q37" d="M567 3775l-8-6l18-6l7 6z"/><path class="q7" d="M236 3733l-7 1l19-5l6 0z"/><path class="q22" d="M414 3753l-7-6l18 1l7 6z"/><path class="q37" d="M592 3776l-8-7l18-6l8 7z"/><path class="q19" d="M191 3747l-6-1l19-7l6 1z"/><path class="q19" d="M389 3745l-8-4l19 1l7 5z"/><path class="q14" d="M261 3727l-7 2l19-3l7-1z"/><path class="q7" d="M363 3736l-7-2l18 3l7 4z"/><path class="q31" d="M498 3777l-8-7l18-4l8 7z"/><path class="q30" d="M472 3773l-7-7l18-3l7 7z"/><path class="q31" d="M523 3779l-7-6l17-6l8 7z"/><path class="q37" d="M549 3781l-8-7l18-5l8 6z"/><path class="q5" d="M337 3728l-6 0l18 4l7 2z"/><path class="q8" d="M286 3723l-6 2l19 1l6-1z"/><path class="q23" d="M447 3767l-8-7l18-1l8 7z"/><path class="q7" d="M217 3740l-7 0l19-6l7-1z"/><path class="q8" d="M312 3723l-7 2l19 3l7 0z"/><path class="q37" d="M575 3782l-8-7l17-6l8 7z"/><path class="q19" d="M172 3756l-6-3l19-7l6 1z"/><path class="q22" d="M421 3759l-7-6l18 1l7 6z"/><path class="q37" d="M600 3782l-8-6l18-6l8 6z"/><path class="q19" d="M396 3750l-7-5l18 2l7 6z"/><path class="q8" d="M242 3731l-6 2l18-4l7-2z"/><path class="q31" d="M505 3784l-7-7l18-4l7 6z"/><path class="q30" d="M480 3781l-8-8l18-3l8 7z"/><path class="q7" d="M197 3748l-6-1l19-7l7 0z"/><path class="q31" d="M531 3786l-8-7l18-5l8 7z"/><path class="q20" d="M153 3765l-6-4l19-8l6 3z"/><path class="q32" d="M454 3775l-7-8l18-1l7 7z"/><path class="q5" d="M370 3739l-7-3l18 5l8 4z"/><path class="q37" d="M557 3788l-8-7l18-6l8 7z"/><path class="q37" d="M582 3788l-7-6l17-6l8 6z"/><path class="q22" d="M428 3767l-7-8l18 1l8 7z"/><path class="q6" d="M267 3723l-6 4l19-2l6-2z"/><path class="q31" d="M608 3788l-8-6l18-6l8 6z"/><path class="q8" d="M344 3729l-7-1l19 6l7 2z"/><path class="q9" d="M178 3757l-6-1l19-9l6 1z"/><path class="q6" d="M293 3720l-7 3l19 2l7-2z"/><path class="q8" d="M223 3738l-6 2l19-7l6-2z"/><path class="q22" d="M134 3774l-6-5l19-8l6 4z"/><path class="q6" d="M318 3722l-6 1l19 5l6 0z"/><path class="q19" d="M403 3756l-7-6l18 3l7 6z"/><path class="q31" d="M513 3791l-8-7l18-5l8 7z"/><path class="q31" d="M487 3788l-7-7l18-4l7 7z"/><path class="q31" d="M539 3793l-8-7l18-5l8 7z"/><path class="q32" d="M461 3783l-7-8l18-2l8 8z"/><path class="q37" d="M565 3794l-8-6l18-6l7 6z"/><path class="q5" d="M377 3743l-7-4l19 6l7 5z"/><path class="q31" d="M590 3794l-8-6l18-6l8 6z"/><path class="q19" d="M159 3767l-6-2l19-9l6 1z"/><path class="q22" d="M436 3775l-8-8l19 0l7 8z"/><path class="q21" d="M115 3783l-6-5l19-9l6 5z"/><path class="q10" d="M248 3727l-6 4l19-4l6-4z"/><path class="q14" d="M203 3746l-6 2l20-8l6-2z"/><path class="q31" d="M616 3794l-8-6l18-6l8 6z"/><path class="q19" d="M410 3763l-7-7l18 3l7 8z"/><path class="q6" d="M351 3730l-7-1l19 7l7 3z"/><path class="q31" d="M495 3796l-8-8l18-4l8 7z"/><path class="q31" d="M521 3799l-8-8l18-5l8 7z"/><path class="q20" d="M140 3778l-6-4l19-9l6 2z"/><path class="q30" d="M469 3791l-8-8l19-2l7 7z"/><path class="q31" d="M546 3800l-7-7l18-5l8 6z"/><path class="q4" d="M273 3719l-6 4l19 0l7-3z"/><path class="q23" d="M95 3793l-6-7l20-8l6 5z"/><path class="q5" d="M184 3757l-6 0l19-9l6-2z"/><path class="q31" d="M572 3801l-7-7l17-6l8 6z"/><path class="q1" d="M325 3721l-7 1l19 6l7 1z"/><path class="q21" d="M443 3783l-7-8l18 0l7 8z"/><path class="q4" d="M299 3717l-6 3l19 3l6-1z"/><path class="q10" d="M229 3734l-6 4l19-7l6-4z"/><path class="q31" d="M599 3800l-9-6l18-6l8 6z"/><path class="q14" d="M384 3749l-7-6l19 7l7 6z"/><path class="q22" d="M121 3789l-6-6l19-9l6 4z"/><path class="q31" d="M625 3800l-9-6l18-6l8 6z"/><path class="q7" d="M165 3769l-6-2l19-10l6 0z"/><path class="q19" d="M417 3772l-7-9l18 4l8 8z"/><path class="q31" d="M502 3803l-7-7l18-5l8 8z"/><path class="q31" d="M528 3806l-7-7l18-6l7 7z"/><path class="q30" d="M476 3799l-7-8l18-3l8 8z"/><path class="q10" d="M358 3734l-7-4l19 9l7 4z"/><path class="q31" d="M554 3807l-8-7l19-6l7 7z"/><path class="q6" d="M209 3744l-6 2l20-8l6-4z"/><path class="q21" d="M101 3800l-6-7l20-10l6 6z"/><path class="q21" d="M451 3792l-8-9l18 0l8 8z"/><path class="q2" d="M254 3723l-6 4l19-4l6-4z"/><path class="q19" d="M146 3782l-6-4l19-11l6 2z"/><path class="q31" d="M580 3807l-8-6l18-7l9 6z"/><path class="q14" d="M391 3757l-7-8l19 7l7 7z"/><path class="q31" d="M607 3806l-8-6l17-6l9 6z"/><path class="q20" d="M425 3782l-8-10l19 3l7 8z"/><path class="q2" d="M332 3721l-7 0l19 8l7 1z"/><path class="q3" d="M190 3756l-6 1l19-11l6-2z"/><path class="q22" d="M127 3794l-6-5l19-11l6 4z"/><path class="q30" d="M633 3805l-8-5l17-6l9 5z"/><path class="q13" d="M280 3715l-7 4l20 1l6-3z"/><path class="q31" d="M510 3811l-8-8l19-4l7 7z"/><path class="q30" d="M484 3808l-8-9l19-3l7 7z"/><path class="q13" d="M306 3714l-7 3l19 5l7-1z"/><path class="q31" d="M536 3812l-8-6l18-6l8 7z"/><path class="q23" d="M458 3802l-7-10l18-1l7 8z"/><path class="q2" d="M235 3730l-6 4l19-7l6-4z"/><path class="q31" d="M562 3813l-8-6l18-6l8 6z"/><path class="q14" d="M171 3770l-6-1l19-12l6-1z"/><path class="q10" d="M365 3740l-7-6l19 9l7 6z"/><path class="q21" d="M107 3807l-6-7l20-11l6 5z"/><path class="q5" d="M399 3767l-8-10l19 6l7 9z"/><path class="q31" d="M589 3812l-9-5l19-7l8 6z"/><path class="q20" d="M432 3792l-7-10l18 1l8 9z"/><path class="q7" d="M152 3785l-6-3l19-13l6 1z"/><path class="q30" d="M615 3811l-8-5l18-6l8 5z"/><path class="q4" d="M215 3741l-6 3l20-10l6-4z"/><path class="q30" d="M492 3816l-8-8l18-5l8 8z"/><path class="q31" d="M518 3818l-8-7l18-5l8 6z"/><path class="q20" d="M133 3800l-6-6l19-12l6 3z"/><path class="q32" d="M642 3809l-9-4l18-6l9 4z"/><path class="q0" d="M339 3724l-7-3l19 9l7 4z"/><path class="q11" d="M260 3718l-6 5l19-4l7-4z"/><path class="q32" d="M465 3811l-7-9l18-3l8 9z"/><path class="q31" d="M544 3819l-8-7l18-5l8 6z"/><path class="q7" d="M406 3778l-7-11l18 5l8 10z"/><path class="q10" d="M373 3748l-8-8l19 9l7 8z"/><path class="q31" d="M570 3819l-8-6l18-6l9 5z"/><path class="q22" d="M439 3803l-7-11l19 0l7 10z"/><path class="q21" d="M113 3814l-6-7l20-13l6 6z"/><path class="q1" d="M196 3754l-6 2l19-12l6-3z"/><path class="q12" d="M313 3714l-7 0l19 7l7 0z"/><path class="q16" d="M286 3712l-6 3l19 2l7-3z"/><path class="q30" d="M597 3817l-8-5l18-6l8 5z"/><path class="q3" d="M177 3770l-6 0l19-14l6-2z"/><path class="q32" d="M623 3815l-8-4l18-6l9 4z"/><path class="q31" d="M499 3823l-7-7l18-5l8 7z"/><path class="q30" d="M473 3820l-8-9l19-3l8 8z"/><path class="q12" d="M241 3725l-6 5l19-7l6-5z"/><path class="q9" d="M413 3789l-7-11l19 4l7 10z"/><path class="q5" d="M158 3787l-6-2l19-15l6 0z"/><path class="q31" d="M526 3825l-8-7l18-6l8 7z"/><path class="q6" d="M380 3759l-7-11l18 9l8 10z"/><path class="q21" d="M447 3813l-8-10l19-1l7 9z"/><path class="q31" d="M552 3825l-8-6l18-6l8 6z"/><path class="q13" d="M346 3730l-7-6l19 10l7 6z"/><path class="q19" d="M139 3805l-6-5l19-15l6 2z"/><path class="q30" d="M579 3824l-9-5l19-7l8 5z"/><path class="q21" d="M119 3821l-6-7l20-14l6 5z"/><path class="q11" d="M222 3737l-7 4l20-11l6-5z"/><path class="q19" d="M421 3802l-8-13l19 3l7 11z"/><path class="q32" d="M605 3822l-8-5l18-6l8 4z"/><path class="q17" d="M267 3714l-7 4l20-3l6-3z"/><path class="q15" d="M320 3716l-7-2l19 7l7 3z"/><path class="q30" d="M481 3828l-8-8l19-4l7 7z"/><path class="q3" d="M387 3771l-7-12l19 8l7 11z"/><path class="q31" d="M507 3831l-8-8l19-5l8 7z"/><path class="q23" d="M454 3823l-7-10l18-2l8 9z"/><path class="q2" d="M202 3753l-6 1l19-13l7-4z"/><path class="q31" d="M534 3831l-8-6l18-6l8 6z"/><path class="q17" d="M293 3710l-7 2l20 2l7 0z"/><path class="q13" d="M353 3739l-7-9l19 10l8 8z"/><path class="q10" d="M183 3771l-6-1l19-16l6-1z"/><path class="q30" d="M560 3830l-8-5l18-6l9 5z"/><path class="q8" d="M164 3790l-6-3l19-17l6 1z"/><path class="q9" d="M145 3810l-6-5l19-18l6 3z"/><path class="q20" d="M428 3814l-7-12l18 1l8 10z"/><path class="q22" d="M126 3828l-7-7l20-16l6 5z"/><path class="q8" d="M394 3785l-7-14l19 7l7 11z"/><path class="q32" d="M587 3828l-8-4l18-7l8 5z"/><path class="q17" d="M247 3722l-6 3l19-7l7-4z"/><path class="q30" d="M488 3836l-7-8l18-5l8 8z"/><path class="q30" d="M462 3833l-8-10l19-3l8 8z"/><path class="q31" d="M515 3837l-8-6l19-6l8 6z"/><path class="q0" d="M361 3750l-8-11l20 9l7 11z"/><path class="q17" d="M327 3722l-7-6l19 8l7 6z"/><path class="q30" d="M542 3837l-8-6l18-6l8 5z"/><path class="q21" d="M436 3825l-8-11l19-1l7 10z"/><path class="q5" d="M402 3799l-8-14l19 4l8 13z"/><path class="q15" d="M228 3734l-6 3l19-12l6-3z"/><path class="q24" d="M274 3713l-7 1l19-2l7-2z"/><path class="q32" d="M568 3834l-8-4l19-6l8 4z"/><path class="q24" d="M300 3712l-7-2l20 4l7 2z"/><path class="q22" d="M132 3835l-6-7l19-18l6 5z"/><path class="q7" d="M151 3815l-6-5l19-20l6 3z"/><path class="q11" d="M209 3752l-7 1l20-16l6-3z"/><path class="q4" d="M368 3764l-7-14l19 9l7 12z"/><path class="q6" d="M170 3793l-6-3l19-19l6 1z"/><path class="q2" d="M189 3772l-6-1l19-18l7-1z"/><path class="q9" d="M409 3813l-7-14l19 3l7 12z"/><path class="q30" d="M470 3841l-8-8l19-5l7 8z"/><path class="q30" d="M496 3843l-8-7l19-5l8 6z"/><path class="q23" d="M443 3836l-7-11l18-2l8 10z"/><path class="q15" d="M334 3731l-7-9l19 8l7 9z"/><path class="q30" d="M523 3843l-8-6l19-6l8 6z"/><path class="q10" d="M375 3779l-7-15l19 7l7 14z"/><path class="q27" d="M254 3720l-7 2l20-8l7-1z"/><path class="q32" d="M550 3841l-8-4l18-7l8 4z"/><path class="q20" d="M417 3826l-8-13l19 1l8 11z"/><path class="q22" d="M138 3843l-6-8l19-20l6 6z"/><path class="q27" d="M307 3717l-7-5l20 4l7 6z"/><path class="q3" d="M383 3795l-8-16l19 6l8 14z"/><path class="q30" d="M477 3849l-7-8l18-5l8 7z"/><path class="q16" d="M341 3743l-7-12l19 8l8 11z"/><path class="q5" d="M157 3821l-6-6l19-22l6 4z"/><path class="q25" d="M280 3714l-6-1l19-3l7 2z"/><path class="q32" d="M451 3846l-8-10l19-3l8 8z"/><path class="q18" d="M234 3734l-6 0l19-12l7-2z"/><path class="q30" d="M504 3849l-8-6l19-6l8 6z"/><path class="q10" d="M176 3797l-6-4l19-21l7 2z"/><path class="q22" d="M424 3838l-7-12l19-1l7 11z"/><path class="q15" d="M215 3752l-6 0l19-18l6 0z"/><path class="q13" d="M196 3774l-7-2l20-20l6 0z"/><path class="q32" d="M531 3848l-8-5l19-6l8 4z"/><path class="q14" d="M390 3811l-7-16l19 4l7 14z"/><path class="q11" d="M348 3758l-7-15l20 7l7 14z"/><path class="q27" d="M314 3727l-7-10l20 5l7 9z"/><path class="q22" d="M145 3850l-7-7l19-22l7 6z"/><path class="q30" d="M458 3854l-7-8l19-5l7 8z"/><path class="q26" d="M261 3722l-7-2l20-7l6 1z"/><path class="q9" d="M397 3826l-7-15l19 2l8 13z"/><path class="q30" d="M485 3856l-8-7l19-6l8 6z"/><path class="q0" d="M356 3775l-8-17l20 6l7 15z"/><path class="q21" d="M432 3849l-8-11l19-2l8 10z"/><path class="q14" d="M164 3827l-7-6l19-24l7 6z"/><path class="q26" d="M287 3719l-7-5l20-2l7 5z"/><path class="q32" d="M512 3854l-8-5l19-6l8 5z"/><path class="q1" d="M183 3803l-7-6l20-23l6 4z"/><path class="q1" d="M363 3793l-7-18l19 4l8 16z"/><path class="q27" d="M241 3736l-7-2l20-14l7 2z"/><path class="q19" d="M405 3840l-8-14l20 0l7 12z"/><path class="q24" d="M321 3740l-7-13l20 4l7 12z"/><path class="q11" d="M202 3778l-6-4l19-22l6 3z"/><path class="q17" d="M221 3755l-6-3l19-18l7 2z"/><path class="q3" d="M371 3810l-8-17l20 2l7 16z"/><path class="q20" d="M151 3857l-6-7l19-23l6 7z"/><path class="q30" d="M466 3862l-8-8l19-5l8 7z"/><path class="q23" d="M439 3859l-7-10l19-3l7 8z"/><path class="q32" d="M493 3861l-8-5l19-7l8 5z"/><path class="q28" d="M267 3727l-6-5l19-8l7 5z"/><path class="q17" d="M329 3756l-8-16l20 3l7 15z"/><path class="q26" d="M294 3729l-7-10l20-2l7 10z"/><path class="q14" d="M170 3834l-6-7l19-24l6 6z"/><path class="q22" d="M412 3852l-7-12l19-2l8 11z"/><path class="q14" d="M378 3827l-7-17l19 1l7 15z"/><path class="q1" d="M189 3809l-6-6l19-25l7 6z"/><path class="q12" d="M336 3774l-7-18l19 2l8 17z"/><path class="q25" d="M248 3742l-7-6l20-14l6 5z"/><path class="q9" d="M385 3842l-7-15l19-1l8 14z"/><path class="q12" d="M209 3784l-7-6l19-23l7 6z"/><path class="q0" d="M344 3793l-8-19l20 1l7 18z"/><path class="q32" d="M447 3867l-8-8l19-5l8 8z"/><path class="q18" d="M228 3761l-7-6l20-19l7 6z"/><path class="q25" d="M302 3742l-8-13l20-2l7 13z"/><path class="q20" d="M157 3865l-6-8l19-23l7 8z"/><path class="q21" d="M420 3863l-8-11l20-3l7 10z"/><path class="q32" d="M474 3868l-8-6l19-6l8 5z"/><path class="q28" d="M275 3737l-8-10l20-8l7 10z"/><path class="q10" d="M351 3812l-7-19l19 0l8 17z"/><path class="q14" d="M177 3842l-7-8l19-25l7 9z"/><path class="q20" d="M393 3856l-8-14l20-2l7 12z"/><path class="q24" d="M309 3759l-7-17l19-2l8 16z"/><path class="q8" d="M358 3830l-7-18l20-2l7 17z"/><path class="q1" d="M196 3818l-7-9l20-25l7 9z"/><path class="q25" d="M255 3751l-7-9l19-15l8 10z"/><path class="q15" d="M316 3778l-7-19l20-3l7 18z"/><path class="q12" d="M216 3793l-7-9l19-23l7 9z"/><path class="q25" d="M282 3750l-7-13l19-8l8 13z"/><path class="q23" d="M428 3873l-8-10l19-4l8 8z"/><path class="q18" d="M235 3770l-7-9l20-19l7 9z"/><path class="q7" d="M366 3846l-8-16l20-3l7 15z"/><path class="q22" d="M164 3873l-7-8l20-23l6 9z"/><path class="q32" d="M455 3874l-8-7l19-5l8 6z"/><path class="q13" d="M324 3797l-8-19l20-4l8 19z"/><path class="q22" d="M400 3868l-7-12l19-4l8 11z"/><path class="q5" d="M183 3851l-6-9l19-24l7 9z"/><path class="q1" d="M331 3817l-7-20l20-4l7 19z"/><path class="q24" d="M289 3767l-7-17l20-8l7 17z"/><path class="q1" d="M203 3827l-7-9l20-25l6 11z"/><path class="q19" d="M373 3861l-7-15l19-4l8 14z"/><path class="q27" d="M262 3764l-7-13l20-14l7 13z"/><path class="q3" d="M339 3835l-8-18l20-5l7 18z"/><path class="q11" d="M222 3804l-6-11l19-23l7 12z"/><path class="q17" d="M242 3782l-7-12l20-19l7 13z"/><path class="q15" d="M296 3785l-7-18l20-8l7 19z"/><path class="q23" d="M435 3881l-7-8l19-6l8 7z"/><path class="q21" d="M408 3879l-8-11l20-5l8 10z"/><path class="q22" d="M170 3880l-6-7l19-22l7 9z"/><path class="q5" d="M346 3852l-7-17l19-5l8 16z"/><path class="q13" d="M304 3805l-8-20l20-7l8 19z"/><path class="q18" d="M269 3780l-7-16l20-14l7 17z"/><path class="q5" d="M190 3860l-7-9l20-24l7 11z"/><path class="q22" d="M381 3873l-8-12l20-5l7 12z"/><path class="q10" d="M210 3838l-7-11l19-23l8 13z"/><path class="q4" d="M311 3824l-7-19l20-8l7 20z"/><path class="q16" d="M249 3797l-7-15l20-18l7 16z"/><path class="q0" d="M230 3817l-8-13l20-22l7 15z"/><path class="q16" d="M276 3797l-7-17l20-13l7 18z"/><path class="q9" d="M353 3867l-7-15l20-6l7 15z"/><path class="q3" d="M319 3842l-8-18l20-7l8 18z"/><path class="q0" d="M284 3816l-8-19l20-12l8 20z"/><path class="q13" d="M257 3813l-8-16l20-17l7 17z"/><path class="q23" d="M416 3888l-8-9l20-6l7 8z"/><path class="q21" d="M388 3885l-7-12l19-5l8 11z"/><path class="q5" d="M326 3859l-7-17l20-7l7 17z"/><path class="q7" d="M197 3870l-7-10l20-22l7 12z"/><path class="q22" d="M177 3888l-7-8l20-20l7 10z"/><path class="q4" d="M237 3831l-7-14l19-20l8 16z"/><path class="q3" d="M217 3850l-7-12l20-21l7 14z"/><path class="q1" d="M291 3834l-7-18l20-11l7 19z"/><path class="q20" d="M361 3880l-8-13l20-6l8 12z"/><path class="q4" d="M264 3830l-7-17l19-16l8 19z"/><path class="q3" d="M299 3851l-8-17l20-10l8 18z"/><path class="q9" d="M333 3874l-7-15l20-7l7 15z"/><path class="q10" d="M244 3845l-7-14l20-18l7 17z"/><path class="q6" d="M271 3846l-7-16l20-14l7 18z"/><path class="q14" d="M224 3862l-7-12l20-19l7 14z"/><path class="q5" d="M306 3867l-7-16l20-9l7 17z"/><path class="q9" d="M204 3880l-7-10l20-20l7 12z"/><path class="q23" d="M396 3895l-8-10l20-6l8 9z"/><path class="q21" d="M368 3892l-7-12l20-7l7 12z"/><path class="q22" d="M184 3896l-7-8l20-18l7 10z"/><path class="q8" d="M279 3862l-8-16l20-12l8 17z"/><path class="q8" d="M251 3860l-7-15l20-15l7 16z"/><path class="q20" d="M341 3887l-8-13l20-7l8 13z"/><path class="q19" d="M313 3882l-7-15l20-8l7 15z"/><path class="q5" d="M231 3875l-7-13l20-17l7 15z"/><path class="q7" d="M286 3877l-7-15l20-11l7 16z"/><path class="q5" d="M258 3874l-7-14l20-14l8 16z"/><path class="q19" d="M211 3889l-7-9l20-18l7 13z"/><path class="q23" d="M376 3902l-8-10l20-7l8 10z"/><path class="q21" d="M348 3899l-7-12l20-7l7 12z"/><path class="q20" d="M321 3894l-8-12l20-8l8 13z"/><path class="q21" d="M190 3904l-6-8l20-16l7 9z"/><path class="q9" d="M238 3887l-7-12l20-15l7 14z"/><path class="q19" d="M293 3890l-7-13l20-10l7 15z"/><path class="q9" d="M266 3887l-8-13l21-12l7 15z"/><path class="q20" d="M218 3899l-7-10l20-14l7 12z"/><path class="q23" d="M356 3909l-8-10l20-7l8 10z"/><path class="q21" d="M328 3906l-7-12l20-7l7 12z"/><path class="q20" d="M245 3898l-7-11l20-13l8 13z"/><path class="q22" d="M301 3902l-8-12l20-8l8 12z"/><path class="q20" d="M273 3899l-7-12l20-10l7 13z"/><path class="q21" d="M197 3911l-7-7l21-15l7 10z"/><path class="q22" d="M225 3909l-7-10l20-12l7 11z"/><path class="q22" d="M252 3909l-7-11l21-11l7 12z"/><path class="q23" d="M336 3916l-8-10l20-7l8 10z"/><path class="q21" d="M308 3913l-7-11l20-8l7 12z"/><path class="q22" d="M280 3911l-7-12l20-9l8 12z"/><path class="q21" d="M204 3919l-7-8l21-12l7 10z"/><path class="q21" d="M232 3918l-7-9l20-11l7 11z"/><path class="q21" d="M260 3919l-8-10l21-10l7 12z"/><path class="q21" d="M287 3921l-7-10l21-9l7 11z"/><path class="q23" d="M315 3923l-7-10l20-7l8 10z"/><path class="q23" d="M211 3928l-7-9l21-10l7 9z"/><path class="q21" d="M239 3927l-7-9l20-9l8 10z"/><path class="q21" d="M267 3928l-7-9l20-8l7 10z"/><path class="q23" d="M295 3930l-8-9l21-8l7 10z"/><path class="q23" d="M218 3936l-7-8l21-10l7 9z"/><path class="q23" d="M246 3936l-7-9l21-8l7 9z"/><path class="q23" d="M274 3938l-7-10l20-7l8 9z"/><path class="q23" d="M225 3944l-7-8l21-9l7 9z"/><path class="q23" d="M253 3945l-7-9l21-8l7 10z"/><path class="q23" d="M232 3952l-7-8l21-8l7 9z"/></g>
<line x1="49.5" y1="1954.1" x2="118.7" y2="2040.2" stroke="#000" stroke-width="0.9"/>
<line x1="118.7" y1="2040.2" x2="324.7" y2="1963.1" stroke="#000" stroke-width="0.9"/>
<line x1="118.7" y1="2040.2" x2="113.3" y2="1906.8" stroke="#000" stroke-width="0.9"/>
<line x1="43.5" y1="1954.1" x2="49.5" y2="1954.1" stroke="#000" stroke-width="0.8"/>
<text x="43" y="1957.4" font-size="9" text-anchor="end">−40</text>
<line x1="42.3" y1="1939.2" x2="48.3" y2="1939.2" stroke="#000" stroke-width="0.8"/>
<text x="41.8" y="1942.5" font-size="9" text-anchor="end">−30</text>
<line x1="41.1" y1="1924" x2="47.1" y2="1924" stroke="#000" stroke-width="0.8"/>
<text x="40.6" y="1927.3" font-size="9" text-anchor="end">−20</text>
<line x1="39.9" y1="1908.6" x2="45.9" y2="1908.6" stroke="#000" stroke-width="0.8"/>
<text x="39.4" y="1911.9" font-size="9" text-anchor="end">−10</text>
<line x1="38.7" y1="1892.8" x2="44.7" y2="1892.8" stroke="#000" stroke-width="0.8"/>
<text x="38.2" y="1896.1" font-size="9" text-anchor="end">0</text>
<line x1="37.4" y1="1876.8" x2="43.4" y2="1876.8" stroke="#000" stroke-width="0.8"/>
<text x="36.9" y="1880.1" font-size="9" text-anchor="end">10</text>
<line x1="36.1" y1="1860.5" x2="42.1" y2="1860.5" stroke="#000" stroke-width="0.8"/>
<text x="35.6" y="1863.8" font-size="9" text-anchor="end">20</text>
<line x1="34.8" y1="1843.9" x2="40.8" y2="1843.9" stroke="#000" stroke-width="0.8"/>
<text x="34.3" y="1847.2" font-size="9" text-anchor="end">30</text>
<line x1="33.5" y1="1827" x2="39.5" y2="1827" stroke="#000" stroke-width="0.8"/>
<text x="33" y="1830.3" font-size="9" text-anchor="end">40</text>
<line x1="98" y1="2014.4" x2="93" y2="2019.4" stroke="#000" stroke-width="0.8"/>
<text x="87.5" y="2027.9" font-size="9.5" text-anchor="middle">0.2</text>
<line x1="76.4" y1="1987.5" x2="71.4" y2="1992.5" stroke="#000" stroke-width="0.8"/>
<text x="65.9" y="2001" font-size="9.5" text-anchor="middle">0.7</text>
<line x1="57.2" y1="1963.6" x2="52.2" y2="1968.6" stroke="#000" stroke-width="0.8"/>
<text x="46.7" y="1977.1" font-size="9.5" text-anchor="middle">1</text>
<line x1="158.3" y1="2025.3" x2="159.3" y2="2031.3" stroke="#000" stroke-width="0.8"/>
<text x="161.3" y="2040.8" font-size="9.5" text-anchor="middle">0.3</text>
<line x1="200.9" y1="2009.4" x2="201.9" y2="2015.4" stroke="#000" stroke-width="0.8"/>
<text x="203.9" y="2024.9" font-size="9.5" text-anchor="middle">0.6</text>
<line x1="242.2" y1="1994" x2="243.2" y2="2000" stroke="#000" stroke-width="0.8"/>
<text x="245.2" y="2009.5" font-size="9.5" text-anchor="middle">1.25</text>
<line x1="282.2" y1="1979" x2="283.2" y2="1985" stroke="#000" stroke-width="0.8"/>
<text x="285.2" y="1994.5" font-size="9.5" text-anchor="middle">2.5</text>
<line x1="319" y1="1965.2" x2="320" y2="1971.2" stroke="#000" stroke-width="0.8"/>
<text x="322" y="1980.7" font-size="9.5" text-anchor="middle">5</text>
<text x="56.5" y="2020.1" font-size="11" text-anchor="middle" transform="rotate(51.2 56.5 2020.1)">Palbociclib (uM)</text>
<text x="233.9" y="2030.1" font-size="11" text-anchor="middle" transform="rotate(-20.5 233.9 2030.1)">BLU−222 (uM)</text>
<text x="535.2" y="1689.5" font-size="27.5" font-weight="bold" text-anchor="middle" textLength="198.9" lengthAdjust="spacingAndGlyphs">MDAMB231 PR</text>
<defs><linearGradient id="cb8" x1="0" x2="1" y1="0" y2="0"><stop offset="0" stop-color="#11D911"/><stop offset="0.5" stop-color="#ffffff"/><stop offset="1" stop-color="#EE1111"/></linearGradient></defs>
<rect x="389.1" y="1714.3" width="320.2" height="4.3" fill="url(#cb8)"/>
<text x="389.6" y="1705.5" font-size="9.5" text-anchor="middle">−40</text>
<text x="429.4" y="1705.5" font-size="9.5" text-anchor="middle">−30</text>
<text x="469.2" y="1705.5" font-size="9.5" text-anchor="middle">−20</text>
<text x="509" y="1705.5" font-size="9.5" text-anchor="middle">−10</text>
<text x="548.8" y="1705.5" font-size="9.5" text-anchor="middle">0</text>
<text x="588.6" y="1705.5" font-size="9.5" text-anchor="middle">10</text>
<text x="628.4" y="1705.5" font-size="9.5" text-anchor="middle">20</text>
<text x="668.2" y="1705.5" font-size="9.5" text-anchor="middle">30</text>
<text x="708" y="1705.5" font-size="9.5" text-anchor="middle">40</text>
<text x="397.3" y="1754.3" font-size="26.8" font-weight="bold" textLength="145" lengthAdjust="spacingAndGlyphs">HSA: 13.27</text>
<line x1="601.7" y1="1869.3" x2="605.8" y2="1754.6" stroke="#000" stroke-width="0.8" stroke-dasharray="3,3"/>
<line x1="601.7" y1="1869.3" x2="418.1" y2="1931.3" stroke="#000" stroke-width="0.8" stroke-dasharray="3,3"/>
<line x1="601.7" y1="1869.3" x2="678.3" y2="1940.2" stroke="#000" stroke-width="0.8" stroke-dasharray="3,3"/>
<line x1="409" y1="1811.7" x2="605.8" y2="1754.6" stroke="#000" stroke-width="0.9"/>
<line x1="605.8" y1="1754.6" x2="688.5" y2="1820.1" stroke="#000" stroke-width="0.9"/>
<line x1="409" y1="1811.7" x2="479.2" y2="1888.9" stroke="#000" stroke-width="0.9"/>
<line x1="479.2" y1="1888.9" x2="688.5" y2="1820.1" stroke="#000" stroke-width="0.9"/>
<line x1="409" y1="1811.7" x2="418.1" y2="1931.3" stroke="#000" stroke-width="0.9"/>
<line x1="688.5" y1="1820.1" x2="678.3" y2="1940.2" stroke="#000" stroke-width="0.9"/>
<g transform="scale(.5)" stroke="#000" stroke-width="2" stroke-linejoin="round"><path class="q3" d="M1198 3613l-7-9l17-8l8 10z"/><path class="q8" d="M1180 3624l-8-9l19-11l7 9z"/><path class="q14" d="M1205 3626l-7-13l18-7l7 14z"/><path class="q5" d="M1162 3634l-8-7l18-12l8 9z"/><path class="q7" d="M1212 3637l-7-11l18-6l7 12z"/><path class="q5" d="M1187 3634l-7-10l18-11l7 13z"/><path class="q9" d="M1143 3643l-7-7l18-9l8 7z"/><path class="q9" d="M1220 3645l-8-8l18-5l7 10z"/><path class="q7" d="M1169 3641l-7-7l18-10l7 10z"/><path class="q7" d="M1194 3641l-7-7l18-8l7 11z"/><path class="q19" d="M1125 3651l-7-7l18-8l7 7z"/><path class="q9" d="M1151 3648l-8-5l19-9l7 7z"/><path class="q19" d="M1227 3650l-7-5l17-3l8 6z"/><path class="q7" d="M1176 3645l-7-4l18-7l7 7z"/><path class="q7" d="M1202 3646l-8-5l18-4l8 8z"/><path class="q19" d="M1106 3657l-7-6l19-7l7 7z"/><path class="q9" d="M1132 3655l-7-4l18-8l8 5z"/><path class="q7" d="M1158 3649l-7-1l18-7l7 4z"/><path class="q9" d="M1235 3654l-8-4l18-2l8 5z"/><path class="q19" d="M1088 3664l-7-7l18-6l7 6z"/><path class="q7" d="M1210 3647l-8-1l18-1l7 5z"/><path class="q5" d="M1184 3645l-8 0l18-4l8 5z"/><path class="q19" d="M1114 3662l-8-5l19-6l7 4z"/><path class="q7" d="M1139 3655l-7 0l19-7l7 1z"/><path class="q19" d="M1069 3669l-7-6l19-6l7 7z"/><path class="q7" d="M1243 3658l-8-4l18-1l8 5z"/><path class="q19" d="M1095 3668l-7-4l18-7l8 5z"/><path class="q14" d="M1166 3647l-8 2l18-4l8 0z"/><path class="q5" d="M1217 3648l-7-1l17 3l8 4z"/><path class="q8" d="M1192 3644l-8 1l18 1l8 1z"/><path class="q7" d="M1121 3662l-7 0l18-7l7 0z"/><path class="q19" d="M1050 3675l-7-6l19-6l7 6z"/><path class="q19" d="M1076 3674l-7-5l19-5l7 4z"/><path class="q8" d="M1147 3653l-8 2l19-6l8-2z"/><path class="q5" d="M1251 3662l-8-4l18 0l8 5z"/><path class="q7" d="M1102 3668l-7 0l19-6l7 0z"/><path class="q8" d="M1225 3649l-8-1l18 6l8 4z"/><path class="q19" d="M1031 3681l-6-6l18-6l7 6z"/><path class="q6" d="M1173 3643l-7 4l18-2l8-1z"/><path class="q19" d="M1057 3680l-7-5l19-6l7 5z"/><path class="q6" d="M1199 3641l-7 3l18 3l7 1z"/><path class="q14" d="M1128 3659l-7 3l18-7l8-2z"/><path class="q7" d="M1083 3674l-7 0l19-6l7 0z"/><path class="q5" d="M1259 3668l-8-6l18 1l7 6z"/><path class="q19" d="M1012 3687l-7-6l20-6l6 6z"/><path class="q19" d="M1038 3686l-7-5l19-6l7 5z"/><path class="q3" d="M1233 3652l-8-3l18 9l8 4z"/><path class="q10" d="M1155 3648l-8 5l19-6l7-4z"/><path class="q14" d="M1109 3665l-7 3l19-6l7-3z"/><path class="q7" d="M1064 3680l-7 0l19-6l7 0z"/><path class="q5" d="M1267 3674l-8-6l17 1l8 7z"/><path class="q1" d="M1207 3640l-8 1l18 7l8 1z"/><path class="q4" d="M1181 3639l-8 4l19 1l7-3z"/><path class="q19" d="M993 3693l-7-6l19-6l7 6z"/><path class="q19" d="M1019 3692l-7-5l19-6l7 5z"/><path class="q10" d="M1136 3654l-8 5l19-6l8-5z"/><path class="q14" d="M1090 3671l-7 3l19-6l7-3z"/><path class="q6" d="M1241 3657l-8-5l18 10l8 6z"/><path class="q7" d="M1045 3686l-7 0l19-6l7 0z"/><path class="q5" d="M1275 3682l-8-8l17 2l8 7z"/><path class="q19" d="M973 3700l-6-7l19-6l7 6z"/><path class="q19" d="M1000 3698l-7-5l19-6l7 5z"/><path class="q0" d="M1162 3644l-7 4l18-5l8-4z"/><path class="q10" d="M1117 3660l-8 5l19-6l8-5z"/><path class="q14" d="M1071 3677l-7 3l19-6l7-3z"/><path class="q2" d="M1215 3641l-8-1l18 9l8 3z"/><path class="q7" d="M1026 3692l-7 0l19-6l7 0z"/><path class="q6" d="M1249 3664l-8-7l18 11l8 6z"/><path class="q13" d="M1189 3636l-8 3l18 2l8-1z"/><path class="q5" d="M1282 3691l-7-9l17 1l8 8z"/><path class="q19" d="M954 3706l-7-7l20-6l6 7z"/><path class="q19" d="M980 3704l-7-4l20-7l7 5z"/><path class="q0" d="M1143 3650l-7 4l19-6l7-4z"/><path class="q10" d="M1098 3666l-8 5l19-6l8-5z"/><path class="q14" d="M1052 3683l-7 3l19-6l7-3z"/><path class="q7" d="M1006 3698l-6 0l19-6l7 0z"/><path class="q0" d="M1223 3646l-8-5l18 11l8 5z"/><path class="q6" d="M1257 3672l-8-8l18 10l8 8z"/><path class="q20" d="M934 3714l-6-7l19-8l7 7z"/><path class="q7" d="M1290 3701l-8-10l18 0l8 9z"/><path class="q12" d="M1170 3641l-8 3l19-5l8-3z"/><path class="q19" d="M960 3711l-6-5l19-6l7 4z"/><path class="q0" d="M1124 3656l-7 4l19-6l7-4z"/><path class="q10" d="M1079 3672l-8 5l19-6l8-5z"/><path class="q16" d="M1197 3636l-8 0l18 4l8 1z"/><path class="q14" d="M1033 3689l-7 3l19-6l7-3z"/><path class="q7" d="M987 3704l-7 0l20-6l6 0z"/><path class="q20" d="M914 3722l-6-7l20-8l6 7z"/><path class="q3" d="M1265 3682l-8-10l18 10l7 9z"/><path class="q9" d="M1298 3711l-8-10l18-1l8 9z"/><path class="q13" d="M1231 3652l-8-6l18 11l8 7z"/><path class="q19" d="M941 3719l-7-5l20-8l6 5z"/><path class="q12" d="M1151 3647l-8 3l19-6l8-3z"/><path class="q0" d="M1105 3662l-7 4l19-6l7-4z"/><path class="q10" d="M1059 3678l-7 5l19-6l8-5z"/><path class="q14" d="M1013 3695l-7 3l20-6l7-3z"/><path class="q22" d="M894 3731l-6-7l20-9l6 7z"/><path class="q9" d="M967 3712l-7-1l20-7l7 0z"/><path class="q8" d="M1273 3694l-8-12l17 9l8 10z"/><path class="q19" d="M1306 3722l-8-11l18-2l9 10z"/><path class="q15" d="M1205 3640l-8-4l18 5l8 5z"/><path class="q17" d="M1178 3640l-8 1l19-5l8 0z"/><path class="q20" d="M921 3728l-7-6l20-8l7 5z"/><path class="q13" d="M1239 3661l-8-9l18 12l8 8z"/><path class="q12" d="M1132 3653l-8 3l19-6l8-3z"/><path class="q0" d="M1086 3668l-7 4l19-6l7-4z"/><path class="q10" d="M1040 3685l-7 4l19-6l7-5z"/><path class="q14" d="M993 3701l-6 3l19-6l7-3z"/><path class="q21" d="M874 3740l-6-8l20-8l6 7z"/><path class="q14" d="M1280 3707l-7-13l17 7l8 10z"/><path class="q9" d="M947 3721l-6-2l19-8l7 1z"/><path class="q20" d="M1314 3733l-8-11l19-3l8 10z"/><path class="q22" d="M901 3737l-7-6l20-9l7 6z"/><path class="q17" d="M1159 3646l-8 1l19-6l8-1z"/><path class="q0" d="M1247 3672l-8-11l18 11l8 10z"/><path class="q17" d="M1213 3647l-8-7l18 6l8 6z"/><path class="q12" d="M1113 3659l-8 3l19-6l8-3z"/><path class="q7" d="M1288 3720l-8-13l18 4l8 11z"/><path class="q0" d="M1066 3674l-7 4l20-6l7-4z"/><path class="q23" d="M854 3748l-6-8l20-8l6 8z"/><path class="q19" d="M927 3731l-6-3l20-9l6 2z"/><path class="q10" d="M1020 3691l-7 4l20-6l7-4z"/><path class="q18" d="M1186 3644l-8-4l19-4l8 4z"/><path class="q14" d="M973 3709l-6 3l20-8l6-3z"/><path class="q22" d="M1323 3744l-9-11l19-4l8 10z"/><path class="q21" d="M881 3746l-7-6l20-9l7 6z"/><path class="q4" d="M1255 3686l-8-14l18 10l8 12z"/><path class="q17" d="M1140 3652l-8 1l19-6l8-1z"/><path class="q9" d="M1296 3734l-8-14l18 2l8 11z"/><path class="q20" d="M907 3742l-6-5l20-9l6 3z"/><path class="q15" d="M1221 3655l-8-8l18 5l8 9z"/><path class="q12" d="M1093 3665l-7 3l19-6l8-3z"/><path class="q5" d="M954 3720l-7 1l20-9l6-3z"/><path class="q23" d="M834 3755l-7-8l21-7l6 8z"/><path class="q0" d="M1047 3680l-7 5l19-7l7-4z"/><path class="q10" d="M1000 3697l-7 4l20-6l7-4z"/><path class="q24" d="M1167 3650l-8-4l19-6l8 4z"/><path class="q10" d="M1262 3702l-7-16l18 8l7 13z"/><path class="q21" d="M860 3755l-6-7l20-8l7 6z"/><path class="q21" d="M1331 3754l-8-10l18-5l8 9z"/><path class="q24" d="M1194 3651l-8-7l19-4l8 7z"/><path class="q20" d="M1304 3746l-8-12l18-1l9 11z"/><path class="q22" d="M887 3752l-6-6l20-9l6 5z"/><path class="q7" d="M934 3732l-7-1l20-10l7-1z"/><path class="q17" d="M1120 3659l-7 0l19-6l8-1z"/><path class="q3" d="M1270 3718l-8-16l18 5l8 13z"/><path class="q16" d="M1228 3668l-7-13l18 6l8 11z"/><path class="q12" d="M1074 3671l-8 3l20-6l7-3z"/><path class="q10" d="M980 3706l-7 3l20-8l7-4z"/><path class="q0" d="M1027 3686l-7 5l20-6l7-5z"/><path class="q23" d="M840 3762l-6-7l20-7l6 7z"/><path class="q24" d="M1147 3657l-7-5l19-6l8 4z"/><path class="q23" d="M1339 3763l-8-9l18-6l9 9z"/><path class="q19" d="M914 3745l-7-3l20-11l7 1z"/><path class="q5" d="M1278 3734l-8-16l18 2l8 14z"/><path class="q22" d="M1312 3759l-8-13l19-2l8 10z"/><path class="q18" d="M1202 3660l-8-9l19-4l8 8z"/><path class="q24" d="M1174 3657l-7-7l19-6l8 7z"/><path class="q21" d="M867 3762l-7-7l21-9l6 6z"/><path class="q11" d="M1236 3683l-8-15l19 4l8 14z"/><path class="q17" d="M1101 3665l-8 0l20-6l7 0z"/><path class="q3" d="M960 3718l-6 2l19-11l7-3z"/><path class="q22" d="M894 3758l-7-6l20-10l7 3z"/><path class="q9" d="M1286 3749l-8-15l18 0l8 12z"/><path class="q2" d="M1244 3700l-8-17l19 3l7 16z"/><path class="q12" d="M1054 3677l-7 3l19-6l8-3z"/><path class="q0" d="M1007 3693l-7 4l20-6l7-5z"/><path class="q24" d="M1128 3663l-8-4l20-7l7 5z"/><path class="q17" d="M1209 3673l-7-13l19-5l7 13z"/><path class="q23" d="M1348 3771l-9-8l19-6l8 8z"/><path class="q21" d="M1321 3769l-9-10l19-5l8 9z"/><path class="q23" d="M846 3770l-6-8l20-7l7 7z"/><path class="q14" d="M940 3733l-6-1l20-12l6-2z"/><path class="q24" d="M1155 3664l-8-7l20-7l7 7z"/><path class="q10" d="M1251 3718l-7-18l18 2l8 16z"/><path class="q24" d="M1182 3667l-8-10l20-6l8 9z"/><path class="q20" d="M1294 3763l-8-14l18-3l8 13z"/><path class="q21" d="M873 3769l-6-7l20-10l7 6z"/><path class="q17" d="M1081 3671l-7 0l19-6l8 0z"/><path class="q7" d="M920 3748l-6-3l20-13l6 1z"/><path class="q8" d="M1259 3736l-8-18l19 0l8 16z"/><path class="q16" d="M1217 3688l-8-15l19-5l8 15z"/><path class="q12" d="M1034 3684l-7 2l20-6l7-3z"/><path class="q2" d="M987 3702l-7 4l20-9l7-4z"/><path class="q24" d="M1108 3669l-7-4l19-6l8 4z"/><path class="q7" d="M1267 3753l-8-17l19-2l8 15z"/><path class="q23" d="M1329 3778l-8-9l18-6l9 8z"/><path class="q19" d="M900 3763l-6-5l20-13l6 3z"/><path class="q17" d="M1190 3679l-8-12l20-7l7 13z"/><path class="q13" d="M1225 3706l-8-18l19-5l8 17z"/><path class="q21" d="M1302 3775l-8-12l18-4l9 10z"/><path class="q24" d="M1136 3670l-8-7l19-6l8 7z"/><path class="q23" d="M853 3777l-7-7l21-8l6 7z"/><path class="q24" d="M1163 3673l-8-9l19-7l8 10z"/><path class="q4" d="M967 3716l-7 2l20-12l7-4z"/><path class="q4" d="M1232 3724l-7-18l19-6l7 18z"/><path class="q17" d="M1061 3677l-7 0l20-6l7 0z"/><path class="q20" d="M1275 3769l-8-16l19-4l8 14z"/><path class="q22" d="M880 3776l-7-7l21-11l6 5z"/><path class="q16" d="M1198 3695l-8-16l19-6l8 15z"/><path class="q12" d="M1014 3690l-7 3l20-7l7-2z"/><path class="q3" d="M1240 3742l-8-18l19-6l8 18z"/><path class="q6" d="M947 3733l-7 0l20-15l7-2z"/><path class="q24" d="M1088 3675l-7-4l20-6l7 4z"/><path class="q23" d="M1310 3785l-8-10l19-6l8 9z"/><path class="q17" d="M1171 3686l-8-13l19-6l8 12z"/><path class="q14" d="M927 3751l-7-3l20-15l7 0z"/><path class="q13" d="M1205 3712l-7-17l19-7l8 18z"/><path class="q5" d="M1248 3760l-8-18l19-6l8 17z"/><path class="q24" d="M1116 3676l-8-7l20-6l8 7z"/><path class="q21" d="M1283 3782l-8-13l19-6l8 12z"/><path class="q24" d="M1143 3679l-7-9l19-6l8 9z"/><path class="q23" d="M859 3785l-6-8l20-8l7 7z"/><path class="q9" d="M907 3768l-7-5l20-15l7 3z"/><path class="q4" d="M1213 3730l-8-18l20-6l7 18z"/><path class="q17" d="M1041 3684l-7 0l20-7l7 0z"/><path class="q19" d="M1256 3775l-8-15l19-7l8 16z"/><path class="q12" d="M993 3700l-6 2l20-9l7-3z"/><path class="q16" d="M1178 3701l-7-15l19-7l8 16z"/><path class="q3" d="M1221 3749l-8-19l19-6l8 18z"/><path class="q22" d="M886 3783l-6-7l20-13l7 5z"/><path class="q24" d="M1068 3682l-7-5l20-6l7 4z"/><path class="q17" d="M1151 3692l-8-13l20-6l8 13z"/><path class="q23" d="M1291 3791l-8-9l19-7l8 10z"/><path class="q13" d="M1186 3719l-8-18l20-6l7 17z"/><path class="q5" d="M1228 3766l-7-17l19-7l8 18z"/><path class="q24" d="M1096 3682l-8-7l20-6l8 7z"/><path class="q13" d="M973 3716l-6 0l20-14l6-2z"/><path class="q24" d="M1123 3685l-7-9l20-6l7 9z"/><path class="q22" d="M1264 3788l-8-13l19-6l8 13z"/><path class="q23" d="M866 3792l-7-7l21-9l6 7z"/><path class="q4" d="M1194 3737l-8-18l19-7l8 18z"/><path class="q17" d="M1021 3690l-7 0l20-6l7 0z"/><path class="q4" d="M953 3735l-6-2l20-17l6 0z"/><path class="q19" d="M1236 3782l-8-16l20-6l8 15z"/><path class="q3" d="M933 3755l-6-4l20-18l6 2z"/><path class="q16" d="M1159 3708l-8-16l20-6l7 15z"/><path class="q7" d="M913 3774l-6-6l20-17l6 4z"/><path class="q3" d="M1201 3755l-7-18l19-7l8 19z"/><path class="q24" d="M1048 3688l-7-4l20-7l7 5z"/><path class="q22" d="M893 3790l-7-7l21-15l6 6z"/><path class="q17" d="M1131 3698l-8-13l20-6l8 13z"/><path class="q23" d="M1272 3798l-8-10l19-6l8 9z"/><path class="q13" d="M1166 3725l-7-17l19-7l8 18z"/><path class="q5" d="M1209 3773l-8-18l20-6l7 17z"/><path class="q24" d="M1076 3689l-8-7l20-7l8 7z"/><path class="q24" d="M1104 3692l-8-10l20-6l7 9z"/><path class="q22" d="M1244 3795l-8-13l20-7l8 13z"/><path class="q15" d="M1000 3700l-7 0l21-10l7 0z"/><path class="q4" d="M1174 3744l-8-19l20-6l8 18z"/><path class="q21" d="M872 3800l-6-8l20-9l7 7z"/><path class="q19" d="M1217 3789l-8-16l19-7l8 16z"/><path class="q16" d="M1139 3714l-8-16l20-6l8 16z"/><path class="q3" d="M1182 3762l-8-18l20-7l7 18z"/><path class="q12" d="M980 3717l-7-1l20-16l7 0z"/><path class="q24" d="M1028 3694l-7-4l20-6l7 4z"/><path class="q2" d="M960 3738l-7-3l20-19l7 1z"/><path class="q6" d="M940 3760l-7-5l20-20l7 3z"/><path class="q5" d="M920 3780l-7-6l20-19l7 5z"/><path class="q17" d="M1111 3705l-7-13l19-7l8 13z"/><path class="q23" d="M1252 3805l-8-10l20-7l8 10z"/><path class="q13" d="M1146 3732l-7-18l20-6l7 17z"/><path class="q5" d="M1189 3780l-7-18l19-7l8 18z"/><path class="q24" d="M1056 3695l-8-7l20-6l8 7z"/><path class="q24" d="M1083 3698l-7-9l20-7l8 10z"/><path class="q20" d="M900 3797l-7-7l20-16l7 6z"/><path class="q22" d="M1225 3802l-8-13l19-7l8 13z"/><path class="q4" d="M1154 3750l-8-18l20-7l8 19z"/><path class="q19" d="M1197 3796l-8-16l20-7l8 16z"/><path class="q16" d="M1119 3721l-8-16l20-7l8 16z"/><path class="q21" d="M879 3808l-7-8l21-10l7 7z"/><path class="q3" d="M1162 3769l-8-19l20-6l8 18z"/><path class="q18" d="M1008 3705l-8-5l21-10l7 4z"/><path class="q17" d="M1091 3711l-8-13l21-6l7 13z"/><path class="q23" d="M1233 3812l-8-10l19-7l8 10z"/><path class="q13" d="M1126 3738l-7-17l20-7l7 18z"/><path class="q5" d="M1170 3787l-8-18l20-7l7 18z"/><path class="q24" d="M1035 3702l-7-8l20-6l8 7z"/><path class="q24" d="M1063 3705l-7-10l20-6l7 9z"/><path class="q22" d="M1205 3809l-8-13l20-7l8 13z"/><path class="q5" d="M927 3787l-7-7l20-20l7 6z"/><path class="q15" d="M987 3722l-7-5l20-17l8 5z"/><path class="q10" d="M947 3766l-7-6l20-22l7 6z"/><path class="q20" d="M906 3805l-6-8l20-17l7 7z"/><path class="q13" d="M967 3744l-7-6l20-21l7 5z"/><path class="q4" d="M1134 3757l-8-19l20-6l8 18z"/><path class="q19" d="M1177 3803l-7-16l19-7l8 16z"/><path class="q16" d="M1099 3727l-8-16l20-6l8 16z"/><path class="q3" d="M1142 3776l-8-19l20-7l8 19z"/><path class="q21" d="M885 3816l-6-8l21-11l6 8z"/><path class="q18" d="M1015 3713l-7-8l20-11l7 8z"/><path class="q17" d="M1071 3718l-8-13l20-7l8 13z"/><path class="q23" d="M1213 3819l-8-10l20-7l8 10z"/><path class="q13" d="M1106 3745l-7-18l20-6l7 17z"/><path class="q5" d="M1150 3793l-8-17l20-7l8 18z"/><path class="q24" d="M1043 3711l-8-9l21-7l7 10z"/><path class="q22" d="M1185 3816l-8-13l20-7l8 13z"/><path class="q5" d="M934 3795l-7-8l20-21l7 8z"/><path class="q4" d="M1114 3764l-8-19l20-7l8 19z"/><path class="q15" d="M994 3730l-7-8l21-17l7 8z"/><path class="q10" d="M954 3774l-7-8l20-22l7 7z"/><path class="q20" d="M913 3813l-7-8l21-18l7 8z"/><path class="q13" d="M974 3751l-7-7l20-22l7 8z"/><path class="q19" d="M1157 3810l-7-17l20-6l7 16z"/><path class="q16" d="M1078 3734l-7-16l20-7l8 16z"/><path class="q3" d="M1122 3782l-8-18l20-7l8 19z"/><path class="q21" d="M892 3824l-7-8l21-11l7 8z"/><path class="q17" d="M1050 3725l-7-14l20-6l8 13z"/><path class="q18" d="M1022 3722l-7-9l20-11l8 9z"/><path class="q23" d="M1193 3826l-8-10l20-7l8 10z"/><path class="q13" d="M1086 3752l-8-18l21-7l7 18z"/><path class="q5" d="M1129 3800l-7-18l20-6l8 17z"/><path class="q22" d="M1165 3823l-8-13l20-7l8 13z"/><path class="q4" d="M1094 3771l-8-19l20-7l8 19z"/><path class="q5" d="M941 3804l-7-9l20-21l7 9z"/><path class="q15" d="M1002 3739l-8-9l21-17l7 9z"/><path class="q10" d="M961 3783l-7-9l20-23l7 9z"/><path class="q20" d="M920 3821l-7-8l21-18l7 9z"/><path class="q19" d="M1137 3817l-8-17l21-7l7 17z"/><path class="q13" d="M981 3760l-7-9l20-21l8 9z"/><path class="q16" d="M1058 3741l-8-16l21-7l7 16z"/><path class="q3" d="M1101 3789l-7-18l20-7l8 18z"/><path class="q17" d="M1030 3735l-8-13l21-11l7 14z"/><path class="q23" d="M1173 3833l-8-10l20-7l8 10z"/><path class="q21" d="M899 3832l-7-8l21-11l7 8z"/><path class="q13" d="M1066 3759l-8-18l20-7l8 18z"/><path class="q5" d="M1109 3807l-8-18l21-7l7 18z"/><path class="q22" d="M1145 3830l-8-13l20-7l8 13z"/><path class="q16" d="M1009 3751l-7-12l20-17l8 13z"/><path class="q4" d="M1073 3777l-7-18l20-7l8 19z"/><path class="q5" d="M948 3813l-7-9l20-21l7 10z"/><path class="q16" d="M1037 3751l-7-16l20-10l8 16z"/><path class="q6" d="M968 3793l-7-10l20-23l8 11z"/><path class="q0" d="M989 3771l-8-11l21-21l7 12z"/><path class="q19" d="M1117 3824l-8-17l20-7l8 17z"/><path class="q20" d="M927 3829l-7-8l21-17l7 9z"/><path class="q3" d="M1081 3796l-8-19l21-6l7 18z"/><path class="q13" d="M1045 3768l-8-17l21-10l8 18z"/><path class="q23" d="M1153 3840l-8-10l20-7l8 10z"/><path class="q11" d="M1017 3766l-8-15l21-16l7 16z"/><path class="q5" d="M1089 3814l-8-18l20-7l8 18z"/><path class="q21" d="M906 3840l-7-8l21-11l7 8z"/><path class="q22" d="M1125 3837l-8-13l20-7l8 13z"/><path class="q4" d="M996 3784l-7-13l20-20l8 15z"/><path class="q1" d="M1053 3786l-8-18l21-9l7 18z"/><path class="q3" d="M975 3804l-7-11l21-22l7 13z"/><path class="q7" d="M955 3822l-7-9l20-20l7 11z"/><path class="q19" d="M1096 3831l-7-17l20-7l8 17z"/><path class="q2" d="M1024 3782l-7-16l20-15l8 17z"/><path class="q3" d="M1060 3805l-7-19l20-9l8 19z"/><path class="q20" d="M934 3838l-7-9l21-16l7 9z"/><path class="q10" d="M1004 3798l-8-14l21-18l7 16z"/><path class="q23" d="M1133 3848l-8-11l20-7l8 10z"/><path class="q10" d="M1032 3799l-8-17l21-14l8 18z"/><path class="q5" d="M1068 3822l-8-17l21-9l8 18z"/><path class="q8" d="M983 3816l-8-12l21-20l8 14z"/><path class="q22" d="M1104 3845l-8-14l21-7l8 13z"/><path class="q21" d="M913 3848l-7-8l21-11l7 9z"/><path class="q9" d="M962 3832l-7-10l20-18l8 12z"/><path class="q8" d="M1040 3816l-8-17l21-13l7 19z"/><path class="q3" d="M1011 3813l-7-15l20-16l8 17z"/><path class="q19" d="M1076 3838l-8-16l21-8l7 17z"/><path class="q22" d="M941 3847l-7-9l21-16l7 10z"/><path class="q5" d="M990 3828l-7-12l21-18l7 15z"/><path class="q7" d="M1047 3832l-7-16l20-11l8 17z"/><path class="q23" d="M1112 3855l-8-10l21-8l8 11z"/><path class="q5" d="M1019 3828l-8-15l21-14l8 17z"/><path class="q22" d="M1084 3852l-8-14l20-7l8 14z"/><path class="q19" d="M969 3843l-7-11l21-16l7 12z"/><path class="q23" d="M920 3856l-7-8l21-10l7 9z"/><path class="q20" d="M1055 3847l-8-15l21-10l8 16z"/><path class="q9" d="M998 3841l-8-13l21-15l8 15z"/><path class="q9" d="M1026 3842l-7-14l21-12l7 16z"/><path class="q22" d="M948 3855l-7-8l21-15l7 11z"/><path class="q23" d="M1091 3862l-7-10l20-7l8 10z"/><path class="q21" d="M1063 3860l-8-13l21-9l8 14z"/><path class="q20" d="M977 3853l-8-10l21-15l8 13z"/><path class="q20" d="M1034 3856l-8-14l21-10l8 15z"/><path class="q20" d="M1005 3853l-7-12l21-13l7 14z"/><path class="q23" d="M927 3865l-7-9l21-9l7 8z"/><path class="q21" d="M955 3864l-7-9l21-12l8 10z"/><path class="q23" d="M1071 3870l-8-10l21-8l7 10z"/><path class="q22" d="M984 3864l-7-11l21-12l7 12z"/><path class="q21" d="M1042 3868l-8-12l21-9l8 13z"/><path class="q22" d="M1013 3865l-8-12l21-11l8 14z"/><path class="q23" d="M934 3873l-7-8l21-10l7 9z"/><path class="q21" d="M963 3873l-8-9l22-11l7 11z"/><path class="q21" d="M992 3874l-8-10l21-11l8 12z"/><path class="q23" d="M1049 3877l-7-9l21-8l8 10z"/><path class="q21" d="M1021 3875l-8-10l21-9l8 12z"/><path class="q23" d="M941 3882l-7-9l21-9l8 9z"/><path class="q23" d="M970 3882l-7-9l21-9l8 10z"/><path class="q23" d="M999 3883l-7-9l21-9l8 10z"/><path class="q23" d="M1028 3885l-7-10l21-7l7 9z"/><path class="q23" d="M948 3890l-7-8l22-9l7 9z"/><path class="q23" d="M978 3891l-8-9l22-8l7 9z"/><path class="q23" d="M1007 3892l-8-9l22-8l7 10z"/><path class="q23" d="M956 3899l-8-9l22-8l8 9z"/><path class="q23" d="M985 3900l-7-9l21-8l8 9z"/><path class="q23" d="M963 3908l-7-9l22-8l7 9z"/></g>
<line x1="418.1" y1="1931.3" x2="483.9" y2="2014" stroke="#000" stroke-width="0.9"/>
<line x1="483.9" y1="2014" x2="678.3" y2="1940.2" stroke="#000" stroke-width="0.9"/>
<line x1="483.9" y1="2014" x2="479.2" y2="1888.9" stroke="#000" stroke-width="0.9"/>
<line x1="412.1" y1="1931.3" x2="418.1" y2="1931.3" stroke="#000" stroke-width="0.8"/>
<text x="411.6" y="1934.6" font-size="9" text-anchor="end">−40</text>
<line x1="411.1" y1="1917.3" x2="417.1" y2="1917.3" stroke="#000" stroke-width="0.8"/>
<text x="410.6" y="1920.6" font-size="9" text-anchor="end">−30</text>
<line x1="410" y1="1903" x2="416" y2="1903" stroke="#000" stroke-width="0.8"/>
<text x="409.5" y="1906.3" font-size="9" text-anchor="end">−20</text>
<line x1="408.9" y1="1888.4" x2="414.9" y2="1888.4" stroke="#000" stroke-width="0.8"/>
<text x="408.4" y="1891.7" font-size="9" text-anchor="end">−10</text>
<line x1="407.7" y1="1873.6" x2="413.7" y2="1873.6" stroke="#000" stroke-width="0.8"/>
<text x="407.2" y="1876.9" font-size="9" text-anchor="end">0</text>
<line x1="406.6" y1="1858.6" x2="412.6" y2="1858.6" stroke="#000" stroke-width="0.8"/>
<text x="406.1" y="1861.9" font-size="9" text-anchor="end">10</text>
<line x1="405.4" y1="1843.2" x2="411.4" y2="1843.2" stroke="#000" stroke-width="0.8"/>
<text x="404.9" y="1846.5" font-size="9" text-anchor="end">20</text>
<line x1="404.2" y1="1827.6" x2="410.2" y2="1827.6" stroke="#000" stroke-width="0.8"/>
<text x="403.7" y="1830.9" font-size="9" text-anchor="end">30</text>
<line x1="403" y1="1811.7" x2="409" y2="1811.7" stroke="#000" stroke-width="0.8"/>
<text x="402.5" y="1815" font-size="9" text-anchor="end">40</text>
<line x1="464.2" y1="1989.3" x2="459.2" y2="1994.3" stroke="#000" stroke-width="0.8"/>
<text x="453.7" y="2002.8" font-size="9.5" text-anchor="middle">1</text>
<line x1="443.7" y1="1963.4" x2="438.7" y2="1968.4" stroke="#000" stroke-width="0.8"/>
<text x="433.2" y="1976.9" font-size="9.5" text-anchor="middle">1.5</text>
<line x1="425.4" y1="1940.5" x2="420.4" y2="1945.5" stroke="#000" stroke-width="0.8"/>
<text x="414.9" y="1954" font-size="9.5" text-anchor="middle">2</text>
<line x1="521.3" y1="1999.8" x2="522.3" y2="2005.8" stroke="#000" stroke-width="0.8"/>
<text x="524.3" y="2015.3" font-size="9.5" text-anchor="middle">0.6</text>
<line x1="561.5" y1="1984.6" x2="562.5" y2="1990.6" stroke="#000" stroke-width="0.8"/>
<text x="564.5" y="2000.1" font-size="9.5" text-anchor="middle">1.25</text>
<line x1="600.4" y1="1969.8" x2="601.4" y2="1975.8" stroke="#000" stroke-width="0.8"/>
<text x="603.4" y="1985.3" font-size="9.5" text-anchor="middle">2.5</text>
<line x1="638.1" y1="1955.4" x2="639.1" y2="1961.4" stroke="#000" stroke-width="0.8"/>
<text x="641.1" y="1970.9" font-size="9.5" text-anchor="middle">5</text>
<line x1="672.9" y1="1942.2" x2="673.9" y2="1948.2" stroke="#000" stroke-width="0.8"/>
<text x="675.9" y="1957.7" font-size="9.5" text-anchor="middle">10</text>
<text x="423.5" y="1995.8" font-size="11" text-anchor="middle" transform="rotate(51.5 423.5 1995.8)">BLU−222 (uM)</text>
<text x="593" y="2005.6" font-size="11" text-anchor="middle" transform="rotate(-20.8 593 2005.6)">Palbociclib (uM)</text>
<rect x="137.6" y="2211.5" width="44" height="37.6" fill="#131B8E"/>
<rect x="181.3" y="2211.5" width="44" height="37.6" fill="#3D1FA3"/>
<rect x="225" y="2211.5" width="44" height="37.6" fill="#5523AE"/>
<rect x="268.8" y="2211.5" width="44" height="37.6" fill="#5523AE"/>
<rect x="312.5" y="2211.5" width="44" height="37.6" fill="#C04AA8"/>
<rect x="356.2" y="2211.5" width="44" height="37.6" fill="#CE5A9C"/>
<rect x="399.9" y="2211.5" width="44" height="37.6" fill="#E57C7A"/>
<rect x="443.6" y="2211.5" width="44" height="37.6" fill="#E67D7A"/>
<rect x="487.4" y="2211.5" width="44" height="37.6" fill="#F8A24F"/>
<rect x="531.1" y="2211.5" width="44" height="37.6" fill="#F0F22E"/>
<rect x="137.6" y="2211.5" width="437.2" height="37.6" fill="none" stroke="#000" stroke-width="3.6"/>
<text x="66.2" y="2239.7" font-size="26" font-weight="bold" textLength="55.6" lengthAdjust="spacingAndGlyphs">HSA</text>
<line x1="124" y1="2230.3" x2="137.6" y2="2230.3" stroke="#000" stroke-width="3"/>
<text x="161.5" y="2194" font-size="24" font-weight="bold" transform="rotate(-45 161.5 2194)">BT20</text>
<text x="205.2" y="2194" font-size="24" font-weight="bold" transform="rotate(-45 205.2 2194)">MDA-MB-231</text>
<text x="248.9" y="2194" font-size="24" font-weight="bold" transform="rotate(-45 248.9 2194)">MCF7</text>
<text x="292.6" y="2194" font-size="24" font-weight="bold" transform="rotate(-45 292.6 2194)">T47D</text>
<text x="336.3" y="2194" font-size="24" font-weight="bold" transform="rotate(-45 336.3 2194)">MDA-MB-231 PR</text>
<text x="380.1" y="2194" font-size="24" font-weight="bold" transform="rotate(-45 380.1 2194)">BT20 PR</text>
<text x="423.8" y="2194" font-size="24" font-weight="bold" transform="rotate(-45 423.8 2194)">MCF7 PR1.2</text>
<text x="467.5" y="2194" font-size="24" font-weight="bold" transform="rotate(-45 467.5 2194)">T47D PR1.2</text>
<text x="511.2" y="2194" font-size="24" font-weight="bold" transform="rotate(-45 511.2 2194)">HCC1806</text>
<text x="554.9" y="2194" font-size="24" font-weight="bold" transform="rotate(-45 554.9 2194)">MDA-MB-157</text>
<line x1="142.3" y1="2271.4" x2="301.3" y2="2271.4" stroke="#000" stroke-width="3"/>
<line x1="142.3" y1="2262.4" x2="142.3" y2="2280.4" stroke="#000" stroke-width="3"/>
<line x1="301.3" y1="2262.4" x2="301.3" y2="2280.4" stroke="#000" stroke-width="3"/>
<line x1="306.8" y1="2271.4" x2="579" y2="2271.4" stroke="#000" stroke-width="3"/>
<line x1="306.8" y1="2262.4" x2="306.8" y2="2280.4" stroke="#000" stroke-width="3"/>
<line x1="579" y1="2262.4" x2="579" y2="2280.4" stroke="#000" stroke-width="3"/>
<line x1="490.6" y1="2316.2" x2="579" y2="2316.2" stroke="#000" stroke-width="3"/>
<line x1="490.6" y1="2308.2" x2="490.6" y2="2324.2" stroke="#000" stroke-width="3"/>
<line x1="579" y1="2308.2" x2="579" y2="2324.2" stroke="#000" stroke-width="3"/>
<text x="178.6" y="2301.3" font-size="25.8" textLength="96" lengthAdjust="spacingAndGlyphs">Parental</text>
<text x="353.8" y="2301.3" font-size="25.8" textLength="175" lengthAdjust="spacingAndGlyphs">Palbo-resistant</text>
<text x="515" y="2343.2" font-size="25.8" textLength="61" lengthAdjust="spacingAndGlyphs">TNBC</text>
<text x="515" y="2371.8" font-size="25.8" textLength="127.4" lengthAdjust="spacingAndGlyphs">CCNE1 amp</text>
<defs><linearGradient id="plasma" x1="0" x2="1" y1="0" y2="0"><stop offset="0" stop-color="#171A8E"/><stop offset="0.09" stop-color="#3A1C9E"/><stop offset="0.27" stop-color="#7A21A9"/><stop offset="0.46" stop-color="#BE3590"/><stop offset="0.58" stop-color="#DE6268"/><stop offset="0.66" stop-color="#E98078"/><stop offset="0.83" stop-color="#F8B096"/><stop offset="0.9" stop-color="#F5CA6E"/><stop offset="1" stop-color="#F0F22D"/></linearGradient></defs>
<rect x="234.2" y="2368" width="256.4" height="31.6" fill="url(#plasma)" stroke="#000" stroke-width="3"/>
<line x1="258.1" y1="2368" x2="258.1" y2="2373.5" stroke="#000" stroke-width="2.2"/>
<line x1="258.1" y1="2394" x2="258.1" y2="2399.6" stroke="#000" stroke-width="2.2"/>
<line x1="305.1" y1="2368" x2="305.1" y2="2373.5" stroke="#000" stroke-width="2.2"/>
<line x1="305.1" y1="2394" x2="305.1" y2="2399.6" stroke="#000" stroke-width="2.2"/>
<line x1="352.1" y1="2368" x2="352.1" y2="2373.5" stroke="#000" stroke-width="2.2"/>
<line x1="352.1" y1="2394" x2="352.1" y2="2399.6" stroke="#000" stroke-width="2.2"/>
<line x1="399.1" y1="2368" x2="399.1" y2="2373.5" stroke="#000" stroke-width="2.2"/>
<line x1="399.1" y1="2394" x2="399.1" y2="2399.6" stroke="#000" stroke-width="2.2"/>
<line x1="446.2" y1="2368" x2="446.2" y2="2373.5" stroke="#000" stroke-width="2.2"/>
<line x1="446.2" y1="2394" x2="446.2" y2="2399.6" stroke="#000" stroke-width="2.2"/>
<text x="258.1" y="2432" font-size="20" text-anchor="middle">5</text>
<text x="305.1" y="2432" font-size="20" text-anchor="middle">10</text>
<text x="352.1" y="2432" font-size="20" text-anchor="middle">15</text>
<text x="399.1" y="2432" font-size="20" text-anchor="middle">20</text>
<text x="446.2" y="2432" font-size="20" text-anchor="middle">25</text>
<line x1="245" y1="2458.5" x2="478" y2="2458.5" stroke="#000" stroke-width="3"/>
<polygon points="230.8,2458.5 250,2451.8 250,2465.2" fill="#000"/>
<polygon points="491.5,2458.5 472,2451.8 472,2465.2" fill="#000"/>
<line x1="304.3" y1="2445.7" x2="304.3" y2="2472.2" stroke="#000" stroke-width="3.5"/>
<text x="203" y="2485" font-size="22.4" textLength="89.7" lengthAdjust="spacingAndGlyphs">Additivity</text>
<text x="361" y="2485" font-size="22.4" textLength="106" lengthAdjust="spacingAndGlyphs">Synergism</text>
<text transform="translate(6.2 42.4) scale(1.022 1)" font-size="60.4" font-weight="bold">A</text>
<text transform="translate(621.5 41.8) scale(0.954 1)" font-size="59.1" font-weight="bold">B</text>
<text transform="translate(1248.8 41.9) scale(0.938 1)" font-size="58.9" font-weight="bold">C</text>
<text transform="translate(8 417.6) scale(0.943 1)" font-size="60.1" font-weight="bold">D</text>
<text transform="translate(8.1 841.8) scale(0.942 1)" font-size="59.1" font-weight="bold">E</text>
<text transform="translate(7.9 1253.1) scale(0.936 1)" font-size="59.6" font-weight="bold">J</text>
<text transform="translate(-2 1643.8) scale(0.962 1)" font-size="59.4" font-weight="bold">M</text>
<text transform="translate(13.7 2154.8) scale(0.940 1)" font-size="59.9" font-weight="bold">P</text>
<text transform="translate(756 564.5) scale(0.939 1)" font-size="59.9" font-weight="bold">F</text>
<text transform="translate(756 1040) scale(0.949 1)" font-size="59.4" font-weight="bold">H</text>
<text transform="translate(755.6 1575) scale(0.976 1)" font-size="59.4" font-weight="bold">K</text>
<text transform="translate(756.6 2117.7) scale(0.959 1)" font-size="59" font-weight="bold">N</text>
<text transform="translate(1280.7 564.7) scale(0.937 1)" font-size="60.1" font-weight="bold">G</text>
<text transform="translate(1280 1040) scale(1.022 1)" font-size="59.4" font-weight="bold">I</text>
<text transform="translate(1280.7 1574.8) scale(0.955 1)" font-size="59.1" font-weight="bold">L</text>
<text transform="translate(1281.4 2118.1) scale(0.950 1)" font-size="60.1" font-weight="bold">O</text>
</svg></body></html>
